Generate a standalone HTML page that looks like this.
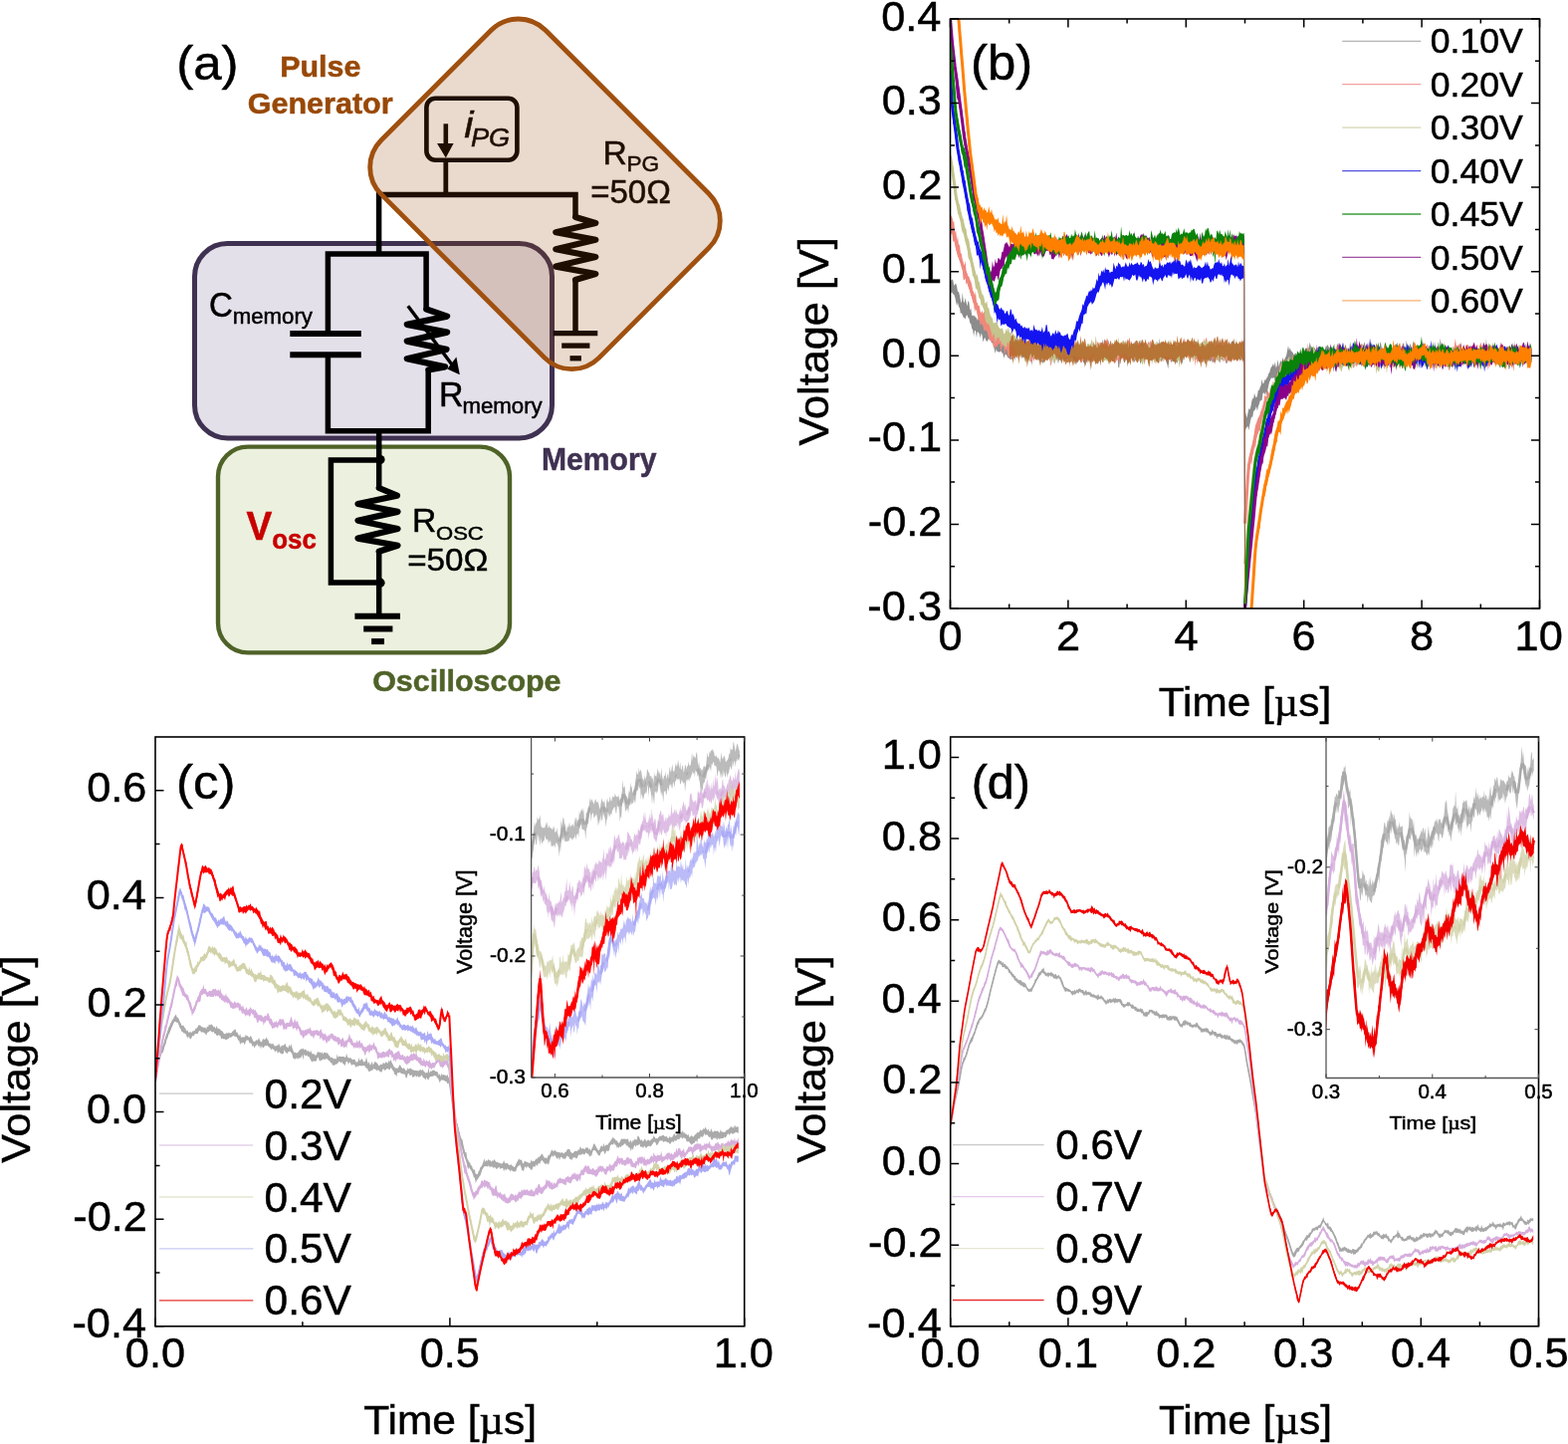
<!DOCTYPE html>
<html><head><meta charset="utf-8"><title>Figure</title>
<style>html,body{margin:0;padding:0;background:#fff;} svg{display:block;}</style>
</head><body>
<svg width="1575" height="1450" viewBox="0 0 1575 1450">
<rect width="1575" height="1450" fill="#fff"/>
<rect x="195.5" y="244.6" width="359" height="195.3" rx="33" ry="33" fill="#E4E0EA" stroke="#3F3151" stroke-width="5"/>
<rect x="219" y="448.6" width="293" height="206.8" rx="30" ry="30" fill="#EBF1DE" stroke="#4F6228" stroke-width="4.4"/>
<path d="M380.6,254.9 L380.6,195.5 L578,195.5 L578,218.5" fill="none" stroke="#000" stroke-width="5.5" stroke-linejoin="miter" stroke-linecap="butt"/>
<rect x="428.4" y="98.8" width="91" height="62" rx="9" ry="9" fill="none" stroke="#000" stroke-width="4.6"/>
<path d="M447.8,160 L447.8,195.5" fill="none" stroke="#000" stroke-width="4.8" stroke-linejoin="miter" stroke-linecap="butt"/>
<path d="M447.8,124.3 L447.8,146" fill="none" stroke="#000" stroke-width="4.6" stroke-linejoin="miter" stroke-linecap="butt"/>
<path d="M439,144.1 L455.6,144.1 L447.8,158.5 Z" fill="#000"/>
<polyline points="578,218 598.3,223.9 558.3,233.2 598.3,240.8 558.3,250.3 598.3,258 558.3,267.6 598.3,275 578,281" fill="none" stroke="#000" stroke-width="6.2" stroke-linejoin="round" stroke-linecap="round"/>
<path d="M578,280 L578,334.7" fill="none" stroke="#000" stroke-width="5.5" stroke-linejoin="miter" stroke-linecap="butt"/>
<path d="M555.7,334.7 L600.3,334.7" fill="none" stroke="#000" stroke-width="5.3" stroke-linejoin="miter" stroke-linecap="butt"/>
<path d="M564.2,347.1 L592.4,347.1" fill="none" stroke="#000" stroke-width="5.3" stroke-linejoin="miter" stroke-linecap="butt"/>
<path d="M572.5,359.8 L583.9,359.8" fill="none" stroke="#000" stroke-width="5.3" stroke-linejoin="miter" stroke-linecap="butt"/>
<path d="M329.4,334.9 L329.4,254.9 L428.1,254.9 L428.1,310.5" fill="none" stroke="#000" stroke-width="5.5" stroke-linejoin="miter" stroke-linecap="butt"/>
<path d="M329.4,356.2 L329.4,432.7 L430.2,432.7 L430.2,370.5" fill="none" stroke="#000" stroke-width="5.5" stroke-linejoin="miter" stroke-linecap="butt"/>
<path d="M291.3,334.9 L362.8,334.9" fill="none" stroke="#000" stroke-width="6" stroke-linejoin="miter" stroke-linecap="butt"/>
<path d="M291.3,356.2 L362.8,356.2" fill="none" stroke="#000" stroke-width="6" stroke-linejoin="miter" stroke-linecap="butt"/>
<polyline points="428.3,310.5 449.1,317.6 408.8,325.9 449.1,333.6 408.8,342.6 448.5,350.9 408.8,360.3 447,368.4 430.5,371.4" fill="none" stroke="#000" stroke-width="6.2" stroke-linejoin="round" stroke-linecap="round"/>
<path d="M409.8,307.2 L456.5,369.5" fill="none" stroke="#000" stroke-width="3.4" stroke-linejoin="miter" stroke-linecap="butt"/>
<path d="M461.8,376.2 L449.2,370.6 L458.4,358.6 Z" fill="#000"/>
<path d="M380.7,432.7 L380.7,490.5" fill="none" stroke="#000" stroke-width="5.5" stroke-linejoin="miter" stroke-linecap="butt"/>
<path d="M380.7,462 L332.4,462 L332.4,585 L380.7,585" fill="none" stroke="#000" stroke-width="5.5" stroke-linejoin="miter" stroke-linecap="butt"/>
<polyline points="380.7,490 398.9,497.7 359.5,506 399.5,513.9 359.5,522.7 399.5,531 359.5,540.6 399.5,547.7 380.7,553.8" fill="none" stroke="#000" stroke-width="6.2" stroke-linejoin="round" stroke-linecap="round"/>
<path d="M380.7,553 L380.7,618.8" fill="none" stroke="#000" stroke-width="5.5" stroke-linejoin="miter" stroke-linecap="butt"/>
<circle cx="382" cy="461.5" r="4.6" fill="#000"/>
<circle cx="382" cy="585.2" r="4.6" fill="#000"/>
<path d="M356.4,618.8 L402,618.8" fill="none" stroke="#000" stroke-width="6" stroke-linejoin="miter" stroke-linecap="butt"/>
<path d="M365.2,631.5 L394.4,631.5" fill="none" stroke="#000" stroke-width="6" stroke-linejoin="miter" stroke-linecap="butt"/>
<path d="M373.1,644.1 L386,644.1" fill="none" stroke="#000" stroke-width="6" stroke-linejoin="miter" stroke-linecap="butt"/>
<text transform="matrix(0.51091 0 0 0.48449 177.13 79.63)" font-family="'Liberation Sans', Arial, sans-serif" font-weight="normal" font-style="normal" font-size="100" fill="#000" stroke="#000" stroke-width="1.005">(a)</text>
<text transform="matrix(0.30448 0 0 0.30068 281.22 77.20)" font-family="'Liberation Sans', Arial, sans-serif" font-weight="bold" font-style="normal" font-size="100" fill="#984807" stroke="#984807" stroke-width="1.652">Pulse</text>
<text transform="matrix(0.30519 0 0 0.29718 248.78 113.50)" font-family="'Liberation Sans', Arial, sans-serif" font-weight="bold" font-style="normal" font-size="100" fill="#984807" stroke="#984807" stroke-width="1.660">Generator</text>
<text transform="matrix(0.41304 0 0 0.37793 466.28 137.60)" font-family="'Liberation Sans', Arial, sans-serif" font-weight="normal" font-style="italic" font-size="100" fill="#000" stroke="#000" stroke-width="1.264">i</text>
<text transform="matrix(0.27226 0 0 0.26620 472.88 146.73)" font-family="'Liberation Sans', Arial, sans-serif" font-weight="normal" font-style="italic" font-size="100" fill="#000" stroke="#000" stroke-width="1.857">PG</text>
<text transform="matrix(0.33613 0 0 0.33623 605.41 164.60)" font-family="'Liberation Sans', Arial, sans-serif" font-weight="normal" font-style="normal" font-size="100" fill="#000" stroke="#000" stroke-width="1.487">R</text>
<text transform="matrix(0.22636 0 0 0.21408 629.49 172.29)" font-family="'Liberation Sans', Arial, sans-serif" font-weight="normal" font-style="normal" font-size="100" fill="#000" stroke="#000" stroke-width="2.270">PG</text>
<text transform="matrix(0.33064 0 0 0.32676 593.15 203.67)" font-family="'Liberation Sans', Arial, sans-serif" font-weight="normal" font-style="normal" font-size="100" fill="#000" stroke="#000" stroke-width="1.521">=50Ω</text>
<text transform="matrix(0.33071 0 0 0.34789 209.95 317.65)" font-family="'Liberation Sans', Arial, sans-serif" font-weight="normal" font-style="normal" font-size="100" fill="#000" stroke="#000" stroke-width="1.474">C</text>
<text transform="matrix(0.22228 0 0 0.22533 233.66 324.87)" font-family="'Liberation Sans', Arial, sans-serif" font-weight="normal" font-style="normal" font-size="100" fill="#000" stroke="#000" stroke-width="2.234">memory</text>
<text transform="matrix(0.33950 0 0 0.34203 440.88 407.60)" font-family="'Liberation Sans', Arial, sans-serif" font-weight="normal" font-style="normal" font-size="100" fill="#000" stroke="#000" stroke-width="1.467">R</text>
<text transform="matrix(0.22228 0 0 0.22000 464.46 414.88)" font-family="'Liberation Sans', Arial, sans-serif" font-weight="normal" font-style="normal" font-size="100" fill="#000" stroke="#000" stroke-width="2.261">memory</text>
<text transform="matrix(0.30093 0 0 0.30667 544.04 472.26)" font-family="'Liberation Sans', Arial, sans-serif" font-weight="bold" font-style="normal" font-size="100" fill="#3F3151" stroke="#3F3151" stroke-width="1.646">Memory</text>
<text transform="matrix(0.38626 0 0 0.40725 247.41 541.70)" font-family="'Liberation Sans', Arial, sans-serif" font-weight="bold" font-style="normal" font-size="100" fill="#C80000" stroke="#C80000" stroke-width="1.260">V</text>
<text transform="matrix(0.25818 0 0 0.27091 273.27 551.43)" font-family="'Liberation Sans', Arial, sans-serif" font-weight="bold" font-style="normal" font-size="100" fill="#C80000" stroke="#C80000" stroke-width="1.890">osc</text>
<text transform="matrix(0.33613 0 0 0.32754 414.11 534.30)" font-family="'Liberation Sans', Arial, sans-serif" font-weight="normal" font-style="normal" font-size="100" fill="#000" stroke="#000" stroke-width="1.507">R</text>
<text transform="matrix(0.22062 0 0 0.19155 438.01 542.01)" font-family="'Liberation Sans', Arial, sans-serif" font-weight="normal" font-style="normal" font-size="100" fill="#000" stroke="#000" stroke-width="2.426">OSC</text>
<text transform="matrix(0.33234 0 0 0.32254 409.14 573.38)" font-family="'Liberation Sans', Arial, sans-serif" font-weight="normal" font-style="normal" font-size="100" fill="#000" stroke="#000" stroke-width="1.527">=50Ω</text>
<text transform="matrix(0.30423 0 0 0.29840 374.18 694.23)" font-family="'Liberation Sans', Arial, sans-serif" font-weight="bold" font-style="normal" font-size="100" fill="#4F6228" stroke="#4F6228" stroke-width="1.659">Oscilloscope</text>
<rect x="-154.6" y="-116.6" width="309.2" height="233.2" rx="38.5" ry="38.5" transform="translate(547.5 194.8) rotate(45)" fill="rgb(151,72,6)" fill-opacity="0.2" stroke="#A0500F" stroke-width="4.8"/>
<defs>
<clipPath id="cb"><rect x="954.5" y="19" width="592" height="592"/></clipPath>
<clipPath id="cc"><rect x="156" y="740" width="591.7" height="591.8"/></clipPath>
<clipPath id="cd"><rect x="954.7" y="740" width="590.8" height="591.8"/></clipPath>
<clipPath id="cci"><rect x="533.6" y="740.5" width="214.1" height="341.5"/></clipPath>
<clipPath id="cdi"><rect x="1332" y="740.6" width="213.5" height="341.9"/></clipPath>
</defs>
<g clip-path="url(#cb)">
<polygon points="954.5,281.7 955.4,281.6 956.4,280.6 957.3,281.5 958.3,287.0 959.2,285.4 960.2,284.7 961.1,287.5 962.0,292.9 963.0,292.7 963.9,296.5 964.9,302.1 965.8,304.7 966.8,293.8 967.7,302.2 968.6,304.6 969.6,299.1 970.5,303.3 971.5,307.5 972.4,302.0 973.4,303.6 974.3,311.7 975.2,309.2 976.2,317.0 977.1,316.5 978.1,317.8 979.0,316.6 980.0,319.2 980.9,319.0 981.8,321.8 982.8,319.0 983.7,321.6 984.7,320.0 985.6,319.8 986.6,317.8 987.5,322.0 988.4,324.0 989.4,327.6 990.3,329.3 991.3,329.6 992.2,326.6 993.2,328.3 994.1,330.7 995.0,331.3 996.0,330.0 996.9,328.8 997.9,336.4 998.8,329.9 999.8,337.6 1000.7,340.1 1001.6,341.1 1002.6,342.0 1003.5,333.9 1004.5,342.5 1005.4,340.9 1006.4,343.5 1007.3,339.3 1008.3,340.6 1009.2,337.9 1010.1,344.4 1011.1,344.3 1012.0,341.7 1013.0,344.3 1013.9,348.5 1014.9,346.8 1015.8,345.5 1016.7,345.0 1017.7,346.6 1018.6,346.2 1019.6,344.1 1020.5,343.7 1021.5,344.4 1022.4,339.6 1023.3,340.8 1024.3,343.7 1025.2,341.4 1026.2,340.5 1027.1,340.3 1028.1,346.4 1029.0,343.6 1029.9,344.6 1030.9,346.1 1031.8,346.8 1032.8,346.7 1033.7,338.9 1034.7,346.1 1035.6,345.1 1036.5,348.6 1037.5,341.4 1038.4,343.4 1039.4,343.9 1040.3,344.1 1041.3,341.8 1042.2,344.2 1043.1,348.4 1044.1,349.2 1045.0,349.8 1046.0,350.4 1046.9,346.7 1047.9,347.9 1048.8,347.0 1049.7,343.8 1050.7,344.7 1051.6,346.2 1052.6,344.1 1053.5,345.3 1054.5,348.7 1055.4,346.9 1056.3,342.9 1057.3,345.4 1058.2,344.8 1059.2,347.7 1060.1,343.5 1061.1,343.5 1062.0,346.6 1062.9,343.5 1063.9,345.0 1064.8,346.8 1065.8,348.0 1066.7,349.0 1067.7,344.8 1068.6,348.9 1069.5,347.7 1070.5,343.9 1071.4,348.0 1072.4,349.2 1073.3,347.8 1074.3,345.4 1075.2,340.3 1076.1,342.7 1077.1,343.6 1078.0,345.1 1079.0,343.0 1079.9,349.4 1080.9,348.7 1081.8,346.4 1082.7,348.9 1083.7,347.0 1084.6,347.4 1085.6,347.8 1086.5,348.1 1087.5,349.4 1088.4,347.9 1089.3,350.5 1090.3,348.4 1091.2,350.9 1092.2,348.4 1093.1,349.3 1094.1,347.0 1095.0,348.3 1095.9,344.3 1096.9,343.0 1097.8,349.5 1098.8,349.1 1099.7,346.0 1100.7,343.4 1101.6,349.7 1102.5,346.8 1103.5,348.4 1104.4,348.0 1105.4,347.2 1106.3,347.4 1107.3,340.5 1108.2,347.2 1109.2,340.2 1110.1,342.4 1111.0,342.3 1112.0,342.7 1112.9,341.2 1113.9,343.9 1114.8,347.1 1115.8,347.3 1116.7,347.5 1117.6,346.5 1118.6,347.9 1119.5,347.2 1120.5,348.4 1121.4,342.3 1122.4,344.2 1123.3,347.7 1124.2,346.9 1125.2,345.4 1126.1,349.2 1127.1,345.8 1128.0,346.6 1129.0,348.7 1129.9,349.0 1130.8,341.5 1131.8,346.5 1132.7,348.6 1133.7,342.4 1134.6,345.9 1135.6,346.8 1136.5,347.5 1137.4,345.7 1138.4,347.1 1139.3,342.8 1140.3,347.9 1141.2,347.6 1142.2,345.5 1143.1,347.2 1144.0,341.8 1145.0,344.1 1145.9,346.1 1146.9,342.0 1147.8,344.9 1148.8,346.1 1149.7,345.4 1150.6,342.2 1151.6,346.6 1152.5,345.9 1153.5,345.2 1154.4,344.3 1155.4,345.2 1156.3,342.3 1157.2,349.2 1158.2,342.1 1159.1,347.0 1160.1,349.2 1161.0,347.2 1162.0,349.8 1162.9,349.8 1163.8,347.8 1164.8,339.5 1165.7,349.9 1166.7,342.5 1167.6,347.5 1168.6,349.6 1169.5,349.5 1170.4,347.9 1171.4,345.3 1172.3,346.9 1173.3,346.8 1174.2,345.5 1175.2,347.4 1176.1,345.0 1177.0,347.1 1178.0,349.8 1178.9,349.7 1179.9,349.4 1180.8,349.5 1181.8,349.3 1182.7,347.6 1183.6,349.2 1184.6,344.4 1185.5,346.5 1186.5,346.4 1187.4,344.5 1188.4,347.1 1189.3,344.0 1190.2,346.7 1191.2,343.3 1192.1,346.4 1193.1,347.0 1194.0,342.7 1195.0,346.2 1195.9,347.1 1196.8,345.8 1197.8,348.0 1198.7,347.8 1199.7,345.1 1200.6,348.2 1201.6,347.7 1202.5,342.0 1203.4,347.8 1204.4,348.7 1205.3,350.3 1206.3,343.7 1207.2,350.3 1208.2,345.2 1209.1,346.7 1210.1,346.9 1211.0,348.8 1211.9,349.8 1212.9,345.3 1213.8,349.9 1214.8,341.9 1215.7,350.2 1216.7,347.0 1217.6,349.2 1218.5,342.8 1219.5,342.2 1220.4,348.3 1221.4,349.0 1222.3,348.5 1223.3,346.4 1224.2,350.0 1225.1,350.3 1226.1,344.2 1227.0,346.7 1228.0,348.7 1228.9,346.1 1229.9,347.4 1230.8,348.6 1231.7,349.0 1232.7,348.6 1233.6,347.0 1234.6,348.8 1235.5,349.2 1236.5,343.9 1237.4,343.3 1238.3,341.6 1239.3,344.0 1240.2,345.6 1241.2,348.8 1242.1,346.4 1243.1,349.2 1244.0,344.9 1244.9,350.0 1245.9,342.0 1246.8,348.2 1247.8,344.9 1248.7,343.2 1249.7,344.9 1249.7,363.3 1248.7,359.9 1247.8,357.3 1246.8,361.3 1245.9,361.3 1244.9,360.0 1244.0,361.2 1243.1,362.0 1242.1,360.6 1241.2,357.4 1240.2,360.4 1239.3,356.8 1238.3,357.1 1237.4,358.4 1236.5,358.6 1235.5,363.1 1234.6,362.4 1233.6,361.0 1232.7,364.8 1231.7,364.6 1230.8,363.1 1229.9,360.0 1228.9,362.3 1228.0,361.5 1227.0,360.9 1226.1,360.5 1225.1,364.8 1224.2,361.9 1223.3,358.9 1222.3,358.6 1221.4,358.6 1220.4,362.0 1219.5,364.5 1218.5,363.6 1217.6,360.9 1216.7,361.7 1215.7,363.4 1214.8,361.8 1213.8,359.8 1212.9,360.1 1211.9,359.3 1211.0,360.1 1210.1,360.1 1209.1,360.4 1208.2,359.8 1207.2,359.4 1206.3,360.8 1205.3,364.2 1204.4,362.5 1203.4,362.6 1202.5,360.3 1201.6,360.4 1200.6,361.2 1199.7,357.0 1198.7,357.3 1197.8,359.9 1196.8,356.1 1195.9,356.6 1195.0,357.0 1194.0,357.0 1193.1,355.6 1192.1,358.4 1191.2,358.9 1190.2,356.7 1189.3,356.9 1188.4,361.2 1187.4,366.1 1186.5,360.0 1185.5,357.6 1184.6,367.0 1183.6,359.3 1182.7,365.1 1181.8,363.1 1180.8,364.5 1179.9,364.0 1178.9,362.7 1178.0,361.5 1177.0,363.5 1176.1,363.5 1175.2,359.8 1174.2,361.5 1173.3,370.5 1172.3,365.4 1171.4,363.6 1170.4,359.7 1169.5,359.9 1168.6,359.3 1167.6,361.0 1166.7,363.8 1165.7,361.1 1164.8,362.9 1163.8,360.8 1162.9,359.4 1162.0,364.1 1161.0,360.5 1160.1,358.3 1159.1,359.9 1158.2,358.0 1157.2,362.7 1156.3,357.7 1155.4,360.8 1154.4,362.6 1153.5,356.7 1152.5,357.7 1151.6,356.5 1150.6,356.7 1149.7,356.4 1148.8,362.9 1147.8,356.3 1146.9,357.1 1145.9,366.0 1145.0,363.2 1144.0,358.6 1143.1,363.2 1142.2,360.9 1141.2,361.1 1140.3,361.9 1139.3,363.9 1138.4,360.9 1137.4,361.1 1136.5,357.0 1135.6,359.2 1134.6,362.3 1133.7,360.7 1132.7,368.5 1131.8,359.8 1130.8,359.1 1129.9,364.0 1129.0,364.1 1128.0,360.6 1127.1,359.0 1126.1,361.2 1125.2,357.9 1124.2,369.6 1123.3,368.5 1122.4,358.5 1121.4,359.4 1120.5,359.0 1119.5,364.4 1118.6,361.8 1117.6,363.1 1116.7,360.8 1115.8,359.8 1114.8,357.1 1113.9,359.3 1112.9,360.5 1112.0,355.5 1111.0,357.8 1110.1,355.5 1109.2,356.9 1108.2,361.7 1107.3,359.1 1106.3,357.8 1105.4,360.2 1104.4,363.0 1103.5,362.8 1102.5,360.0 1101.6,359.9 1100.7,367.1 1099.7,359.6 1098.8,359.8 1097.8,358.4 1096.9,358.7 1095.9,363.1 1095.0,363.9 1094.1,360.3 1093.1,361.3 1092.2,361.6 1091.2,364.3 1090.3,367.5 1089.3,364.3 1088.4,364.1 1087.5,361.9 1086.5,360.0 1085.6,357.9 1084.6,358.2 1083.7,359.6 1082.7,363.6 1081.8,363.8 1080.9,366.4 1079.9,363.0 1079.0,360.2 1078.0,362.4 1077.1,356.7 1076.1,357.7 1075.2,357.2 1074.3,357.0 1073.3,360.6 1072.4,358.7 1071.4,360.2 1070.5,361.7 1069.5,361.0 1068.6,361.9 1067.7,358.1 1066.7,358.7 1065.8,363.9 1064.8,358.3 1063.9,361.4 1062.9,365.2 1062.0,359.1 1061.1,357.8 1060.1,359.6 1059.2,366.1 1058.2,361.0 1057.3,360.1 1056.3,362.1 1055.4,358.6 1054.5,362.0 1053.5,360.5 1052.6,357.1 1051.6,356.6 1050.7,358.0 1049.7,360.5 1048.8,358.3 1047.9,364.9 1046.9,364.1 1046.0,362.9 1045.0,360.8 1044.1,360.4 1043.1,362.3 1042.2,360.2 1041.3,356.6 1040.3,356.1 1039.4,360.1 1038.4,360.5 1037.5,358.9 1036.5,367.3 1035.6,358.3 1034.7,359.4 1033.7,359.5 1032.8,357.2 1031.8,359.9 1030.9,361.3 1029.9,356.2 1029.0,359.8 1028.1,358.3 1027.1,359.7 1026.2,357.8 1025.2,359.4 1024.3,354.8 1023.3,361.8 1022.4,355.5 1021.5,354.3 1020.5,356.1 1019.6,362.6 1018.6,355.3 1017.7,363.6 1016.7,360.0 1015.8,360.4 1014.9,361.6 1013.9,359.5 1013.0,359.8 1012.0,358.6 1011.1,356.5 1010.1,355.7 1009.2,356.5 1008.3,359.9 1007.3,354.4 1006.4,354.4 1005.4,352.2 1004.5,353.2 1003.5,353.8 1002.6,352.9 1001.6,353.1 1000.7,350.3 999.8,354.9 998.8,351.1 997.9,347.0 996.9,344.1 996.0,345.0 995.0,340.3 994.1,341.8 993.2,339.7 992.2,341.9 991.3,343.0 990.3,341.7 989.4,338.9 988.4,340.4 987.5,343.8 986.6,337.1 985.6,334.5 984.7,339.6 983.7,335.2 982.8,333.8 981.8,333.1 980.9,338.9 980.0,332.2 979.0,331.7 978.1,337.7 977.1,330.9 976.2,330.0 975.2,325.1 974.3,324.4 973.4,319.8 972.4,319.1 971.5,316.2 970.5,317.2 969.6,320.4 968.6,318.9 967.7,318.8 966.8,316.6 965.8,314.0 964.9,315.3 963.9,309.0 963.0,307.9 962.0,302.9 961.1,307.3 960.2,302.9 959.2,298.3 958.3,295.7 957.3,295.2 956.4,293.5 955.4,293.8 954.5,296.7" fill="#8C8C8C"/>
<polygon points="1250.6,423.1 1251.5,413.7 1252.5,419.9 1253.4,414.9 1254.4,410.1 1255.3,411.5 1256.3,409.1 1257.2,403.4 1258.1,400.1 1259.1,400.5 1260.0,394.7 1261.0,398.3 1261.9,399.5 1262.9,397.4 1263.8,391.7 1264.7,392.0 1265.7,388.9 1266.6,386.9 1267.6,380.7 1268.5,385.6 1269.5,384.5 1270.4,381.2 1271.3,381.8 1272.3,379.4 1273.2,378.7 1274.2,375.0 1275.1,374.6 1276.1,370.5 1277.0,368.4 1277.9,367.5 1278.9,364.9 1279.8,368.1 1280.8,363.2 1281.7,369.4 1282.7,366.9 1283.6,360.7 1284.5,368.3 1285.5,364.6 1286.4,362.0 1287.4,363.9 1288.3,358.7 1289.3,362.8 1290.2,361.3 1291.1,358.9 1292.1,357.0 1293.0,352.2 1294.0,347.1 1294.9,352.0 1295.9,349.2 1296.8,352.6 1297.7,353.1 1298.7,354.2 1299.6,356.3 1300.6,355.2 1301.5,354.8 1302.5,355.3 1303.4,358.8 1304.4,356.3 1305.3,359.7 1306.2,354.4 1307.2,356.1 1308.1,355.2 1309.1,349.2 1310.0,352.0 1311.0,350.8 1311.9,349.2 1312.8,349.6 1313.8,350.8 1314.7,348.7 1315.7,343.7 1316.6,347.2 1317.6,351.2 1318.5,348.0 1319.4,351.7 1320.4,348.8 1321.3,350.6 1322.3,351.6 1323.2,348.9 1324.2,348.5 1325.1,347.3 1326.0,354.9 1327.0,351.7 1327.9,351.5 1328.9,353.2 1329.8,350.0 1330.8,351.3 1331.7,347.5 1332.6,347.8 1333.6,345.9 1334.5,348.3 1335.5,349.5 1336.4,347.5 1337.4,350.5 1338.3,353.7 1339.2,354.6 1340.2,344.5 1341.1,353.4 1342.1,354.3 1343.0,344.8 1344.0,347.1 1344.9,352.5 1345.8,348.8 1346.8,351.4 1347.7,349.1 1348.7,348.2 1349.6,343.8 1350.6,349.8 1351.5,345.4 1352.4,349.0 1353.4,351.5 1354.3,350.3 1355.3,350.5 1356.2,343.3 1357.2,349.2 1358.1,345.8 1359.0,349.5 1360.0,348.9 1360.9,350.0 1361.9,351.1 1362.8,346.4 1363.8,351.1 1364.7,350.3 1365.6,347.0 1366.6,351.3 1367.5,349.4 1368.5,346.1 1369.4,347.5 1370.4,343.1 1371.3,346.9 1372.2,349.6 1373.2,351.1 1374.1,351.3 1375.1,352.4 1376.0,351.0 1377.0,343.5 1377.9,347.1 1378.8,349.8 1379.8,347.7 1380.7,346.8 1381.7,348.2 1382.6,346.3 1383.6,345.7 1384.5,351.9 1385.4,351.5 1386.4,343.1 1387.3,345.8 1388.3,352.4 1389.2,351.6 1390.2,351.1 1391.1,351.2 1392.0,349.4 1393.0,352.0 1393.9,352.8 1394.9,352.4 1395.8,352.0 1396.8,354.8 1397.7,354.1 1398.6,352.9 1399.6,351.5 1400.5,350.7 1401.5,346.5 1402.4,345.8 1403.4,343.9 1404.3,346.8 1405.3,347.6 1406.2,351.5 1407.1,351.5 1408.1,351.0 1409.0,344.7 1410.0,344.7 1410.9,349.2 1411.9,349.3 1412.8,341.6 1413.7,347.9 1414.7,348.4 1415.6,347.5 1416.6,344.8 1417.5,350.0 1418.5,349.6 1419.4,342.0 1420.3,347.0 1421.3,344.2 1422.2,349.2 1423.2,349.1 1424.1,349.0 1425.1,348.4 1426.0,348.6 1426.9,347.5 1427.9,348.9 1428.8,342.1 1429.8,350.0 1430.7,351.0 1431.7,350.3 1432.6,347.7 1433.5,350.0 1434.5,352.0 1435.4,346.8 1436.4,346.9 1437.3,349.3 1438.3,348.0 1439.2,342.8 1440.1,350.3 1441.1,343.0 1442.0,348.9 1443.0,348.2 1443.9,348.9 1444.9,348.7 1445.8,350.1 1446.7,339.6 1447.7,346.3 1448.6,344.1 1449.6,347.8 1450.5,349.2 1451.5,347.4 1452.4,352.7 1453.3,348.1 1454.3,352.6 1455.2,351.8 1456.2,353.4 1457.1,350.0 1458.1,351.8 1459.0,350.9 1459.9,353.3 1460.9,351.8 1461.8,348.6 1462.8,352.0 1463.7,350.7 1464.7,354.7 1465.6,346.6 1466.5,344.7 1467.5,351.4 1468.4,350.8 1469.4,351.7 1470.3,349.6 1471.3,350.7 1472.2,348.8 1473.1,346.5 1474.1,349.5 1475.0,350.1 1476.0,346.5 1476.9,348.6 1477.9,350.8 1478.8,350.0 1479.7,346.9 1480.7,348.6 1481.6,351.2 1482.6,350.0 1483.5,350.2 1484.5,351.6 1485.4,354.4 1486.3,354.3 1487.3,351.1 1488.2,351.8 1489.2,350.7 1490.1,343.5 1491.1,351.7 1492.0,351.1 1492.9,340.1 1493.9,352.0 1494.8,352.6 1495.8,352.7 1496.7,352.8 1497.7,346.0 1498.6,348.5 1499.5,345.3 1500.5,349.5 1501.4,350.1 1502.4,350.0 1503.3,352.9 1504.3,353.3 1505.2,352.8 1506.2,354.9 1507.1,354.6 1508.0,352.3 1509.0,349.0 1509.9,350.2 1510.9,352.8 1511.8,348.1 1512.8,354.2 1513.7,355.1 1514.6,351.5 1515.6,353.4 1516.5,352.1 1517.5,355.0 1518.4,353.2 1519.4,344.1 1520.3,349.1 1521.2,352.2 1522.2,352.1 1523.1,348.7 1524.1,350.4 1525.0,350.4 1526.0,345.9 1526.9,349.5 1527.8,346.9 1528.8,347.5 1529.7,348.9 1530.7,350.5 1531.6,349.3 1532.6,345.3 1533.5,349.6 1534.4,346.4 1535.4,349.5 1536.3,344.0 1537.3,349.4 1538.2,348.2 1538.2,361.0 1537.3,362.2 1536.3,361.5 1535.4,359.3 1534.4,360.2 1533.5,361.8 1532.6,360.2 1531.6,363.5 1530.7,364.5 1529.7,361.2 1528.8,365.1 1527.8,361.9 1526.9,362.6 1526.0,362.4 1525.0,361.4 1524.1,361.3 1523.1,363.5 1522.2,361.0 1521.2,364.4 1520.3,364.6 1519.4,362.5 1518.4,370.5 1517.5,363.8 1516.5,370.1 1515.6,371.0 1514.6,365.3 1513.7,364.7 1512.8,363.2 1511.8,363.7 1510.9,366.0 1509.9,364.7 1509.0,364.1 1508.0,365.7 1507.1,369.4 1506.2,368.5 1505.2,364.1 1504.3,365.2 1503.3,365.6 1502.4,362.5 1501.4,359.4 1500.5,360.1 1499.5,364.0 1498.6,366.3 1497.7,366.2 1496.7,361.9 1495.8,364.8 1494.8,362.1 1493.9,361.2 1492.9,365.0 1492.0,361.6 1491.1,363.8 1490.1,361.6 1489.2,364.3 1488.2,367.4 1487.3,363.8 1486.3,370.9 1485.4,363.8 1484.5,364.9 1483.5,362.2 1482.6,362.3 1481.6,362.9 1480.7,363.3 1479.7,362.6 1478.8,361.3 1477.9,363.8 1476.9,363.1 1476.0,361.5 1475.0,359.3 1474.1,361.7 1473.1,364.8 1472.2,358.9 1471.3,364.3 1470.3,359.7 1469.4,366.2 1468.4,361.1 1467.5,361.8 1466.5,368.3 1465.6,363.0 1464.7,368.0 1463.7,364.5 1462.8,363.9 1461.8,362.8 1460.9,366.9 1459.9,368.5 1459.0,361.7 1458.1,364.9 1457.1,366.1 1456.2,366.0 1455.2,362.8 1454.3,364.3 1453.3,364.8 1452.4,361.3 1451.5,363.8 1450.5,362.6 1449.6,360.3 1448.6,359.3 1447.7,367.9 1446.7,365.8 1445.8,359.0 1444.9,362.8 1443.9,361.3 1443.0,361.2 1442.0,367.6 1441.1,363.3 1440.1,363.4 1439.2,364.4 1438.3,362.4 1437.3,359.5 1436.4,362.3 1435.4,360.9 1434.5,362.6 1433.5,364.7 1432.6,366.9 1431.7,362.2 1430.7,363.8 1429.8,360.4 1428.8,360.6 1427.9,361.0 1426.9,370.3 1426.0,357.6 1425.1,357.6 1424.1,359.5 1423.2,357.9 1422.2,359.2 1421.3,364.0 1420.3,359.0 1419.4,367.1 1418.5,360.4 1417.5,366.2 1416.6,364.4 1415.6,363.1 1414.7,361.1 1413.7,363.1 1412.8,359.6 1411.9,361.5 1410.9,361.2 1410.0,361.5 1409.0,362.3 1408.1,368.5 1407.1,365.5 1406.2,362.5 1405.3,360.5 1404.3,358.3 1403.4,363.1 1402.4,363.5 1401.5,358.3 1400.5,361.5 1399.6,363.0 1398.6,367.7 1397.7,363.8 1396.8,368.6 1395.8,368.9 1394.9,363.5 1393.9,365.8 1393.0,364.1 1392.0,361.6 1391.1,361.4 1390.2,363.8 1389.2,364.3 1388.3,362.6 1387.3,364.4 1386.4,362.3 1385.4,365.5 1384.5,361.2 1383.6,361.8 1382.6,362.8 1381.7,359.9 1380.7,362.1 1379.8,359.6 1378.8,361.4 1377.9,361.7 1377.0,361.1 1376.0,367.5 1375.1,363.8 1374.1,361.1 1373.2,360.4 1372.2,359.8 1371.3,358.9 1370.4,365.0 1369.4,356.6 1368.5,357.8 1367.5,358.8 1366.6,360.5 1365.6,360.7 1364.7,367.2 1363.8,360.8 1362.8,366.4 1361.9,364.0 1360.9,359.2 1360.0,359.0 1359.0,359.1 1358.1,362.1 1357.2,360.7 1356.2,367.0 1355.3,362.7 1354.3,365.4 1353.4,362.5 1352.4,363.2 1351.5,366.2 1350.6,364.0 1349.6,362.8 1348.7,368.6 1347.7,369.7 1346.8,360.9 1345.8,364.1 1344.9,368.8 1344.0,367.9 1343.0,369.5 1342.1,368.0 1341.1,364.0 1340.2,368.8 1339.2,373.7 1338.3,363.0 1337.4,363.1 1336.4,368.4 1335.5,364.7 1334.5,361.1 1333.6,366.6 1332.6,365.0 1331.7,364.5 1330.8,361.8 1329.8,365.0 1328.9,364.9 1327.9,365.3 1327.0,370.5 1326.0,364.5 1325.1,364.2 1324.2,368.0 1323.2,366.3 1322.3,364.9 1321.3,364.8 1320.4,360.9 1319.4,360.7 1318.5,366.4 1317.6,364.4 1316.6,366.8 1315.7,360.4 1314.7,359.7 1313.8,364.6 1312.8,361.0 1311.9,360.1 1311.0,360.4 1310.0,366.6 1309.1,366.8 1308.1,365.0 1307.2,368.5 1306.2,367.2 1305.3,373.5 1304.4,368.4 1303.4,369.1 1302.5,367.1 1301.5,372.5 1300.6,366.0 1299.6,367.5 1298.7,364.7 1297.7,366.1 1296.8,370.8 1295.9,361.8 1294.9,363.5 1294.0,363.0 1293.0,366.7 1292.1,373.4 1291.1,372.4 1290.2,377.1 1289.3,375.9 1288.3,381.6 1287.4,380.8 1286.4,376.7 1285.5,379.0 1284.5,379.2 1283.6,384.9 1282.7,378.4 1281.7,378.1 1280.8,383.9 1279.8,378.9 1278.9,379.6 1277.9,380.0 1277.0,379.0 1276.1,381.1 1275.1,383.2 1274.2,387.5 1273.2,391.9 1272.3,399.0 1271.3,393.2 1270.4,396.6 1269.5,394.3 1268.5,395.0 1267.6,401.8 1266.6,402.3 1265.7,402.6 1264.7,406.1 1263.8,408.6 1262.9,412.8 1261.9,407.9 1261.0,411.0 1260.0,412.3 1259.1,413.0 1258.1,419.8 1257.2,418.1 1256.3,421.4 1255.3,426.5 1254.4,432.2 1253.4,427.7 1252.5,429.1 1251.5,430.3 1250.6,434.5" fill="#8C8C8C"/>
<line x1="1249.7" y1="351.8" x2="1250.6" y2="427.6" stroke="#8C8C8C" stroke-width="1" stroke-opacity="0.45"/>
<path d="M958.3,291.5 L959.2,293.0 L960.2,294.7 L961.1,296.5 L962.0,298.7 L963.0,301.3 L963.9,304.2 L964.9,307.1 L965.8,309.4 M972.4,312.9 L973.4,314.5 L974.3,316.6 L975.2,319.0 L976.2,321.5 L977.1,323.9 L978.1,325.8 M996.0,337.6 L996.9,339.1 L997.9,340.9 L998.8,342.8 L999.8,344.6 L1000.7,346.2 M1251.5,426.1 L1252.5,424.5 L1253.4,422.5 L1254.4,420.0 L1255.3,417.3 L1256.3,414.5 L1257.2,411.7 L1258.1,409.3 L1259.1,407.5 M1262.9,402.4 L1263.8,400.6 L1264.7,398.3 L1265.7,395.6 L1266.6,393.0 L1267.6,391.0 M1272.3,385.2 L1273.2,383.6 L1274.2,381.4 L1275.1,378.9 L1276.1,376.6 L1277.0,374.6 M1289.3,368.6 L1290.2,366.7 L1291.1,364.2 L1292.1,361.5 L1293.0,359.7" fill="none" stroke="#8C8C8C" stroke-width="3.0" stroke-linejoin="round"/>
<path d="M1307.2,361.7 L1308.1,359.9 L1309.1,358.0 M1398.6,358.4 L1399.6,356.7 L1400.5,355.0 M1404.3,353.8 L1405.3,355.4 L1406.2,356.9" fill="none" stroke="#8C8C8C" stroke-width="1.3" stroke-linejoin="round"/>
<polygon points="954.5,214.2 955.4,217.1 956.4,218.2 957.3,222.6 958.3,222.8 959.2,234.2 960.2,231.5 961.1,242.2 962.0,237.1 963.0,246.7 963.9,245.1 964.9,254.5 965.8,254.6 966.8,261.5 967.7,264.8 968.6,266.9 969.6,261.7 970.5,271.8 971.5,274.5 972.4,277.6 973.4,277.7 974.3,281.0 975.2,282.5 976.2,286.3 977.1,292.2 978.1,293.1 979.0,297.1 980.0,292.6 980.9,303.6 981.8,304.3 982.8,307.0 983.7,306.9 984.7,312.7 985.6,314.6 986.6,311.4 987.5,315.3 988.4,312.2 989.4,314.9 990.3,318.3 991.3,320.6 992.2,323.7 993.2,322.1 994.1,325.3 995.0,326.3 996.0,331.7 996.9,329.6 997.9,333.7 998.8,335.2 999.8,336.7 1000.7,335.5 1001.6,336.1 1002.6,331.6 1003.5,332.7 1004.5,335.4 1005.4,333.6 1006.4,332.1 1007.3,336.9 1008.3,336.3 1009.2,339.8 1010.1,340.1 1011.1,335.0 1012.0,338.4 1013.0,340.3 1013.9,344.8 1014.9,335.7 1015.8,342.8 1016.7,345.2 1017.7,342.3 1018.6,345.9 1019.6,346.5 1020.5,344.5 1021.5,341.7 1022.4,344.8 1023.3,345.3 1024.3,344.6 1025.2,340.6 1026.2,341.0 1027.1,343.7 1028.1,341.9 1029.0,343.2 1029.9,340.9 1030.9,343.5 1031.8,341.5 1032.8,343.8 1033.7,336.8 1034.7,346.6 1035.6,345.6 1036.5,346.1 1037.5,349.5 1038.4,347.5 1039.4,344.4 1040.3,348.4 1041.3,342.9 1042.2,343.1 1043.1,347.2 1044.1,348.3 1045.0,348.4 1046.0,348.8 1046.9,342.1 1047.9,347.3 1048.8,344.2 1049.7,346.1 1050.7,340.0 1051.6,347.8 1052.6,346.5 1053.5,347.9 1054.5,338.7 1055.4,349.5 1056.3,346.8 1057.3,344.2 1058.2,345.5 1059.2,348.0 1060.1,343.0 1061.1,343.4 1062.0,344.5 1062.9,344.9 1063.9,344.8 1064.8,342.5 1065.8,343.4 1066.7,347.0 1067.7,344.7 1068.6,346.8 1069.5,349.4 1070.5,348.4 1071.4,349.8 1072.4,346.8 1073.3,347.1 1074.3,347.4 1075.2,342.9 1076.1,338.6 1077.1,345.7 1078.0,341.7 1079.0,341.0 1079.9,345.2 1080.9,347.8 1081.8,348.1 1082.7,350.6 1083.7,346.0 1084.6,350.9 1085.6,348.9 1086.5,349.8 1087.5,346.7 1088.4,346.0 1089.3,346.2 1090.3,348.9 1091.2,349.5 1092.2,347.5 1093.1,351.0 1094.1,347.1 1095.0,347.7 1095.9,349.9 1096.9,345.0 1097.8,346.8 1098.8,342.6 1099.7,348.1 1100.7,346.3 1101.6,345.2 1102.5,342.4 1103.5,347.3 1104.4,344.6 1105.4,342.9 1106.3,348.5 1107.3,345.4 1108.2,345.7 1109.2,341.4 1110.1,344.0 1111.0,343.5 1112.0,339.2 1112.9,341.7 1113.9,346.3 1114.8,345.3 1115.8,344.8 1116.7,348.1 1117.6,346.9 1118.6,347.8 1119.5,351.4 1120.5,351.6 1121.4,345.6 1122.4,350.6 1123.3,346.8 1124.2,351.4 1125.2,345.0 1126.1,342.4 1127.1,348.2 1128.0,348.9 1129.0,348.8 1129.9,343.0 1130.8,345.1 1131.8,346.8 1132.7,341.2 1133.7,341.9 1134.6,338.8 1135.6,344.7 1136.5,347.5 1137.4,345.1 1138.4,348.7 1139.3,347.5 1140.3,346.1 1141.2,347.6 1142.2,347.2 1143.1,345.0 1144.0,344.1 1145.0,346.1 1145.9,348.6 1146.9,349.1 1147.8,345.3 1148.8,347.5 1149.7,345.2 1150.6,347.7 1151.6,343.8 1152.5,345.7 1153.5,342.7 1154.4,344.7 1155.4,341.5 1156.3,346.1 1157.2,348.5 1158.2,343.8 1159.1,350.6 1160.1,348.5 1161.0,349.8 1162.0,347.7 1162.9,348.5 1163.8,347.9 1164.8,346.3 1165.7,344.5 1166.7,346.1 1167.6,344.5 1168.6,342.3 1169.5,343.7 1170.4,345.6 1171.4,348.0 1172.3,343.7 1173.3,350.0 1174.2,346.7 1175.2,343.7 1176.1,344.2 1177.0,346.5 1178.0,346.3 1178.9,344.3 1179.9,343.5 1180.8,348.0 1181.8,348.9 1182.7,348.5 1183.6,347.4 1184.6,344.9 1185.5,347.8 1186.5,346.8 1187.4,347.0 1188.4,341.8 1189.3,339.5 1190.2,342.4 1191.2,344.8 1192.1,342.0 1193.1,345.0 1194.0,343.5 1195.0,343.4 1195.9,342.1 1196.8,344.5 1197.8,341.2 1198.7,346.1 1199.7,346.6 1200.6,347.1 1201.6,343.2 1202.5,347.9 1203.4,346.5 1204.4,347.5 1205.3,349.8 1206.3,347.7 1207.2,349.4 1208.2,347.7 1209.1,339.0 1210.1,346.8 1211.0,340.4 1211.9,338.7 1212.9,344.3 1213.8,346.7 1214.8,344.7 1215.7,349.5 1216.7,349.5 1217.6,347.7 1218.5,346.4 1219.5,349.6 1220.4,347.8 1221.4,347.6 1222.3,345.6 1223.3,346.3 1224.2,344.1 1225.1,348.2 1226.1,340.1 1227.0,346.5 1228.0,348.3 1228.9,348.2 1229.9,348.2 1230.8,347.9 1231.7,345.2 1232.7,343.9 1233.6,348.5 1234.6,345.0 1235.5,344.9 1236.5,347.5 1237.4,347.4 1238.3,350.1 1239.3,349.0 1240.2,348.4 1241.2,347.2 1242.1,344.3 1243.1,345.9 1244.0,348.2 1244.9,349.2 1245.9,344.4 1246.8,342.5 1247.8,344.4 1248.7,345.8 1249.7,343.5 1249.7,367.6 1248.7,363.7 1247.8,360.3 1246.8,359.5 1245.9,359.9 1244.9,358.6 1244.0,360.8 1243.1,360.3 1242.1,359.0 1241.2,362.1 1240.2,360.5 1239.3,359.5 1238.3,361.6 1237.4,362.5 1236.5,359.5 1235.5,363.0 1234.6,358.5 1233.6,359.2 1232.7,361.6 1231.7,365.5 1230.8,361.4 1229.9,359.2 1228.9,363.3 1228.0,360.7 1227.0,360.1 1226.1,359.5 1225.1,359.8 1224.2,362.4 1223.3,359.7 1222.3,362.3 1221.4,359.6 1220.4,364.0 1219.5,361.8 1218.5,358.9 1217.6,365.3 1216.7,359.8 1215.7,359.6 1214.8,360.8 1213.8,356.4 1212.9,355.2 1211.9,355.6 1211.0,358.2 1210.1,355.7 1209.1,358.4 1208.2,360.5 1207.2,358.9 1206.3,361.6 1205.3,363.8 1204.4,359.6 1203.4,361.7 1202.5,365.6 1201.6,358.2 1200.6,367.9 1199.7,357.2 1198.7,360.7 1197.8,361.3 1196.8,355.9 1195.9,361.0 1195.0,356.5 1194.0,358.1 1193.1,360.2 1192.1,356.9 1191.2,355.8 1190.2,354.9 1189.3,359.8 1188.4,355.3 1187.4,359.2 1186.5,358.1 1185.5,356.2 1184.6,360.2 1183.6,361.9 1182.7,361.1 1181.8,359.5 1180.8,357.5 1179.9,357.7 1178.9,356.3 1178.0,356.7 1177.0,364.3 1176.1,360.0 1175.2,362.2 1174.2,359.1 1173.3,358.9 1172.3,362.4 1171.4,360.1 1170.4,356.2 1169.5,361.5 1168.6,363.4 1167.6,355.6 1166.7,356.6 1165.7,357.4 1164.8,362.7 1163.8,360.5 1162.9,359.5 1162.0,359.6 1161.0,366.4 1160.1,361.2 1159.1,359.8 1158.2,361.6 1157.2,357.7 1156.3,357.1 1155.4,358.5 1154.4,360.7 1153.5,357.7 1152.5,362.0 1151.6,358.5 1150.6,358.3 1149.7,358.7 1148.8,361.0 1147.8,363.7 1146.9,360.1 1145.9,361.7 1145.0,360.1 1144.0,362.5 1143.1,360.9 1142.2,357.7 1141.2,362.3 1140.3,356.6 1139.3,363.3 1138.4,357.2 1137.4,358.6 1136.5,360.1 1135.6,356.7 1134.6,357.9 1133.7,364.0 1132.7,359.0 1131.8,362.7 1130.8,359.9 1129.9,360.5 1129.0,361.3 1128.0,360.5 1127.1,358.9 1126.1,361.0 1125.2,366.1 1124.2,362.0 1123.3,360.5 1122.4,361.2 1121.4,362.2 1120.5,364.6 1119.5,363.6 1118.6,363.4 1117.6,361.7 1116.7,361.7 1115.8,360.7 1114.8,358.4 1113.9,359.7 1112.9,360.3 1112.0,355.7 1111.0,357.8 1110.1,358.6 1109.2,354.6 1108.2,357.1 1107.3,358.0 1106.3,357.4 1105.4,363.3 1104.4,357.0 1103.5,357.2 1102.5,364.7 1101.6,359.3 1100.7,360.9 1099.7,360.7 1098.8,358.5 1097.8,358.6 1096.9,363.4 1095.9,360.4 1095.0,359.5 1094.1,360.8 1093.1,360.1 1092.2,365.0 1091.2,360.2 1090.3,361.3 1089.3,359.8 1088.4,362.1 1087.5,361.5 1086.5,365.1 1085.6,361.6 1084.6,361.3 1083.7,360.4 1082.7,364.7 1081.8,360.0 1080.9,361.1 1079.9,359.5 1079.0,357.8 1078.0,356.4 1077.1,356.4 1076.1,357.9 1075.2,357.2 1074.3,369.0 1073.3,358.4 1072.4,359.5 1071.4,360.1 1070.5,358.8 1069.5,361.2 1068.6,358.5 1067.7,357.6 1066.7,358.0 1065.8,359.4 1064.8,358.2 1063.9,357.7 1062.9,356.2 1062.0,356.1 1061.1,360.0 1060.1,358.9 1059.2,362.9 1058.2,357.9 1057.3,358.5 1056.3,364.8 1055.4,368.1 1054.5,361.5 1053.5,359.6 1052.6,359.7 1051.6,357.7 1050.7,361.9 1049.7,359.2 1048.8,363.6 1047.9,362.4 1046.9,359.7 1046.0,363.5 1045.0,358.1 1044.1,356.8 1043.1,357.8 1042.2,361.8 1041.3,356.6 1040.3,359.1 1039.4,358.0 1038.4,363.4 1037.5,358.4 1036.5,362.9 1035.6,363.4 1034.7,363.0 1033.7,359.7 1032.8,357.3 1031.8,361.0 1030.9,355.6 1029.9,353.5 1029.0,354.3 1028.1,353.2 1027.1,352.8 1026.2,360.5 1025.2,356.6 1024.3,356.2 1023.3,354.9 1022.4,356.1 1021.5,355.4 1020.5,359.1 1019.6,357.4 1018.6,360.3 1017.7,357.8 1016.7,361.3 1015.8,360.7 1014.9,355.7 1013.9,357.1 1013.0,360.0 1012.0,354.5 1011.1,350.7 1010.1,351.1 1009.2,358.5 1008.3,347.0 1007.3,347.2 1006.4,348.4 1005.4,353.6 1004.5,345.9 1003.5,344.8 1002.6,345.5 1001.6,348.8 1000.7,346.6 999.8,350.5 998.8,347.0 997.9,349.8 996.9,342.2 996.0,343.1 995.0,342.3 994.1,341.5 993.2,339.8 992.2,335.4 991.3,332.3 990.3,332.3 989.4,331.0 988.4,332.7 987.5,327.8 986.6,326.0 985.6,324.4 984.7,327.3 983.7,321.5 982.8,321.2 981.8,316.8 980.9,312.0 980.0,309.3 979.0,313.4 978.1,305.3 977.1,303.5 976.2,298.0 975.2,296.7 974.3,292.4 973.4,289.9 972.4,287.8 971.5,284.0 970.5,285.8 969.6,279.3 968.6,281.2 967.7,281.1 966.8,271.7 965.8,268.5 964.9,264.8 963.9,262.3 963.0,258.9 962.0,257.8 961.1,253.4 960.2,250.7 959.2,244.9 958.3,241.3 957.3,243.3 956.4,235.1 955.4,235.5 954.5,231.4" fill="#F0887C"/>
<polygon points="1250.6,518.0 1251.5,499.6 1252.5,487.5 1253.4,474.7 1254.4,460.4 1255.3,455.7 1256.3,453.3 1257.2,449.3 1258.1,445.8 1259.1,440.2 1260.0,433.3 1261.0,427.2 1261.9,424.9 1262.9,422.1 1263.8,419.5 1264.7,418.3 1265.7,415.7 1266.6,412.4 1267.6,410.5 1268.5,407.4 1269.5,403.2 1270.4,396.2 1271.3,398.1 1272.3,398.3 1273.2,391.5 1274.2,394.5 1275.1,394.4 1276.1,387.8 1277.0,391.6 1277.9,388.0 1278.9,382.2 1279.8,385.4 1280.8,382.0 1281.7,380.9 1282.7,374.8 1283.6,374.3 1284.5,376.0 1285.5,368.0 1286.4,364.9 1287.4,368.8 1288.3,364.7 1289.3,361.6 1290.2,360.1 1291.1,365.6 1292.1,365.2 1293.0,364.8 1294.0,361.0 1294.9,362.8 1295.9,363.8 1296.8,362.7 1297.7,361.2 1298.7,355.7 1299.6,360.9 1300.6,359.5 1301.5,361.4 1302.5,362.6 1303.4,363.7 1304.4,356.7 1305.3,358.8 1306.2,361.3 1307.2,361.0 1308.1,356.7 1309.1,358.7 1310.0,357.9 1311.0,352.9 1311.9,354.7 1312.8,355.8 1313.8,344.3 1314.7,354.0 1315.7,350.1 1316.6,353.5 1317.6,353.5 1318.5,347.7 1319.4,352.7 1320.4,351.7 1321.3,352.7 1322.3,350.0 1323.2,353.7 1324.2,353.9 1325.1,352.3 1326.0,347.7 1327.0,350.7 1327.9,350.6 1328.9,350.9 1329.8,351.4 1330.8,353.6 1331.7,351.1 1332.6,355.6 1333.6,354.0 1334.5,354.7 1335.5,355.7 1336.4,350.4 1337.4,352.9 1338.3,353.2 1339.2,351.1 1340.2,353.9 1341.1,351.6 1342.1,347.9 1343.0,350.7 1344.0,347.0 1344.9,344.1 1345.8,346.4 1346.8,348.9 1347.7,348.6 1348.7,349.0 1349.6,351.2 1350.6,352.3 1351.5,348.3 1352.4,356.5 1353.4,356.6 1354.3,356.6 1355.3,355.0 1356.2,348.4 1357.2,353.4 1358.1,351.7 1359.0,352.6 1360.0,352.6 1360.9,353.3 1361.9,352.6 1362.8,352.7 1363.8,350.0 1364.7,349.1 1365.6,350.7 1366.6,349.5 1367.5,344.4 1368.5,346.9 1369.4,350.9 1370.4,350.1 1371.3,350.3 1372.2,346.9 1373.2,350.3 1374.1,344.0 1375.1,348.7 1376.0,342.6 1377.0,349.9 1377.9,351.5 1378.8,351.3 1379.8,350.4 1380.7,353.0 1381.7,350.8 1382.6,350.7 1383.6,352.2 1384.5,350.7 1385.4,350.1 1386.4,351.9 1387.3,354.0 1388.3,348.4 1389.2,349.2 1390.2,352.6 1391.1,349.2 1392.0,354.6 1393.0,352.1 1393.9,349.6 1394.9,352.7 1395.8,350.1 1396.8,349.9 1397.7,352.2 1398.6,351.5 1399.6,352.0 1400.5,353.0 1401.5,350.7 1402.4,354.0 1403.4,353.6 1404.3,351.9 1405.3,351.3 1406.2,352.9 1407.1,354.7 1408.1,352.0 1409.0,354.0 1410.0,347.7 1410.9,350.4 1411.9,354.0 1412.8,353.7 1413.7,354.0 1414.7,347.2 1415.6,352.0 1416.6,353.8 1417.5,346.7 1418.5,350.4 1419.4,350.2 1420.3,351.4 1421.3,345.9 1422.2,352.5 1423.2,352.5 1424.1,351.9 1425.1,354.0 1426.0,347.3 1426.9,354.1 1427.9,354.7 1428.8,354.4 1429.8,352.5 1430.7,350.2 1431.7,351.7 1432.6,349.2 1433.5,345.5 1434.5,347.4 1435.4,352.4 1436.4,346.3 1437.3,353.0 1438.3,349.5 1439.2,353.1 1440.1,349.3 1441.1,351.5 1442.0,353.2 1443.0,348.0 1443.9,348.7 1444.9,354.2 1445.8,350.1 1446.7,356.3 1447.7,352.5 1448.6,350.9 1449.6,355.4 1450.5,354.1 1451.5,354.1 1452.4,349.8 1453.3,358.1 1454.3,356.7 1455.2,357.4 1456.2,351.7 1457.1,351.5 1458.1,353.2 1459.0,350.1 1459.9,350.0 1460.9,346.9 1461.8,339.7 1462.8,346.9 1463.7,347.1 1464.7,347.0 1465.6,345.1 1466.5,350.5 1467.5,342.7 1468.4,350.2 1469.4,351.8 1470.3,347.8 1471.3,351.6 1472.2,347.2 1473.1,346.1 1474.1,346.3 1475.0,346.5 1476.0,350.4 1476.9,349.4 1477.9,350.5 1478.8,347.2 1479.7,346.1 1480.7,345.8 1481.6,352.1 1482.6,347.5 1483.5,345.8 1484.5,349.8 1485.4,350.7 1486.3,350.7 1487.3,343.6 1488.2,346.8 1489.2,348.0 1490.1,353.1 1491.1,353.8 1492.0,351.4 1492.9,355.8 1493.9,356.8 1494.8,353.9 1495.8,350.3 1496.7,348.4 1497.7,351.9 1498.6,352.1 1499.5,352.0 1500.5,347.5 1501.4,352.5 1502.4,351.3 1503.3,352.5 1504.3,351.3 1505.2,351.7 1506.2,350.5 1507.1,343.3 1508.0,349.2 1509.0,350.3 1509.9,352.0 1510.9,348.5 1511.8,349.2 1512.8,354.2 1513.7,352.7 1514.6,355.3 1515.6,353.8 1516.5,356.2 1517.5,355.3 1518.4,354.4 1519.4,349.9 1520.3,352.7 1521.2,354.1 1522.2,351.0 1523.1,352.9 1524.1,347.3 1525.0,352.3 1526.0,349.7 1526.9,350.9 1527.8,352.5 1528.8,351.4 1529.7,353.7 1530.7,350.0 1531.6,352.8 1532.6,353.7 1533.5,351.0 1534.4,348.1 1535.4,353.5 1536.3,349.5 1537.3,352.2 1538.2,353.7 1538.2,364.5 1537.3,366.6 1536.3,362.4 1535.4,364.8 1534.4,367.2 1533.5,363.1 1532.6,364.4 1531.6,364.4 1530.7,366.3 1529.7,364.8 1528.8,366.3 1527.8,362.2 1526.9,364.1 1526.0,362.4 1525.0,366.6 1524.1,362.8 1523.1,364.4 1522.2,366.2 1521.2,366.1 1520.3,373.0 1519.4,367.5 1518.4,366.8 1517.5,365.0 1516.5,367.8 1515.6,364.2 1514.6,364.4 1513.7,363.7 1512.8,371.0 1511.8,365.5 1510.9,366.4 1509.9,365.2 1509.0,365.0 1508.0,361.4 1507.1,363.2 1506.2,367.7 1505.2,364.8 1504.3,361.8 1503.3,366.2 1502.4,362.7 1501.4,364.7 1500.5,364.2 1499.5,362.9 1498.6,365.1 1497.7,363.2 1496.7,368.5 1495.8,366.8 1494.8,371.4 1493.9,366.1 1492.9,367.7 1492.0,365.9 1491.1,364.0 1490.1,363.3 1489.2,365.3 1488.2,363.0 1487.3,359.4 1486.3,360.2 1485.4,364.6 1484.5,362.4 1483.5,362.2 1482.6,364.1 1481.6,363.7 1480.7,364.5 1479.7,361.9 1478.8,365.8 1477.9,369.7 1476.9,361.7 1476.0,361.8 1475.0,360.4 1474.1,358.8 1473.1,361.4 1472.2,359.8 1471.3,362.1 1470.3,365.3 1469.4,367.7 1468.4,361.9 1467.5,367.9 1466.5,360.5 1465.6,360.2 1464.7,361.2 1463.7,362.5 1462.8,365.2 1461.8,366.2 1460.9,361.9 1459.9,358.5 1459.0,359.7 1458.1,363.4 1457.1,367.9 1456.2,371.1 1455.2,371.9 1454.3,366.7 1453.3,368.9 1452.4,367.1 1451.5,365.9 1450.5,367.3 1449.6,366.9 1448.6,372.5 1447.7,365.8 1446.7,369.3 1445.8,369.1 1444.9,365.7 1443.9,365.4 1443.0,363.4 1442.0,367.4 1441.1,370.4 1440.1,362.5 1439.2,364.8 1438.3,367.9 1437.3,362.4 1436.4,369.0 1435.4,365.6 1434.5,361.8 1433.5,364.5 1432.6,360.3 1431.7,360.9 1430.7,363.1 1429.8,366.6 1428.8,364.4 1427.9,363.6 1426.9,363.7 1426.0,367.5 1425.1,364.5 1424.1,369.4 1423.2,366.5 1422.2,363.5 1421.3,363.6 1420.3,361.5 1419.4,364.6 1418.5,361.7 1417.5,368.2 1416.6,362.7 1415.6,365.5 1414.7,365.5 1413.7,365.4 1412.8,368.0 1411.9,363.4 1410.9,365.4 1410.0,365.3 1409.0,370.3 1408.1,369.6 1407.1,365.1 1406.2,370.8 1405.3,368.2 1404.3,364.9 1403.4,364.1 1402.4,372.4 1401.5,366.9 1400.5,362.2 1399.6,369.9 1398.6,366.1 1397.7,362.4 1396.8,367.6 1395.8,363.4 1394.9,363.8 1393.9,363.5 1393.0,366.0 1392.0,367.1 1391.1,370.0 1390.2,370.6 1389.2,364.7 1388.3,368.8 1387.3,369.1 1386.4,363.6 1385.4,360.9 1384.5,362.9 1383.6,364.9 1382.6,363.8 1381.7,363.8 1380.7,369.9 1379.8,364.5 1378.8,361.9 1377.9,362.9 1377.0,362.2 1376.0,360.7 1375.1,363.9 1374.1,360.9 1373.2,363.1 1372.2,359.7 1371.3,361.2 1370.4,363.3 1369.4,367.5 1368.5,364.0 1367.5,361.6 1366.6,361.8 1365.6,366.3 1364.7,363.2 1363.8,365.9 1362.8,368.5 1361.9,366.4 1360.9,366.0 1360.0,370.1 1359.0,368.8 1358.1,362.2 1357.2,367.2 1356.2,368.1 1355.3,365.7 1354.3,366.6 1353.4,365.8 1352.4,367.4 1351.5,364.2 1350.6,363.2 1349.6,364.8 1348.7,363.2 1347.7,358.9 1346.8,362.7 1345.8,359.5 1344.9,359.5 1344.0,362.3 1343.0,363.2 1342.1,362.6 1341.1,369.6 1340.2,363.1 1339.2,365.6 1338.3,368.4 1337.4,369.9 1336.4,368.9 1335.5,365.3 1334.5,370.1 1333.6,365.7 1332.6,367.0 1331.7,366.2 1330.8,364.6 1329.8,362.2 1328.9,364.2 1327.9,364.4 1327.0,363.3 1326.0,369.7 1325.1,364.8 1324.2,365.4 1323.2,363.8 1322.3,368.1 1321.3,362.4 1320.4,369.7 1319.4,365.4 1318.5,363.3 1317.6,365.9 1316.6,366.3 1315.7,364.4 1314.7,366.8 1313.8,365.0 1312.8,365.8 1311.9,365.3 1311.0,368.7 1310.0,368.0 1309.1,368.8 1308.1,369.9 1307.2,379.3 1306.2,380.5 1305.3,379.3 1304.4,376.4 1303.4,374.1 1302.5,376.4 1301.5,374.5 1300.6,377.5 1299.6,374.7 1298.7,375.2 1297.7,378.5 1296.8,372.9 1295.9,373.2 1294.9,376.2 1294.0,376.1 1293.0,382.7 1292.1,376.4 1291.1,375.8 1290.2,377.0 1289.3,378.1 1288.3,376.5 1287.4,379.2 1286.4,382.5 1285.5,385.1 1284.5,386.5 1283.6,389.6 1282.7,392.5 1281.7,391.5 1280.8,397.4 1279.8,397.6 1278.9,399.4 1277.9,399.5 1277.0,402.5 1276.1,402.4 1275.1,405.6 1274.2,407.4 1273.2,408.4 1272.3,410.2 1271.3,410.2 1270.4,414.1 1269.5,416.4 1268.5,425.0 1267.6,423.4 1266.6,425.5 1265.7,433.8 1264.7,432.1 1263.8,435.4 1262.9,436.8 1261.9,441.6 1261.0,450.9 1260.0,446.7 1259.1,455.1 1258.1,457.7 1257.2,467.3 1256.3,463.0 1255.3,471.5 1254.4,474.0 1253.4,485.4 1252.5,499.1 1251.5,515.2 1250.6,531.5" fill="#F0887C"/>
<line x1="1249.7" y1="353.8" x2="1250.6" y2="525.7" stroke="#F0887C" stroke-width="1" stroke-opacity="0.45"/>
<path d="M954.5,220.8 L955.4,223.5 L956.4,226.7 L957.3,230.3 L958.3,234.3 L959.2,238.4 L960.2,242.6 L961.1,246.9 L962.0,251.1 L963.0,254.4 L963.9,257.2 L964.9,259.9 L965.8,262.7 L966.8,265.8 L967.7,268.9 L968.6,271.8 L969.6,274.4 L970.5,277.0 L971.5,279.5 L972.4,282.0 L973.4,284.6 L974.3,287.5 L975.2,290.5 L976.2,293.7 L977.1,296.8 L978.1,299.7 L979.0,302.4 L980.0,305.2 L980.9,308.0 L981.8,310.8 L982.8,313.3 L983.7,315.5 L984.7,317.3 L985.6,318.9 L986.6,320.4 M988.4,322.8 L989.4,324.3 L990.3,326.2 L991.3,328.2 L992.2,330.2 L993.2,332.1 L994.1,333.9 L995.0,335.4 M1250.6,525.7 L1251.5,510.5 L1252.5,495.0 L1253.4,479.4 L1254.4,467.4 L1255.3,462.7 L1256.3,458.3 L1257.2,454.2 L1258.1,450.4 L1259.1,446.5 L1260.0,442.5 L1261.0,438.3 L1261.9,435.0 L1262.9,431.9 L1263.8,428.9 L1264.7,425.8 L1265.7,422.7 L1266.6,419.4 L1267.6,415.9 L1268.5,412.5 L1269.5,409.3 L1270.4,406.2 L1271.3,403.6 M1276.1,397.4 L1277.0,395.9 L1277.9,394.3 L1278.9,392.6 L1279.8,390.9 L1280.8,389.1 L1281.7,387.2 L1282.7,385.0 L1283.6,382.7 L1284.5,380.2 L1285.5,377.6 L1286.4,375.1 L1287.4,373.1 M1349.6,355.7 L1350.6,357.3 L1351.5,359.1 L1352.4,360.8 M1457.1,359.0 L1458.1,357.3 L1459.0,355.6 L1459.9,354.1" fill="none" stroke="#F0887C" stroke-width="3.0" stroke-linejoin="round"/>
<path d="M1007.3,341.1 L1008.3,342.6 M1080.9,352.2 L1081.8,353.7 L1082.7,355.3 M1307.2,366.7 L1308.1,365.2" fill="none" stroke="#F0887C" stroke-width="1.3" stroke-linejoin="round"/>
<polygon points="954.5,149.9 955.4,156.3 956.4,164.5 957.3,167.1 958.3,178.0 959.2,184.5 960.2,185.6 961.1,197.4 962.0,200.3 963.0,204.2 963.9,205.6 964.9,211.5 965.8,213.8 966.8,219.7 967.7,219.6 968.6,225.2 969.6,229.0 970.5,229.7 971.5,238.5 972.4,239.3 973.4,241.7 974.3,249.0 975.2,255.1 976.2,258.1 977.1,264.0 978.1,267.1 979.0,271.7 980.0,275.0 980.9,279.0 981.8,274.3 982.8,282.2 983.7,282.9 984.7,288.1 985.6,292.1 986.6,295.6 987.5,296.2 988.4,298.5 989.4,304.4 990.3,304.4 991.3,302.1 992.2,309.0 993.2,309.1 994.1,313.8 995.0,316.8 996.0,319.1 996.9,319.6 997.9,325.1 998.8,323.9 999.8,324.0 1000.7,323.9 1001.6,323.9 1002.6,326.9 1003.5,328.9 1004.5,330.0 1005.4,330.5 1006.4,329.3 1007.3,330.4 1008.3,335.3 1009.2,335.0 1010.1,332.3 1011.1,329.8 1012.0,333.3 1013.0,327.7 1013.9,333.7 1014.9,334.4 1015.8,332.2 1016.7,337.5 1017.7,335.6 1018.6,337.2 1019.6,336.4 1020.5,339.2 1021.5,333.6 1022.4,343.3 1023.3,341.4 1024.3,342.4 1025.2,340.1 1026.2,345.9 1027.1,343.7 1028.1,342.2 1029.0,344.4 1029.9,346.1 1030.9,347.4 1031.8,347.6 1032.8,342.1 1033.7,346.0 1034.7,345.8 1035.6,347.1 1036.5,344.4 1037.5,339.3 1038.4,347.7 1039.4,342.5 1040.3,343.5 1041.3,348.6 1042.2,348.1 1043.1,340.6 1044.1,345.4 1045.0,346.5 1046.0,347.7 1046.9,347.5 1047.9,347.7 1048.8,346.3 1049.7,346.9 1050.7,347.6 1051.6,347.3 1052.6,346.8 1053.5,345.6 1054.5,345.7 1055.4,348.8 1056.3,349.4 1057.3,348.3 1058.2,346.0 1059.2,348.4 1060.1,344.4 1061.1,345.2 1062.0,343.7 1062.9,342.6 1063.9,343.3 1064.8,340.4 1065.8,345.7 1066.7,343.0 1067.7,343.4 1068.6,347.2 1069.5,347.2 1070.5,344.6 1071.4,347.4 1072.4,341.9 1073.3,349.3 1074.3,346.0 1075.2,345.4 1076.1,344.3 1077.1,341.2 1078.0,346.4 1079.0,347.0 1079.9,347.5 1080.9,345.0 1081.8,346.3 1082.7,345.3 1083.7,347.7 1084.6,344.5 1085.6,345.6 1086.5,342.8 1087.5,347.6 1088.4,345.6 1089.3,344.3 1090.3,347.7 1091.2,348.9 1092.2,344.8 1093.1,345.5 1094.1,344.8 1095.0,348.4 1095.9,344.0 1096.9,340.2 1097.8,345.7 1098.8,345.5 1099.7,346.5 1100.7,336.8 1101.6,344.5 1102.5,350.1 1103.5,343.1 1104.4,346.6 1105.4,350.3 1106.3,345.5 1107.3,349.1 1108.2,349.4 1109.2,350.1 1110.1,349.1 1111.0,350.5 1112.0,352.8 1112.9,347.9 1113.9,351.9 1114.8,348.6 1115.8,341.4 1116.7,348.5 1117.6,347.4 1118.6,347.3 1119.5,340.9 1120.5,342.8 1121.4,340.4 1122.4,345.2 1123.3,338.2 1124.2,346.2 1125.2,345.4 1126.1,345.9 1127.1,343.4 1128.0,341.8 1129.0,342.3 1129.9,345.2 1130.8,343.9 1131.8,342.5 1132.7,347.1 1133.7,346.5 1134.6,347.8 1135.6,345.7 1136.5,343.4 1137.4,345.3 1138.4,348.1 1139.3,346.0 1140.3,344.8 1141.2,344.2 1142.2,348.2 1143.1,349.2 1144.0,347.2 1145.0,347.6 1145.9,349.6 1146.9,345.5 1147.8,349.8 1148.8,349.7 1149.7,344.2 1150.6,343.3 1151.6,345.7 1152.5,348.3 1153.5,346.7 1154.4,343.8 1155.4,348.9 1156.3,350.6 1157.2,349.6 1158.2,349.5 1159.1,349.5 1160.1,344.0 1161.0,345.4 1162.0,341.8 1162.9,344.8 1163.8,347.9 1164.8,348.8 1165.7,347.6 1166.7,343.7 1167.6,343.0 1168.6,344.7 1169.5,346.0 1170.4,340.0 1171.4,345.5 1172.3,346.1 1173.3,346.2 1174.2,343.9 1175.2,340.2 1176.1,346.8 1177.0,347.4 1178.0,348.6 1178.9,346.3 1179.9,347.9 1180.8,348.8 1181.8,350.5 1182.7,346.8 1183.6,346.6 1184.6,348.4 1185.5,345.3 1186.5,343.9 1187.4,346.4 1188.4,345.5 1189.3,345.5 1190.2,344.7 1191.2,344.5 1192.1,343.0 1193.1,339.0 1194.0,344.3 1195.0,341.5 1195.9,346.8 1196.8,347.3 1197.8,349.6 1198.7,349.4 1199.7,350.1 1200.6,344.9 1201.6,344.6 1202.5,342.7 1203.4,339.5 1204.4,345.4 1205.3,344.2 1206.3,345.4 1207.2,345.3 1208.2,343.3 1209.1,342.5 1210.1,342.6 1211.0,341.2 1211.9,342.6 1212.9,344.0 1213.8,346.2 1214.8,345.0 1215.7,345.7 1216.7,343.5 1217.6,345.7 1218.5,341.3 1219.5,344.3 1220.4,347.5 1221.4,346.6 1222.3,350.3 1223.3,348.0 1224.2,350.1 1225.1,347.7 1226.1,350.1 1227.0,348.7 1228.0,347.8 1228.9,347.2 1229.9,346.1 1230.8,343.7 1231.7,347.9 1232.7,344.7 1233.6,348.0 1234.6,345.7 1235.5,346.1 1236.5,347.1 1237.4,344.8 1238.3,345.8 1239.3,346.0 1240.2,346.5 1241.2,340.3 1242.1,345.8 1243.1,346.3 1244.0,348.5 1244.9,347.3 1245.9,347.2 1246.8,347.6 1247.8,344.7 1248.7,342.0 1249.7,342.1 1249.7,359.1 1248.7,357.4 1247.8,360.2 1246.8,359.8 1245.9,359.4 1244.9,359.7 1244.0,360.5 1243.1,360.8 1242.1,358.0 1241.2,360.7 1240.2,358.9 1239.3,361.2 1238.3,357.7 1237.4,362.4 1236.5,358.5 1235.5,358.7 1234.6,358.8 1233.6,356.8 1232.7,357.6 1231.7,359.1 1230.8,361.2 1229.9,359.3 1228.9,364.2 1228.0,358.3 1227.0,357.7 1226.1,364.7 1225.1,360.5 1224.2,360.3 1223.3,363.1 1222.3,359.1 1221.4,363.6 1220.4,360.2 1219.5,359.3 1218.5,356.7 1217.6,357.5 1216.7,357.8 1215.7,359.8 1214.8,357.9 1213.8,356.9 1212.9,360.1 1211.9,361.6 1211.0,361.6 1210.1,358.9 1209.1,359.8 1208.2,359.5 1207.2,357.3 1206.3,356.7 1205.3,355.1 1204.4,356.0 1203.4,355.9 1202.5,359.3 1201.6,357.7 1200.6,359.5 1199.7,360.3 1198.7,364.0 1197.8,359.5 1196.8,358.8 1195.9,357.3 1195.0,354.5 1194.0,358.4 1193.1,353.3 1192.1,355.8 1191.2,360.2 1190.2,354.2 1189.3,359.5 1188.4,361.5 1187.4,357.7 1186.5,361.8 1185.5,361.6 1184.6,369.8 1183.6,359.8 1182.7,363.1 1181.8,359.6 1180.8,366.5 1179.9,360.2 1178.9,360.0 1178.0,358.6 1177.0,358.0 1176.1,359.3 1175.2,360.7 1174.2,358.5 1173.3,357.0 1172.3,358.7 1171.4,359.0 1170.4,358.6 1169.5,355.5 1168.6,359.2 1167.6,363.3 1166.7,358.8 1165.7,362.2 1164.8,363.6 1163.8,365.1 1162.9,363.9 1162.0,358.3 1161.0,359.6 1160.1,364.2 1159.1,363.6 1158.2,359.7 1157.2,366.1 1156.3,361.1 1155.4,359.4 1154.4,359.2 1153.5,366.4 1152.5,358.4 1151.6,359.7 1150.6,358.1 1149.7,359.2 1148.8,361.5 1147.8,367.0 1146.9,364.3 1145.9,362.3 1145.0,362.1 1144.0,361.7 1143.1,361.2 1142.2,364.1 1141.2,359.8 1140.3,361.1 1139.3,358.2 1138.4,359.0 1137.4,360.7 1136.5,359.8 1135.6,357.7 1134.6,357.7 1133.7,359.1 1132.7,359.7 1131.8,357.1 1130.8,355.2 1129.9,355.1 1129.0,354.6 1128.0,358.0 1127.1,354.8 1126.1,359.8 1125.2,356.4 1124.2,355.7 1123.3,356.7 1122.4,360.1 1121.4,360.2 1120.5,358.5 1119.5,361.6 1118.6,360.6 1117.6,361.1 1116.7,357.5 1115.8,361.2 1114.8,366.2 1113.9,363.1 1112.9,362.2 1112.0,362.7 1111.0,361.5 1110.1,361.8 1109.2,362.3 1108.2,364.5 1107.3,360.9 1106.3,359.9 1105.4,364.3 1104.4,359.2 1103.5,362.4 1102.5,361.0 1101.6,364.2 1100.7,360.8 1099.7,362.3 1098.8,355.3 1097.8,354.7 1096.9,355.1 1095.9,359.3 1095.0,356.8 1094.1,358.4 1093.1,359.8 1092.2,362.4 1091.2,358.3 1090.3,360.2 1089.3,356.7 1088.4,358.2 1087.5,361.3 1086.5,359.1 1085.6,358.6 1084.6,358.8 1083.7,357.8 1082.7,358.8 1081.8,358.3 1080.9,358.4 1079.9,358.0 1079.0,357.8 1078.0,357.1 1077.1,357.9 1076.1,360.1 1075.2,358.9 1074.3,360.8 1073.3,362.1 1072.4,358.3 1071.4,358.3 1070.5,358.4 1069.5,356.4 1068.6,355.5 1067.7,358.8 1066.7,355.8 1065.8,358.5 1064.8,355.9 1063.9,355.7 1062.9,356.8 1062.0,360.6 1061.1,363.0 1060.1,360.9 1059.2,363.0 1058.2,364.6 1057.3,360.7 1056.3,359.2 1055.4,365.9 1054.5,359.4 1053.5,359.3 1052.6,356.9 1051.6,361.3 1050.7,358.7 1049.7,357.8 1048.8,364.2 1047.9,362.1 1046.9,359.3 1046.0,362.3 1045.0,360.9 1044.1,359.8 1043.1,359.4 1042.2,357.8 1041.3,358.3 1040.3,359.7 1039.4,358.1 1038.4,357.9 1037.5,359.6 1036.5,356.1 1035.6,355.7 1034.7,362.0 1033.7,363.8 1032.8,359.2 1031.8,359.8 1030.9,364.7 1029.9,362.4 1029.0,358.3 1028.1,356.1 1027.1,356.9 1026.2,358.4 1025.2,358.6 1024.3,357.8 1023.3,356.0 1022.4,358.2 1021.5,356.9 1020.5,351.6 1019.6,353.7 1018.6,348.8 1017.7,347.4 1016.7,347.2 1015.8,348.8 1014.9,349.4 1013.9,346.6 1013.0,343.9 1012.0,343.5 1011.1,348.7 1010.1,348.3 1009.2,346.6 1008.3,347.9 1007.3,344.6 1006.4,345.9 1005.4,342.1 1004.5,343.1 1003.5,338.4 1002.6,339.7 1001.6,338.6 1000.7,341.3 999.8,343.6 998.8,337.0 997.9,334.2 996.9,339.5 996.0,334.8 995.0,330.9 994.1,327.8 993.2,324.5 992.2,326.1 991.3,324.5 990.3,323.5 989.4,319.4 988.4,311.2 987.5,308.9 986.6,306.0 985.6,306.9 984.7,300.2 983.7,299.7 982.8,296.0 981.8,291.3 980.9,288.9 980.0,291.0 979.0,281.0 978.1,276.3 977.1,278.2 976.2,270.4 975.2,264.9 974.3,260.1 973.4,261.0 972.4,258.0 971.5,248.2 970.5,245.4 969.6,242.8 968.6,236.3 967.7,234.1 966.8,233.2 965.8,230.0 964.9,222.2 963.9,219.3 963.0,215.7 962.0,215.0 961.1,205.9 960.2,201.5 959.2,200.7 958.3,186.6 957.3,182.0 956.4,173.3 955.4,169.3 954.5,161.9" fill="#C4C48C"/>
<polygon points="1250.6,560.4 1251.5,547.9 1252.5,535.9 1253.4,524.7 1254.4,515.2 1255.3,504.1 1256.3,495.9 1257.2,486.5 1258.1,478.6 1259.1,470.3 1260.0,462.4 1261.0,455.2 1261.9,450.4 1262.9,446.4 1263.8,440.5 1264.7,435.8 1265.7,436.6 1266.6,428.9 1267.6,418.4 1268.5,421.4 1269.5,412.8 1270.4,409.0 1271.3,406.4 1272.3,400.5 1273.2,399.4 1274.2,399.0 1275.1,400.6 1276.1,396.0 1277.0,395.2 1277.9,389.8 1278.9,383.0 1279.8,384.8 1280.8,383.4 1281.7,376.5 1282.7,379.2 1283.6,373.6 1284.5,372.6 1285.5,372.6 1286.4,368.7 1287.4,363.6 1288.3,369.6 1289.3,366.2 1290.2,362.9 1291.1,365.3 1292.1,363.6 1293.0,360.9 1294.0,360.0 1294.9,357.7 1295.9,361.2 1296.8,361.4 1297.7,363.0 1298.7,362.8 1299.6,355.8 1300.6,360.7 1301.5,357.8 1302.5,363.3 1303.4,362.9 1304.4,362.8 1305.3,362.2 1306.2,360.7 1307.2,357.9 1308.1,356.8 1309.1,351.3 1310.0,353.0 1311.0,353.9 1311.9,356.1 1312.8,353.4 1313.8,352.2 1314.7,358.2 1315.7,358.0 1316.6,354.4 1317.6,354.1 1318.5,351.0 1319.4,346.4 1320.4,350.8 1321.3,353.4 1322.3,351.8 1323.2,351.4 1324.2,349.8 1325.1,350.9 1326.0,350.4 1327.0,353.6 1327.9,351.4 1328.9,352.4 1329.8,352.5 1330.8,355.5 1331.7,351.4 1332.6,355.1 1333.6,350.9 1334.5,351.9 1335.5,353.1 1336.4,352.1 1337.4,350.3 1338.3,349.9 1339.2,349.1 1340.2,350.7 1341.1,351.7 1342.1,351.6 1343.0,351.6 1344.0,351.6 1344.9,350.7 1345.8,353.8 1346.8,357.8 1347.7,348.8 1348.7,354.3 1349.6,354.2 1350.6,350.7 1351.5,353.2 1352.4,355.9 1353.4,353.3 1354.3,355.4 1355.3,357.3 1356.2,354.1 1357.2,346.8 1358.1,356.1 1359.0,351.8 1360.0,345.2 1360.9,353.4 1361.9,352.8 1362.8,350.1 1363.8,349.5 1364.7,346.8 1365.6,347.6 1366.6,344.2 1367.5,349.2 1368.5,344.5 1369.4,350.6 1370.4,352.2 1371.3,347.6 1372.2,349.4 1373.2,348.1 1374.1,345.6 1375.1,349.5 1376.0,351.2 1377.0,352.0 1377.9,352.9 1378.8,353.3 1379.8,356.1 1380.7,347.3 1381.7,353.5 1382.6,355.7 1383.6,351.2 1384.5,352.6 1385.4,352.8 1386.4,350.3 1387.3,354.3 1388.3,351.6 1389.2,352.5 1390.2,355.0 1391.1,351.7 1392.0,348.1 1393.0,352.2 1393.9,348.7 1394.9,353.2 1395.8,351.3 1396.8,352.0 1397.7,352.0 1398.6,356.1 1399.6,353.4 1400.5,354.8 1401.5,354.1 1402.4,354.7 1403.4,354.3 1404.3,351.3 1405.3,354.4 1406.2,352.9 1407.1,349.6 1408.1,352.7 1409.0,347.3 1410.0,350.6 1410.9,348.8 1411.9,347.5 1412.8,349.8 1413.7,348.2 1414.7,345.7 1415.6,351.2 1416.6,350.2 1417.5,348.4 1418.5,352.5 1419.4,350.4 1420.3,354.1 1421.3,356.0 1422.2,354.8 1423.2,355.4 1424.1,353.3 1425.1,348.2 1426.0,351.6 1426.9,345.6 1427.9,349.8 1428.8,349.2 1429.8,352.9 1430.7,350.4 1431.7,353.9 1432.6,350.0 1433.5,354.9 1434.5,356.0 1435.4,348.9 1436.4,353.8 1437.3,353.3 1438.3,353.7 1439.2,354.7 1440.1,348.9 1441.1,352.0 1442.0,355.7 1443.0,351.4 1443.9,355.7 1444.9,356.5 1445.8,353.1 1446.7,353.7 1447.7,353.0 1448.6,351.3 1449.6,350.1 1450.5,343.2 1451.5,349.1 1452.4,351.0 1453.3,354.6 1454.3,351.5 1455.2,354.6 1456.2,355.2 1457.1,349.7 1458.1,351.3 1459.0,347.0 1459.9,348.9 1460.9,351.7 1461.8,351.9 1462.8,355.2 1463.7,351.7 1464.7,354.0 1465.6,355.3 1466.5,352.2 1467.5,352.5 1468.4,351.0 1469.4,350.3 1470.3,351.5 1471.3,351.4 1472.2,353.3 1473.1,352.6 1474.1,353.3 1475.0,352.5 1476.0,347.6 1476.9,348.3 1477.9,351.3 1478.8,351.4 1479.7,349.3 1480.7,353.7 1481.6,351.3 1482.6,354.5 1483.5,354.7 1484.5,353.8 1485.4,355.0 1486.3,353.4 1487.3,352.8 1488.2,352.4 1489.2,351.6 1490.1,349.5 1491.1,348.1 1492.0,345.5 1492.9,348.1 1493.9,344.8 1494.8,349.3 1495.8,349.8 1496.7,349.1 1497.7,351.2 1498.6,351.2 1499.5,344.0 1500.5,347.6 1501.4,345.7 1502.4,349.5 1503.3,345.7 1504.3,349.3 1505.2,352.9 1506.2,353.3 1507.1,353.8 1508.0,351.0 1509.0,353.9 1509.9,356.0 1510.9,355.6 1511.8,353.1 1512.8,354.0 1513.7,352.3 1514.6,347.1 1515.6,352.9 1516.5,352.0 1517.5,349.0 1518.4,349.4 1519.4,352.9 1520.3,350.8 1521.2,342.1 1522.2,352.4 1523.1,350.9 1524.1,353.2 1525.0,345.4 1526.0,354.6 1526.9,354.4 1527.8,352.3 1528.8,348.7 1529.7,348.7 1530.7,350.1 1531.6,347.7 1532.6,345.5 1533.5,349.4 1534.4,342.2 1535.4,350.5 1536.3,350.8 1537.3,351.7 1538.2,349.5 1538.2,364.1 1537.3,362.1 1536.3,365.1 1535.4,365.1 1534.4,360.6 1533.5,362.3 1532.6,365.0 1531.6,363.2 1530.7,362.0 1529.7,365.3 1528.8,364.0 1527.8,362.7 1526.9,363.1 1526.0,363.9 1525.0,367.4 1524.1,362.9 1523.1,363.3 1522.2,362.4 1521.2,362.5 1520.3,363.4 1519.4,362.4 1518.4,362.9 1517.5,363.9 1516.5,361.3 1515.6,366.5 1514.6,365.9 1513.7,363.3 1512.8,365.1 1511.8,370.4 1510.9,366.7 1509.9,364.7 1509.0,368.0 1508.0,366.5 1507.1,368.7 1506.2,363.1 1505.2,363.9 1504.3,363.1 1503.3,367.3 1502.4,359.8 1501.4,366.7 1500.5,361.9 1499.5,363.2 1498.6,363.9 1497.7,360.9 1496.7,359.8 1495.8,361.0 1494.8,363.2 1493.9,363.3 1492.9,369.1 1492.0,365.1 1491.1,366.4 1490.1,362.3 1489.2,362.8 1488.2,362.7 1487.3,364.5 1486.3,366.1 1485.4,366.7 1484.5,364.8 1483.5,365.6 1482.6,363.7 1481.6,364.0 1480.7,365.4 1479.7,363.4 1478.8,362.1 1477.9,364.6 1476.9,360.9 1476.0,362.7 1475.0,365.4 1474.1,363.3 1473.1,363.6 1472.2,362.9 1471.3,364.2 1470.3,363.2 1469.4,362.1 1468.4,364.3 1467.5,363.2 1466.5,367.7 1465.6,367.4 1464.7,366.6 1463.7,369.0 1462.8,368.1 1461.8,368.0 1460.9,363.5 1459.9,367.8 1459.0,369.8 1458.1,367.8 1457.1,364.9 1456.2,370.5 1455.2,368.6 1454.3,366.4 1453.3,367.4 1452.4,365.2 1451.5,362.4 1450.5,364.5 1449.6,363.0 1448.6,364.1 1447.7,364.2 1446.7,366.0 1445.8,366.2 1444.9,367.8 1443.9,365.2 1443.0,371.3 1442.0,368.4 1441.1,364.7 1440.1,364.9 1439.2,363.8 1438.3,363.6 1437.3,368.7 1436.4,369.5 1435.4,367.4 1434.5,368.2 1433.5,369.1 1432.6,365.3 1431.7,367.4 1430.7,368.6 1429.8,362.7 1428.8,363.0 1427.9,361.4 1426.9,367.0 1426.0,362.5 1425.1,367.6 1424.1,366.5 1423.2,370.0 1422.2,366.0 1421.3,372.6 1420.3,368.4 1419.4,363.6 1418.5,362.5 1417.5,360.4 1416.6,366.6 1415.6,361.6 1414.7,362.9 1413.7,363.1 1412.8,365.9 1411.9,365.2 1410.9,366.4 1410.0,361.9 1409.0,366.2 1408.1,361.8 1407.1,365.4 1406.2,363.1 1405.3,368.3 1404.3,364.0 1403.4,366.0 1402.4,365.9 1401.5,366.8 1400.5,369.5 1399.6,366.8 1398.6,365.8 1397.7,363.9 1396.8,364.8 1395.8,364.9 1394.9,364.3 1393.9,366.6 1393.0,375.7 1392.0,364.1 1391.1,368.2 1390.2,370.6 1389.2,365.2 1388.3,368.5 1387.3,365.1 1386.4,368.3 1385.4,372.4 1384.5,373.4 1383.6,370.0 1382.6,375.4 1381.7,368.1 1380.7,365.1 1379.8,365.4 1378.8,365.5 1377.9,368.8 1377.0,366.1 1376.0,361.3 1375.1,362.6 1374.1,364.9 1373.2,359.8 1372.2,361.2 1371.3,367.3 1370.4,367.6 1369.4,362.4 1368.5,367.4 1367.5,363.9 1366.6,361.0 1365.6,359.9 1364.7,364.4 1363.8,360.2 1362.8,362.4 1361.9,364.9 1360.9,367.7 1360.0,367.8 1359.0,365.5 1358.1,368.9 1357.2,370.6 1356.2,368.3 1355.3,373.0 1354.3,367.9 1353.4,367.2 1352.4,368.3 1351.5,367.1 1350.6,366.4 1349.6,366.3 1348.7,368.2 1347.7,373.1 1346.8,372.8 1345.8,367.3 1344.9,366.2 1344.0,363.8 1343.0,364.2 1342.1,373.1 1341.1,363.6 1340.2,363.5 1339.2,360.6 1338.3,366.8 1337.4,361.0 1336.4,368.2 1335.5,362.4 1334.5,365.9 1333.6,365.4 1332.6,374.4 1331.7,366.3 1330.8,368.6 1329.8,368.6 1328.9,365.3 1327.9,364.3 1327.0,364.8 1326.0,365.0 1325.1,365.7 1324.2,368.3 1323.2,363.7 1322.3,366.3 1321.3,367.0 1320.4,365.5 1319.4,364.2 1318.5,367.1 1317.6,368.5 1316.6,368.2 1315.7,371.8 1314.7,369.7 1313.8,370.6 1312.8,373.8 1311.9,370.6 1311.0,372.2 1310.0,368.2 1309.1,371.3 1308.1,373.6 1307.2,375.5 1306.2,376.4 1305.3,373.5 1304.4,378.0 1303.4,379.6 1302.5,373.5 1301.5,378.2 1300.6,373.3 1299.6,376.4 1298.7,374.7 1297.7,371.8 1296.8,375.9 1295.9,372.1 1294.9,379.8 1294.0,373.0 1293.0,376.7 1292.1,373.5 1291.1,378.2 1290.2,375.8 1289.3,381.2 1288.3,383.9 1287.4,380.2 1286.4,384.7 1285.5,384.7 1284.5,385.0 1283.6,388.0 1282.7,392.5 1281.7,389.4 1280.8,392.7 1279.8,400.6 1278.9,403.9 1277.9,403.6 1277.0,407.2 1276.1,408.7 1275.1,410.9 1274.2,412.8 1273.2,416.9 1272.3,422.3 1271.3,419.5 1270.4,422.7 1269.5,430.0 1268.5,431.0 1267.6,438.3 1266.6,441.0 1265.7,445.4 1264.7,450.1 1263.8,457.3 1262.9,460.7 1261.9,466.7 1261.0,463.7 1260.0,472.3 1259.1,480.4 1258.1,492.5 1257.2,503.1 1256.3,508.5 1255.3,523.0 1254.4,525.9 1253.4,538.4 1252.5,551.6 1251.5,559.6 1250.6,572.5" fill="#C4C48C"/>
<line x1="1249.7" y1="352.1" x2="1250.6" y2="566.0" stroke="#C4C48C" stroke-width="1" stroke-opacity="0.45"/>
<path d="M954.5,157.1 L955.4,162.9 L956.4,169.0 L957.3,175.5 L958.3,182.4 L959.2,189.5 L960.2,196.5 L961.1,201.5 L962.0,205.7 L963.0,209.6 L963.9,213.5 L964.9,217.3 L965.8,221.2 L966.8,225.0 L967.7,228.8 L968.6,232.3 L969.6,235.9 L970.5,239.6 L971.5,243.4 L972.4,247.3 L973.4,251.4 L974.3,255.6 L975.2,259.8 L976.2,264.1 L977.1,268.2 L978.1,272.1 L979.0,275.9 L980.0,279.7 L980.9,283.5 L981.8,287.2 L982.8,290.2 L983.7,292.7 L984.7,295.6 L985.6,298.7 L986.6,301.8 L987.5,304.5 L988.4,307.0 L989.4,309.2 L990.3,311.3 L991.3,313.4 L992.2,315.6 L993.2,318.3 L994.1,321.4 L995.0,324.4 L996.0,326.4 L996.9,328.1 M1004.5,334.6 L1005.4,336.2 L1006.4,337.9 L1007.3,339.4 M1250.6,566.0 L1251.5,554.2 L1252.5,542.5 L1253.4,531.0 L1254.4,520.5 L1255.3,511.7 L1256.3,502.8 L1257.2,493.9 L1258.1,484.9 L1259.1,475.9 L1260.0,467.4 L1261.0,459.3 L1261.9,455.5 L1262.9,452.6 L1263.8,449.4 L1264.7,445.6 L1265.7,441.3 L1266.6,436.4 L1267.6,431.4 L1268.5,426.6 L1269.5,422.2 L1270.4,418.1 L1271.3,414.3 L1272.3,411.8 L1273.2,409.5 L1274.2,407.1 L1275.1,404.7 L1276.1,402.1 L1277.0,399.4 L1277.9,396.6 L1278.9,393.8 L1279.8,390.9 L1280.8,388.0 L1281.7,385.3 L1282.7,383.4 L1283.6,381.6 L1284.5,379.6 L1285.5,377.7 L1286.4,376.0" fill="none" stroke="#C4C48C" stroke-width="3.0" stroke-linejoin="round"/>
<path d="M1195.9,351.1 L1196.8,352.6 M1425.1,359.7 L1426.0,358.0" fill="none" stroke="#C4C48C" stroke-width="1.3" stroke-linejoin="round"/>
<polygon points="1013.9,341.6 1014.9,342.9 1015.8,337.8 1016.7,337.6 1017.7,334.5 1018.6,343.4 1019.6,341.3 1020.5,340.2 1021.5,341.6 1022.4,342.3 1023.3,342.8 1024.3,337.5 1025.2,341.9 1026.2,337.5 1027.1,337.2 1028.1,342.9 1029.0,341.3 1029.9,343.7 1030.9,344.0 1031.8,342.5 1032.8,342.5 1033.7,341.9 1034.7,341.3 1035.6,337.2 1036.5,342.1 1037.5,342.4 1038.4,341.5 1039.4,344.0 1040.3,344.3 1041.3,344.0 1042.2,347.1 1043.1,346.6 1044.1,333.9 1045.0,344.1 1046.0,345.6 1046.9,343.7 1047.9,345.9 1048.8,344.0 1049.7,345.2 1050.7,344.6 1051.6,347.1 1052.6,343.0 1053.5,343.4 1054.5,346.3 1055.4,340.8 1056.3,337.4 1057.3,342.6 1058.2,342.8 1059.2,341.8 1060.1,342.1 1061.1,336.7 1062.0,341.8 1062.9,345.1 1063.9,344.7 1064.8,344.6 1065.8,345.6 1066.7,345.9 1067.7,347.5 1068.6,346.2 1069.5,345.7 1070.5,347.7 1071.4,344.2 1072.4,338.3 1073.3,348.0 1074.3,347.3 1075.2,344.8 1076.1,349.5 1077.1,347.2 1078.0,343.2 1079.0,347.1 1079.9,346.2 1080.9,341.4 1081.8,344.7 1082.7,340.9 1083.7,345.3 1084.6,346.6 1085.6,336.8 1086.5,346.2 1087.5,341.5 1088.4,344.3 1089.3,339.6 1090.3,342.0 1091.2,348.3 1092.2,348.2 1093.1,346.5 1094.1,348.7 1095.0,345.7 1095.9,347.5 1096.9,348.2 1097.8,348.5 1098.8,344.4 1099.7,347.2 1100.7,345.8 1101.6,349.1 1102.5,349.2 1103.5,344.3 1104.4,347.9 1105.4,344.7 1106.3,343.9 1107.3,344.1 1108.2,346.1 1109.2,344.4 1110.1,340.2 1111.0,346.8 1112.0,341.4 1112.9,347.1 1113.9,348.2 1114.8,345.0 1115.8,341.6 1116.7,346.6 1117.6,343.9 1118.6,345.8 1119.5,343.8 1120.5,343.3 1121.4,340.5 1122.4,343.1 1123.3,343.7 1124.2,344.1 1125.2,345.7 1126.1,344.3 1127.1,343.7 1128.0,346.4 1129.0,342.7 1129.9,345.9 1130.8,344.0 1131.8,346.1 1132.7,340.1 1133.7,348.8 1134.6,341.6 1135.6,347.3 1136.5,342.6 1137.4,345.7 1138.4,344.2 1139.3,346.1 1140.3,343.1 1141.2,342.0 1142.2,341.7 1143.1,344.0 1144.0,347.6 1145.0,340.7 1145.9,345.2 1146.9,341.4 1147.8,341.1 1148.8,344.3 1149.7,344.3 1150.6,340.2 1151.6,345.4 1152.5,346.6 1153.5,347.9 1154.4,349.2 1155.4,348.7 1156.3,345.6 1157.2,340.9 1158.2,340.9 1159.1,344.3 1160.1,346.5 1161.0,346.1 1162.0,346.4 1162.9,344.6 1163.8,344.6 1164.8,346.1 1165.7,344.0 1166.7,343.4 1167.6,343.6 1168.6,342.8 1169.5,344.5 1170.4,342.0 1171.4,343.4 1172.3,345.6 1173.3,342.0 1174.2,345.0 1175.2,346.6 1176.1,342.2 1177.0,345.7 1178.0,345.8 1178.9,341.0 1179.9,344.0 1180.8,341.7 1181.8,344.5 1182.7,336.8 1183.6,344.1 1184.6,343.8 1185.5,340.4 1186.5,338.5 1187.4,345.1 1188.4,342.4 1189.3,343.7 1190.2,342.2 1191.2,344.2 1192.1,342.1 1193.1,340.6 1194.0,341.6 1195.0,342.6 1195.9,343.2 1196.8,341.1 1197.8,338.6 1198.7,343.7 1199.7,339.5 1200.6,343.3 1201.6,342.8 1202.5,344.9 1203.4,342.6 1204.4,346.5 1205.3,348.3 1206.3,347.2 1207.2,342.7 1208.2,345.0 1209.1,347.1 1210.1,346.1 1211.0,348.8 1211.9,344.6 1212.9,346.0 1213.8,343.3 1214.8,342.2 1215.7,343.6 1216.7,341.6 1217.6,343.2 1218.5,345.0 1219.5,339.9 1220.4,338.7 1221.4,343.5 1222.3,338.4 1223.3,337.7 1224.2,344.4 1225.1,339.8 1226.1,344.5 1227.0,341.7 1228.0,339.1 1228.9,342.3 1229.9,344.0 1230.8,340.0 1231.7,342.4 1232.7,339.7 1233.6,345.3 1234.6,342.6 1235.5,345.3 1236.5,346.5 1237.4,342.6 1238.3,345.1 1239.3,339.5 1240.2,345.7 1241.2,345.1 1242.1,342.7 1243.1,344.9 1244.0,345.2 1244.9,343.1 1245.9,343.4 1246.8,345.0 1247.8,340.9 1248.7,343.8 1249.7,339.4 1249.7,363.2 1248.7,361.8 1247.8,362.7 1246.8,357.6 1245.9,363.2 1244.9,360.3 1244.0,360.3 1243.1,363.0 1242.1,362.3 1241.2,360.4 1240.2,361.8 1239.3,362.5 1238.3,359.0 1237.4,362.1 1236.5,364.3 1235.5,361.1 1234.6,362.7 1233.6,362.3 1232.7,357.4 1231.7,357.8 1230.8,360.4 1229.9,358.5 1228.9,359.5 1228.0,357.8 1227.0,358.2 1226.1,357.6 1225.1,361.8 1224.2,357.3 1223.3,356.1 1222.3,359.9 1221.4,357.9 1220.4,365.9 1219.5,357.8 1218.5,359.0 1217.6,357.8 1216.7,360.3 1215.7,358.6 1214.8,360.9 1213.8,363.6 1212.9,361.3 1211.9,370.1 1211.0,365.2 1210.1,364.8 1209.1,361.6 1208.2,364.3 1207.2,363.2 1206.3,369.4 1205.3,362.7 1204.4,363.8 1203.4,360.7 1202.5,359.2 1201.6,357.1 1200.6,358.7 1199.7,356.5 1198.7,358.5 1197.8,358.8 1196.8,358.2 1195.9,362.0 1195.0,364.4 1194.0,356.8 1193.1,356.4 1192.1,359.1 1191.2,359.3 1190.2,357.6 1189.3,361.7 1188.4,359.0 1187.4,359.9 1186.5,366.9 1185.5,362.4 1184.6,357.0 1183.6,359.1 1182.7,359.4 1181.8,360.2 1180.8,366.4 1179.9,362.9 1178.9,362.9 1178.0,363.1 1177.0,360.3 1176.1,360.3 1175.2,361.3 1174.2,360.6 1173.3,366.6 1172.3,361.6 1171.4,362.2 1170.4,360.9 1169.5,360.3 1168.6,359.2 1167.6,361.1 1166.7,359.0 1165.7,358.6 1164.8,359.3 1163.8,364.8 1162.9,364.2 1162.0,362.7 1161.0,362.6 1160.1,359.3 1159.1,361.6 1158.2,360.6 1157.2,362.5 1156.3,361.7 1155.4,362.0 1154.4,369.1 1153.5,365.9 1152.5,360.3 1151.6,361.6 1150.6,360.6 1149.7,366.6 1148.8,358.8 1147.8,361.1 1146.9,359.5 1145.9,364.6 1145.0,360.4 1144.0,360.1 1143.1,364.2 1142.2,364.2 1141.2,362.5 1140.3,359.5 1139.3,358.5 1138.4,364.3 1137.4,362.6 1136.5,359.0 1135.6,367.0 1134.6,363.2 1133.7,364.4 1132.7,366.0 1131.8,361.0 1130.8,360.8 1129.9,364.3 1129.0,360.0 1128.0,359.2 1127.1,358.8 1126.1,360.4 1125.2,364.9 1124.2,357.0 1123.3,356.7 1122.4,357.2 1121.4,360.9 1120.5,358.9 1119.5,365.8 1118.6,362.7 1117.6,362.9 1116.7,362.1 1115.8,364.2 1114.8,362.5 1113.9,365.9 1112.9,361.9 1112.0,359.7 1111.0,360.7 1110.1,359.0 1109.2,358.7 1108.2,362.2 1107.3,364.6 1106.3,360.3 1105.4,367.6 1104.4,360.7 1103.5,364.3 1102.5,365.8 1101.6,364.5 1100.7,365.7 1099.7,363.6 1098.8,361.7 1097.8,364.1 1096.9,362.8 1095.9,371.8 1095.0,366.4 1094.1,361.2 1093.1,363.9 1092.2,360.6 1091.2,364.1 1090.3,360.2 1089.3,369.3 1088.4,360.2 1087.5,359.9 1086.5,360.9 1085.6,364.7 1084.6,361.3 1083.7,361.5 1082.7,364.0 1081.8,362.0 1080.9,363.2 1079.9,366.1 1079.0,362.4 1078.0,368.1 1077.1,364.6 1076.1,362.6 1075.2,363.9 1074.3,364.7 1073.3,363.2 1072.4,363.9 1071.4,364.0 1070.5,366.8 1069.5,362.7 1068.6,364.1 1067.7,360.6 1066.7,365.5 1065.8,362.1 1064.8,361.4 1063.9,361.2 1062.9,358.5 1062.0,359.0 1061.1,361.3 1060.1,356.6 1059.2,355.4 1058.2,355.2 1057.3,359.8 1056.3,356.5 1055.4,360.0 1054.5,359.0 1053.5,359.5 1052.6,361.7 1051.6,362.4 1050.7,360.8 1049.7,362.9 1048.8,364.2 1047.9,362.0 1046.9,359.3 1046.0,362.0 1045.0,367.7 1044.1,363.8 1043.1,359.1 1042.2,360.7 1041.3,362.1 1040.3,361.1 1039.4,360.6 1038.4,356.1 1037.5,359.1 1036.5,358.0 1035.6,354.9 1034.7,356.4 1033.7,360.8 1032.8,362.4 1031.8,369.0 1030.9,359.2 1029.9,363.5 1029.0,359.0 1028.1,357.1 1027.1,358.8 1026.2,357.2 1025.2,356.3 1024.3,357.3 1023.3,366.0 1022.4,356.1 1021.5,360.6 1020.5,357.0 1019.6,359.0 1018.6,356.4 1017.7,366.0 1016.7,356.0 1015.8,358.7 1014.9,357.6 1013.9,356.4" fill="#B46A2A" fill-opacity="0.88"/>
<polygon points="954.5,65.7 955.4,78.2 956.4,94.2 957.3,107.5 958.3,112.9 959.2,118.5 960.2,129.9 961.1,133.7 962.0,145.2 963.0,149.1 963.9,155.7 964.9,160.2 965.8,162.0 966.8,171.7 967.7,170.8 968.6,180.9 969.6,180.9 970.5,188.7 971.5,196.1 972.4,201.5 973.4,204.1 974.3,205.1 975.2,216.7 976.2,218.0 977.1,219.7 978.1,227.1 979.0,230.8 980.0,237.1 980.9,239.0 981.8,242.8 982.8,242.5 983.7,247.5 984.7,250.6 985.6,252.2 986.6,254.6 987.5,256.5 988.4,256.2 989.4,260.8 990.3,270.9 991.3,271.7 992.2,277.6 993.2,278.3 994.1,282.8 995.0,278.2 996.0,288.8 996.9,288.0 997.9,294.4 998.8,299.4 999.8,304.4 1000.7,304.7 1001.6,305.3 1002.6,306.6 1003.5,309.4 1004.5,311.0 1005.4,308.6 1006.4,310.3 1007.3,311.6 1008.3,311.5 1009.2,315.0 1010.1,314.5 1011.1,312.4 1012.0,312.1 1013.0,316.6 1013.9,316.4 1014.9,310.1 1015.8,311.3 1016.7,316.6 1017.7,315.0 1018.6,317.7 1019.6,321.8 1020.5,319.2 1021.5,323.1 1022.4,324.6 1023.3,324.9 1024.3,324.4 1025.2,327.5 1026.2,326.3 1027.1,328.5 1028.1,329.8 1029.0,328.1 1029.9,328.8 1030.9,330.2 1031.8,328.8 1032.8,330.4 1033.7,328.3 1034.7,332.4 1035.6,331.5 1036.5,331.2 1037.5,332.7 1038.4,325.8 1039.4,329.7 1040.3,331.5 1041.3,330.5 1042.2,332.5 1043.1,331.6 1044.1,331.5 1045.0,333.3 1046.0,331.9 1046.9,328.1 1047.9,334.4 1048.8,332.8 1049.7,332.2 1050.7,326.1 1051.6,326.3 1052.6,333.5 1053.5,332.5 1054.5,334.3 1055.4,337.7 1056.3,336.8 1057.3,334.6 1058.2,334.4 1059.2,336.4 1060.1,331.1 1061.1,334.2 1062.0,335.5 1062.9,331.2 1063.9,334.5 1064.8,333.0 1065.8,336.7 1066.7,336.7 1067.7,337.6 1068.6,337.5 1069.5,336.6 1070.5,336.8 1071.4,335.8 1072.4,334.6 1073.3,338.9 1074.3,341.1 1075.2,340.6 1076.1,335.6 1077.1,337.2 1078.0,334.2 1079.0,330.6 1079.9,330.5 1080.9,324.0 1081.8,321.8 1082.7,323.0 1083.7,318.5 1084.6,315.7 1085.6,313.6 1086.5,311.2 1087.5,304.9 1088.4,306.9 1089.3,302.9 1090.3,300.4 1091.2,296.4 1092.2,297.7 1093.1,294.5 1094.1,291.7 1095.0,293.2 1095.9,290.6 1096.9,292.2 1097.8,288.3 1098.8,290.1 1099.7,288.9 1100.7,284.8 1101.6,280.0 1102.5,282.7 1103.5,273.7 1104.4,277.6 1105.4,276.5 1106.3,271.6 1107.3,273.4 1108.2,270.5 1109.2,274.3 1110.1,267.9 1111.0,271.3 1112.0,270.3 1112.9,270.9 1113.9,271.0 1114.8,274.2 1115.8,272.9 1116.7,272.8 1117.6,272.9 1118.6,263.6 1119.5,267.1 1120.5,270.6 1121.4,266.4 1122.4,268.1 1123.3,263.2 1124.2,264.9 1125.2,265.6 1126.1,268.5 1127.1,268.2 1128.0,267.1 1129.0,268.4 1129.9,266.2 1130.8,263.3 1131.8,266.5 1132.7,267.7 1133.7,267.6 1134.6,263.2 1135.6,266.7 1136.5,263.5 1137.4,265.4 1138.4,266.3 1139.3,265.4 1140.3,264.8 1141.2,264.9 1142.2,263.2 1143.1,264.6 1144.0,266.2 1145.0,266.0 1145.9,262.7 1146.9,263.9 1147.8,266.6 1148.8,264.8 1149.7,268.6 1150.6,267.0 1151.6,266.9 1152.5,264.7 1153.5,260.1 1154.4,263.4 1155.4,262.0 1156.3,264.0 1157.2,267.0 1158.2,269.6 1159.1,270.8 1160.1,268.0 1161.0,269.2 1162.0,269.5 1162.9,269.6 1163.8,268.9 1164.8,261.1 1165.7,265.4 1166.7,267.6 1167.6,265.4 1168.6,268.8 1169.5,264.9 1170.4,265.7 1171.4,265.2 1172.3,263.2 1173.3,264.1 1174.2,263.8 1175.2,262.4 1176.1,265.2 1177.0,263.1 1178.0,263.7 1178.9,261.3 1179.9,262.2 1180.8,256.6 1181.8,264.3 1182.7,257.9 1183.6,261.0 1184.6,262.1 1185.5,262.4 1186.5,266.2 1187.4,265.5 1188.4,266.0 1189.3,267.6 1190.2,267.3 1191.2,260.5 1192.1,262.2 1193.1,264.9 1194.0,261.4 1195.0,263.5 1195.9,260.0 1196.8,264.0 1197.8,266.9 1198.7,269.7 1199.7,267.8 1200.6,269.2 1201.6,269.1 1202.5,268.2 1203.4,266.6 1204.4,266.5 1205.3,267.3 1206.3,268.4 1207.2,269.3 1208.2,268.3 1209.1,267.8 1210.1,265.8 1211.0,262.5 1211.9,267.3 1212.9,262.6 1213.8,267.0 1214.8,267.3 1215.7,270.5 1216.7,270.2 1217.6,269.3 1218.5,269.4 1219.5,265.4 1220.4,263.7 1221.4,264.1 1222.3,262.7 1223.3,263.9 1224.2,259.9 1225.1,263.6 1226.1,265.0 1227.0,262.9 1228.0,267.0 1228.9,267.3 1229.9,264.2 1230.8,267.9 1231.7,266.8 1232.7,265.9 1233.6,259.7 1234.6,266.9 1235.5,262.5 1236.5,255.9 1237.4,264.0 1238.3,265.1 1239.3,266.6 1240.2,266.5 1241.2,265.5 1242.1,265.8 1243.1,268.3 1244.0,262.2 1244.9,266.9 1245.9,264.3 1246.8,264.5 1247.8,267.2 1248.7,266.5 1249.7,268.3 1249.7,279.0 1248.7,279.5 1247.8,279.8 1246.8,280.2 1245.9,282.5 1244.9,279.5 1244.0,280.6 1243.1,277.6 1242.1,277.5 1241.2,277.6 1240.2,280.3 1239.3,276.4 1238.3,276.8 1237.4,275.4 1236.5,276.1 1235.5,279.8 1234.6,287.3 1233.6,281.3 1232.7,280.4 1231.7,283.8 1230.8,281.1 1229.9,284.3 1228.9,276.9 1228.0,277.7 1227.0,275.3 1226.1,277.0 1225.1,275.4 1224.2,275.5 1223.3,275.7 1222.3,280.3 1221.4,279.9 1220.4,276.6 1219.5,279.6 1218.5,282.9 1217.6,280.3 1216.7,283.0 1215.7,283.8 1214.8,280.6 1213.8,279.1 1212.9,278.1 1211.9,279.5 1211.0,278.8 1210.1,279.4 1209.1,280.2 1208.2,284.4 1207.2,284.8 1206.3,278.9 1205.3,282.1 1204.4,281.1 1203.4,280.6 1202.5,280.2 1201.6,282.7 1200.6,278.8 1199.7,279.3 1198.7,281.9 1197.8,281.2 1196.8,277.8 1195.9,284.1 1195.0,275.4 1194.0,277.2 1193.1,280.2 1192.1,277.9 1191.2,275.1 1190.2,277.9 1189.3,279.1 1188.4,278.8 1187.4,280.4 1186.5,278.3 1185.5,278.7 1184.6,279.6 1183.6,280.4 1182.7,274.4 1181.8,275.0 1180.8,275.2 1179.9,274.2 1178.9,276.2 1178.0,272.9 1177.0,279.3 1176.1,276.2 1175.2,277.7 1174.2,276.3 1173.3,276.2 1172.3,279.3 1171.4,278.6 1170.4,276.1 1169.5,278.1 1168.6,278.9 1167.6,282.4 1166.7,281.5 1165.7,278.6 1164.8,280.5 1163.8,280.3 1162.9,283.0 1162.0,281.2 1161.0,281.1 1160.1,279.9 1159.1,281.9 1158.2,286.6 1157.2,279.3 1156.3,278.3 1155.4,277.7 1154.4,277.5 1153.5,281.2 1152.5,279.7 1151.6,282.2 1150.6,283.1 1149.7,280.5 1148.8,279.4 1147.8,283.8 1146.9,280.0 1145.9,277.5 1145.0,278.7 1144.0,276.1 1143.1,279.6 1142.2,281.9 1141.2,281.1 1140.3,275.6 1139.3,276.8 1138.4,277.1 1137.4,275.7 1136.5,278.8 1135.6,280.0 1134.6,281.8 1133.7,281.0 1132.7,280.5 1131.8,279.7 1130.8,281.1 1129.9,278.0 1129.0,282.8 1128.0,277.4 1127.1,278.4 1126.1,278.3 1125.2,277.9 1124.2,281.0 1123.3,280.3 1122.4,279.1 1121.4,280.5 1120.5,280.0 1119.5,279.8 1118.6,283.5 1117.6,287.4 1116.7,288.8 1115.8,285.0 1114.8,286.9 1113.9,283.9 1112.9,284.0 1112.0,286.8 1111.0,283.7 1110.1,291.1 1109.2,286.7 1108.2,283.4 1107.3,283.8 1106.3,286.9 1105.4,287.6 1104.4,291.1 1103.5,293.9 1102.5,293.0 1101.6,294.5 1100.7,298.1 1099.7,301.6 1098.8,303.6 1097.8,304.6 1096.9,306.0 1095.9,302.4 1095.0,304.2 1094.1,304.6 1093.1,306.7 1092.2,308.2 1091.2,315.6 1090.3,314.6 1089.3,316.0 1088.4,316.2 1087.5,325.1 1086.5,324.7 1085.6,328.2 1084.6,333.4 1083.7,329.8 1082.7,333.3 1081.8,335.9 1080.9,342.5 1079.9,340.9 1079.0,344.4 1078.0,350.5 1077.1,346.5 1076.1,349.0 1075.2,351.9 1074.3,355.9 1073.3,356.6 1072.4,355.9 1071.4,352.8 1070.5,349.9 1069.5,349.4 1068.6,346.7 1067.7,348.3 1066.7,352.0 1065.8,354.6 1064.8,350.7 1063.9,347.1 1062.9,350.8 1062.0,347.4 1061.1,347.5 1060.1,346.2 1059.2,349.5 1058.2,350.3 1057.3,352.1 1056.3,349.2 1055.4,349.0 1054.5,348.0 1053.5,349.6 1052.6,346.9 1051.6,348.3 1050.7,344.8 1049.7,349.3 1048.8,344.5 1047.9,348.4 1046.9,353.0 1046.0,346.5 1045.0,346.6 1044.1,346.0 1043.1,345.3 1042.2,344.1 1041.3,346.6 1040.3,343.7 1039.4,344.2 1038.4,344.2 1037.5,346.3 1036.5,344.8 1035.6,345.7 1034.7,341.9 1033.7,341.3 1032.8,340.5 1031.8,341.3 1030.9,340.0 1029.9,345.4 1029.0,343.2 1028.1,340.2 1027.1,343.0 1026.2,339.1 1025.2,338.2 1024.3,339.2 1023.3,336.2 1022.4,337.5 1021.5,340.4 1020.5,333.1 1019.6,330.8 1018.6,330.1 1017.7,331.7 1016.7,335.1 1015.8,330.7 1014.9,329.1 1013.9,329.0 1013.0,328.0 1012.0,327.8 1011.1,326.6 1010.1,324.8 1009.2,325.5 1008.3,326.3 1007.3,325.3 1006.4,326.0 1005.4,327.6 1004.5,320.6 1003.5,321.6 1002.6,319.2 1001.6,325.1 1000.7,316.7 999.8,312.9 998.8,315.3 997.9,307.2 996.9,302.9 996.0,299.0 995.0,298.5 994.1,294.6 993.2,292.6 992.2,287.1 991.3,284.7 990.3,282.6 989.4,279.3 988.4,272.4 987.5,270.4 986.6,265.7 985.6,262.9 984.7,270.2 983.7,261.0 982.8,255.9 981.8,257.1 980.9,255.5 980.0,246.7 979.0,245.7 978.1,239.2 977.1,234.3 976.2,233.2 975.2,226.7 974.3,224.1 973.4,217.6 972.4,214.1 971.5,211.8 970.5,200.7 969.6,198.7 968.6,190.7 967.7,185.9 966.8,184.3 965.8,175.6 964.9,172.2 963.9,165.5 963.0,164.5 962.0,155.4 961.1,147.2 960.2,142.1 959.2,134.5 958.3,124.9 957.3,124.5 956.4,111.8 955.4,94.4 954.5,75.2" fill="#1414F0"/>
<polygon points="1250.6,605.0 1251.5,591.4 1252.5,577.3 1253.4,558.2 1254.4,545.5 1255.3,538.0 1256.3,527.7 1257.2,519.3 1258.1,505.6 1259.1,497.7 1260.0,485.2 1261.0,474.2 1261.9,470.9 1262.9,469.0 1263.8,458.6 1264.7,457.8 1265.7,451.7 1266.6,447.6 1267.6,442.8 1268.5,437.9 1269.5,437.2 1270.4,431.5 1271.3,423.7 1272.3,419.7 1273.2,420.6 1274.2,411.2 1275.1,412.8 1276.1,405.8 1277.0,401.8 1277.9,398.6 1278.9,398.7 1279.8,392.1 1280.8,388.1 1281.7,389.4 1282.7,390.5 1283.6,388.8 1284.5,384.8 1285.5,382.9 1286.4,379.9 1287.4,376.2 1288.3,377.7 1289.3,377.4 1290.2,372.2 1291.1,377.7 1292.1,377.1 1293.0,374.8 1294.0,374.2 1294.9,366.5 1295.9,366.4 1296.8,372.0 1297.7,367.7 1298.7,367.1 1299.6,366.0 1300.6,369.1 1301.5,368.0 1302.5,359.9 1303.4,362.1 1304.4,360.0 1305.3,360.7 1306.2,361.9 1307.2,356.7 1308.1,358.7 1309.1,355.9 1310.0,354.0 1311.0,356.0 1311.9,353.9 1312.8,353.3 1313.8,355.3 1314.7,355.1 1315.7,355.8 1316.6,351.7 1317.6,355.3 1318.5,354.2 1319.4,355.9 1320.4,354.7 1321.3,354.3 1322.3,353.6 1323.2,352.1 1324.2,350.1 1325.1,347.7 1326.0,348.5 1327.0,351.3 1327.9,352.8 1328.9,350.1 1329.8,351.4 1330.8,351.7 1331.7,352.8 1332.6,354.2 1333.6,350.0 1334.5,355.7 1335.5,354.4 1336.4,351.0 1337.4,351.2 1338.3,351.3 1339.2,348.7 1340.2,350.3 1341.1,350.6 1342.1,352.7 1343.0,351.1 1344.0,346.1 1344.9,349.8 1345.8,344.3 1346.8,347.2 1347.7,350.7 1348.7,343.8 1349.6,350.9 1350.6,349.4 1351.5,347.8 1352.4,352.2 1353.4,352.4 1354.3,351.8 1355.3,352.8 1356.2,349.2 1357.2,347.6 1358.1,351.1 1359.0,343.4 1360.0,345.5 1360.9,346.6 1361.9,346.9 1362.8,345.8 1363.8,347.3 1364.7,348.6 1365.6,348.7 1366.6,346.5 1367.5,346.8 1368.5,354.9 1369.4,355.6 1370.4,354.1 1371.3,349.9 1372.2,353.6 1373.2,344.0 1374.1,351.3 1375.1,351.7 1376.0,339.6 1377.0,346.8 1377.9,346.3 1378.8,347.4 1379.8,345.7 1380.7,346.3 1381.7,349.4 1382.6,348.8 1383.6,350.6 1384.5,349.7 1385.4,347.2 1386.4,351.2 1387.3,353.9 1388.3,350.9 1389.2,354.8 1390.2,348.5 1391.1,351.8 1392.0,348.8 1393.0,352.1 1393.9,350.9 1394.9,350.7 1395.8,349.9 1396.8,349.3 1397.7,349.7 1398.6,353.0 1399.6,351.7 1400.5,347.3 1401.5,346.6 1402.4,349.4 1403.4,351.3 1404.3,351.1 1405.3,350.8 1406.2,354.2 1407.1,347.5 1408.1,352.4 1409.0,347.7 1410.0,347.3 1410.9,350.1 1411.9,348.0 1412.8,350.0 1413.7,345.1 1414.7,347.8 1415.6,349.1 1416.6,351.2 1417.5,348.1 1418.5,352.5 1419.4,352.4 1420.3,350.1 1421.3,350.7 1422.2,349.8 1423.2,350.9 1424.1,351.2 1425.1,350.5 1426.0,352.4 1426.9,353.6 1427.9,351.1 1428.8,350.8 1429.8,354.9 1430.7,348.6 1431.7,353.6 1432.6,352.0 1433.5,353.0 1434.5,352.6 1435.4,350.7 1436.4,350.9 1437.3,341.5 1438.3,351.2 1439.2,352.6 1440.1,352.3 1441.1,346.6 1442.0,348.9 1443.0,350.6 1443.9,349.9 1444.9,352.9 1445.8,349.3 1446.7,349.0 1447.7,352.1 1448.6,354.3 1449.6,349.2 1450.5,349.0 1451.5,349.8 1452.4,348.7 1453.3,349.3 1454.3,346.3 1455.2,349.3 1456.2,349.2 1457.1,351.1 1458.1,353.9 1459.0,353.0 1459.9,353.1 1460.9,352.1 1461.8,353.5 1462.8,352.3 1463.7,350.6 1464.7,355.9 1465.6,357.8 1466.5,351.2 1467.5,358.5 1468.4,349.1 1469.4,352.9 1470.3,353.7 1471.3,355.6 1472.2,356.1 1473.1,354.2 1474.1,352.2 1475.0,352.6 1476.0,347.3 1476.9,353.2 1477.9,354.8 1478.8,348.1 1479.7,351.7 1480.7,353.9 1481.6,352.3 1482.6,348.0 1483.5,351.4 1484.5,350.3 1485.4,350.9 1486.3,350.9 1487.3,350.3 1488.2,351.2 1489.2,347.9 1490.1,354.0 1491.1,354.5 1492.0,355.1 1492.9,352.0 1493.9,351.8 1494.8,352.3 1495.8,352.2 1496.7,353.6 1497.7,350.2 1498.6,352.2 1499.5,346.4 1500.5,347.7 1501.4,351.0 1502.4,351.8 1503.3,345.2 1504.3,348.4 1505.2,350.7 1506.2,352.4 1507.1,350.5 1508.0,350.1 1509.0,347.0 1509.9,348.0 1510.9,348.6 1511.8,347.3 1512.8,349.8 1513.7,350.5 1514.6,348.4 1515.6,348.9 1516.5,350.4 1517.5,351.5 1518.4,351.6 1519.4,347.4 1520.3,350.2 1521.2,351.6 1522.2,351.6 1523.1,347.9 1524.1,347.6 1525.0,348.9 1526.0,353.1 1526.9,350.3 1527.8,350.9 1528.8,353.2 1529.7,349.8 1530.7,352.9 1531.6,345.1 1532.6,351.6 1533.5,349.5 1534.4,348.9 1535.4,346.6 1536.3,350.4 1537.3,350.9 1538.2,350.4 1538.2,363.9 1537.3,360.2 1536.3,363.2 1535.4,362.6 1534.4,369.0 1533.5,361.0 1532.6,361.7 1531.6,361.5 1530.7,365.5 1529.7,365.5 1528.8,362.1 1527.8,363.0 1526.9,369.6 1526.0,362.0 1525.0,364.1 1524.1,361.4 1523.1,362.8 1522.2,365.7 1521.2,363.6 1520.3,363.4 1519.4,367.5 1518.4,361.1 1517.5,366.6 1516.5,366.2 1515.6,363.0 1514.6,362.7 1513.7,362.5 1512.8,363.2 1511.8,363.8 1510.9,368.3 1509.9,360.7 1509.0,362.0 1508.0,360.4 1507.1,360.6 1506.2,363.9 1505.2,361.4 1504.3,364.3 1503.3,364.9 1502.4,363.0 1501.4,361.6 1500.5,363.6 1499.5,363.7 1498.6,363.0 1497.7,366.3 1496.7,362.4 1495.8,364.0 1494.8,364.1 1493.9,366.6 1492.9,368.9 1492.0,366.7 1491.1,373.4 1490.1,366.3 1489.2,368.7 1488.2,364.7 1487.3,361.2 1486.3,362.7 1485.4,363.3 1484.5,364.1 1483.5,362.7 1482.6,364.9 1481.6,365.0 1480.7,369.7 1479.7,364.8 1478.8,363.4 1477.9,368.6 1476.9,365.4 1476.0,369.5 1475.0,368.7 1474.1,371.2 1473.1,364.9 1472.2,365.5 1471.3,365.0 1470.3,364.6 1469.4,365.1 1468.4,366.4 1467.5,367.5 1466.5,368.0 1465.6,368.3 1464.7,367.2 1463.7,373.8 1462.8,364.3 1461.8,372.6 1460.9,364.6 1459.9,362.9 1459.0,368.9 1458.1,366.2 1457.1,368.1 1456.2,362.3 1455.2,367.6 1454.3,360.5 1453.3,359.1 1452.4,362.4 1451.5,365.8 1450.5,361.3 1449.6,371.3 1448.6,368.2 1447.7,364.3 1446.7,364.9 1445.8,363.0 1444.9,367.9 1443.9,366.7 1443.0,360.6 1442.0,365.8 1441.1,365.8 1440.1,365.3 1439.2,365.4 1438.3,362.2 1437.3,363.7 1436.4,361.6 1435.4,362.1 1434.5,368.0 1433.5,371.5 1432.6,368.6 1431.7,365.3 1430.7,363.7 1429.8,366.8 1428.8,368.3 1427.9,370.1 1426.9,362.6 1426.0,370.0 1425.1,364.7 1424.1,361.5 1423.2,366.8 1422.2,364.3 1421.3,368.9 1420.3,367.9 1419.4,364.5 1418.5,367.2 1417.5,366.8 1416.6,361.8 1415.6,362.6 1414.7,362.5 1413.7,359.1 1412.8,365.6 1411.9,363.1 1410.9,366.4 1410.0,365.7 1409.0,362.6 1408.1,367.1 1407.1,366.6 1406.2,363.7 1405.3,363.9 1404.3,363.8 1403.4,361.2 1402.4,362.9 1401.5,360.5 1400.5,365.3 1399.6,364.1 1398.6,362.8 1397.7,370.5 1396.8,362.9 1395.8,363.2 1394.9,364.3 1393.9,363.4 1393.0,362.3 1392.0,362.0 1391.1,363.1 1390.2,367.9 1389.2,365.0 1388.3,367.1 1387.3,371.0 1386.4,365.6 1385.4,367.8 1384.5,360.6 1383.6,365.4 1382.6,359.8 1381.7,364.4 1380.7,358.2 1379.8,362.8 1378.8,360.3 1377.9,358.8 1377.0,361.5 1376.0,361.2 1375.1,364.1 1374.1,367.0 1373.2,368.7 1372.2,366.8 1371.3,369.3 1370.4,367.0 1369.4,365.0 1368.5,366.4 1367.5,363.2 1366.6,366.7 1365.6,363.9 1364.7,359.6 1363.8,360.5 1362.8,361.4 1361.9,360.6 1360.9,358.6 1360.0,365.3 1359.0,361.2 1358.1,360.5 1357.2,365.0 1356.2,360.8 1355.3,367.0 1354.3,364.1 1353.4,362.4 1352.4,362.6 1351.5,363.2 1350.6,362.8 1349.6,364.0 1348.7,366.7 1347.7,363.8 1346.8,362.7 1345.8,362.2 1344.9,369.3 1344.0,365.2 1343.0,363.2 1342.1,361.4 1341.1,365.0 1340.2,360.9 1339.2,361.4 1338.3,362.0 1337.4,362.3 1336.4,366.6 1335.5,365.7 1334.5,369.1 1333.6,366.2 1332.6,366.6 1331.7,367.2 1330.8,363.9 1329.8,368.2 1328.9,370.0 1327.9,364.6 1327.0,362.5 1326.0,364.0 1325.1,367.8 1324.2,362.3 1323.2,364.7 1322.3,367.2 1321.3,368.3 1320.4,373.3 1319.4,369.3 1318.5,368.1 1317.6,372.2 1316.6,369.6 1315.7,370.1 1314.7,370.8 1313.8,365.6 1312.8,365.2 1311.9,367.0 1311.0,365.4 1310.0,368.6 1309.1,367.5 1308.1,369.6 1307.2,373.7 1306.2,371.5 1305.3,374.7 1304.4,380.7 1303.4,376.2 1302.5,380.2 1301.5,382.5 1300.6,378.1 1299.6,379.1 1298.7,381.6 1297.7,383.7 1296.8,381.9 1295.9,382.1 1294.9,383.4 1294.0,390.6 1293.0,385.8 1292.1,387.8 1291.1,387.1 1290.2,390.4 1289.3,389.5 1288.3,389.9 1287.4,390.0 1286.4,392.6 1285.5,394.3 1284.5,399.4 1283.6,398.9 1282.7,401.8 1281.7,403.5 1280.8,404.6 1279.8,407.6 1278.9,412.1 1277.9,414.1 1277.0,414.9 1276.1,423.4 1275.1,429.0 1274.2,428.0 1273.2,432.1 1272.3,433.7 1271.3,436.9 1270.4,444.7 1269.5,448.5 1268.5,450.9 1267.6,453.8 1266.6,460.1 1265.7,467.8 1264.7,475.3 1263.8,477.9 1262.9,480.8 1261.9,492.7 1261.0,494.6 1260.0,500.3 1259.1,512.3 1258.1,521.2 1257.2,529.8 1256.3,542.6 1255.3,553.5 1254.4,559.8 1253.4,577.6 1252.5,589.3 1251.5,603.1 1250.6,614.2" fill="#1414F0"/>
<line x1="1249.7" y1="272.6" x2="1250.6" y2="609.7" stroke="#1414F0" stroke-width="1" stroke-opacity="0.45"/>
<path d="M954.5,70.7 L955.4,88.6 L956.4,105.2 L957.3,112.5 L958.3,119.8 L959.2,127.0 L960.2,134.2 L961.1,141.7 L962.0,149.3 L963.0,154.9 L963.9,160.1 L964.9,165.5 L965.8,170.9 L966.8,176.2 L967.7,181.3 L968.6,186.4 L969.6,191.3 L970.5,196.3 L971.5,201.4 L972.4,206.6 L973.4,211.9 L974.3,217.2 L975.2,221.5 L976.2,225.5 L977.1,229.4 L978.1,233.5 L979.0,237.7 L980.0,241.8 L980.9,245.4 L981.8,248.6 L982.8,251.3 L983.7,253.7 L984.7,256.1 L985.6,258.7 L986.6,261.7 L987.5,264.8 L988.4,268.1 L989.4,271.7 L990.3,275.2 L991.3,278.8 L992.2,282.3 L993.2,285.7 L994.1,289.0 L995.0,292.0 L996.0,294.8 L996.9,297.7 L997.9,301.1 L998.8,304.9 L999.8,308.6 L1000.7,310.9 L1001.6,312.9 M1075.2,346.3 L1076.1,344.4 L1077.1,342.2 L1078.0,340.0 L1079.0,338.0 L1079.9,335.0 L1080.9,332.6 L1081.8,330.1 L1082.7,327.5 L1083.7,325.0 L1084.6,322.4 L1085.6,319.5 L1086.5,316.6 L1087.5,313.7 L1088.4,311.7 L1089.3,309.7 L1090.3,307.3 L1091.2,304.7 L1092.2,302.2 L1093.1,300.2 M1098.8,296.0 L1099.7,294.3 L1100.7,292.0 L1101.6,289.6 L1102.5,287.1 L1103.5,285.0 L1104.4,283.1 L1105.4,281.4 M1250.6,609.7 L1251.5,596.3 L1252.5,582.5 L1253.4,568.5 L1254.4,555.6 L1255.3,545.0 L1256.3,534.6 L1257.2,524.5 L1258.1,514.9 L1259.1,505.5 L1260.0,495.8 L1261.0,485.9 L1261.9,479.7 L1262.9,474.3 L1263.8,468.9 L1264.7,463.4 L1265.7,458.3 L1266.6,453.8 L1267.6,449.6 L1268.5,445.7 L1269.5,441.4 L1270.4,436.8 L1271.3,431.9 L1272.3,428.7 L1273.2,425.0 L1274.2,421.2 L1275.1,417.4 L1276.1,413.8 L1277.0,410.6 L1277.9,407.7 L1278.9,405.2 L1279.8,402.8 L1280.8,400.3 L1281.7,397.7 L1282.7,395.6 L1283.6,393.3 L1284.5,390.8 L1285.5,388.3 L1286.4,386.2 M1304.4,369.9 L1305.3,368.2 L1306.2,366.4 L1307.2,364.8" fill="none" stroke="#1414F0" stroke-width="3.0" stroke-linejoin="round"/>
<path d="M1070.5,343.8 L1071.4,345.3 M1181.8,268.6 L1182.7,270.1 L1183.6,271.7 M1365.6,356.0 L1366.6,357.6" fill="none" stroke="#1414F0" stroke-width="1.3" stroke-linejoin="round"/>
<polygon points="954.5,11.6 955.4,21.1 956.4,36.0 957.3,42.1 958.3,52.0 959.2,59.8 960.2,68.7 961.1,72.9 962.0,77.6 963.0,86.0 963.9,96.5 964.9,104.3 965.8,108.1 966.8,115.3 967.7,124.2 968.6,130.0 969.6,133.1 970.5,140.8 971.5,149.4 972.4,154.0 973.4,157.1 974.3,158.3 975.2,168.4 976.2,172.0 977.1,182.1 978.1,187.8 979.0,191.5 980.0,195.7 980.9,198.9 981.8,203.1 982.8,208.2 983.7,212.5 984.7,214.0 985.6,218.7 986.6,226.7 987.5,235.6 988.4,238.7 989.4,246.8 990.3,255.1 991.3,258.9 992.2,265.0 993.2,271.7 994.1,273.5 995.0,273.4 996.0,271.0 996.9,261.9 997.9,268.4 998.8,266.7 999.8,260.1 1000.7,264.5 1001.6,264.1 1002.6,259.1 1003.5,259.2 1004.5,261.3 1005.4,259.1 1006.4,252.8 1007.3,253.2 1008.3,249.3 1009.2,244.4 1010.1,244.8 1011.1,242.7 1012.0,244.8 1013.0,246.3 1013.9,248.2 1014.9,244.7 1015.8,244.6 1016.7,245.1 1017.7,245.5 1018.6,239.3 1019.6,244.7 1020.5,244.7 1021.5,244.1 1022.4,241.9 1023.3,236.4 1024.3,239.1 1025.2,241.3 1026.2,241.8 1027.1,239.3 1028.1,237.6 1029.0,240.6 1029.9,242.5 1030.9,236.9 1031.8,240.4 1032.8,237.6 1033.7,238.0 1034.7,238.7 1035.6,239.0 1036.5,240.5 1037.5,241.0 1038.4,237.5 1039.4,241.0 1040.3,243.3 1041.3,243.9 1042.2,239.4 1043.1,239.9 1044.1,242.8 1045.0,240.3 1046.0,236.6 1046.9,243.0 1047.9,236.9 1048.8,243.1 1049.7,238.3 1050.7,242.7 1051.6,240.8 1052.6,237.1 1053.5,242.0 1054.5,241.6 1055.4,239.8 1056.3,240.6 1057.3,243.2 1058.2,242.8 1059.2,236.8 1060.1,244.7 1061.1,244.7 1062.0,239.1 1062.9,242.7 1063.9,242.0 1064.8,238.9 1065.8,243.9 1066.7,238.6 1067.7,237.1 1068.6,240.9 1069.5,240.1 1070.5,237.2 1071.4,234.9 1072.4,236.7 1073.3,240.4 1074.3,242.6 1075.2,241.0 1076.1,244.9 1077.1,243.1 1078.0,241.4 1079.0,239.8 1079.9,240.9 1080.9,236.5 1081.8,237.0 1082.7,239.0 1083.7,233.7 1084.6,239.4 1085.6,241.1 1086.5,237.9 1087.5,237.0 1088.4,239.3 1089.3,235.0 1090.3,239.8 1091.2,238.0 1092.2,241.2 1093.1,238.3 1094.1,240.7 1095.0,240.7 1095.9,241.4 1096.9,239.8 1097.8,243.2 1098.8,242.4 1099.7,238.9 1100.7,243.1 1101.6,240.2 1102.5,242.8 1103.5,239.1 1104.4,243.5 1105.4,240.3 1106.3,239.2 1107.3,239.0 1108.2,240.0 1109.2,235.8 1110.1,237.2 1111.0,240.1 1112.0,242.6 1112.9,243.0 1113.9,241.9 1114.8,243.5 1115.8,243.8 1116.7,240.6 1117.6,238.3 1118.6,241.0 1119.5,241.4 1120.5,237.8 1121.4,233.5 1122.4,243.6 1123.3,241.1 1124.2,239.6 1125.2,239.1 1126.1,241.5 1127.1,240.7 1128.0,243.4 1129.0,240.1 1129.9,242.5 1130.8,239.3 1131.8,243.9 1132.7,240.1 1133.7,243.4 1134.6,237.6 1135.6,240.8 1136.5,242.3 1137.4,242.2 1138.4,242.5 1139.3,232.0 1140.3,241.4 1141.2,241.6 1142.2,244.0 1143.1,239.4 1144.0,240.0 1145.0,237.7 1145.9,235.5 1146.9,235.6 1147.8,236.7 1148.8,233.9 1149.7,238.0 1150.6,239.8 1151.6,236.0 1152.5,238.8 1153.5,239.3 1154.4,237.7 1155.4,241.4 1156.3,241.6 1157.2,241.4 1158.2,241.6 1159.1,239.7 1160.1,242.0 1161.0,237.9 1162.0,241.4 1162.9,234.3 1163.8,240.0 1164.8,241.3 1165.7,238.8 1166.7,244.4 1167.6,241.5 1168.6,243.5 1169.5,239.8 1170.4,243.1 1171.4,243.3 1172.3,240.3 1173.3,242.0 1174.2,236.3 1175.2,241.4 1176.1,241.2 1177.0,238.7 1178.0,239.1 1178.9,242.1 1179.9,241.6 1180.8,238.3 1181.8,236.6 1182.7,236.4 1183.6,241.3 1184.6,241.2 1185.5,240.2 1186.5,235.7 1187.4,240.8 1188.4,241.8 1189.3,241.3 1190.2,239.2 1191.2,243.4 1192.1,243.7 1193.1,241.7 1194.0,240.1 1195.0,242.3 1195.9,237.8 1196.8,235.6 1197.8,239.6 1198.7,242.3 1199.7,244.0 1200.6,243.6 1201.6,245.0 1202.5,237.6 1203.4,240.9 1204.4,242.3 1205.3,233.6 1206.3,241.9 1207.2,237.2 1208.2,239.6 1209.1,239.8 1210.1,239.1 1211.0,240.9 1211.9,240.8 1212.9,243.5 1213.8,237.4 1214.8,241.7 1215.7,241.9 1216.7,241.2 1217.6,236.4 1218.5,238.5 1219.5,240.3 1220.4,241.3 1221.4,239.8 1222.3,240.3 1223.3,241.8 1224.2,237.4 1225.1,236.8 1226.1,239.2 1227.0,235.9 1228.0,240.2 1228.9,242.3 1229.9,242.9 1230.8,242.7 1231.7,240.1 1232.7,240.5 1233.6,237.6 1234.6,236.5 1235.5,237.7 1236.5,238.2 1237.4,238.8 1238.3,239.8 1239.3,235.0 1240.2,237.6 1241.2,236.6 1242.1,236.4 1243.1,239.0 1244.0,237.7 1244.9,237.5 1245.9,240.3 1246.8,235.5 1247.8,241.8 1248.7,237.0 1249.7,236.6 1249.7,255.3 1248.7,254.9 1247.8,253.1 1246.8,255.9 1245.9,254.1 1244.9,253.0 1244.0,249.5 1243.1,249.3 1242.1,252.1 1241.2,254.6 1240.2,251.9 1239.3,249.0 1238.3,258.0 1237.4,251.1 1236.5,250.1 1235.5,251.8 1234.6,252.0 1233.6,252.8 1232.7,257.2 1231.7,261.3 1230.8,255.9 1229.9,257.8 1228.9,254.1 1228.0,255.4 1227.0,252.7 1226.1,251.2 1225.1,253.3 1224.2,253.0 1223.3,251.7 1222.3,254.1 1221.4,254.2 1220.4,255.8 1219.5,253.2 1218.5,251.8 1217.6,250.8 1216.7,256.2 1215.7,251.2 1214.8,255.2 1213.8,254.6 1212.9,252.8 1211.9,256.8 1211.0,254.5 1210.1,252.0 1209.1,251.3 1208.2,251.5 1207.2,256.3 1206.3,253.1 1205.3,254.9 1204.4,258.5 1203.4,255.2 1202.5,263.1 1201.6,260.5 1200.6,256.9 1199.7,254.7 1198.7,253.6 1197.8,256.6 1196.8,256.9 1195.9,257.2 1195.0,256.4 1194.0,252.5 1193.1,253.9 1192.1,256.2 1191.2,252.5 1190.2,254.5 1189.3,255.3 1188.4,251.1 1187.4,254.7 1186.5,251.7 1185.5,252.1 1184.6,254.6 1183.6,251.4 1182.7,254.1 1181.8,252.3 1180.8,253.8 1179.9,254.8 1178.9,255.3 1178.0,253.8 1177.0,253.6 1176.1,255.6 1175.2,252.9 1174.2,252.9 1173.3,259.8 1172.3,255.0 1171.4,261.8 1170.4,257.4 1169.5,258.1 1168.6,258.6 1167.6,254.2 1166.7,253.0 1165.7,258.5 1164.8,253.0 1163.8,253.6 1162.9,255.8 1162.0,257.0 1161.0,255.4 1160.1,260.4 1159.1,252.0 1158.2,256.1 1157.2,258.4 1156.3,252.8 1155.4,253.5 1154.4,255.0 1153.5,251.9 1152.5,253.3 1151.6,251.9 1150.6,249.0 1149.7,252.2 1148.8,248.1 1147.8,248.2 1146.9,251.3 1145.9,253.9 1145.0,251.8 1144.0,253.6 1143.1,253.7 1142.2,254.6 1141.2,253.6 1140.3,255.2 1139.3,252.8 1138.4,252.4 1137.4,252.4 1136.5,253.2 1135.6,253.1 1134.6,253.6 1133.7,256.5 1132.7,260.1 1131.8,260.1 1130.8,258.5 1129.9,254.4 1129.0,254.3 1128.0,261.4 1127.1,253.5 1126.1,255.4 1125.2,254.0 1124.2,255.6 1123.3,254.8 1122.4,254.2 1121.4,257.0 1120.5,253.6 1119.5,257.8 1118.6,251.7 1117.6,255.1 1116.7,256.3 1115.8,253.2 1114.8,255.8 1113.9,258.5 1112.9,255.0 1112.0,252.9 1111.0,252.9 1110.1,250.6 1109.2,250.4 1108.2,250.5 1107.3,256.6 1106.3,256.9 1105.4,255.3 1104.4,253.4 1103.5,256.6 1102.5,253.1 1101.6,257.5 1100.7,255.1 1099.7,252.2 1098.8,251.8 1097.8,252.1 1096.9,253.7 1095.9,255.7 1095.0,254.6 1094.1,253.8 1093.1,254.4 1092.2,250.1 1091.2,253.3 1090.3,249.1 1089.3,252.6 1088.4,250.7 1087.5,250.1 1086.5,251.7 1085.6,257.2 1084.6,252.8 1083.7,249.3 1082.7,248.8 1081.8,248.9 1080.9,250.6 1079.9,249.5 1079.0,252.4 1078.0,256.0 1077.1,261.8 1076.1,253.7 1075.2,257.9 1074.3,253.7 1073.3,252.8 1072.4,250.6 1071.4,248.0 1070.5,257.2 1069.5,253.4 1068.6,257.1 1067.7,253.4 1066.7,254.3 1065.8,257.9 1064.8,255.4 1063.9,259.8 1062.9,254.1 1062.0,253.7 1061.1,255.5 1060.1,257.4 1059.2,258.5 1058.2,260.8 1057.3,259.9 1056.3,259.9 1055.4,254.7 1054.5,256.3 1053.5,251.8 1052.6,252.0 1051.6,251.7 1050.7,252.0 1049.7,254.6 1048.8,257.6 1047.9,257.5 1046.9,257.8 1046.0,256.3 1045.0,252.4 1044.1,257.6 1043.1,254.7 1042.2,257.8 1041.3,254.7 1040.3,254.4 1039.4,255.5 1038.4,254.6 1037.5,250.4 1036.5,250.7 1035.6,253.2 1034.7,249.3 1033.7,253.8 1032.8,254.2 1031.8,250.4 1030.9,254.5 1029.9,252.7 1029.0,256.5 1028.1,252.4 1027.1,252.9 1026.2,252.8 1025.2,256.7 1024.3,255.8 1023.3,259.2 1022.4,253.6 1021.5,254.3 1020.5,256.3 1019.6,255.3 1018.6,258.5 1017.7,258.5 1016.7,258.2 1015.8,259.4 1014.9,260.6 1013.9,264.6 1013.0,262.4 1012.0,261.1 1011.1,256.7 1010.1,259.1 1009.2,261.3 1008.3,271.2 1007.3,266.4 1006.4,270.0 1005.4,269.9 1004.5,272.2 1003.5,278.2 1002.6,281.4 1001.6,277.1 1000.7,277.0 999.8,279.4 998.8,283.1 997.9,282.1 996.9,281.3 996.0,288.8 995.0,286.7 994.1,286.8 993.2,287.9 992.2,280.7 991.3,270.1 990.3,263.8 989.4,257.3 988.4,253.0 987.5,250.5 986.6,239.9 985.6,235.2 984.7,233.6 983.7,224.4 982.8,220.0 981.8,217.3 980.9,210.8 980.0,208.2 979.0,201.5 978.1,201.7 977.1,191.5 976.2,185.6 975.2,181.5 974.3,175.8 973.4,168.9 972.4,167.1 971.5,164.9 970.5,156.0 969.6,148.9 968.6,145.8 967.7,136.4 966.8,129.3 965.8,122.3 964.9,113.9 963.9,110.0 963.0,101.5 962.0,100.8 961.1,97.9 960.2,88.6 959.2,71.1 958.3,64.1 957.3,56.8 956.4,50.8 955.4,35.2 954.5,22.4" fill="#880088"/>
<polygon points="1250.6,604.1 1251.5,591.3 1252.5,582.6 1253.4,573.8 1254.4,559.7 1255.3,552.3 1256.3,537.8 1257.2,531.6 1258.1,525.2 1259.1,505.4 1260.0,501.7 1261.0,489.0 1261.9,487.6 1262.9,480.1 1263.8,475.0 1264.7,468.9 1265.7,459.7 1266.6,458.7 1267.6,452.0 1268.5,449.1 1269.5,436.0 1270.4,441.3 1271.3,437.2 1272.3,428.9 1273.2,423.0 1274.2,428.4 1275.1,428.0 1276.1,420.0 1277.0,418.7 1277.9,416.0 1278.9,415.6 1279.8,408.0 1280.8,404.5 1281.7,402.6 1282.7,398.2 1283.6,395.8 1284.5,391.1 1285.5,386.7 1286.4,386.7 1287.4,388.3 1288.3,388.0 1289.3,388.6 1290.2,385.4 1291.1,386.8 1292.1,385.2 1293.0,386.9 1294.0,385.3 1294.9,382.4 1295.9,383.7 1296.8,381.1 1297.7,379.1 1298.7,379.0 1299.6,376.5 1300.6,374.3 1301.5,377.0 1302.5,375.0 1303.4,370.1 1304.4,372.1 1305.3,368.9 1306.2,360.0 1307.2,364.7 1308.1,365.4 1309.1,364.7 1310.0,360.3 1311.0,357.5 1311.9,362.5 1312.8,359.2 1313.8,361.7 1314.7,359.5 1315.7,361.4 1316.6,358.2 1317.6,360.7 1318.5,360.1 1319.4,360.5 1320.4,356.3 1321.3,359.9 1322.3,345.5 1323.2,359.5 1324.2,360.0 1325.1,351.3 1326.0,358.8 1327.0,357.8 1327.9,356.1 1328.9,356.9 1329.8,353.5 1330.8,355.2 1331.7,357.2 1332.6,351.8 1333.6,354.1 1334.5,354.3 1335.5,353.9 1336.4,344.7 1337.4,353.3 1338.3,355.0 1339.2,352.6 1340.2,355.8 1341.1,354.1 1342.1,356.5 1343.0,354.1 1344.0,352.4 1344.9,351.2 1345.8,346.3 1346.8,347.8 1347.7,348.8 1348.7,352.3 1349.6,347.8 1350.6,352.3 1351.5,351.4 1352.4,354.8 1353.4,352.2 1354.3,348.9 1355.3,353.4 1356.2,352.7 1357.2,351.5 1358.1,353.4 1359.0,349.7 1360.0,345.7 1360.9,351.2 1361.9,350.2 1362.8,339.0 1363.8,350.5 1364.7,346.9 1365.6,342.3 1366.6,349.5 1367.5,350.6 1368.5,350.8 1369.4,345.7 1370.4,351.7 1371.3,349.9 1372.2,345.0 1373.2,348.9 1374.1,347.0 1375.1,351.1 1376.0,347.0 1377.0,346.8 1377.9,352.6 1378.8,354.2 1379.8,353.8 1380.7,350.1 1381.7,351.4 1382.6,355.8 1383.6,355.2 1384.5,347.4 1385.4,350.1 1386.4,350.5 1387.3,352.2 1388.3,354.2 1389.2,351.0 1390.2,354.3 1391.1,352.5 1392.0,350.4 1393.0,347.6 1393.9,351.0 1394.9,351.6 1395.8,353.0 1396.8,350.8 1397.7,345.9 1398.6,354.4 1399.6,353.4 1400.5,353.0 1401.5,350.1 1402.4,347.2 1403.4,353.5 1404.3,349.0 1405.3,353.6 1406.2,353.2 1407.1,353.7 1408.1,348.9 1409.0,346.5 1410.0,352.7 1410.9,350.9 1411.9,352.6 1412.8,350.9 1413.7,353.2 1414.7,350.9 1415.6,350.1 1416.6,353.3 1417.5,351.0 1418.5,353.5 1419.4,347.5 1420.3,349.2 1421.3,350.3 1422.2,350.3 1423.2,350.0 1424.1,352.1 1425.1,347.4 1426.0,347.7 1426.9,351.3 1427.9,348.0 1428.8,348.8 1429.8,344.2 1430.7,346.3 1431.7,348.7 1432.6,347.2 1433.5,351.2 1434.5,352.1 1435.4,353.3 1436.4,353.2 1437.3,351.3 1438.3,352.4 1439.2,351.3 1440.1,353.3 1441.1,349.8 1442.0,350.0 1443.0,352.2 1443.9,347.5 1444.9,348.2 1445.8,350.6 1446.7,352.3 1447.7,353.7 1448.6,353.0 1449.6,352.9 1450.5,353.5 1451.5,349.0 1452.4,347.9 1453.3,349.3 1454.3,347.5 1455.2,350.5 1456.2,350.2 1457.1,353.5 1458.1,352.4 1459.0,352.9 1459.9,351.5 1460.9,350.0 1461.8,352.3 1462.8,351.5 1463.7,353.3 1464.7,351.3 1465.6,350.8 1466.5,355.1 1467.5,344.6 1468.4,353.2 1469.4,348.5 1470.3,346.1 1471.3,350.8 1472.2,349.7 1473.1,346.8 1474.1,349.8 1475.0,349.7 1476.0,347.7 1476.9,349.3 1477.9,347.0 1478.8,348.2 1479.7,346.4 1480.7,343.5 1481.6,346.9 1482.6,352.7 1483.5,345.9 1484.5,352.6 1485.4,352.0 1486.3,352.6 1487.3,352.3 1488.2,351.3 1489.2,350.1 1490.1,343.4 1491.1,347.1 1492.0,346.5 1492.9,345.2 1493.9,346.3 1494.8,349.8 1495.8,351.7 1496.7,345.7 1497.7,350.7 1498.6,350.2 1499.5,348.4 1500.5,351.2 1501.4,346.8 1502.4,346.8 1503.3,349.5 1504.3,351.2 1505.2,350.7 1506.2,349.2 1507.1,348.6 1508.0,344.2 1509.0,347.1 1509.9,346.0 1510.9,351.3 1511.8,352.3 1512.8,351.1 1513.7,347.6 1514.6,351.6 1515.6,350.4 1516.5,347.1 1517.5,349.8 1518.4,344.8 1519.4,349.6 1520.3,349.8 1521.2,345.4 1522.2,349.7 1523.1,344.4 1524.1,347.2 1525.0,351.8 1526.0,349.8 1526.9,351.3 1527.8,348.9 1528.8,348.1 1529.7,344.4 1530.7,343.4 1531.6,351.9 1532.6,349.1 1533.5,348.6 1534.4,342.6 1535.4,348.2 1536.3,347.9 1537.3,347.2 1538.2,349.4 1538.2,361.2 1537.3,360.5 1536.3,361.1 1535.4,363.2 1534.4,362.7 1533.5,361.5 1532.6,363.8 1531.6,366.0 1530.7,363.3 1529.7,369.1 1528.8,361.9 1527.8,363.0 1526.9,364.7 1526.0,363.3 1525.0,362.2 1524.1,364.2 1523.1,360.4 1522.2,361.8 1521.2,361.0 1520.3,362.4 1519.4,361.4 1518.4,358.6 1517.5,360.4 1516.5,363.2 1515.6,364.7 1514.6,366.5 1513.7,365.4 1512.8,363.9 1511.8,361.2 1510.9,361.5 1509.9,361.4 1509.0,359.8 1508.0,362.5 1507.1,363.2 1506.2,364.7 1505.2,360.7 1504.3,363.4 1503.3,363.0 1502.4,361.6 1501.4,365.6 1500.5,359.8 1499.5,363.0 1498.6,366.5 1497.7,366.4 1496.7,360.7 1495.8,360.4 1494.8,359.6 1493.9,359.1 1492.9,365.6 1492.0,356.6 1491.1,358.4 1490.1,357.7 1489.2,361.6 1488.2,360.0 1487.3,366.5 1486.3,363.0 1485.4,362.4 1484.5,371.0 1483.5,366.3 1482.6,363.7 1481.6,363.4 1480.7,367.9 1479.7,360.4 1478.8,359.1 1477.9,361.4 1476.9,362.8 1476.0,368.1 1475.0,364.9 1474.1,361.6 1473.1,361.2 1472.2,362.2 1471.3,360.4 1470.3,366.1 1469.4,364.8 1468.4,362.3 1467.5,369.8 1466.5,364.3 1465.6,366.0 1464.7,368.0 1463.7,364.1 1462.8,368.7 1461.8,362.7 1460.9,366.5 1459.9,363.7 1459.0,368.6 1458.1,367.0 1457.1,362.6 1456.2,364.9 1455.2,360.4 1454.3,362.8 1453.3,360.3 1452.4,368.3 1451.5,368.8 1450.5,363.9 1449.6,363.8 1448.6,370.2 1447.7,364.3 1446.7,365.9 1445.8,368.0 1444.9,364.3 1443.9,362.4 1443.0,364.3 1442.0,367.0 1441.1,362.6 1440.1,373.5 1439.2,364.1 1438.3,367.4 1437.3,364.5 1436.4,370.3 1435.4,364.0 1434.5,364.8 1433.5,364.6 1432.6,364.2 1431.7,360.2 1430.7,359.3 1429.8,363.2 1428.8,363.3 1427.9,360.7 1426.9,359.7 1426.0,362.5 1425.1,362.5 1424.1,361.0 1423.2,361.1 1422.2,363.2 1421.3,369.7 1420.3,370.9 1419.4,369.9 1418.5,364.8 1417.5,365.7 1416.6,365.4 1415.6,363.1 1414.7,362.1 1413.7,365.3 1412.8,366.1 1411.9,364.4 1410.9,364.9 1410.0,363.0 1409.0,367.3 1408.1,364.8 1407.1,364.6 1406.2,365.2 1405.3,363.4 1404.3,365.1 1403.4,368.6 1402.4,363.3 1401.5,367.6 1400.5,368.5 1399.6,364.6 1398.6,364.3 1397.7,376.4 1396.8,368.9 1395.8,364.3 1394.9,366.8 1393.9,367.2 1393.0,366.4 1392.0,367.1 1391.1,368.3 1390.2,364.9 1389.2,364.4 1388.3,368.8 1387.3,362.5 1386.4,366.2 1385.4,369.1 1384.5,368.7 1383.6,364.4 1382.6,368.2 1381.7,366.0 1380.7,365.7 1379.8,365.7 1378.8,366.5 1377.9,367.7 1377.0,369.3 1376.0,362.5 1375.1,365.7 1374.1,361.7 1373.2,365.8 1372.2,365.5 1371.3,363.7 1370.4,365.4 1369.4,364.8 1368.5,360.8 1367.5,368.3 1366.6,362.5 1365.6,360.7 1364.7,362.6 1363.8,365.4 1362.8,361.6 1361.9,363.4 1360.9,360.1 1360.0,365.0 1359.0,365.5 1358.1,364.2 1357.2,364.4 1356.2,367.3 1355.3,367.5 1354.3,365.0 1353.4,367.0 1352.4,367.7 1351.5,365.5 1350.6,364.1 1349.6,364.6 1348.7,361.2 1347.7,361.6 1346.8,363.2 1345.8,362.9 1344.9,364.2 1344.0,364.8 1343.0,369.1 1342.1,374.1 1341.1,370.9 1340.2,365.9 1339.2,369.6 1338.3,365.8 1337.4,364.6 1336.4,365.7 1335.5,367.5 1334.5,365.9 1333.6,364.3 1332.6,369.8 1331.7,370.7 1330.8,366.4 1329.8,367.3 1328.9,371.8 1327.9,371.9 1327.0,370.3 1326.0,368.0 1325.1,373.0 1324.2,369.3 1323.2,374.1 1322.3,374.3 1321.3,371.1 1320.4,370.0 1319.4,372.0 1318.5,370.5 1317.6,377.9 1316.6,372.1 1315.7,370.9 1314.7,375.2 1313.8,373.6 1312.8,371.5 1311.9,377.0 1311.0,373.7 1310.0,378.0 1309.1,376.9 1308.1,377.9 1307.2,379.7 1306.2,381.3 1305.3,381.3 1304.4,381.3 1303.4,387.3 1302.5,387.5 1301.5,386.1 1300.6,386.8 1299.6,389.1 1298.7,389.8 1297.7,397.5 1296.8,393.0 1295.9,395.7 1294.9,394.6 1294.0,397.9 1293.0,397.3 1292.1,401.9 1291.1,400.3 1290.2,399.6 1289.3,399.8 1288.3,400.9 1287.4,400.4 1286.4,401.2 1285.5,407.2 1284.5,406.4 1283.6,410.1 1282.7,409.9 1281.7,415.3 1280.8,417.8 1279.8,422.1 1278.9,426.3 1277.9,432.2 1277.0,436.7 1276.1,434.3 1275.1,436.5 1274.2,439.5 1273.2,448.6 1272.3,448.0 1271.3,452.6 1270.4,455.4 1269.5,457.3 1268.5,466.3 1267.6,464.1 1266.6,470.2 1265.7,473.8 1264.7,482.5 1263.8,484.8 1262.9,495.2 1261.9,499.1 1261.0,505.0 1260.0,516.4 1259.1,524.4 1258.1,538.3 1257.2,544.8 1256.3,553.0 1255.3,568.7 1254.4,575.0 1253.4,583.0 1252.5,595.4 1251.5,606.7 1250.6,614.7" fill="#880088"/>
<line x1="1249.7" y1="247.6" x2="1250.6" y2="610.5" stroke="#880088" stroke-width="1" stroke-opacity="0.45"/>
<path d="M954.5,18.1 L955.4,29.9 L956.4,41.6 L957.3,50.2 L958.3,58.7 L959.2,66.7 L960.2,74.0 L961.1,80.7 L962.0,87.3 L963.0,94.3 L963.9,101.5 L964.9,108.7 L965.8,115.9 L966.8,123.3 L967.7,130.8 L968.6,138.3 L969.6,143.4 L970.5,148.5 L971.5,153.5 L972.4,158.6 L973.4,163.9 L974.3,169.4 L975.2,175.1 L976.2,181.1 L977.1,187.2 L978.1,192.7 L979.0,197.3 L980.0,201.3 L980.9,205.1 L981.8,208.8 L982.8,213.3 L983.7,218.5 L984.7,223.8 L985.6,229.2 L986.6,234.7 L987.5,240.5 L988.4,246.5 L989.4,252.8 L990.3,259.3 L991.3,265.9 L992.2,272.2 L993.2,278.5 L994.1,280.5 M1005.4,264.9 L1006.4,262.9 L1007.3,260.7 L1008.3,258.4 L1009.2,256.2 L1010.1,254.3 L1011.1,252.7 M1250.6,610.5 L1251.5,599.6 L1252.5,588.9 L1253.4,578.1 L1254.4,567.7 L1255.3,558.3 L1256.3,548.8 L1257.2,539.4 L1258.1,529.8 L1259.1,520.0 L1260.0,509.7 L1261.0,499.2 L1261.9,492.4 L1262.9,486.4 L1263.8,480.5 L1264.7,474.6 L1265.7,469.0 L1266.6,463.7 L1267.6,459.0 L1268.5,454.7 L1269.5,450.6 L1270.4,446.7 L1271.3,442.9 L1272.3,440.6 L1273.2,438.0 L1274.2,435.3 L1275.1,432.4 L1276.1,429.5 L1277.0,426.7 L1277.9,423.7 L1278.9,420.4 L1279.8,416.6 L1280.8,412.7 L1281.7,408.7 L1282.7,405.7 L1283.6,403.0 L1284.5,400.5 L1285.5,398.4 L1286.4,396.7 M1302.5,379.8 L1303.4,378.2 L1304.4,376.4 L1305.3,374.6 L1306.2,373.1" fill="none" stroke="#880088" stroke-width="3.0" stroke-linejoin="round"/>
<path d="M997.9,275.7 L998.8,274.1 L999.8,272.4 M1073.3,245.4 L1074.3,246.9 M1295.9,388.6 L1296.8,387.0" fill="none" stroke="#880088" stroke-width="1.3" stroke-linejoin="round"/>
<polygon points="954.5,31.7 955.4,48.8 956.4,62.4 957.3,68.7 958.3,86.1 959.2,96.5 960.2,106.5 961.1,114.8 962.0,117.9 963.0,122.3 963.9,129.1 964.9,132.6 965.8,137.4 966.8,144.5 967.7,148.5 968.6,147.9 969.6,151.4 970.5,156.0 971.5,158.0 972.4,167.6 973.4,172.4 974.3,182.5 975.2,187.0 976.2,193.7 977.1,195.0 978.1,199.2 979.0,207.2 980.0,202.5 980.9,215.1 981.8,220.4 982.8,226.3 983.7,227.7 984.7,234.0 985.6,237.1 986.6,242.1 987.5,247.0 988.4,250.2 989.4,252.7 990.3,256.5 991.3,263.6 992.2,265.6 993.2,268.9 994.1,266.4 995.0,275.1 996.0,280.6 996.9,282.7 997.9,287.7 998.8,292.1 999.8,294.5 1000.7,292.9 1001.6,288.4 1002.6,285.9 1003.5,279.8 1004.5,278.6 1005.4,277.4 1006.4,272.0 1007.3,268.5 1008.3,266.3 1009.2,266.3 1010.1,263.4 1011.1,261.5 1012.0,256.6 1013.0,255.8 1013.9,254.2 1014.9,252.3 1015.8,252.6 1016.7,249.2 1017.7,248.2 1018.6,245.9 1019.6,241.4 1020.5,243.0 1021.5,243.4 1022.4,246.4 1023.3,242.7 1024.3,246.4 1025.2,239.6 1026.2,242.7 1027.1,244.7 1028.1,237.9 1029.0,239.6 1029.9,243.3 1030.9,243.8 1031.8,240.9 1032.8,245.2 1033.7,244.3 1034.7,243.3 1035.6,238.7 1036.5,237.5 1037.5,242.6 1038.4,237.1 1039.4,240.6 1040.3,233.0 1041.3,237.9 1042.2,236.3 1043.1,236.5 1044.1,236.2 1045.0,236.3 1046.0,237.4 1046.9,240.8 1047.9,233.2 1048.8,240.4 1049.7,238.8 1050.7,241.5 1051.6,235.5 1052.6,239.1 1053.5,235.9 1054.5,236.5 1055.4,233.1 1056.3,239.5 1057.3,239.0 1058.2,240.2 1059.2,237.9 1060.1,237.2 1061.1,242.3 1062.0,242.7 1062.9,242.0 1063.9,237.2 1064.8,239.7 1065.8,239.1 1066.7,240.0 1067.7,236.6 1068.6,239.4 1069.5,234.7 1070.5,237.6 1071.4,239.1 1072.4,237.5 1073.3,236.2 1074.3,238.9 1075.2,239.0 1076.1,234.7 1077.1,237.7 1078.0,236.0 1079.0,237.5 1079.9,230.3 1080.9,234.9 1081.8,236.6 1082.7,236.6 1083.7,238.2 1084.6,238.5 1085.6,235.8 1086.5,232.2 1087.5,236.0 1088.4,239.6 1089.3,239.5 1090.3,232.7 1091.2,237.7 1092.2,234.7 1093.1,233.2 1094.1,231.7 1095.0,238.6 1095.9,236.2 1096.9,237.1 1097.8,239.1 1098.8,238.8 1099.7,231.3 1100.7,239.5 1101.6,238.2 1102.5,239.2 1103.5,239.3 1104.4,241.7 1105.4,240.6 1106.3,240.6 1107.3,235.6 1108.2,240.4 1109.2,241.5 1110.1,239.8 1111.0,238.0 1112.0,236.8 1112.9,241.7 1113.9,235.8 1114.8,238.0 1115.8,236.5 1116.7,231.3 1117.6,238.4 1118.6,238.4 1119.5,237.2 1120.5,240.4 1121.4,240.8 1122.4,240.0 1123.3,237.5 1124.2,238.6 1125.2,239.6 1126.1,227.0 1127.1,236.8 1128.0,235.7 1129.0,236.2 1129.9,237.0 1130.8,236.0 1131.8,236.0 1132.7,237.1 1133.7,236.3 1134.6,231.0 1135.6,235.9 1136.5,233.8 1137.4,237.3 1138.4,234.6 1139.3,234.0 1140.3,237.4 1141.2,238.7 1142.2,239.4 1143.1,236.8 1144.0,239.2 1145.0,239.9 1145.9,238.1 1146.9,238.3 1147.8,234.6 1148.8,237.8 1149.7,236.4 1150.6,236.5 1151.6,237.6 1152.5,239.8 1153.5,238.9 1154.4,243.0 1155.4,242.5 1156.3,231.1 1157.2,234.5 1158.2,239.1 1159.1,237.9 1160.1,235.3 1161.0,240.1 1162.0,236.2 1162.9,236.8 1163.8,234.6 1164.8,234.1 1165.7,230.5 1166.7,234.9 1167.6,234.0 1168.6,235.4 1169.5,234.6 1170.4,231.8 1171.4,237.0 1172.3,237.3 1173.3,235.7 1174.2,237.4 1175.2,240.1 1176.1,240.0 1177.0,235.6 1178.0,233.8 1178.9,234.1 1179.9,232.7 1180.8,234.0 1181.8,229.6 1182.7,233.4 1183.6,228.2 1184.6,231.6 1185.5,236.2 1186.5,234.6 1187.4,235.2 1188.4,232.9 1189.3,229.2 1190.2,233.5 1191.2,233.8 1192.1,232.8 1193.1,234.6 1194.0,234.0 1195.0,233.2 1195.9,233.6 1196.8,230.4 1197.8,231.6 1198.7,229.7 1199.7,230.1 1200.6,233.6 1201.6,236.6 1202.5,233.7 1203.4,237.0 1204.4,240.2 1205.3,241.4 1206.3,241.0 1207.2,232.7 1208.2,235.8 1209.1,237.8 1210.1,235.5 1211.0,229.2 1211.9,232.0 1212.9,228.7 1213.8,229.2 1214.8,234.1 1215.7,237.1 1216.7,234.7 1217.6,235.7 1218.5,241.1 1219.5,240.2 1220.4,238.0 1221.4,240.5 1222.3,231.4 1223.3,232.3 1224.2,235.6 1225.1,230.5 1226.1,234.7 1227.0,235.2 1228.0,235.4 1228.9,237.5 1229.9,236.9 1230.8,231.9 1231.7,235.3 1232.7,238.1 1233.6,230.0 1234.6,238.4 1235.5,230.2 1236.5,239.8 1237.4,234.4 1238.3,235.9 1239.3,240.9 1240.2,240.2 1241.2,240.3 1242.1,239.5 1243.1,236.4 1244.0,237.5 1244.9,232.1 1245.9,234.8 1246.8,234.0 1247.8,234.7 1248.7,234.8 1249.7,233.9 1249.7,247.7 1248.7,244.7 1247.8,244.1 1246.8,247.4 1245.9,248.1 1244.9,253.0 1244.0,248.1 1243.1,254.0 1242.1,253.5 1241.2,251.0 1240.2,251.8 1239.3,252.6 1238.3,250.0 1237.4,250.5 1236.5,250.3 1235.5,250.6 1234.6,249.1 1233.6,247.0 1232.7,246.9 1231.7,248.1 1230.8,247.4 1229.9,246.8 1228.9,249.9 1228.0,249.1 1227.0,247.5 1226.1,247.8 1225.1,246.7 1224.2,250.0 1223.3,247.0 1222.3,253.1 1221.4,250.6 1220.4,266.7 1219.5,253.6 1218.5,258.5 1217.6,252.3 1216.7,249.5 1215.7,246.6 1214.8,247.1 1213.8,244.7 1212.9,243.2 1211.9,244.2 1211.0,248.0 1210.1,247.1 1209.1,253.2 1208.2,249.6 1207.2,250.3 1206.3,250.7 1205.3,254.9 1204.4,250.6 1203.4,251.8 1202.5,247.7 1201.6,249.8 1200.6,244.5 1199.7,244.5 1198.7,244.3 1197.8,242.5 1196.8,243.4 1195.9,246.3 1195.0,249.4 1194.0,246.0 1193.1,243.6 1192.1,246.6 1191.2,245.7 1190.2,243.8 1189.3,248.4 1188.4,244.8 1187.4,246.0 1186.5,247.3 1185.5,245.6 1184.6,246.7 1183.6,245.7 1182.7,246.6 1181.8,245.6 1180.8,246.5 1179.9,247.4 1178.9,246.7 1178.0,247.9 1177.0,251.7 1176.1,248.7 1175.2,251.7 1174.2,250.4 1173.3,249.0 1172.3,250.5 1171.4,248.8 1170.4,247.2 1169.5,247.2 1168.6,244.0 1167.6,245.2 1166.7,245.0 1165.7,250.5 1164.8,250.7 1163.8,247.0 1162.9,247.1 1162.0,252.1 1161.0,252.4 1160.1,251.0 1159.1,249.0 1158.2,252.9 1157.2,251.4 1156.3,250.4 1155.4,252.4 1154.4,251.4 1153.5,251.2 1152.5,256.9 1151.6,250.5 1150.6,253.4 1149.7,248.0 1148.8,250.9 1147.8,249.1 1146.9,249.5 1145.9,253.7 1145.0,257.5 1144.0,252.3 1143.1,248.6 1142.2,252.7 1141.2,247.6 1140.3,247.3 1139.3,252.5 1138.4,249.6 1137.4,248.1 1136.5,245.3 1135.6,251.1 1134.6,249.2 1133.7,246.6 1132.7,250.0 1131.8,250.9 1130.8,247.0 1129.9,247.9 1129.0,248.2 1128.0,252.4 1127.1,254.5 1126.1,251.3 1125.2,249.2 1124.2,249.6 1123.3,254.5 1122.4,255.5 1121.4,253.6 1120.5,252.9 1119.5,251.5 1118.6,248.5 1117.6,248.2 1116.7,247.4 1115.8,249.6 1114.8,252.7 1113.9,252.5 1112.9,252.2 1112.0,252.1 1111.0,253.3 1110.1,253.6 1109.2,257.4 1108.2,251.0 1107.3,251.5 1106.3,251.1 1105.4,251.3 1104.4,255.1 1103.5,249.8 1102.5,250.5 1101.6,250.3 1100.7,253.7 1099.7,250.0 1098.8,249.0 1097.8,255.0 1096.9,250.5 1095.9,247.8 1095.0,252.7 1094.1,250.1 1093.1,247.3 1092.2,248.2 1091.2,249.4 1090.3,251.7 1089.3,252.0 1088.4,252.6 1087.5,251.6 1086.5,251.5 1085.6,254.0 1084.6,247.5 1083.7,246.6 1082.7,249.5 1081.8,248.3 1080.9,247.1 1079.9,248.0 1079.0,246.1 1078.0,250.3 1077.1,248.5 1076.1,250.5 1075.2,252.4 1074.3,250.8 1073.3,249.8 1072.4,250.4 1071.4,249.6 1070.5,251.8 1069.5,250.0 1068.6,251.2 1067.7,248.2 1066.7,252.5 1065.8,250.5 1064.8,252.3 1063.9,254.2 1062.9,256.0 1062.0,254.2 1061.1,257.4 1060.1,253.9 1059.2,255.9 1058.2,254.0 1057.3,252.0 1056.3,250.9 1055.4,256.6 1054.5,249.6 1053.5,247.7 1052.6,250.9 1051.6,250.6 1050.7,250.8 1049.7,254.5 1048.8,254.2 1047.9,256.2 1046.9,260.2 1046.0,251.2 1045.0,252.3 1044.1,248.9 1043.1,250.5 1042.2,249.5 1041.3,250.5 1040.3,254.2 1039.4,253.4 1038.4,254.8 1037.5,253.1 1036.5,253.8 1035.6,258.5 1034.7,255.7 1033.7,255.3 1032.8,253.9 1031.8,262.5 1030.9,257.6 1029.9,254.6 1029.0,255.1 1028.1,256.4 1027.1,256.2 1026.2,257.1 1025.2,261.0 1024.3,255.2 1023.3,257.2 1022.4,256.0 1021.5,255.0 1020.5,258.0 1019.6,261.1 1018.6,260.4 1017.7,261.1 1016.7,260.0 1015.8,265.7 1014.9,264.4 1013.9,267.3 1013.0,270.9 1012.0,268.3 1011.1,275.6 1010.1,274.6 1009.2,276.8 1008.3,278.6 1007.3,284.0 1006.4,287.5 1005.4,288.0 1004.5,291.4 1003.5,300.4 1002.6,301.7 1001.6,302.1 1000.7,305.1 999.8,304.5 998.8,312.1 997.9,302.4 996.9,293.8 996.0,293.8 995.0,287.8 994.1,285.2 993.2,287.8 992.2,277.3 991.3,275.2 990.3,276.3 989.4,267.9 988.4,262.1 987.5,261.8 986.6,258.6 985.6,249.0 984.7,248.5 983.7,243.8 982.8,237.1 981.8,234.8 980.9,232.9 980.0,222.2 979.0,216.2 978.1,216.3 977.1,210.1 976.2,204.8 975.2,202.5 974.3,195.1 973.4,189.0 972.4,182.2 971.5,178.4 970.5,172.2 969.6,166.0 968.6,168.4 967.7,161.2 966.8,154.8 965.8,154.3 964.9,146.9 963.9,143.2 963.0,137.1 962.0,133.4 961.1,130.5 960.2,118.8 959.2,110.1 958.3,97.4 957.3,86.5 956.4,73.2 955.4,61.8 954.5,50.0" fill="#0A820A"/>
<polygon points="1250.6,595.5 1251.5,575.2 1252.5,560.0 1253.4,540.1 1254.4,521.4 1255.3,513.3 1256.3,505.8 1257.2,496.6 1258.1,486.7 1259.1,476.8 1260.0,468.1 1261.0,457.1 1261.9,451.5 1262.9,448.8 1263.8,446.7 1264.7,442.8 1265.7,434.5 1266.6,433.6 1267.6,429.6 1268.5,423.7 1269.5,418.6 1270.4,415.2 1271.3,410.2 1272.3,403.2 1273.2,403.3 1274.2,400.1 1275.1,399.1 1276.1,392.4 1277.0,387.5 1277.9,386.1 1278.9,388.1 1279.8,385.3 1280.8,383.7 1281.7,377.1 1282.7,378.7 1283.6,376.9 1284.5,372.0 1285.5,374.5 1286.4,372.5 1287.4,367.6 1288.3,361.6 1289.3,364.1 1290.2,361.8 1291.1,363.0 1292.1,362.2 1293.0,362.2 1294.0,363.2 1294.9,363.1 1295.9,360.2 1296.8,361.2 1297.7,361.3 1298.7,361.8 1299.6,356.7 1300.6,357.3 1301.5,357.0 1302.5,356.4 1303.4,352.2 1304.4,354.2 1305.3,355.0 1306.2,350.0 1307.2,355.4 1308.1,350.1 1309.1,348.2 1310.0,353.2 1311.0,352.1 1311.9,349.4 1312.8,353.4 1313.8,352.2 1314.7,352.4 1315.7,353.5 1316.6,353.5 1317.6,347.7 1318.5,349.6 1319.4,355.4 1320.4,353.7 1321.3,351.5 1322.3,353.8 1323.2,352.3 1324.2,354.0 1325.1,347.9 1326.0,349.0 1327.0,347.6 1327.9,349.4 1328.9,347.6 1329.8,351.1 1330.8,352.6 1331.7,349.9 1332.6,353.3 1333.6,350.3 1334.5,351.3 1335.5,352.9 1336.4,349.5 1337.4,347.7 1338.3,351.6 1339.2,345.9 1340.2,350.4 1341.1,352.9 1342.1,351.1 1343.0,352.0 1344.0,351.2 1344.9,350.9 1345.8,351.1 1346.8,346.6 1347.7,350.5 1348.7,351.1 1349.6,353.5 1350.6,349.8 1351.5,352.9 1352.4,351.7 1353.4,352.9 1354.3,350.2 1355.3,355.0 1356.2,354.7 1357.2,349.5 1358.1,349.8 1359.0,350.8 1360.0,346.9 1360.9,341.7 1361.9,345.7 1362.8,349.8 1363.8,346.2 1364.7,350.9 1365.6,349.4 1366.6,349.8 1367.5,351.5 1368.5,348.7 1369.4,349.3 1370.4,352.0 1371.3,352.5 1372.2,345.9 1373.2,352.5 1374.1,349.0 1375.1,352.4 1376.0,350.3 1377.0,349.4 1377.9,344.0 1378.8,348.5 1379.8,347.9 1380.7,348.8 1381.7,349.9 1382.6,344.3 1383.6,350.3 1384.5,343.3 1385.4,351.2 1386.4,350.0 1387.3,352.6 1388.3,350.8 1389.2,350.8 1390.2,350.7 1391.1,343.6 1392.0,345.5 1393.0,348.7 1393.9,350.1 1394.9,348.6 1395.8,345.8 1396.8,345.2 1397.7,345.9 1398.6,350.3 1399.6,351.2 1400.5,351.1 1401.5,353.9 1402.4,346.4 1403.4,347.3 1404.3,351.0 1405.3,344.3 1406.2,352.1 1407.1,352.8 1408.1,354.9 1409.0,354.4 1410.0,354.4 1410.9,348.6 1411.9,352.1 1412.8,349.3 1413.7,354.1 1414.7,347.1 1415.6,352.6 1416.6,349.7 1417.5,349.3 1418.5,353.0 1419.4,351.6 1420.3,350.9 1421.3,348.3 1422.2,347.7 1423.2,346.7 1424.1,346.0 1425.1,348.1 1426.0,346.4 1426.9,345.5 1427.9,337.8 1428.8,346.3 1429.8,347.7 1430.7,350.5 1431.7,350.4 1432.6,351.4 1433.5,349.9 1434.5,349.4 1435.4,350.8 1436.4,348.1 1437.3,348.7 1438.3,349.0 1439.2,345.8 1440.1,348.3 1441.1,347.2 1442.0,349.4 1443.0,350.8 1443.9,351.1 1444.9,343.0 1445.8,350.2 1446.7,347.2 1447.7,346.5 1448.6,345.0 1449.6,345.8 1450.5,349.6 1451.5,345.8 1452.4,348.1 1453.3,352.7 1454.3,350.6 1455.2,347.3 1456.2,349.6 1457.1,348.5 1458.1,349.4 1459.0,352.1 1459.9,354.0 1460.9,349.8 1461.8,352.1 1462.8,348.7 1463.7,348.8 1464.7,348.5 1465.6,353.3 1466.5,350.6 1467.5,348.9 1468.4,352.4 1469.4,353.7 1470.3,350.5 1471.3,352.1 1472.2,350.6 1473.1,351.2 1474.1,352.5 1475.0,352.9 1476.0,351.8 1476.9,350.6 1477.9,352.9 1478.8,350.6 1479.7,349.1 1480.7,351.3 1481.6,351.2 1482.6,349.2 1483.5,351.2 1484.5,351.1 1485.4,350.0 1486.3,350.6 1487.3,348.1 1488.2,349.3 1489.2,351.8 1490.1,350.8 1491.1,345.5 1492.0,353.5 1492.9,353.0 1493.9,352.1 1494.8,350.2 1495.8,344.3 1496.7,349.4 1497.7,350.8 1498.6,349.8 1499.5,350.2 1500.5,347.2 1501.4,343.6 1502.4,349.8 1503.3,350.0 1504.3,348.8 1505.2,350.9 1506.2,353.6 1507.1,350.2 1508.0,350.3 1509.0,352.2 1509.9,350.1 1510.9,352.7 1511.8,354.4 1512.8,348.5 1513.7,352.0 1514.6,351.7 1515.6,348.1 1516.5,347.6 1517.5,351.6 1518.4,345.7 1519.4,351.2 1520.3,346.6 1521.2,350.1 1522.2,348.8 1523.1,346.0 1524.1,353.0 1525.0,354.3 1526.0,354.3 1526.9,350.7 1527.8,347.4 1528.8,350.5 1529.7,352.8 1530.7,351.9 1531.6,348.8 1532.6,351.7 1533.5,347.5 1534.4,350.1 1535.4,351.3 1536.3,351.5 1537.3,344.4 1538.2,349.0 1538.2,363.4 1537.3,360.8 1536.3,361.8 1535.4,361.9 1534.4,361.5 1533.5,362.2 1532.6,364.4 1531.6,362.9 1530.7,361.8 1529.7,366.8 1528.8,362.0 1527.8,363.6 1526.9,369.8 1526.0,364.5 1525.0,367.6 1524.1,366.4 1523.1,361.6 1522.2,360.6 1521.2,361.3 1520.3,360.8 1519.4,366.5 1518.4,361.5 1517.5,360.6 1516.5,365.1 1515.6,362.4 1514.6,361.9 1513.7,363.2 1512.8,365.6 1511.8,370.4 1510.9,367.7 1509.9,369.3 1509.0,368.4 1508.0,366.9 1507.1,365.3 1506.2,368.3 1505.2,364.5 1504.3,363.9 1503.3,364.0 1502.4,361.9 1501.4,360.2 1500.5,360.1 1499.5,361.7 1498.6,363.0 1497.7,364.5 1496.7,363.0 1495.8,361.4 1494.8,363.8 1493.9,363.3 1492.9,363.4 1492.0,370.0 1491.1,361.9 1490.1,363.8 1489.2,362.4 1488.2,364.1 1487.3,371.6 1486.3,364.1 1485.4,364.8 1484.5,364.4 1483.5,362.4 1482.6,367.6 1481.6,365.4 1480.7,361.8 1479.7,363.9 1478.8,362.9 1477.9,362.4 1476.9,367.7 1476.0,367.2 1475.0,364.9 1474.1,362.0 1473.1,364.3 1472.2,363.0 1471.3,366.3 1470.3,364.4 1469.4,363.0 1468.4,362.7 1467.5,364.5 1466.5,362.2 1465.6,368.6 1464.7,363.0 1463.7,363.5 1462.8,371.0 1461.8,363.7 1460.9,366.0 1459.9,363.4 1459.0,364.5 1458.1,363.2 1457.1,362.3 1456.2,369.5 1455.2,367.7 1454.3,366.9 1453.3,363.6 1452.4,367.2 1451.5,359.6 1450.5,360.1 1449.6,357.7 1448.6,357.5 1447.7,360.1 1446.7,359.7 1445.8,360.2 1444.9,362.5 1443.9,361.3 1443.0,361.2 1442.0,360.9 1441.1,358.1 1440.1,358.2 1439.2,366.7 1438.3,360.4 1437.3,360.2 1436.4,359.1 1435.4,360.1 1434.5,360.7 1433.5,370.4 1432.6,364.8 1431.7,363.0 1430.7,361.4 1429.8,361.8 1428.8,363.7 1427.9,361.2 1426.9,358.7 1426.0,358.5 1425.1,362.2 1424.1,358.8 1423.2,361.3 1422.2,359.5 1421.3,359.7 1420.3,365.9 1419.4,363.3 1418.5,362.8 1417.5,363.2 1416.6,369.8 1415.6,362.9 1414.7,363.4 1413.7,363.5 1412.8,364.7 1411.9,373.2 1410.9,370.2 1410.0,365.6 1409.0,370.4 1408.1,367.6 1407.1,366.6 1406.2,368.8 1405.3,364.4 1404.3,365.7 1403.4,366.9 1402.4,370.7 1401.5,364.3 1400.5,364.5 1399.6,361.9 1398.6,365.9 1397.7,363.8 1396.8,365.1 1395.8,359.0 1394.9,359.6 1393.9,359.0 1393.0,362.1 1392.0,359.6 1391.1,361.8 1390.2,362.3 1389.2,361.2 1388.3,361.8 1387.3,361.5 1386.4,363.4 1385.4,363.0 1384.5,361.1 1383.6,361.1 1382.6,362.0 1381.7,365.0 1380.7,366.6 1379.8,360.7 1378.8,362.8 1377.9,362.3 1377.0,365.5 1376.0,364.6 1375.1,368.1 1374.1,364.5 1373.2,368.4 1372.2,368.5 1371.3,371.5 1370.4,366.9 1369.4,367.0 1368.5,366.6 1367.5,364.7 1366.6,363.1 1365.6,367.2 1364.7,361.9 1363.8,363.6 1362.8,364.3 1361.9,359.3 1360.9,362.3 1360.0,361.5 1359.0,365.3 1358.1,363.4 1357.2,366.4 1356.2,369.3 1355.3,364.4 1354.3,372.1 1353.4,365.0 1352.4,365.2 1351.5,366.9 1350.6,365.2 1349.6,368.3 1348.7,361.4 1347.7,361.6 1346.8,362.2 1345.8,363.7 1344.9,363.8 1344.0,362.9 1343.0,366.3 1342.1,365.0 1341.1,370.8 1340.2,362.5 1339.2,361.8 1338.3,361.7 1337.4,364.1 1336.4,364.8 1335.5,362.7 1334.5,364.3 1333.6,362.3 1332.6,364.1 1331.7,363.8 1330.8,365.0 1329.8,367.2 1328.9,361.2 1327.9,364.5 1327.0,363.4 1326.0,363.1 1325.1,363.4 1324.2,364.6 1323.2,366.8 1322.3,367.4 1321.3,368.6 1320.4,365.6 1319.4,365.9 1318.5,367.4 1317.6,365.7 1316.6,369.2 1315.7,362.6 1314.7,364.7 1313.8,364.0 1312.8,367.2 1311.9,370.2 1311.0,364.1 1310.0,367.3 1309.1,366.3 1308.1,366.0 1307.2,365.7 1306.2,364.1 1305.3,365.8 1304.4,369.9 1303.4,370.0 1302.5,371.9 1301.5,370.1 1300.6,373.5 1299.6,373.3 1298.7,373.6 1297.7,376.3 1296.8,372.8 1295.9,376.1 1294.9,377.4 1294.0,372.9 1293.0,377.5 1292.1,375.6 1291.1,378.7 1290.2,379.0 1289.3,378.7 1288.3,379.6 1287.4,380.7 1286.4,385.4 1285.5,384.9 1284.5,387.7 1283.6,388.4 1282.7,391.6 1281.7,394.1 1280.8,393.8 1279.8,399.9 1278.9,401.6 1277.9,402.0 1277.0,406.7 1276.1,406.3 1275.1,417.1 1274.2,413.8 1273.2,416.6 1272.3,416.2 1271.3,419.6 1270.4,423.8 1269.5,430.8 1268.5,436.2 1267.6,443.9 1266.6,447.8 1265.7,454.5 1264.7,455.4 1263.8,458.1 1262.9,460.7 1261.9,464.8 1261.0,477.5 1260.0,481.1 1259.1,492.3 1258.1,502.3 1257.2,508.7 1256.3,519.6 1255.3,528.0 1254.4,537.3 1253.4,559.8 1252.5,574.8 1251.5,590.9 1250.6,611.3" fill="#0A820A"/>
<line x1="1249.7" y1="240.4" x2="1250.6" y2="606.3" stroke="#0A820A" stroke-width="1" stroke-opacity="0.45"/>
<path d="M954.5,42.5 L955.4,54.7 L956.4,66.8 L957.3,79.0 L958.3,91.4 L959.2,104.0 L960.2,114.3 L961.1,119.9 L962.0,125.7 L963.0,131.3 L963.9,136.4 L964.9,141.2 L965.8,145.7 L966.8,149.8 L967.7,153.8 L968.6,157.7 L969.6,161.9 L970.5,166.8 L971.5,172.2 L972.4,177.9 L973.4,183.7 L974.3,189.6 L975.2,195.0 L976.2,199.7 L977.1,203.9 L978.1,207.7 L979.0,211.7 L980.0,216.0 L980.9,220.9 L981.8,226.0 L982.8,231.1 L983.7,236.0 L984.7,240.5 L985.6,244.7 L986.6,248.9 L987.5,252.7 L988.4,256.3 L989.4,260.4 L990.3,264.8 L991.3,269.1 L992.2,273.0 L993.2,276.4 L994.1,279.5 L995.0,282.6 L996.0,285.8 L996.9,289.3 L997.9,293.1 L998.8,297.6 L999.8,300.5 L1000.7,298.1 L1001.6,295.1 L1002.6,291.9 L1003.5,288.6 L1004.5,285.4 L1005.4,282.2 L1006.4,278.9 L1007.3,275.6 L1008.3,273.3 L1009.2,270.9 L1010.1,268.4 L1011.1,265.9 L1012.0,263.6 L1013.0,261.6 L1013.9,259.7 L1014.9,257.7 M1250.6,606.3 L1251.5,586.8 L1252.5,567.2 L1253.4,547.6 L1254.4,531.4 L1255.3,521.8 L1256.3,512.0 L1257.2,502.4 L1258.1,492.7 L1259.1,483.1 L1260.0,473.6 L1261.0,464.4 L1261.9,459.6 L1262.9,456.0 L1263.8,452.4 L1264.7,448.6 L1265.7,444.3 L1266.6,439.8 L1267.6,435.0 L1268.5,430.0 L1269.5,424.7 L1270.4,419.6 L1271.3,414.9 L1272.3,412.0 L1273.2,409.4 L1274.2,406.9 L1275.1,404.5 L1276.1,402.1 L1277.0,399.6 L1277.9,397.1 L1278.9,394.5 L1279.8,391.9 L1280.8,389.1 L1281.7,386.1 L1282.7,384.0 L1283.6,382.1 L1284.5,380.5 M1288.3,375.1 L1289.3,373.6 L1290.2,371.9 L1291.1,370.3" fill="none" stroke="#0A820A" stroke-width="3.0" stroke-linejoin="round"/>
<path d="M1200.6,240.0 L1201.6,241.6 L1202.5,243.3 M1450.5,353.6 L1451.5,355.3 L1452.4,356.9" fill="none" stroke="#0A820A" stroke-width="1.3" stroke-linejoin="round"/>
<polygon points="954.5,-87.1 955.4,-78.9 956.4,-65.5 957.3,-52.6 958.3,-46.4 959.2,-33.7 960.2,-24.1 961.1,-9.8 962.0,2.9 963.0,13.5 963.9,25.7 964.9,37.3 965.8,47.8 966.8,61.3 967.7,67.6 968.6,85.1 969.6,92.5 970.5,106.7 971.5,113.4 972.4,125.2 973.4,134.2 974.3,145.2 975.2,150.7 976.2,156.9 977.1,165.3 978.1,174.8 979.0,180.6 980.0,186.4 980.9,193.6 981.8,197.8 982.8,198.9 983.7,207.3 984.7,204.9 985.6,208.5 986.6,207.7 987.5,211.9 988.4,208.1 989.4,211.3 990.3,210.5 991.3,213.4 992.2,212.9 993.2,206.9 994.1,211.8 995.0,214.5 996.0,209.8 996.9,214.8 997.9,216.3 998.8,219.0 999.8,220.9 1000.7,219.7 1001.6,221.1 1002.6,218.3 1003.5,223.4 1004.5,223.8 1005.4,224.7 1006.4,225.3 1007.3,214.8 1008.3,225.1 1009.2,221.8 1010.1,223.8 1011.1,215.5 1012.0,225.3 1013.0,227.4 1013.9,230.5 1014.9,230.1 1015.8,231.2 1016.7,227.0 1017.7,232.3 1018.6,232.0 1019.6,233.9 1020.5,234.2 1021.5,236.3 1022.4,233.7 1023.3,232.0 1024.3,235.0 1025.2,226.2 1026.2,233.3 1027.1,234.2 1028.1,231.8 1029.0,236.8 1029.9,238.3 1030.9,231.0 1031.8,238.1 1032.8,237.8 1033.7,232.1 1034.7,234.6 1035.6,233.4 1036.5,233.8 1037.5,229.1 1038.4,232.8 1039.4,236.5 1040.3,237.0 1041.3,236.2 1042.2,236.5 1043.1,236.7 1044.1,235.5 1045.0,233.1 1046.0,229.6 1046.9,233.6 1047.9,233.9 1048.8,235.0 1049.7,231.4 1050.7,234.3 1051.6,236.6 1052.6,236.2 1053.5,237.8 1054.5,236.4 1055.4,239.7 1056.3,239.1 1057.3,237.6 1058.2,240.2 1059.2,234.5 1060.1,239.2 1061.1,237.5 1062.0,241.5 1062.9,241.4 1063.9,241.0 1064.8,240.5 1065.8,240.4 1066.7,238.6 1067.7,241.0 1068.6,232.8 1069.5,232.8 1070.5,242.0 1071.4,245.1 1072.4,245.5 1073.3,245.2 1074.3,244.2 1075.2,243.8 1076.1,246.0 1077.1,245.5 1078.0,243.6 1079.0,243.2 1079.9,239.9 1080.9,237.5 1081.8,235.9 1082.7,237.1 1083.7,237.9 1084.6,239.5 1085.6,240.6 1086.5,241.3 1087.5,238.4 1088.4,242.6 1089.3,240.0 1090.3,241.9 1091.2,240.6 1092.2,240.8 1093.1,239.8 1094.1,240.7 1095.0,237.8 1095.9,236.9 1096.9,242.0 1097.8,241.9 1098.8,238.0 1099.7,243.0 1100.7,243.4 1101.6,244.3 1102.5,245.8 1103.5,245.7 1104.4,244.3 1105.4,242.0 1106.3,243.5 1107.3,240.1 1108.2,242.4 1109.2,243.9 1110.1,243.1 1111.0,238.2 1112.0,240.1 1112.9,232.9 1113.9,239.9 1114.8,241.6 1115.8,242.9 1116.7,242.0 1117.6,242.1 1118.6,239.3 1119.5,238.4 1120.5,242.9 1121.4,242.7 1122.4,241.3 1123.3,244.3 1124.2,241.0 1125.2,245.8 1126.1,243.8 1127.1,243.9 1128.0,237.0 1129.0,245.5 1129.9,245.2 1130.8,245.6 1131.8,246.3 1132.7,246.9 1133.7,246.3 1134.6,244.0 1135.6,244.4 1136.5,245.0 1137.4,246.4 1138.4,243.2 1139.3,246.3 1140.3,244.1 1141.2,240.3 1142.2,242.6 1143.1,246.0 1144.0,245.8 1145.0,241.5 1145.9,242.2 1146.9,237.3 1147.8,238.1 1148.8,242.5 1149.7,240.7 1150.6,237.6 1151.6,238.4 1152.5,240.9 1153.5,240.6 1154.4,242.1 1155.4,242.2 1156.3,239.5 1157.2,244.1 1158.2,244.5 1159.1,244.9 1160.1,242.0 1161.0,243.0 1162.0,244.0 1162.9,245.9 1163.8,246.2 1164.8,245.4 1165.7,245.2 1166.7,246.8 1167.6,246.6 1168.6,246.6 1169.5,246.0 1170.4,244.2 1171.4,242.1 1172.3,239.2 1173.3,238.9 1174.2,244.6 1175.2,243.4 1176.1,243.7 1177.0,244.1 1178.0,243.2 1178.9,244.3 1179.9,244.3 1180.8,246.5 1181.8,248.6 1182.7,248.5 1183.6,241.5 1184.6,245.9 1185.5,244.0 1186.5,244.8 1187.4,243.5 1188.4,241.4 1189.3,237.3 1190.2,237.7 1191.2,241.0 1192.1,236.3 1193.1,242.6 1194.0,242.8 1195.0,243.9 1195.9,241.8 1196.8,242.7 1197.8,241.4 1198.7,240.6 1199.7,239.9 1200.6,242.9 1201.6,240.5 1202.5,238.8 1203.4,244.7 1204.4,245.9 1205.3,247.2 1206.3,247.7 1207.2,246.6 1208.2,242.1 1209.1,244.3 1210.1,244.3 1211.0,241.9 1211.9,239.3 1212.9,243.3 1213.8,237.9 1214.8,240.3 1215.7,243.5 1216.7,239.7 1217.6,240.6 1218.5,238.2 1219.5,238.4 1220.4,242.9 1221.4,243.3 1222.3,243.0 1223.3,241.6 1224.2,244.3 1225.1,244.9 1226.1,240.7 1227.0,244.6 1228.0,246.3 1228.9,243.7 1229.9,243.6 1230.8,236.5 1231.7,239.0 1232.7,242.6 1233.6,242.9 1234.6,243.1 1235.5,238.4 1236.5,240.8 1237.4,245.8 1238.3,242.7 1239.3,246.5 1240.2,241.3 1241.2,244.8 1242.1,246.8 1243.1,240.3 1244.0,244.8 1244.9,246.5 1245.9,240.8 1246.8,241.5 1247.8,245.9 1248.7,246.3 1249.7,246.6 1249.7,258.7 1248.7,260.8 1247.8,259.7 1246.8,257.7 1245.9,257.5 1244.9,258.4 1244.0,257.6 1243.1,260.9 1242.1,257.0 1241.2,256.3 1240.2,260.9 1239.3,257.7 1238.3,257.3 1237.4,262.2 1236.5,256.0 1235.5,253.0 1234.6,256.8 1233.6,252.0 1232.7,252.6 1231.7,253.9 1230.8,256.9 1229.9,257.2 1228.9,257.9 1228.0,258.2 1227.0,259.2 1226.1,255.7 1225.1,257.6 1224.2,258.9 1223.3,255.1 1222.3,255.8 1221.4,255.5 1220.4,255.7 1219.5,251.7 1218.5,255.4 1217.6,251.0 1216.7,255.9 1215.7,251.9 1214.8,256.3 1213.8,252.7 1212.9,254.0 1211.9,255.4 1211.0,255.4 1210.1,258.0 1209.1,256.0 1208.2,256.1 1207.2,258.2 1206.3,262.0 1205.3,259.0 1204.4,260.6 1203.4,261.0 1202.5,255.5 1201.6,255.2 1200.6,252.9 1199.7,253.9 1198.7,258.2 1197.8,254.2 1196.8,255.7 1195.9,254.5 1195.0,254.8 1194.0,256.0 1193.1,254.8 1192.1,254.9 1191.2,255.7 1190.2,251.2 1189.3,255.4 1188.4,255.7 1187.4,254.4 1186.5,254.8 1185.5,254.7 1184.6,261.5 1183.6,262.3 1182.7,259.7 1181.8,259.2 1180.8,257.8 1179.9,263.4 1178.9,259.2 1178.0,257.0 1177.0,259.6 1176.1,253.9 1175.2,257.9 1174.2,256.1 1173.3,257.5 1172.3,259.3 1171.4,261.8 1170.4,255.9 1169.5,256.9 1168.6,259.4 1167.6,258.9 1166.7,262.8 1165.7,258.4 1164.8,264.9 1163.8,261.1 1162.9,261.3 1162.0,260.4 1161.0,261.3 1160.1,260.0 1159.1,256.2 1158.2,263.8 1157.2,255.3 1156.3,253.9 1155.4,251.4 1154.4,255.5 1153.5,254.0 1152.5,254.4 1151.6,253.6 1150.6,256.4 1149.7,256.7 1148.8,254.7 1147.8,254.5 1146.9,257.9 1145.9,258.0 1145.0,260.7 1144.0,255.7 1143.1,256.4 1142.2,256.0 1141.2,258.3 1140.3,256.0 1139.3,256.6 1138.4,257.5 1137.4,260.9 1136.5,262.3 1135.6,256.0 1134.6,261.0 1133.7,258.4 1132.7,261.6 1131.8,256.8 1130.8,254.8 1129.9,255.6 1129.0,260.5 1128.0,260.9 1127.1,254.5 1126.1,259.7 1125.2,257.4 1124.2,257.0 1123.3,255.4 1122.4,253.7 1121.4,251.9 1120.5,255.3 1119.5,255.5 1118.6,252.4 1117.6,255.0 1116.7,253.0 1115.8,254.0 1114.8,254.6 1113.9,251.5 1112.9,255.3 1112.0,255.0 1111.0,253.0 1110.1,253.4 1109.2,255.1 1108.2,255.8 1107.3,254.6 1106.3,253.4 1105.4,253.3 1104.4,254.4 1103.5,257.5 1102.5,255.7 1101.6,254.8 1100.7,258.0 1099.7,255.1 1098.8,252.6 1097.8,252.9 1096.9,252.6 1095.9,254.6 1095.0,250.6 1094.1,255.3 1093.1,250.9 1092.2,253.4 1091.2,256.8 1090.3,251.6 1089.3,253.7 1088.4,253.3 1087.5,251.0 1086.5,253.9 1085.6,256.3 1084.6,250.5 1083.7,255.5 1082.7,256.7 1081.8,255.2 1080.9,252.5 1079.9,253.7 1079.0,253.9 1078.0,261.7 1077.1,254.3 1076.1,255.3 1075.2,260.1 1074.3,260.2 1073.3,262.8 1072.4,256.6 1071.4,257.4 1070.5,254.9 1069.5,254.8 1068.6,257.7 1067.7,252.6 1066.7,258.9 1065.8,258.9 1064.8,255.7 1063.9,251.2 1062.9,254.2 1062.0,252.8 1061.1,256.2 1060.1,254.3 1059.2,252.3 1058.2,250.4 1057.3,251.8 1056.3,253.8 1055.4,252.8 1054.5,252.4 1053.5,252.2 1052.6,251.7 1051.6,250.2 1050.7,249.9 1049.7,248.5 1048.8,247.9 1047.9,256.0 1046.9,243.5 1046.0,247.3 1045.0,247.4 1044.1,246.8 1043.1,256.4 1042.2,249.6 1041.3,247.7 1040.3,248.2 1039.4,246.6 1038.4,247.2 1037.5,245.1 1036.5,243.6 1035.6,250.8 1034.7,244.9 1033.7,246.0 1032.8,247.3 1031.8,250.7 1030.9,250.5 1029.9,253.4 1029.0,249.0 1028.1,247.4 1027.1,247.2 1026.2,246.8 1025.2,244.4 1024.3,246.4 1023.3,253.8 1022.4,249.7 1021.5,248.8 1020.5,246.4 1019.6,249.2 1018.6,244.9 1017.7,244.1 1016.7,243.9 1015.8,242.1 1014.9,249.0 1013.9,241.3 1013.0,237.2 1012.0,237.9 1011.1,238.7 1010.1,233.2 1009.2,235.0 1008.3,234.6 1007.3,236.9 1006.4,237.4 1005.4,235.8 1004.5,237.4 1003.5,234.3 1002.6,237.3 1001.6,233.3 1000.7,234.6 999.8,230.1 998.8,233.3 997.9,228.8 996.9,226.1 996.0,224.3 995.0,225.3 994.1,225.9 993.2,225.8 992.2,223.6 991.3,231.6 990.3,225.3 989.4,228.3 988.4,223.5 987.5,223.7 986.6,219.6 985.6,221.5 984.7,225.8 983.7,220.4 982.8,213.9 981.8,212.7 980.9,204.1 980.0,199.2 979.0,196.8 978.1,184.9 977.1,176.5 976.2,173.8 975.2,165.6 974.3,159.9 973.4,150.5 972.4,143.3 971.5,129.2 970.5,124.6 969.6,110.6 968.6,96.8 967.7,84.1 966.8,75.7 965.8,63.6 964.9,48.1 963.9,40.0 963.0,33.5 962.0,13.4 961.1,0.7 960.2,-7.4 959.2,-17.8 958.3,-29.8 957.3,-41.3 956.4,-51.2 955.4,-64.7 954.5,-75.1" fill="#FF8000"/>
<polygon points="1250.6,610.2 1251.5,609.6 1252.5,616.0 1253.4,611.4 1254.4,622.6 1255.3,628.0 1256.3,612.5 1257.2,601.6 1258.1,585.1 1259.1,575.8 1260.0,560.3 1261.0,544.3 1261.9,533.7 1262.9,531.9 1263.8,524.3 1264.7,518.6 1265.7,512.7 1266.6,506.0 1267.6,500.9 1268.5,493.0 1269.5,486.4 1270.4,484.5 1271.3,478.1 1272.3,470.8 1273.2,472.7 1274.2,469.5 1275.1,465.5 1276.1,462.0 1277.0,453.4 1277.9,449.8 1278.9,447.4 1279.8,440.1 1280.8,433.8 1281.7,431.6 1282.7,428.5 1283.6,422.8 1284.5,422.8 1285.5,421.4 1286.4,412.2 1287.4,416.7 1288.3,408.9 1289.3,410.4 1290.2,408.2 1291.1,405.4 1292.1,403.3 1293.0,402.6 1294.0,400.5 1294.9,395.4 1295.9,398.0 1296.8,393.7 1297.7,386.0 1298.7,387.6 1299.6,381.6 1300.6,382.7 1301.5,383.5 1302.5,376.5 1303.4,381.2 1304.4,380.5 1305.3,376.5 1306.2,377.2 1307.2,374.3 1308.1,377.0 1309.1,364.7 1310.0,371.5 1311.0,370.9 1311.9,370.8 1312.8,369.5 1313.8,369.9 1314.7,367.7 1315.7,366.0 1316.6,367.4 1317.6,362.1 1318.5,365.3 1319.4,365.0 1320.4,362.7 1321.3,363.0 1322.3,358.5 1323.2,364.5 1324.2,362.1 1325.1,359.1 1326.0,357.8 1327.0,354.4 1327.9,350.5 1328.9,353.6 1329.8,352.2 1330.8,356.4 1331.7,355.4 1332.6,356.0 1333.6,354.9 1334.5,354.0 1335.5,351.3 1336.4,358.6 1337.4,356.6 1338.3,351.1 1339.2,357.8 1340.2,355.0 1341.1,355.2 1342.1,352.8 1343.0,351.8 1344.0,344.6 1344.9,353.9 1345.8,352.9 1346.8,354.3 1347.7,352.5 1348.7,353.7 1349.6,350.7 1350.6,352.4 1351.5,346.1 1352.4,354.6 1353.4,348.5 1354.3,353.5 1355.3,351.6 1356.2,353.9 1357.2,349.3 1358.1,352.3 1359.0,352.4 1360.0,354.1 1360.9,354.0 1361.9,353.7 1362.8,352.7 1363.8,353.9 1364.7,352.2 1365.6,352.7 1366.6,349.5 1367.5,344.9 1368.5,353.7 1369.4,349.9 1370.4,353.4 1371.3,352.5 1372.2,349.3 1373.2,351.3 1374.1,350.2 1375.1,346.3 1376.0,352.0 1377.0,354.6 1377.9,350.2 1378.8,350.6 1379.8,346.6 1380.7,352.6 1381.7,347.3 1382.6,345.0 1383.6,353.2 1384.5,352.2 1385.4,351.3 1386.4,349.4 1387.3,351.5 1388.3,350.7 1389.2,350.5 1390.2,349.3 1391.1,345.2 1392.0,351.1 1393.0,355.1 1393.9,354.5 1394.9,354.0 1395.8,355.0 1396.8,354.0 1397.7,351.7 1398.6,349.9 1399.6,341.0 1400.5,348.0 1401.5,345.5 1402.4,347.4 1403.4,348.5 1404.3,348.2 1405.3,346.1 1406.2,344.3 1407.1,349.1 1408.1,352.7 1409.0,346.2 1410.0,352.3 1410.9,349.8 1411.9,355.7 1412.8,354.0 1413.7,356.2 1414.7,354.1 1415.6,354.4 1416.6,350.9 1417.5,353.7 1418.5,351.2 1419.4,349.0 1420.3,343.0 1421.3,345.0 1422.2,349.3 1423.2,345.6 1424.1,350.3 1425.1,350.8 1426.0,348.9 1426.9,349.2 1427.9,348.2 1428.8,346.2 1429.8,347.0 1430.7,344.2 1431.7,345.1 1432.6,349.4 1433.5,351.2 1434.5,353.4 1435.4,352.1 1436.4,349.6 1437.3,354.6 1438.3,353.5 1439.2,351.0 1440.1,352.5 1441.1,354.5 1442.0,350.5 1443.0,353.4 1443.9,350.2 1444.9,354.5 1445.8,347.9 1446.7,351.8 1447.7,353.8 1448.6,351.0 1449.6,350.6 1450.5,354.5 1451.5,354.7 1452.4,353.0 1453.3,350.7 1454.3,351.7 1455.2,354.2 1456.2,355.0 1457.1,351.7 1458.1,351.3 1459.0,353.9 1459.9,353.1 1460.9,349.4 1461.8,351.0 1462.8,352.2 1463.7,348.1 1464.7,353.7 1465.6,352.6 1466.5,350.3 1467.5,346.7 1468.4,352.8 1469.4,347.1 1470.3,350.2 1471.3,352.7 1472.2,347.4 1473.1,351.1 1474.1,350.6 1475.0,348.9 1476.0,350.2 1476.9,349.1 1477.9,348.3 1478.8,352.6 1479.7,351.7 1480.7,350.0 1481.6,351.5 1482.6,351.3 1483.5,351.4 1484.5,350.3 1485.4,351.4 1486.3,345.1 1487.3,352.1 1488.2,350.2 1489.2,349.8 1490.1,350.8 1491.1,351.6 1492.0,352.1 1492.9,352.8 1493.9,351.3 1494.8,346.7 1495.8,353.2 1496.7,345.2 1497.7,348.9 1498.6,347.1 1499.5,349.8 1500.5,351.6 1501.4,349.6 1502.4,349.9 1503.3,351.3 1504.3,353.7 1505.2,352.6 1506.2,348.0 1507.1,349.6 1508.0,347.1 1509.0,349.7 1509.9,346.1 1510.9,351.5 1511.8,352.2 1512.8,352.5 1513.7,352.9 1514.6,348.9 1515.6,347.2 1516.5,351.9 1517.5,353.1 1518.4,349.0 1519.4,353.0 1520.3,352.9 1521.2,354.0 1522.2,354.3 1523.1,352.3 1524.1,353.3 1525.0,353.9 1526.0,349.6 1526.9,346.6 1527.8,347.4 1528.8,347.6 1529.7,349.0 1530.7,348.2 1531.6,349.3 1532.6,348.5 1533.5,347.4 1534.4,350.6 1535.4,350.4 1536.3,349.1 1537.3,348.6 1538.2,350.9 1538.2,364.1 1537.3,369.6 1536.3,369.7 1535.4,369.1 1534.4,369.9 1533.5,364.5 1532.6,362.6 1531.6,362.8 1530.7,365.6 1529.7,366.5 1528.8,361.3 1527.8,364.7 1526.9,362.6 1526.0,366.5 1525.0,365.2 1524.1,366.4 1523.1,366.0 1522.2,363.8 1521.2,366.0 1520.3,366.8 1519.4,362.3 1518.4,367.9 1517.5,367.4 1516.5,363.5 1515.6,367.5 1514.6,361.7 1513.7,363.6 1512.8,372.3 1511.8,363.8 1510.9,363.3 1509.9,363.3 1509.0,368.0 1508.0,366.3 1507.1,366.8 1506.2,366.9 1505.2,364.4 1504.3,366.9 1503.3,364.8 1502.4,369.0 1501.4,363.8 1500.5,362.3 1499.5,363.9 1498.6,360.8 1497.7,360.3 1496.7,364.1 1495.8,366.4 1494.8,361.8 1493.9,362.1 1492.9,362.0 1492.0,362.9 1491.1,369.8 1490.1,362.1 1489.2,364.7 1488.2,360.8 1487.3,363.4 1486.3,360.0 1485.4,360.3 1484.5,360.8 1483.5,359.8 1482.6,361.0 1481.6,370.5 1480.7,365.6 1479.7,362.9 1478.8,365.9 1477.9,361.5 1476.9,362.0 1476.0,361.9 1475.0,362.1 1474.1,369.0 1473.1,365.9 1472.2,362.4 1471.3,361.6 1470.3,363.0 1469.4,361.7 1468.4,367.1 1467.5,362.0 1466.5,363.6 1465.6,364.5 1464.7,366.7 1463.7,363.5 1462.8,367.9 1461.8,362.8 1460.9,362.5 1459.9,362.7 1459.0,364.5 1458.1,367.8 1457.1,367.3 1456.2,363.9 1455.2,367.4 1454.3,368.9 1453.3,364.5 1452.4,367.9 1451.5,365.4 1450.5,368.5 1449.6,365.5 1448.6,368.9 1447.7,366.3 1446.7,369.7 1445.8,367.3 1444.9,365.5 1443.9,365.2 1443.0,370.5 1442.0,364.3 1441.1,366.8 1440.1,365.3 1439.2,365.2 1438.3,370.0 1437.3,369.0 1436.4,371.6 1435.4,364.2 1434.5,366.8 1433.5,365.3 1432.6,358.9 1431.7,360.0 1430.7,356.2 1429.8,356.9 1428.8,357.3 1427.9,357.5 1426.9,361.6 1426.0,360.8 1425.1,361.1 1424.1,363.0 1423.2,359.4 1422.2,363.4 1421.3,358.8 1420.3,362.3 1419.4,362.2 1418.5,363.0 1417.5,368.6 1416.6,370.4 1415.6,368.9 1414.7,366.0 1413.7,369.3 1412.8,367.4 1411.9,366.6 1410.9,370.7 1410.0,362.7 1409.0,362.9 1408.1,361.8 1407.1,360.7 1406.2,361.5 1405.3,361.6 1404.3,360.3 1403.4,365.2 1402.4,364.0 1401.5,362.2 1400.5,363.6 1399.6,361.0 1398.6,361.7 1397.7,362.8 1396.8,367.0 1395.8,365.7 1394.9,364.5 1393.9,370.1 1393.0,368.1 1392.0,366.3 1391.1,367.0 1390.2,360.9 1389.2,361.5 1388.3,360.9 1387.3,360.3 1386.4,366.8 1385.4,362.8 1384.5,363.1 1383.6,368.0 1382.6,363.3 1381.7,366.9 1380.7,365.5 1379.8,365.1 1378.8,364.1 1377.9,367.1 1377.0,366.5 1376.0,366.8 1375.1,364.2 1374.1,365.5 1373.2,361.0 1372.2,361.6 1371.3,366.9 1370.4,367.7 1369.4,368.3 1368.5,365.4 1367.5,366.2 1366.6,362.6 1365.6,364.4 1364.7,365.6 1363.8,365.3 1362.8,364.3 1361.9,363.8 1360.9,363.8 1360.0,363.2 1359.0,365.8 1358.1,363.8 1357.2,366.5 1356.2,364.0 1355.3,364.3 1354.3,363.6 1353.4,364.9 1352.4,364.3 1351.5,368.2 1350.6,367.7 1349.6,365.8 1348.7,364.2 1347.7,366.8 1346.8,364.8 1345.8,371.2 1344.9,365.4 1344.0,362.6 1343.0,367.7 1342.1,364.8 1341.1,364.8 1340.2,367.2 1339.2,369.3 1338.3,368.2 1337.4,370.0 1336.4,373.4 1335.5,376.3 1334.5,367.8 1333.6,372.7 1332.6,367.7 1331.7,370.5 1330.8,369.8 1329.8,372.1 1328.9,370.8 1327.9,366.9 1327.0,370.7 1326.0,369.7 1325.1,371.5 1324.2,373.6 1323.2,375.7 1322.3,374.1 1321.3,383.0 1320.4,377.5 1319.4,378.1 1318.5,378.6 1317.6,375.6 1316.6,378.7 1315.7,382.7 1314.7,378.5 1313.8,384.5 1312.8,385.7 1311.9,381.4 1311.0,383.9 1310.0,387.8 1309.1,387.2 1308.1,391.9 1307.2,388.3 1306.2,391.3 1305.3,391.2 1304.4,395.2 1303.4,393.5 1302.5,394.9 1301.5,394.7 1300.6,396.5 1299.6,401.0 1298.7,400.5 1297.7,403.2 1296.8,407.6 1295.9,410.1 1294.9,414.8 1294.0,410.5 1293.0,416.6 1292.1,412.4 1291.1,415.5 1290.2,417.9 1289.3,421.0 1288.3,422.3 1287.4,425.3 1286.4,437.1 1285.5,433.9 1284.5,433.5 1283.6,436.0 1282.7,444.4 1281.7,444.3 1280.8,450.8 1279.8,454.2 1278.9,458.9 1277.9,462.8 1277.0,468.0 1276.1,470.9 1275.1,476.5 1274.2,478.6 1273.2,485.6 1272.3,488.0 1271.3,494.7 1270.4,498.4 1269.5,499.6 1268.5,506.1 1267.6,510.6 1266.6,516.7 1265.7,531.4 1264.7,529.4 1263.8,538.2 1262.9,542.5 1261.9,549.4 1261.0,560.7 1260.0,570.8 1259.1,586.3 1258.1,599.3 1257.2,615.6 1256.3,629.5 1255.3,648.4 1254.4,637.6 1253.4,635.0 1252.5,629.8 1251.5,626.8 1250.6,620.1" fill="#FF8000"/>
<line x1="1249.7" y1="253.8" x2="1250.6" y2="614.5" stroke="#FF8000" stroke-width="1" stroke-opacity="0.45"/>
<path d="M954.5,-82.9 L955.4,-70.7 L956.4,-58.5 L957.3,-46.8 L958.3,-35.8 L959.2,-25.2 L960.2,-14.5 L961.1,-3.5 L962.0,7.9 L963.0,19.8 L963.9,31.7 L964.9,43.6 L965.8,55.3 L966.8,66.8 L967.7,78.4 L968.6,90.1 L969.6,100.5 L970.5,110.9 L971.5,121.2 L972.4,131.2 L973.4,140.9 L974.3,150.3 L975.2,158.0 L976.2,164.9 L977.1,172.0 L978.1,179.3 L979.0,186.9 L980.0,194.5 L980.9,199.3 L981.8,204.0 L982.8,208.6 L983.7,212.5 M1012.0,231.4 L1013.0,233.0 L1013.9,234.8 L1014.9,236.5 M1250.6,614.5 L1251.5,618.4 L1252.5,622.3 L1253.4,626.7 L1254.4,631.7 L1255.3,635.7 L1256.3,622.3 L1257.2,608.8 L1258.1,594.9 L1259.1,580.7 L1260.0,566.2 L1261.0,551.6 L1261.9,543.6 L1262.9,537.3 L1263.8,530.9 L1264.7,524.6 L1265.7,518.1 L1266.6,511.8 L1267.6,505.7 L1268.5,499.9 L1269.5,494.5 L1270.4,489.5 L1271.3,484.9 L1272.3,481.5 L1273.2,477.9 L1274.2,474.1 L1275.1,470.2 L1276.1,466.1 L1277.0,462.0 L1277.9,457.6 L1278.9,453.0 L1279.8,448.1 L1280.8,443.2 L1281.7,438.1 L1282.7,434.5 L1283.6,431.4 L1284.5,428.6 L1285.5,426.1 L1286.4,423.6 L1287.4,420.9 L1288.3,418.1 L1289.3,415.2 L1290.2,412.6 L1291.1,410.0 L1292.1,407.9 M1294.9,404.7 L1295.9,402.8 L1296.8,400.4 L1297.7,397.6 L1298.7,394.9 L1299.6,392.6 L1300.6,390.7 M1431.7,352.7 L1432.6,354.5 L1433.5,356.4 L1434.5,358.3" fill="none" stroke="#FF8000" stroke-width="3.0" stroke-linejoin="round"/>
<path d="M996.9,221.7 L997.9,223.3 M1201.6,248.3 L1202.5,250.0 L1203.4,251.6 M1310.0,379.4 L1311.0,377.8 L1311.9,376.2 M1326.0,365.6 L1327.0,364.1" fill="none" stroke="#FF8000" stroke-width="1.3" stroke-linejoin="round"/>
</g>
<rect x="954.5" y="19" width="592" height="592" fill="none" stroke="#000" stroke-width="1.6"/>
<path d="M954.5,611L954.5,602.5 M954.5,19L954.5,27.5 M1072.9,611L1072.9,602.5 M1072.9,19L1072.9,27.5 M1191.3,611L1191.3,602.5 M1191.3,19L1191.3,27.5 M1309.7,611L1309.7,602.5 M1309.7,19L1309.7,27.5 M1428.1,611L1428.1,602.5 M1428.1,19L1428.1,27.5 M1546.5,611L1546.5,602.5 M1546.5,19L1546.5,27.5 M1013.7,611L1013.7,606.5 M1013.7,19L1013.7,23.5 M1132.1,611L1132.1,606.5 M1132.1,19L1132.1,23.5 M1250.5,611L1250.5,606.5 M1250.5,19L1250.5,23.5 M1368.9,611L1368.9,606.5 M1368.9,19L1368.9,23.5 M1487.3,611L1487.3,606.5 M1487.3,19L1487.3,23.5 M954.5,611L963,611 M1546.5,611L1538,611 M954.5,526.4L963,526.4 M1546.5,526.4L1538,526.4 M954.5,441.9L963,441.9 M1546.5,441.9L1538,441.9 M954.5,357.3L963,357.3 M1546.5,357.3L1538,357.3 M954.5,272.7L963,272.7 M1546.5,272.7L1538,272.7 M954.5,188.1L963,188.1 M1546.5,188.1L1538,188.1 M954.5,103.6L963,103.6 M1546.5,103.6L1538,103.6 M954.5,19L963,19 M1546.5,19L1538,19 M954.5,568.7L959,568.7 M1546.5,568.7L1542,568.7 M954.5,484.1L959,484.1 M1546.5,484.1L1542,484.1 M954.5,399.6L959,399.6 M1546.5,399.6L1542,399.6 M954.5,315L959,315 M1546.5,315L1542,315 M954.5,230.4L959,230.4 M1546.5,230.4L1542,230.4 M954.5,145.9L959,145.9 M1546.5,145.9L1542,145.9 M954.5,61.3L959,61.3 M1546.5,61.3L1542,61.3" stroke="#000" stroke-width="1.5" fill="none"/>
<text x="871.36" y="622.50" font-family="'Liberation Sans', Arial, sans-serif" font-weight="normal" font-style="normal" font-size="43.3" fill="#000" stroke="#000" stroke-width="0.5">-0.3</text>
<text x="871.79" y="537.93" font-family="'Liberation Sans', Arial, sans-serif" font-weight="normal" font-style="normal" font-size="43.3" fill="#000" stroke="#000" stroke-width="0.5">-0.2</text>
<text x="871.57" y="453.36" font-family="'Liberation Sans', Arial, sans-serif" font-weight="normal" font-style="normal" font-size="43.3" fill="#000" stroke="#000" stroke-width="0.5">-0.1</text>
<text x="885.43" y="368.79" font-family="'Liberation Sans', Arial, sans-serif" font-weight="normal" font-style="normal" font-size="43.3" fill="#000" stroke="#000" stroke-width="0.5">0.0</text>
<text x="885.86" y="284.21" font-family="'Liberation Sans', Arial, sans-serif" font-weight="normal" font-style="normal" font-size="43.3" fill="#000" stroke="#000" stroke-width="0.5">0.1</text>
<text x="886.08" y="199.64" font-family="'Liberation Sans', Arial, sans-serif" font-weight="normal" font-style="normal" font-size="43.3" fill="#000" stroke="#000" stroke-width="0.5">0.2</text>
<text x="885.64" y="115.07" font-family="'Liberation Sans', Arial, sans-serif" font-weight="normal" font-style="normal" font-size="43.3" fill="#000" stroke="#000" stroke-width="0.5">0.3</text>
<text x="885.21" y="30.50" font-family="'Liberation Sans', Arial, sans-serif" font-weight="normal" font-style="normal" font-size="43.3" fill="#000" stroke="#000" stroke-width="0.5">0.4</text>
<text x="942.38" y="652.60" font-family="'Liberation Sans', Arial, sans-serif" font-weight="normal" font-style="normal" font-size="43.3" fill="#000" stroke="#000" stroke-width="0.5">0</text>
<text x="1060.88" y="652.60" font-family="'Liberation Sans', Arial, sans-serif" font-weight="normal" font-style="normal" font-size="43.3" fill="#000" stroke="#000" stroke-width="0.5">2</text>
<text x="1179.50" y="652.60" font-family="'Liberation Sans', Arial, sans-serif" font-weight="normal" font-style="normal" font-size="43.3" fill="#000" stroke="#000" stroke-width="0.5">4</text>
<text x="1297.47" y="652.60" font-family="'Liberation Sans', Arial, sans-serif" font-weight="normal" font-style="normal" font-size="43.3" fill="#000" stroke="#000" stroke-width="0.5">6</text>
<text x="1415.98" y="652.60" font-family="'Liberation Sans', Arial, sans-serif" font-weight="normal" font-style="normal" font-size="43.3" fill="#000" stroke="#000" stroke-width="0.5">8</text>
<text x="1521.60" y="652.60" font-family="'Liberation Sans', Arial, sans-serif" font-weight="normal" font-style="normal" font-size="43.3" fill="#000" stroke="#000" stroke-width="0.5">10</text>
<text transform="matrix(0.50909 0 0 0.49198 974.95 79.67)" font-family="'Liberation Sans', Arial, sans-serif" font-weight="normal" font-style="normal" font-size="100" fill="#000" stroke="#000" stroke-width="0.999">(b)</text>
<text transform="matrix(0 -0.43277 0.43422 0 831.78 447.42)" font-family="'Liberation Sans', Arial, sans-serif" font-weight="normal" font-style="normal" font-size="100" fill="#000" stroke="#000" stroke-width="1.153">Voltage [V]</text>
<text transform="matrix(0.42375 0 0 0.40749 1163.75 719.14)" font-family="'Liberation Sans', Arial, sans-serif" font-weight="normal" font-style="normal" font-size="100" fill="#000" stroke="#000" stroke-width="1.203">Time [<tspan font-family="'Liberation Serif', serif">µ</tspan>s]</text>
<line x1="1348.2" y1="41.3" x2="1427.3" y2="41.3" stroke="#B4B4B4" stroke-width="1.3" stroke-linecap="butt"/>
<text x="1436.78" y="53.40" font-family="'Liberation Sans', Arial, sans-serif" font-weight="normal" font-style="normal" font-size="35.6" fill="#000" stroke="#000" stroke-width="0.5">0.10V</text>
<line x1="1348.2" y1="84.7" x2="1427.3" y2="84.7" stroke="#F4A0A0" stroke-width="1.3" stroke-linecap="butt"/>
<text x="1436.78" y="96.83" font-family="'Liberation Sans', Arial, sans-serif" font-weight="normal" font-style="normal" font-size="35.6" fill="#000" stroke="#000" stroke-width="0.5">0.20V</text>
<line x1="1348.2" y1="128.2" x2="1427.3" y2="128.2" stroke="#D4D4B0" stroke-width="1.3" stroke-linecap="butt"/>
<text x="1436.78" y="140.26" font-family="'Liberation Sans', Arial, sans-serif" font-weight="normal" font-style="normal" font-size="35.6" fill="#000" stroke="#000" stroke-width="0.5">0.30V</text>
<line x1="1348.2" y1="171.6" x2="1427.3" y2="171.6" stroke="#5050E0" stroke-width="1.3" stroke-linecap="butt"/>
<text x="1436.78" y="183.69" font-family="'Liberation Sans', Arial, sans-serif" font-weight="normal" font-style="normal" font-size="35.6" fill="#000" stroke="#000" stroke-width="0.5">0.40V</text>
<line x1="1348.2" y1="215" x2="1427.3" y2="215" stroke="#3C9C3C" stroke-width="1.3" stroke-linecap="butt"/>
<text x="1436.78" y="227.12" font-family="'Liberation Sans', Arial, sans-serif" font-weight="normal" font-style="normal" font-size="35.6" fill="#000" stroke="#000" stroke-width="0.5">0.45V</text>
<line x1="1348.2" y1="258.4" x2="1427.3" y2="258.4" stroke="#A050A0" stroke-width="1.3" stroke-linecap="butt"/>
<text x="1436.78" y="270.55" font-family="'Liberation Sans', Arial, sans-serif" font-weight="normal" font-style="normal" font-size="35.6" fill="#000" stroke="#000" stroke-width="0.5">0.50V</text>
<line x1="1348.2" y1="301.9" x2="1427.3" y2="301.9" stroke="#F8B070" stroke-width="1.3" stroke-linecap="butt"/>
<text x="1436.78" y="313.98" font-family="'Liberation Sans', Arial, sans-serif" font-weight="normal" font-style="normal" font-size="35.6" fill="#000" stroke="#000" stroke-width="0.5">0.60V</text>
<g clip-path="url(#cc)">
<polygon points="156.0,1069.9 156.9,1066.2 157.9,1064.3 158.8,1060.1 159.8,1057.3 160.7,1055.1 161.7,1052.2 162.6,1052.2 163.6,1049.7 164.5,1048.2 165.5,1044.2 166.4,1042.3 167.4,1038.4 168.3,1035.5 169.2,1032.0 170.2,1030.5 171.1,1027.8 172.1,1026.5 173.0,1024.1 174.0,1023.5 174.9,1021.1 175.9,1019.8 176.8,1018.6 177.8,1021.8 178.7,1021.5 179.7,1023.3 180.6,1026.7 181.6,1027.7 182.5,1029.9 183.4,1030.1 184.4,1029.5 185.3,1031.7 186.3,1032.4 187.2,1035.4 188.2,1033.9 189.1,1036.3 190.1,1037.0 191.0,1035.5 192.0,1037.3 192.9,1036.3 193.9,1034.9 194.8,1035.5 195.7,1034.6 196.7,1032.6 197.6,1032.7 198.6,1031.1 199.5,1029.3 200.5,1029.6 201.4,1029.8 202.4,1031.1 203.3,1031.3 204.3,1031.8 205.2,1031.9 206.2,1031.6 207.1,1033.5 208.0,1030.2 209.0,1031.6 209.9,1028.6 210.9,1029.4 211.8,1028.8 212.8,1028.5 213.7,1029.9 214.7,1031.3 215.6,1031.1 216.6,1032.9 217.5,1030.0 218.5,1032.5 219.4,1032.9 220.4,1033.1 221.3,1034.1 222.2,1035.0 223.2,1035.3 224.1,1036.3 225.1,1038.5 226.0,1037.7 227.0,1038.3 227.9,1036.5 228.9,1037.9 229.8,1036.6 230.8,1037.5 231.7,1037.4 232.7,1036.9 233.6,1035.4 234.5,1035.0 235.5,1033.7 236.4,1033.3 237.4,1036.8 238.3,1036.6 239.3,1038.5 240.2,1040.6 241.2,1038.1 242.1,1041.8 243.1,1041.5 244.0,1041.4 245.0,1040.9 245.9,1041.8 246.8,1038.8 247.8,1040.4 248.7,1039.9 249.7,1041.3 250.6,1042.1 251.6,1039.9 252.5,1041.0 253.5,1043.5 254.4,1045.6 255.4,1046.1 256.3,1045.8 257.3,1044.0 258.2,1044.9 259.2,1044.1 260.1,1042.0 261.0,1044.8 262.0,1046.1 262.9,1046.6 263.9,1043.3 264.8,1043.2 265.8,1044.0 266.7,1043.3 267.7,1041.4 268.6,1043.6 269.6,1044.7 270.5,1047.8 271.5,1047.4 272.4,1048.4 273.3,1048.2 274.3,1047.7 275.2,1050.1 276.2,1050.3 277.1,1050.7 278.1,1049.2 279.0,1050.3 280.0,1047.7 280.9,1049.5 281.9,1051.9 282.8,1049.7 283.8,1049.8 284.7,1049.7 285.6,1048.9 286.6,1047.8 287.5,1050.9 288.5,1051.4 289.4,1052.6 290.4,1048.9 291.3,1051.3 292.3,1047.9 293.2,1051.3 294.2,1054.6 295.1,1056.9 296.1,1056.5 297.0,1057.1 298.0,1057.5 298.9,1057.3 299.8,1056.0 300.8,1054.6 301.7,1053.9 302.7,1053.1 303.6,1053.6 304.6,1052.6 305.5,1054.4 306.5,1053.4 307.4,1054.1 308.4,1055.8 309.3,1055.1 310.3,1055.8 311.2,1057.1 312.1,1054.8 313.1,1057.3 314.0,1058.7 315.0,1057.8 315.9,1059.1 316.9,1059.8 317.8,1059.2 318.8,1056.6 319.7,1056.1 320.7,1057.0 321.6,1056.3 322.6,1057.7 323.5,1056.1 324.4,1058.7 325.4,1056.6 326.3,1057.0 327.3,1057.2 328.2,1057.3 329.2,1057.4 330.1,1059.4 331.1,1059.9 332.0,1062.0 333.0,1062.1 333.9,1062.0 334.9,1062.9 335.8,1063.6 336.8,1062.6 337.7,1064.1 338.6,1058.6 339.6,1062.1 340.5,1060.5 341.5,1060.7 342.4,1061.0 343.4,1061.1 344.3,1061.1 345.3,1060.8 346.2,1061.8 347.2,1061.5 348.1,1057.7 349.1,1061.8 350.0,1062.1 350.9,1062.7 351.9,1061.8 352.8,1063.0 353.8,1063.8 354.7,1064.3 355.7,1063.4 356.6,1064.1 357.6,1066.6 358.5,1066.5 359.5,1066.3 360.4,1062.1 361.4,1065.5 362.3,1064.3 363.2,1063.3 364.2,1063.8 365.1,1066.5 366.1,1066.1 367.0,1066.0 368.0,1061.3 368.9,1065.5 369.9,1068.3 370.8,1065.9 371.8,1069.8 372.7,1068.6 373.7,1065.8 374.6,1069.6 375.6,1067.8 376.5,1066.0 377.4,1066.5 378.4,1067.3 379.3,1068.0 380.3,1070.1 381.2,1070.3 382.2,1068.2 383.1,1069.2 384.1,1068.8 385.0,1066.5 386.0,1068.5 386.9,1067.3 387.9,1065.9 388.8,1067.6 389.7,1067.5 390.7,1064.5 391.6,1066.2 392.6,1063.9 393.5,1066.8 394.5,1068.6 395.4,1071.5 396.4,1071.5 397.3,1072.7 398.3,1072.4 399.2,1072.8 400.2,1072.1 401.1,1069.6 402.0,1069.3 403.0,1071.6 403.9,1072.2 404.9,1073.4 405.8,1071.9 406.8,1074.1 407.7,1075.2 408.7,1074.5 409.6,1072.2 410.6,1073.7 411.5,1073.1 412.5,1072.5 413.4,1073.4 414.4,1074.2 415.3,1074.2 416.2,1075.3 417.2,1074.5 418.1,1075.2 419.1,1074.7 420.0,1075.5 421.0,1075.3 421.9,1073.4 422.9,1074.8 423.8,1075.1 424.8,1073.6 425.7,1075.9 426.7,1076.4 427.6,1077.7 428.5,1076.8 429.5,1077.4 430.4,1071.9 431.4,1077.7 432.3,1075.3 433.3,1075.9 434.2,1074.8 435.2,1074.8 436.1,1074.6 437.1,1075.5 438.0,1076.0 439.0,1075.9 439.9,1077.1 440.8,1080.2 441.8,1078.0 442.7,1081.3 443.7,1077.6 444.6,1079.7 445.6,1079.0 446.5,1079.4 447.5,1079.8 448.4,1080.5 449.4,1078.8 450.3,1081.6 451.3,1082.7 452.2,1085.1 453.2,1093.4 454.1,1100.0 455.0,1107.5 456.0,1113.0 456.9,1118.1 457.9,1124.0 458.8,1127.5 459.8,1128.6 460.7,1134.9 461.7,1138.5 462.6,1143.0 463.6,1143.6 464.5,1144.5 465.5,1150.3 466.4,1155.3 467.3,1157.6 468.3,1156.6 469.2,1163.7 470.2,1165.0 471.1,1167.2 472.1,1167.3 473.0,1170.4 474.0,1170.2 474.9,1174.5 475.9,1174.6 476.8,1174.4 477.8,1179.3 478.7,1178.6 479.6,1179.5 480.6,1176.6 481.5,1175.2 482.5,1172.1 483.4,1171.5 484.4,1169.6 485.3,1167.2 486.3,1163.0 487.2,1166.9 488.2,1164.4 489.1,1166.3 490.1,1164.4 491.0,1164.2 491.9,1165.6 492.9,1165.3 493.8,1166.9 494.8,1164.8 495.7,1166.1 496.7,1163.7 497.6,1166.1 498.6,1167.1 499.5,1166.7 500.5,1167.5 501.4,1167.8 502.4,1168.0 503.3,1168.4 504.3,1168.4 505.2,1167.7 506.1,1164.9 507.1,1168.0 508.0,1168.2 509.0,1168.0 509.9,1168.1 510.9,1169.7 511.8,1169.9 512.8,1169.7 513.7,1169.2 514.7,1171.0 515.6,1171.3 516.6,1172.1 517.5,1171.6 518.4,1169.0 519.4,1166.7 520.3,1165.2 521.3,1163.3 522.2,1165.1 523.2,1164.5 524.1,1164.7 525.1,1168.4 526.0,1168.0 527.0,1165.2 527.9,1166.7 528.9,1166.2 529.8,1167.3 530.7,1167.5 531.7,1167.8 532.6,1168.0 533.6,1164.2 534.5,1166.5 535.5,1165.4 536.4,1166.2 537.4,1165.2 538.3,1163.4 539.3,1164.0 540.2,1162.0 541.2,1162.6 542.1,1161.0 543.1,1160.6 544.0,1158.6 544.9,1158.9 545.9,1160.9 546.8,1162.7 547.8,1162.6 548.7,1162.8 549.7,1163.1 550.6,1160.1 551.6,1160.3 552.5,1158.4 553.5,1156.0 554.4,1154.3 555.4,1155.9 556.3,1155.9 557.2,1154.4 558.2,1155.9 559.1,1156.6 560.1,1157.3 561.0,1156.4 562.0,1157.5 562.9,1157.4 563.9,1157.6 564.8,1157.0 565.8,1158.3 566.7,1158.2 567.7,1156.4 568.6,1156.9 569.5,1154.4 570.5,1154.1 571.4,1153.7 572.4,1154.6 573.3,1156.8 574.3,1157.8 575.2,1158.1 576.2,1157.3 577.1,1156.1 578.1,1155.8 579.0,1155.8 580.0,1155.9 580.9,1153.9 581.9,1155.1 582.8,1150.9 583.7,1152.8 584.7,1154.1 585.6,1152.6 586.6,1153.9 587.5,1154.0 588.5,1152.2 589.4,1152.5 590.4,1151.9 591.3,1154.4 592.3,1152.7 593.2,1155.8 594.2,1153.9 595.1,1152.6 596.0,1148.9 597.0,1148.2 597.9,1149.8 598.9,1151.7 599.8,1153.3 600.8,1155.1 601.7,1155.2 602.7,1153.0 603.6,1151.0 604.6,1150.2 605.5,1152.1 606.5,1147.8 607.4,1151.4 608.3,1149.8 609.3,1149.6 610.2,1149.9 611.2,1148.2 612.1,1147.2 613.1,1145.7 614.0,1144.4 615.0,1142.9 615.9,1141.7 616.9,1143.8 617.8,1143.6 618.8,1145.5 619.7,1145.2 620.7,1147.0 621.6,1147.9 622.5,1146.9 623.5,1144.7 624.4,1143.3 625.4,1144.1 626.3,1143.5 627.3,1143.7 628.2,1143.5 629.2,1144.5 630.1,1142.9 631.1,1144.2 632.0,1147.6 633.0,1145.4 633.9,1144.9 634.8,1147.9 635.8,1144.5 636.7,1145.8 637.7,1143.3 638.6,1144.6 639.6,1144.4 640.5,1140.5 641.5,1141.1 642.4,1142.8 643.4,1145.5 644.3,1143.7 645.3,1146.1 646.2,1146.1 647.1,1144.2 648.1,1143.4 649.0,1146.1 650.0,1145.5 650.9,1144.3 651.9,1145.1 652.8,1145.7 653.8,1144.5 654.7,1143.5 655.7,1143.2 656.6,1140.3 657.6,1141.7 658.5,1143.2 659.5,1143.1 660.4,1143.4 661.3,1142.0 662.3,1141.2 663.2,1140.5 664.2,1140.9 665.1,1140.2 666.1,1139.4 667.0,1140.5 668.0,1141.4 668.9,1141.3 669.9,1141.1 670.8,1143.0 671.8,1143.0 672.7,1140.7 673.6,1142.2 674.6,1142.3 675.5,1141.6 676.5,1139.5 677.4,1137.9 678.4,1140.4 679.3,1140.1 680.3,1138.2 681.2,1139.1 682.2,1137.0 683.1,1137.6 684.1,1136.9 685.0,1137.1 685.9,1134.9 686.9,1138.2 687.8,1137.1 688.8,1139.0 689.7,1138.7 690.7,1140.2 691.6,1138.8 692.6,1142.4 693.5,1141.2 694.5,1140.0 695.4,1141.1 696.4,1141.8 697.3,1140.6 698.3,1139.2 699.2,1138.8 700.1,1137.3 701.1,1137.0 702.0,1137.2 703.0,1135.0 703.9,1134.2 704.9,1135.7 705.8,1134.3 706.8,1133.0 707.7,1134.0 708.7,1131.6 709.6,1133.7 710.6,1135.5 711.5,1133.2 712.4,1136.0 713.4,1136.6 714.3,1133.1 715.3,1136.1 716.2,1136.9 717.2,1135.9 718.1,1135.2 719.1,1135.9 720.0,1136.1 721.0,1135.3 721.9,1136.8 722.9,1137.5 723.8,1133.9 724.7,1136.4 725.7,1136.5 726.6,1136.7 727.6,1136.9 728.5,1136.5 729.5,1135.1 730.4,1134.5 731.4,1134.4 732.3,1133.3 733.3,1132.4 734.2,1130.4 735.2,1132.8 736.1,1131.3 737.1,1132.9 738.0,1129.6 738.9,1131.4 739.9,1131.8 740.8,1131.2 741.8,1131.8 741.8,1138.0 740.8,1137.4 739.9,1136.9 738.9,1137.1 738.0,1137.8 737.1,1137.9 736.1,1138.7 735.2,1138.4 734.2,1137.4 733.3,1138.7 732.3,1140.0 731.4,1138.1 730.4,1139.4 729.5,1141.3 728.5,1142.7 727.6,1141.4 726.6,1143.0 725.7,1142.9 724.7,1143.2 723.8,1142.8 722.9,1144.5 721.9,1142.6 721.0,1143.6 720.0,1145.0 719.1,1142.1 718.1,1143.4 717.2,1142.4 716.2,1143.3 715.3,1145.1 714.3,1143.9 713.4,1141.3 712.4,1142.2 711.5,1140.9 710.6,1139.4 709.6,1139.2 708.7,1140.6 707.7,1138.1 706.8,1140.1 705.8,1142.0 704.9,1141.4 703.9,1140.9 703.0,1143.5 702.0,1142.9 701.1,1143.8 700.1,1147.5 699.2,1144.9 698.3,1146.3 697.3,1148.2 696.4,1147.9 695.4,1149.1 694.5,1149.7 693.5,1148.3 692.6,1147.2 691.6,1146.0 690.7,1146.4 689.7,1146.3 688.8,1143.3 687.8,1143.2 686.9,1142.1 685.9,1143.1 685.0,1143.4 684.1,1141.6 683.1,1143.1 682.2,1144.0 681.2,1144.2 680.3,1143.8 679.3,1145.8 678.4,1145.4 677.4,1145.3 676.5,1147.3 675.5,1146.2 674.6,1146.5 673.6,1148.4 672.7,1149.1 671.8,1147.0 670.8,1147.5 669.9,1146.6 668.9,1146.4 668.0,1145.8 667.0,1146.8 666.1,1146.8 665.1,1145.0 664.2,1145.7 663.2,1145.3 662.3,1145.9 661.3,1148.0 660.4,1149.4 659.5,1150.2 658.5,1147.4 657.6,1146.5 656.6,1147.0 655.7,1148.4 654.7,1149.8 653.8,1151.3 652.8,1151.2 651.9,1150.2 650.9,1151.4 650.0,1151.3 649.0,1153.3 648.1,1151.8 647.1,1150.6 646.2,1152.7 645.3,1151.9 644.3,1151.3 643.4,1151.9 642.4,1148.6 641.5,1149.4 640.5,1150.4 639.6,1149.4 638.6,1151.9 637.7,1149.7 636.7,1151.1 635.8,1155.1 634.8,1152.6 633.9,1156.3 633.0,1153.2 632.0,1152.2 631.1,1151.9 630.1,1150.0 629.2,1150.7 628.2,1148.3 627.3,1148.4 626.3,1149.6 625.4,1150.5 624.4,1150.5 623.5,1152.2 622.5,1151.0 621.6,1152.9 620.7,1151.5 619.7,1152.7 618.8,1149.7 617.8,1149.8 616.9,1147.6 615.9,1149.8 615.0,1149.1 614.0,1149.6 613.1,1150.1 612.1,1154.5 611.2,1155.9 610.2,1156.0 609.3,1155.3 608.3,1157.8 607.4,1159.2 606.5,1155.9 605.5,1155.8 604.6,1156.5 603.6,1157.2 602.7,1160.2 601.7,1160.5 600.8,1159.8 599.8,1158.3 598.9,1156.4 597.9,1155.4 597.0,1155.0 596.0,1154.9 595.1,1157.0 594.2,1161.3 593.2,1160.0 592.3,1162.0 591.3,1159.3 590.4,1158.6 589.4,1158.2 588.5,1157.2 587.5,1159.1 586.6,1159.7 585.6,1158.2 584.7,1159.5 583.7,1159.0 582.8,1160.3 581.9,1159.2 580.9,1159.9 580.0,1162.4 579.0,1163.5 578.1,1162.8 577.1,1162.1 576.2,1162.4 575.2,1162.8 574.3,1165.3 573.3,1163.8 572.4,1164.3 571.4,1161.5 570.5,1161.5 569.5,1160.4 568.6,1162.6 567.7,1164.3 566.7,1163.1 565.8,1164.2 564.8,1162.4 563.9,1161.7 562.9,1162.3 562.0,1165.2 561.0,1161.7 560.1,1163.8 559.1,1163.3 558.2,1161.4 557.2,1160.0 556.3,1160.5 555.4,1161.7 554.4,1160.2 553.5,1161.8 552.5,1163.9 551.6,1167.7 550.6,1169.8 549.7,1168.1 548.7,1168.7 547.8,1169.0 546.8,1167.9 545.9,1167.1 544.9,1165.4 544.0,1165.0 543.1,1166.4 542.1,1169.1 541.2,1167.6 540.2,1169.6 539.3,1170.9 538.3,1169.1 537.4,1172.0 536.4,1171.3 535.5,1171.6 534.5,1174.4 533.6,1175.1 532.6,1173.5 531.7,1172.9 530.7,1171.8 529.8,1171.1 528.9,1173.5 527.9,1171.2 527.0,1171.9 526.0,1176.1 525.1,1175.4 524.1,1174.8 523.2,1171.5 522.2,1169.3 521.3,1170.7 520.3,1171.0 519.4,1172.2 518.4,1175.7 517.5,1176.5 516.6,1176.5 515.6,1176.2 514.7,1176.1 513.7,1174.4 512.8,1176.8 511.8,1174.7 510.9,1174.8 509.9,1173.2 509.0,1174.6 508.0,1174.9 507.1,1173.6 506.1,1176.6 505.2,1172.9 504.3,1173.0 503.3,1173.2 502.4,1174.1 501.4,1171.7 500.5,1172.4 499.5,1173.6 498.6,1174.1 497.6,1172.4 496.7,1172.1 495.7,1173.0 494.8,1171.8 493.8,1171.4 492.9,1171.3 491.9,1172.6 491.0,1170.2 490.1,1171.2 489.1,1171.5 488.2,1170.9 487.2,1171.2 486.3,1171.2 485.3,1173.0 484.4,1174.0 483.4,1176.4 482.5,1180.3 481.5,1180.9 480.6,1183.0 479.6,1184.5 478.7,1185.4 477.8,1188.3 476.8,1182.5 475.9,1182.6 474.9,1178.6 474.0,1175.9 473.0,1174.6 472.1,1174.1 471.1,1171.7 470.2,1174.5 469.2,1170.7 468.3,1164.9 467.3,1162.8 466.4,1160.4 465.5,1158.3 464.5,1153.4 463.6,1151.8 462.6,1148.5 461.7,1144.1 460.7,1141.2 459.8,1137.1 458.8,1135.2 457.9,1130.6 456.9,1123.5 456.0,1122.5 455.0,1113.1 454.1,1105.6 453.2,1101.5 452.2,1093.7 451.3,1088.5 450.3,1087.3 449.4,1088.4 448.4,1085.8 447.5,1086.3 446.5,1085.0 445.6,1084.7 444.6,1084.8 443.7,1084.2 442.7,1085.1 441.8,1087.5 440.8,1084.8 439.9,1082.5 439.0,1082.4 438.0,1079.7 437.1,1080.7 436.1,1079.8 435.2,1080.7 434.2,1080.8 433.3,1081.1 432.3,1081.0 431.4,1081.9 430.4,1084.5 429.5,1084.1 428.5,1081.7 427.6,1084.5 426.7,1083.0 425.7,1082.4 424.8,1081.9 423.8,1079.2 422.9,1080.6 421.9,1080.9 421.0,1082.0 420.0,1080.9 419.1,1080.2 418.1,1081.9 417.2,1079.6 416.2,1081.3 415.3,1081.5 414.4,1081.7 413.4,1078.8 412.5,1080.0 411.5,1080.1 410.6,1077.7 409.6,1078.6 408.7,1082.3 407.7,1082.5 406.8,1078.8 405.8,1078.7 404.9,1078.3 403.9,1078.3 403.0,1078.2 402.0,1076.8 401.1,1076.9 400.2,1077.5 399.2,1077.0 398.3,1081.6 397.3,1078.9 396.4,1079.0 395.4,1075.7 394.5,1074.8 393.5,1073.1 392.6,1072.0 391.6,1074.2 390.7,1074.1 389.7,1073.1 388.8,1072.9 387.9,1073.9 386.9,1074.5 386.0,1075.0 385.0,1072.8 384.1,1074.7 383.1,1077.2 382.2,1075.8 381.2,1076.0 380.3,1074.5 379.3,1074.5 378.4,1075.2 377.4,1073.7 376.5,1073.9 375.6,1072.7 374.6,1074.3 373.7,1074.7 372.7,1075.1 371.8,1075.7 370.8,1075.9 369.9,1075.6 368.9,1072.6 368.0,1073.0 367.0,1071.3 366.1,1069.9 365.1,1070.0 364.2,1070.1 363.2,1070.5 362.3,1070.3 361.4,1070.1 360.4,1070.3 359.5,1071.0 358.5,1070.3 357.6,1072.2 356.6,1069.7 355.7,1069.0 354.7,1068.8 353.8,1069.4 352.8,1069.4 351.9,1067.1 350.9,1066.6 350.0,1069.1 349.1,1066.2 348.1,1065.6 347.2,1068.1 346.2,1070.5 345.3,1068.2 344.3,1067.9 343.4,1066.1 342.4,1067.6 341.5,1066.2 340.5,1065.7 339.6,1067.3 338.6,1068.5 337.7,1068.6 336.8,1069.1 335.8,1069.7 334.9,1069.7 333.9,1069.4 333.0,1066.9 332.0,1067.6 331.1,1065.1 330.1,1064.9 329.2,1064.1 328.2,1063.1 327.3,1063.1 326.3,1064.4 325.4,1063.6 324.4,1063.4 323.5,1064.8 322.6,1064.4 321.6,1065.4 320.7,1064.9 319.7,1061.4 318.8,1062.2 317.8,1065.2 316.9,1065.9 315.9,1065.0 315.0,1066.3 314.0,1065.2 313.1,1066.8 312.1,1064.3 311.2,1062.8 310.3,1060.8 309.3,1061.3 308.4,1059.3 307.4,1060.4 306.5,1059.9 305.5,1058.2 304.6,1064.4 303.6,1059.0 302.7,1061.5 301.7,1062.3 300.8,1062.4 299.8,1062.4 298.9,1063.9 298.0,1061.7 297.0,1063.5 296.1,1063.4 295.1,1063.1 294.2,1062.2 293.2,1057.2 292.3,1057.0 291.3,1055.4 290.4,1056.1 289.4,1056.3 288.5,1058.3 287.5,1056.9 286.6,1056.6 285.6,1053.9 284.7,1058.0 283.8,1058.5 282.8,1058.0 281.9,1058.1 280.9,1056.5 280.0,1056.2 279.0,1058.1 278.1,1055.1 277.1,1055.2 276.2,1056.8 275.2,1053.8 274.3,1053.9 273.3,1052.8 272.4,1054.6 271.5,1052.6 270.5,1051.4 269.6,1051.3 268.6,1049.5 267.7,1050.4 266.7,1049.7 265.8,1050.6 264.8,1052.1 263.9,1052.1 262.9,1050.0 262.0,1053.4 261.0,1049.4 260.1,1051.8 259.2,1049.8 258.2,1048.3 257.3,1050.2 256.3,1050.6 255.4,1052.6 254.4,1049.4 253.5,1051.0 252.5,1047.7 251.6,1047.3 250.6,1047.8 249.7,1044.8 248.7,1044.5 247.8,1044.5 246.8,1046.1 245.9,1049.4 245.0,1047.5 244.0,1046.6 243.1,1047.7 242.1,1047.1 241.2,1049.2 240.2,1044.7 239.3,1044.7 238.3,1042.5 237.4,1041.0 236.4,1041.1 235.5,1040.6 234.5,1040.0 233.6,1040.4 232.7,1041.3 231.7,1042.1 230.8,1041.3 229.8,1043.0 228.9,1043.1 227.9,1044.1 227.0,1044.0 226.0,1043.7 225.1,1043.0 224.1,1043.4 223.2,1042.5 222.2,1043.4 221.3,1039.9 220.4,1039.8 219.4,1039.1 218.5,1040.2 217.5,1039.8 216.6,1038.1 215.6,1038.0 214.7,1036.1 213.7,1036.4 212.8,1036.2 211.8,1035.5 210.9,1034.4 209.9,1036.5 209.0,1036.0 208.0,1037.4 207.1,1039.8 206.2,1038.0 205.2,1037.1 204.3,1036.8 203.3,1036.3 202.4,1036.7 201.4,1035.5 200.5,1034.8 199.5,1036.0 198.6,1038.3 197.6,1038.2 196.7,1038.1 195.7,1038.3 194.8,1040.3 193.9,1040.1 192.9,1040.8 192.0,1043.0 191.0,1043.4 190.1,1041.7 189.1,1040.5 188.2,1043.0 187.2,1039.5 186.3,1038.1 185.3,1037.5 184.4,1037.5 183.4,1035.9 182.5,1036.0 181.6,1033.2 180.6,1032.2 179.7,1029.5 178.7,1026.5 177.8,1027.2 176.8,1025.8 175.9,1026.3 174.9,1025.4 174.0,1028.2 173.0,1030.5 172.1,1032.5 171.1,1035.2 170.2,1037.7 169.2,1039.1 168.3,1042.6 167.4,1043.1 166.4,1048.2 165.5,1049.4 164.5,1054.6 163.6,1057.2 162.6,1057.2 161.7,1060.7 160.7,1061.8 159.8,1064.0 158.8,1066.7 157.9,1068.8 156.9,1072.5 156.0,1077.6" fill="#AAAAAA"/>
<path d="M156.0,1073.7 L156.9,1069.9 L157.9,1066.4 L158.8,1063.3 L159.8,1060.6 L160.7,1058.3 L161.7,1056.0 L162.6,1054.4 L163.6,1052.7 L164.5,1050.4 L165.5,1047.5 L166.4,1044.2 L167.4,1040.9 L168.3,1038.3 L169.2,1036.2 L170.2,1034.1 L171.1,1031.9 L172.1,1029.8 L173.0,1027.7 L174.0,1025.6 L174.9,1023.5 M178.7,1024.8 L179.7,1026.5 L180.6,1028.4 L181.6,1030.3 L182.5,1031.9 M292.3,1053.8 L293.2,1055.3 L294.2,1057.4 L295.1,1059.2 M393.5,1069.4 L394.5,1071.3 L395.4,1073.3 L396.4,1075.0 M451.3,1086.5 L452.2,1089.8 L453.2,1096.9 L454.1,1103.5 L455.0,1109.7 L456.0,1115.8 L456.9,1121.8 L457.9,1127.5 L458.8,1130.4 L459.8,1133.7 L460.7,1137.6 L461.7,1141.5 L462.6,1145.0 L463.6,1148.2 L464.5,1151.2 L465.5,1154.3 L466.4,1157.9 L467.3,1160.7 L468.3,1163.3 L469.2,1165.8 L470.2,1167.9 L471.1,1169.5 M472.1,1171.0 L473.0,1172.5 L474.0,1174.2 L474.9,1176.1 L475.9,1178.2 L476.8,1180.1 L477.8,1181.9 M480.6,1181.1 L481.5,1179.3 L482.5,1176.9 L483.4,1174.2 L484.4,1171.9 L485.3,1170.2 M517.5,1173.3 L518.4,1171.7 L519.4,1169.5 L520.3,1167.6" fill="none" stroke="#AAAAAA" stroke-width="2.0" stroke-linejoin="round"/>
<path d="M268.6,1046.9 L269.6,1048.4 M439.0,1079.1 L439.9,1080.8 M551.6,1163.4 L552.5,1161.5 L553.5,1159.8 M594.2,1156.2 L595.1,1154.2 L596.0,1152.7 M597.9,1152.8 L598.9,1154.4 L599.8,1155.9 M611.2,1151.3 L612.1,1149.7" fill="none" stroke="#AAAAAA" stroke-width="1.3" stroke-linejoin="round"/>
<polygon points="156.0,1082.1 156.9,1076.7 157.9,1072.8 158.8,1067.4 159.8,1060.9 160.7,1057.1 161.7,1050.1 162.6,1044.8 163.6,1038.5 164.5,1037.2 165.5,1030.1 166.4,1029.7 167.4,1026.7 168.3,1022.0 169.2,1018.6 170.2,1014.5 171.1,1009.6 172.1,1006.3 173.0,1003.0 174.0,996.4 174.9,993.3 175.9,988.8 176.8,984.7 177.8,978.9 178.7,980.2 179.7,983.4 180.6,987.0 181.6,988.7 182.5,989.5 183.4,991.2 184.4,991.9 185.3,995.2 186.3,997.6 187.2,998.1 188.2,999.2 189.1,999.5 190.1,1004.6 191.0,1006.5 192.0,1006.7 192.9,1013.1 193.9,1013.0 194.8,1010.7 195.7,1009.8 196.7,1004.9 197.6,1004.5 198.6,1000.9 199.5,1000.5 200.5,996.3 201.4,994.7 202.4,993.2 203.3,993.1 204.3,988.4 205.2,992.8 206.2,992.9 207.1,993.2 208.0,996.2 209.0,996.2 209.9,995.0 210.9,994.5 211.8,995.6 212.8,994.5 213.7,993.3 214.7,993.0 215.6,993.6 216.6,992.4 217.5,994.6 218.5,994.5 219.4,993.6 220.4,995.5 221.3,991.9 222.2,997.1 223.2,997.7 224.1,999.7 225.1,999.2 226.0,1000.4 227.0,997.3 227.9,1000.9 228.9,1000.6 229.8,1002.7 230.8,1003.4 231.7,1005.6 232.7,1006.0 233.6,1006.8 234.5,1007.7 235.5,1005.3 236.4,1006.2 237.4,1007.5 238.3,1006.7 239.3,1006.4 240.2,1007.7 241.2,1007.6 242.1,1009.9 243.1,1011.7 244.0,1009.1 245.0,1012.7 245.9,1013.8 246.8,1013.0 247.8,1011.0 248.7,1014.7 249.7,1013.4 250.6,1013.1 251.6,1011.0 252.5,1012.8 253.5,1014.2 254.4,1012.7 255.4,1015.0 256.3,1013.5 257.3,1016.1 258.2,1016.7 259.2,1019.4 260.1,1018.5 261.0,1019.7 262.0,1018.8 262.9,1019.7 263.9,1020.7 264.8,1021.7 265.8,1019.9 266.7,1019.4 267.7,1020.6 268.6,1017.4 269.6,1017.2 270.5,1020.1 271.5,1023.1 272.4,1022.5 273.3,1024.3 274.3,1027.2 275.2,1026.1 276.2,1027.1 277.1,1024.4 278.1,1026.7 279.0,1026.4 280.0,1024.9 280.9,1022.7 281.9,1023.3 282.8,1023.7 283.8,1023.6 284.7,1023.2 285.6,1026.1 286.6,1028.3 287.5,1027.2 288.5,1026.8 289.4,1027.1 290.4,1027.2 291.3,1024.6 292.3,1020.6 293.2,1022.8 294.2,1026.8 295.1,1026.4 296.1,1022.6 297.0,1025.7 298.0,1026.4 298.9,1024.2 299.8,1028.8 300.8,1030.8 301.7,1032.0 302.7,1034.6 303.6,1034.7 304.6,1034.2 305.5,1035.3 306.5,1033.7 307.4,1034.6 308.4,1033.1 309.3,1033.2 310.3,1033.4 311.2,1031.0 312.1,1033.3 313.1,1035.0 314.0,1035.5 315.0,1034.5 315.9,1034.6 316.9,1035.0 317.8,1033.9 318.8,1034.2 319.7,1035.1 320.7,1035.7 321.6,1034.3 322.6,1033.0 323.5,1036.7 324.4,1037.8 325.4,1038.7 326.3,1037.5 327.3,1038.7 328.2,1040.8 329.2,1040.4 330.1,1038.9 331.1,1039.9 332.0,1037.5 333.0,1038.0 333.9,1038.1 334.9,1038.8 335.8,1040.3 336.8,1040.3 337.7,1040.4 338.6,1042.1 339.6,1040.8 340.5,1042.1 341.5,1042.9 342.4,1044.3 343.4,1042.9 344.3,1041.5 345.3,1044.1 346.2,1046.2 347.2,1043.9 348.1,1045.2 349.1,1043.4 350.0,1041.7 350.9,1037.5 351.9,1041.5 352.8,1042.7 353.8,1043.8 354.7,1046.6 355.7,1047.6 356.6,1046.5 357.6,1047.6 358.5,1044.0 359.5,1047.3 360.4,1045.1 361.4,1044.2 362.3,1047.8 363.2,1047.0 364.2,1047.9 365.1,1050.4 366.1,1051.4 367.0,1050.9 368.0,1051.7 368.9,1050.1 369.9,1049.5 370.8,1049.4 371.8,1047.5 372.7,1050.2 373.7,1049.2 374.6,1048.9 375.6,1046.1 376.5,1049.8 377.4,1050.7 378.4,1051.7 379.3,1055.9 380.3,1056.8 381.2,1056.8 382.2,1057.8 383.1,1057.0 384.1,1056.0 385.0,1056.0 386.0,1055.7 386.9,1057.1 387.9,1056.3 388.8,1055.3 389.7,1055.0 390.7,1053.0 391.6,1053.1 392.6,1054.9 393.5,1054.8 394.5,1055.8 395.4,1058.5 396.4,1058.3 397.3,1056.9 398.3,1056.8 399.2,1056.0 400.2,1055.3 401.1,1055.5 402.0,1058.6 403.0,1059.9 403.9,1059.3 404.9,1058.8 405.8,1061.3 406.8,1060.0 407.7,1062.1 408.7,1059.9 409.6,1060.0 410.6,1061.2 411.5,1060.1 412.5,1058.7 413.4,1057.7 414.4,1059.0 415.3,1057.2 416.2,1057.4 417.2,1059.1 418.1,1057.2 419.1,1059.8 420.0,1061.8 421.0,1061.6 421.9,1062.0 422.9,1062.1 423.8,1064.5 424.8,1065.7 425.7,1062.2 426.7,1065.2 427.6,1065.9 428.5,1063.8 429.5,1066.2 430.4,1065.7 431.4,1063.9 432.3,1066.5 433.3,1068.2 434.2,1066.8 435.2,1067.2 436.1,1067.2 437.1,1066.4 438.0,1064.6 439.0,1063.5 439.9,1061.1 440.8,1060.4 441.8,1060.7 442.7,1060.8 443.7,1065.1 444.6,1064.5 445.6,1062.7 446.5,1062.3 447.5,1064.6 448.4,1065.4 449.4,1061.1 450.3,1067.7 451.3,1067.6 452.2,1079.8 453.2,1088.7 454.1,1092.7 455.0,1103.1 456.0,1110.1 456.9,1117.0 457.9,1125.0 458.8,1129.2 459.8,1133.8 460.7,1140.5 461.7,1143.1 462.6,1147.7 463.6,1155.0 464.5,1159.3 465.5,1163.2 466.4,1167.2 467.3,1169.5 468.3,1171.1 469.2,1176.6 470.2,1180.6 471.1,1182.8 472.1,1185.9 473.0,1187.4 474.0,1193.5 474.9,1196.1 475.9,1197.4 476.8,1197.0 477.8,1195.5 478.7,1195.9 479.6,1192.8 480.6,1191.3 481.5,1190.5 482.5,1189.2 483.4,1186.0 484.4,1184.8 485.3,1186.9 486.3,1184.6 487.2,1185.1 488.2,1186.0 489.1,1185.4 490.1,1186.8 491.0,1186.9 491.9,1187.2 492.9,1191.0 493.8,1191.9 494.8,1192.4 495.7,1193.6 496.7,1194.3 497.6,1191.1 498.6,1190.3 499.5,1196.2 500.5,1197.2 501.4,1198.2 502.4,1196.6 503.3,1198.4 504.3,1199.6 505.2,1199.6 506.1,1199.8 507.1,1198.1 508.0,1202.1 509.0,1202.3 509.9,1203.7 510.9,1202.3 511.8,1201.6 512.8,1199.0 513.7,1198.6 514.7,1199.2 515.6,1199.3 516.6,1201.2 517.5,1198.9 518.4,1200.4 519.4,1199.8 520.3,1198.2 521.3,1196.3 522.2,1196.9 523.2,1196.4 524.1,1194.1 525.1,1196.2 526.0,1193.8 527.0,1195.2 527.9,1194.6 528.9,1194.9 529.8,1194.0 530.7,1195.8 531.7,1196.1 532.6,1195.2 533.6,1194.1 534.5,1194.7 535.5,1196.3 536.4,1196.5 537.4,1194.8 538.3,1191.9 539.3,1193.4 540.2,1190.3 541.2,1188.8 542.1,1189.4 543.1,1192.4 544.0,1192.4 544.9,1192.0 545.9,1191.1 546.8,1190.5 547.8,1189.0 548.7,1184.1 549.7,1185.2 550.6,1185.9 551.6,1185.2 552.5,1186.3 553.5,1188.3 554.4,1186.6 555.4,1190.1 556.3,1187.1 557.2,1188.5 558.2,1188.4 559.1,1187.2 560.1,1184.3 561.0,1183.9 562.0,1183.1 562.9,1182.6 563.9,1183.7 564.8,1183.8 565.8,1183.7 566.7,1184.3 567.7,1183.6 568.6,1181.9 569.5,1182.1 570.5,1180.6 571.4,1182.1 572.4,1182.1 573.3,1181.4 574.3,1179.9 575.2,1178.1 576.2,1179.5 577.1,1177.1 578.1,1178.6 579.0,1180.1 580.0,1177.8 580.9,1180.1 581.9,1178.7 582.8,1177.8 583.7,1174.6 584.7,1174.7 585.6,1174.2 586.6,1172.2 587.5,1170.9 588.5,1169.8 589.4,1171.8 590.4,1170.7 591.3,1169.9 592.3,1173.1 593.2,1174.3 594.2,1174.6 595.1,1172.8 596.0,1173.3 597.0,1174.5 597.9,1175.2 598.9,1173.8 599.8,1174.4 600.8,1170.7 601.7,1172.2 602.7,1170.0 603.6,1171.1 604.6,1171.3 605.5,1170.5 606.5,1172.9 607.4,1173.5 608.3,1173.8 609.3,1171.4 610.2,1170.7 611.2,1172.0 612.1,1168.2 613.1,1169.7 614.0,1170.2 615.0,1170.2 615.9,1169.1 616.9,1167.3 617.8,1165.9 618.8,1165.3 619.7,1163.0 620.7,1160.1 621.6,1163.4 622.5,1162.4 623.5,1163.5 624.4,1162.5 625.4,1162.9 626.3,1165.3 627.3,1165.1 628.2,1165.0 629.2,1162.5 630.1,1162.3 631.1,1161.8 632.0,1163.5 633.0,1163.6 633.9,1163.2 634.8,1164.3 635.8,1167.0 636.7,1168.0 637.7,1168.0 638.6,1165.5 639.6,1166.2 640.5,1162.1 641.5,1163.0 642.4,1161.5 643.4,1162.0 644.3,1161.6 645.3,1161.3 646.2,1163.7 647.1,1161.0 648.1,1164.0 649.0,1164.9 650.0,1163.9 650.9,1163.6 651.9,1164.5 652.8,1162.5 653.8,1161.3 654.7,1159.9 655.7,1161.9 656.6,1157.1 657.6,1159.9 658.5,1160.5 659.5,1160.9 660.4,1159.4 661.3,1159.9 662.3,1159.9 663.2,1160.6 664.2,1155.6 665.1,1161.0 666.1,1161.7 667.0,1160.4 668.0,1161.6 668.9,1158.9 669.9,1158.5 670.8,1157.6 671.8,1157.6 672.7,1157.4 673.6,1159.2 674.6,1157.6 675.5,1159.6 676.5,1159.2 677.4,1156.2 678.4,1157.4 679.3,1152.6 680.3,1156.5 681.2,1152.7 682.2,1153.3 683.1,1153.1 684.1,1156.2 685.0,1155.5 685.9,1155.3 686.9,1153.1 687.8,1157.4 688.8,1157.3 689.7,1155.1 690.7,1153.8 691.6,1151.2 692.6,1151.7 693.5,1151.2 694.5,1151.4 695.4,1152.4 696.4,1151.6 697.3,1149.4 698.3,1149.1 699.2,1149.1 700.1,1147.4 701.1,1149.1 702.0,1147.7 703.0,1149.5 703.9,1147.7 704.9,1151.2 705.8,1149.8 706.8,1150.5 707.7,1147.6 708.7,1149.5 709.6,1148.0 710.6,1148.6 711.5,1148.7 712.4,1145.7 713.4,1149.1 714.3,1150.2 715.3,1151.3 716.2,1150.6 717.2,1151.3 718.1,1149.0 719.1,1147.6 720.0,1148.6 721.0,1145.9 721.9,1148.3 722.9,1149.1 723.8,1150.0 724.7,1147.4 725.7,1148.3 726.6,1148.2 727.6,1149.3 728.5,1148.1 729.5,1147.9 730.4,1146.9 731.4,1145.1 732.3,1146.7 733.3,1146.5 734.2,1143.7 735.2,1145.1 736.1,1144.3 737.1,1146.1 738.0,1142.3 738.9,1146.6 739.9,1145.1 740.8,1144.9 741.8,1141.7 741.8,1150.0 740.8,1150.6 739.9,1150.8 738.9,1151.9 738.0,1154.1 737.1,1151.1 736.1,1150.7 735.2,1149.9 734.2,1151.6 733.3,1150.7 732.3,1152.5 731.4,1152.6 730.4,1154.1 729.5,1152.0 728.5,1152.3 727.6,1155.1 726.6,1154.6 725.7,1155.7 724.7,1154.5 723.8,1154.8 722.9,1153.4 721.9,1157.3 721.0,1154.2 720.0,1155.1 719.1,1155.1 718.1,1156.4 717.2,1155.6 716.2,1155.6 715.3,1157.3 714.3,1156.0 713.4,1153.5 712.4,1153.2 711.5,1152.5 710.6,1152.8 709.6,1155.7 708.7,1155.1 707.7,1154.0 706.8,1154.6 705.8,1154.5 704.9,1156.1 703.9,1156.2 703.0,1157.6 702.0,1153.9 701.1,1153.8 700.1,1154.7 699.2,1155.0 698.3,1155.9 697.3,1156.4 696.4,1157.6 695.4,1160.6 694.5,1156.5 693.5,1156.0 692.6,1156.8 691.6,1157.0 690.7,1158.5 689.7,1159.6 688.8,1161.1 687.8,1163.3 686.9,1162.2 685.9,1160.7 685.0,1164.8 684.1,1162.9 683.1,1161.2 682.2,1159.5 681.2,1161.0 680.3,1162.6 679.3,1161.6 678.4,1163.2 677.4,1163.4 676.5,1164.8 675.5,1164.9 674.6,1164.8 673.6,1166.5 672.7,1164.2 671.8,1163.3 670.8,1165.4 669.9,1164.3 668.9,1163.9 668.0,1165.0 667.0,1165.8 666.1,1166.0 665.1,1167.7 664.2,1166.4 663.2,1164.9 662.3,1165.9 661.3,1165.7 660.4,1166.7 659.5,1169.2 658.5,1167.0 657.6,1165.7 656.6,1169.0 655.7,1166.3 654.7,1167.7 653.8,1167.5 652.8,1169.4 651.9,1168.4 650.9,1170.0 650.0,1168.7 649.0,1172.1 648.1,1169.4 647.1,1171.0 646.2,1169.7 645.3,1167.3 644.3,1169.3 643.4,1168.2 642.4,1167.5 641.5,1171.4 640.5,1168.6 639.6,1170.8 638.6,1173.3 637.7,1172.7 636.7,1172.0 635.8,1172.2 634.8,1171.4 633.9,1172.1 633.0,1168.7 632.0,1167.9 631.1,1169.4 630.1,1168.6 629.2,1169.7 628.2,1170.6 627.3,1170.8 626.3,1169.3 625.4,1169.7 624.4,1169.8 623.5,1167.6 622.5,1170.0 621.6,1167.8 620.7,1169.1 619.7,1172.1 618.8,1171.1 617.8,1172.4 616.9,1175.5 615.9,1175.7 615.0,1175.2 614.0,1175.8 613.1,1177.9 612.1,1174.9 611.2,1175.7 610.2,1176.4 609.3,1179.7 608.3,1179.6 607.4,1179.2 606.5,1176.9 605.5,1175.5 604.6,1177.6 603.6,1176.0 602.7,1176.5 601.7,1177.0 600.8,1179.6 599.8,1180.4 598.9,1181.7 597.9,1181.5 597.0,1180.1 596.0,1179.5 595.1,1179.9 594.2,1179.3 593.2,1179.0 592.3,1179.0 591.3,1179.2 590.4,1178.4 589.4,1178.6 588.5,1176.3 587.5,1177.3 586.6,1180.0 585.6,1180.3 584.7,1179.5 583.7,1180.9 582.8,1186.8 581.9,1183.6 580.9,1185.5 580.0,1186.5 579.0,1185.9 578.1,1184.4 577.1,1183.8 576.2,1184.0 575.2,1184.6 574.3,1186.5 573.3,1188.6 572.4,1188.3 571.4,1187.5 570.5,1187.2 569.5,1186.5 568.6,1190.0 567.7,1190.3 566.7,1189.0 565.8,1189.6 564.8,1188.0 563.9,1188.1 562.9,1187.9 562.0,1188.4 561.0,1188.7 560.1,1192.8 559.1,1191.8 558.2,1192.9 557.2,1192.9 556.3,1193.9 555.4,1194.0 554.4,1195.1 553.5,1194.1 552.5,1193.4 551.6,1193.5 550.6,1190.8 549.7,1192.6 548.7,1193.4 547.8,1194.2 546.8,1195.3 545.9,1197.0 544.9,1198.8 544.0,1199.1 543.1,1198.8 542.1,1197.4 541.2,1197.8 540.2,1200.2 539.3,1200.3 538.3,1198.8 537.4,1200.9 536.4,1201.6 535.5,1201.5 534.5,1201.0 533.6,1201.5 532.6,1200.8 531.7,1200.9 530.7,1200.2 529.8,1200.4 528.9,1199.5 527.9,1200.5 527.0,1199.9 526.0,1200.0 525.1,1201.4 524.1,1202.8 523.2,1204.4 522.2,1202.8 521.3,1203.8 520.3,1206.3 519.4,1205.4 518.4,1207.4 517.5,1206.9 516.6,1205.4 515.6,1204.7 514.7,1205.6 513.7,1205.2 512.8,1207.3 511.8,1207.8 510.9,1207.9 509.9,1208.7 509.0,1208.3 508.0,1207.5 507.1,1207.7 506.1,1205.7 505.2,1206.5 504.3,1204.9 503.3,1204.6 502.4,1202.9 501.4,1202.8 500.5,1201.3 499.5,1204.0 498.6,1200.8 497.6,1200.9 496.7,1200.3 495.7,1200.9 494.8,1200.7 493.8,1198.8 492.9,1194.9 491.9,1195.3 491.0,1191.9 490.1,1194.7 489.1,1192.6 488.2,1190.8 487.2,1192.8 486.3,1191.9 485.3,1190.8 484.4,1193.3 483.4,1192.7 482.5,1194.1 481.5,1195.6 480.6,1199.2 479.6,1199.4 478.7,1200.4 477.8,1202.3 476.8,1203.0 475.9,1205.4 474.9,1200.9 474.0,1197.4 473.0,1196.4 472.1,1192.8 471.1,1188.2 470.2,1185.4 469.2,1184.0 468.3,1180.0 467.3,1178.5 466.4,1178.0 465.5,1169.9 464.5,1164.5 463.6,1159.9 462.6,1154.1 461.7,1149.2 460.7,1144.6 459.8,1139.7 458.8,1135.6 457.9,1130.2 456.9,1122.5 456.0,1114.3 455.0,1108.2 454.1,1101.3 453.2,1094.6 452.2,1085.8 451.3,1075.0 450.3,1073.6 449.4,1071.0 448.4,1069.4 447.5,1068.8 446.5,1070.1 445.6,1071.2 444.6,1072.7 443.7,1071.3 442.7,1071.5 441.8,1070.8 440.8,1066.5 439.9,1067.1 439.0,1067.5 438.0,1068.9 437.1,1071.0 436.1,1072.7 435.2,1072.2 434.2,1072.5 433.3,1074.3 432.3,1072.0 431.4,1073.2 430.4,1071.8 429.5,1070.4 428.5,1069.6 427.6,1072.2 426.7,1071.1 425.7,1069.9 424.8,1070.7 423.8,1069.6 422.9,1070.6 421.9,1068.6 421.0,1067.8 420.0,1066.4 419.1,1065.1 418.1,1065.4 417.2,1063.8 416.2,1064.1 415.3,1064.6 414.4,1065.5 413.4,1064.8 412.5,1065.3 411.5,1067.0 410.6,1067.6 409.6,1068.3 408.7,1069.2 407.7,1068.5 406.8,1067.5 405.8,1066.0 404.9,1064.0 403.9,1064.7 403.0,1063.9 402.0,1064.2 401.1,1064.6 400.2,1062.5 399.2,1064.2 398.3,1063.4 397.3,1066.7 396.4,1063.7 395.4,1065.9 394.5,1061.6 393.5,1062.3 392.6,1059.4 391.6,1058.6 390.7,1062.3 389.7,1060.9 388.8,1061.7 387.9,1060.3 386.9,1061.7 386.0,1062.2 385.0,1061.2 384.1,1063.0 383.1,1062.0 382.2,1062.6 381.2,1061.7 380.3,1063.0 379.3,1063.5 378.4,1058.5 377.4,1055.8 376.5,1053.8 375.6,1054.2 374.6,1052.6 373.7,1055.4 372.7,1054.4 371.8,1055.6 370.8,1058.1 369.9,1054.7 368.9,1056.0 368.0,1056.0 367.0,1060.3 366.1,1058.8 365.1,1055.6 364.2,1055.2 363.2,1052.8 362.3,1051.5 361.4,1053.4 360.4,1051.0 359.5,1053.1 358.5,1051.4 357.6,1052.7 356.6,1051.0 355.7,1053.3 354.7,1050.8 353.8,1049.9 352.8,1049.4 351.9,1047.8 350.9,1046.4 350.0,1045.9 349.1,1047.7 348.1,1052.8 347.2,1050.4 346.2,1051.8 345.3,1052.2 344.3,1049.9 343.4,1051.3 342.4,1051.2 341.5,1047.6 340.5,1049.5 339.6,1049.2 338.6,1046.2 337.7,1046.3 336.8,1045.5 335.8,1045.7 334.9,1044.7 333.9,1043.7 333.0,1042.5 332.0,1042.9 331.1,1045.7 330.1,1045.3 329.2,1045.5 328.2,1048.0 327.3,1046.4 326.3,1043.9 325.4,1044.5 324.4,1045.6 323.5,1043.1 322.6,1041.4 321.6,1044.2 320.7,1039.7 319.7,1039.9 318.8,1040.4 317.8,1038.8 316.9,1039.0 315.9,1040.3 315.0,1043.4 314.0,1040.4 313.1,1040.6 312.1,1040.4 311.2,1038.6 310.3,1037.4 309.3,1038.0 308.4,1039.6 307.4,1039.9 306.5,1039.6 305.5,1041.7 304.6,1043.1 303.6,1040.5 302.7,1039.5 301.7,1039.4 300.8,1035.9 299.8,1033.0 298.9,1032.7 298.0,1036.0 297.0,1032.3 296.1,1032.1 295.1,1033.0 294.2,1033.1 293.2,1030.3 292.3,1030.5 291.3,1031.3 290.4,1031.1 289.4,1031.1 288.5,1031.8 287.5,1034.4 286.6,1033.1 285.6,1033.6 284.7,1034.5 283.8,1029.8 282.8,1028.8 281.9,1030.7 280.9,1029.6 280.0,1029.2 279.0,1032.7 278.1,1031.8 277.1,1030.7 276.2,1032.0 275.2,1032.4 274.3,1032.2 273.3,1033.3 272.4,1030.2 271.5,1029.1 270.5,1028.1 269.6,1025.0 268.6,1025.3 267.7,1024.1 266.7,1027.1 265.8,1026.2 264.8,1030.1 263.9,1025.5 262.9,1026.4 262.0,1025.0 261.0,1025.2 260.1,1024.3 259.2,1027.3 258.2,1026.7 257.3,1023.0 256.3,1022.1 255.4,1022.4 254.4,1018.8 253.5,1018.8 252.5,1016.7 251.6,1019.9 250.6,1021.1 249.7,1019.3 248.7,1019.7 247.8,1018.7 246.8,1020.9 245.9,1018.4 245.0,1018.5 244.0,1016.4 243.1,1018.8 242.1,1014.8 241.2,1014.6 240.2,1014.9 239.3,1011.6 238.3,1011.7 237.4,1011.4 236.4,1012.8 235.5,1012.4 234.5,1013.0 233.6,1013.0 232.7,1011.7 231.7,1012.7 230.8,1009.6 229.8,1006.8 228.9,1007.2 227.9,1007.7 227.0,1005.2 226.0,1007.3 225.1,1005.8 224.1,1005.3 223.2,1004.6 222.2,1003.9 221.3,1002.0 220.4,1002.8 219.4,1000.3 218.5,1000.5 217.5,999.8 216.6,1001.0 215.6,999.2 214.7,1001.3 213.7,1000.8 212.8,1001.1 211.8,1001.0 210.9,1000.8 209.9,1000.1 209.0,1000.9 208.0,1001.2 207.1,999.6 206.2,998.2 205.2,997.8 204.3,998.1 203.3,999.5 202.4,998.5 201.4,1005.3 200.5,1005.9 199.5,1006.2 198.6,1006.1 197.6,1008.6 196.7,1012.9 195.7,1015.1 194.8,1017.2 193.9,1017.8 192.9,1020.8 192.0,1014.6 191.0,1012.7 190.1,1009.3 189.1,1006.3 188.2,1004.6 187.2,1004.0 186.3,1001.6 185.3,1001.2 184.4,999.8 183.4,1000.2 182.5,997.0 181.6,994.3 180.6,990.9 179.7,991.2 178.7,984.5 177.8,990.7 176.8,989.9 175.9,993.6 174.9,998.3 174.0,1002.6 173.0,1011.0 172.1,1011.9 171.1,1015.0 170.2,1019.7 169.2,1023.4 168.3,1026.8 167.4,1031.8 166.4,1034.7 165.5,1038.8 164.5,1043.3 163.6,1047.2 162.6,1050.9 161.7,1055.3 160.7,1063.1 159.8,1066.7 158.8,1074.0 157.9,1079.7 156.9,1082.2 156.0,1086.1" fill="#D6AEDD"/>
<path d="M156.0,1083.9 L156.9,1079.3 L157.9,1074.5 L158.8,1069.6 L159.8,1064.4 L160.7,1058.8 L161.7,1053.0 L162.6,1048.0 L163.6,1043.5 L164.5,1039.5 L165.5,1035.9 L166.4,1032.3 L167.4,1028.3 L168.3,1024.3 L169.2,1020.5 L170.2,1016.8 L171.1,1012.8 L172.1,1008.7 L173.0,1004.7 L174.0,1000.4 L174.9,995.7 L175.9,991.1 L176.8,987.0 L177.8,983.6 L178.7,982.1 L179.7,985.3 L180.6,988.7 L181.6,991.6 L182.5,993.9 L183.4,995.7 M187.2,1000.5 L188.2,1002.3 L189.1,1004.3 L190.1,1006.7 L191.0,1009.5 L192.0,1012.4 L192.9,1015.2 M193.9,1015.4 L194.8,1013.7 L195.7,1011.6 L196.7,1009.2 L197.6,1006.7 L198.6,1004.3 L199.5,1002.2 L200.5,1000.2 L201.4,998.3 L202.4,996.5 L203.3,994.9 M269.6,1022.2 L270.5,1023.9 L271.5,1026.1 L272.4,1028.2 M299.8,1031.0 L300.8,1032.6 L301.7,1034.5 L302.7,1036.3 M376.5,1052.0 L377.4,1053.8 L378.4,1055.9 L379.3,1057.9 M449.4,1068.7 L450.3,1070.7 L451.3,1073.1 L452.2,1082.9 L453.2,1091.8 L454.1,1099.5 L455.0,1106.2 L456.0,1112.6 L456.9,1119.5 L457.9,1126.8 L458.8,1131.7 L459.8,1137.0 L460.7,1142.3 L461.7,1147.4 L462.6,1152.3 L463.6,1157.2 L464.5,1162.0 L465.5,1166.7 L466.4,1171.2 L467.3,1174.5 L468.3,1177.3 L469.2,1180.1 L470.2,1183.0 L471.1,1186.0 L472.1,1189.2 L473.0,1192.4 L474.0,1195.7 L474.9,1199.3 L475.9,1201.2 M478.7,1197.6 L479.6,1196.0 L480.6,1194.3 L481.5,1192.7 L482.5,1191.1" fill="none" stroke="#D6AEDD" stroke-width="2.0" stroke-linejoin="round"/>
<path d="M229.8,1004.8 L230.8,1006.6 L231.7,1008.4 M348.1,1047.1 L349.1,1045.4 M351.9,1043.8 L352.8,1045.4 L353.8,1047.4 M437.1,1068.6 L438.0,1066.9 L439.0,1065.2 M491.9,1191.4 L492.9,1192.9 M538.3,1197.2 L539.3,1195.6 M547.8,1192.1 L548.7,1190.5 M639.6,1168.3 L640.5,1166.6 M689.7,1157.9 L690.7,1156.0 L691.6,1154.4" fill="none" stroke="#D6AEDD" stroke-width="1.3" stroke-linejoin="round"/>
<polygon points="156.0,1082.3 156.9,1072.5 157.9,1066.0 158.8,1055.9 159.8,1048.2 160.7,1038.9 161.7,1031.1 162.6,1024.2 163.6,1015.4 164.5,1012.0 165.5,1006.8 166.4,1002.2 167.4,997.8 168.3,993.0 169.2,990.7 170.2,986.6 171.1,981.0 172.1,974.2 173.0,969.0 174.0,959.8 174.9,957.5 175.9,949.7 176.8,944.5 177.8,939.7 178.7,935.8 179.7,926.8 180.6,932.1 181.6,936.0 182.5,937.6 183.4,939.4 184.4,938.3 185.3,943.5 186.3,946.4 187.2,944.4 188.2,951.5 189.1,953.9 190.1,958.7 191.0,964.1 192.0,965.4 192.9,971.6 193.9,972.6 194.8,972.8 195.7,970.9 196.7,969.5 197.6,968.5 198.6,965.1 199.5,966.3 200.5,964.4 201.4,960.8 202.4,960.8 203.3,960.5 204.3,959.2 205.2,956.5 206.2,958.9 207.1,957.2 208.0,956.1 209.0,950.7 209.9,950.3 210.9,949.9 211.8,951.8 212.8,951.8 213.7,950.0 214.7,952.2 215.6,950.6 216.6,952.4 217.5,953.1 218.5,956.2 219.4,957.2 220.4,956.1 221.3,957.4 222.2,958.3 223.2,960.7 224.1,961.5 225.1,960.9 226.0,961.2 227.0,961.4 227.9,960.3 228.9,963.8 229.8,964.8 230.8,964.4 231.7,965.7 232.7,965.6 233.6,964.8 234.5,962.7 235.5,964.0 236.4,967.6 237.4,967.7 238.3,970.6 239.3,971.3 240.2,969.5 241.2,969.2 242.1,968.6 243.1,967.6 244.0,966.7 245.0,967.1 245.9,967.2 246.8,969.5 247.8,971.7 248.7,973.1 249.7,973.8 250.6,970.3 251.6,975.2 252.5,971.9 253.5,975.2 254.4,976.7 255.4,978.1 256.3,977.9 257.3,979.1 258.2,979.0 259.2,977.1 260.1,976.5 261.0,977.5 262.0,973.9 262.9,978.7 263.9,979.0 264.8,979.1 265.8,979.3 266.7,980.1 267.7,980.9 268.6,981.3 269.6,981.2 270.5,982.1 271.5,978.6 272.4,979.0 273.3,979.8 274.3,981.3 275.2,984.4 276.2,983.3 277.1,986.5 278.1,988.0 279.0,988.4 280.0,989.0 280.9,989.7 281.9,990.4 282.8,989.8 283.8,989.2 284.7,989.1 285.6,989.9 286.6,989.2 287.5,987.1 288.5,986.1 289.4,989.6 290.4,990.6 291.3,990.6 292.3,991.5 293.2,993.9 294.2,995.9 295.1,995.9 296.1,996.7 297.0,995.2 298.0,995.3 298.9,995.9 299.8,997.6 300.8,996.5 301.7,996.9 302.7,996.2 303.6,995.1 304.6,994.9 305.5,993.3 306.5,997.4 307.4,999.5 308.4,998.1 309.3,998.6 310.3,1001.2 311.2,1001.3 312.1,1001.8 313.1,1004.6 314.0,1005.7 315.0,1004.8 315.9,1003.0 316.9,1003.4 317.8,1002.5 318.8,1001.7 319.7,1002.3 320.7,1004.9 321.6,1007.5 322.6,1009.9 323.5,1008.3 324.4,1010.6 325.4,1008.7 326.3,1009.2 327.3,1007.0 328.2,1008.1 329.2,1007.0 330.1,1009.0 331.1,1009.4 332.0,1011.0 333.0,1012.7 333.9,1014.0 334.9,1016.4 335.8,1014.5 336.8,1015.6 337.7,1017.1 338.6,1015.4 339.6,1012.7 340.5,1014.6 341.5,1013.2 342.4,1013.7 343.4,1016.4 344.3,1017.1 345.3,1020.4 346.2,1020.6 347.2,1021.1 348.1,1021.5 349.1,1022.8 350.0,1024.1 350.9,1023.1 351.9,1022.2 352.8,1023.9 353.8,1024.2 354.7,1023.8 355.7,1021.5 356.6,1022.0 357.6,1023.2 358.5,1023.2 359.5,1023.7 360.4,1023.6 361.4,1026.8 362.3,1027.3 363.2,1027.9 364.2,1029.6 365.1,1027.9 366.1,1027.2 367.0,1025.1 368.0,1025.7 368.9,1027.3 369.9,1028.4 370.8,1028.6 371.8,1032.1 372.7,1032.0 373.7,1030.2 374.6,1030.9 375.6,1032.5 376.5,1032.5 377.4,1031.5 378.4,1031.0 379.3,1031.0 380.3,1032.9 381.2,1033.3 382.2,1035.6 383.1,1035.4 384.1,1035.1 385.0,1034.5 386.0,1032.8 386.9,1031.8 387.9,1033.5 388.8,1035.9 389.7,1037.2 390.7,1039.5 391.6,1039.4 392.6,1037.1 393.5,1036.1 394.5,1040.3 395.4,1041.5 396.4,1041.1 397.3,1043.8 398.3,1045.2 399.2,1045.4 400.2,1044.4 401.1,1043.0 402.0,1042.1 403.0,1040.1 403.9,1042.1 404.9,1043.4 405.8,1044.7 406.8,1045.2 407.7,1042.6 408.7,1046.7 409.6,1048.5 410.6,1047.7 411.5,1047.3 412.5,1050.3 413.4,1047.2 414.4,1051.5 415.3,1050.4 416.2,1050.7 417.2,1048.5 418.1,1048.2 419.1,1050.5 420.0,1046.8 421.0,1049.0 421.9,1049.7 422.9,1047.7 423.8,1051.2 424.8,1051.6 425.7,1050.9 426.7,1052.0 427.6,1053.2 428.5,1051.4 429.5,1052.1 430.4,1049.9 431.4,1051.1 432.3,1052.2 433.3,1051.9 434.2,1053.4 435.2,1055.2 436.1,1055.3 437.1,1056.7 438.0,1056.6 439.0,1059.3 439.9,1059.1 440.8,1057.7 441.8,1058.7 442.7,1059.9 443.7,1059.7 444.6,1060.9 445.6,1056.8 446.5,1060.0 447.5,1059.4 448.4,1058.2 449.4,1058.1 450.3,1059.7 451.3,1060.6 452.2,1072.1 453.2,1079.1 454.1,1086.2 455.0,1100.6 456.0,1110.1 456.9,1119.3 457.9,1130.0 458.8,1136.4 459.8,1141.4 460.7,1149.6 461.7,1159.2 462.6,1166.6 463.6,1172.5 464.5,1178.5 465.5,1185.8 466.4,1192.5 467.3,1196.5 468.3,1201.8 469.2,1206.0 470.2,1212.1 471.1,1216.0 472.1,1221.4 473.0,1223.8 474.0,1230.5 474.9,1234.2 475.9,1239.7 476.8,1240.4 477.8,1241.8 478.7,1238.3 479.6,1236.0 480.6,1231.5 481.5,1226.0 482.5,1222.4 483.4,1216.1 484.4,1212.3 485.3,1212.9 486.3,1212.7 487.2,1214.5 488.2,1217.0 489.1,1217.5 490.1,1218.7 491.0,1221.1 491.9,1221.0 492.9,1219.3 493.8,1222.8 494.8,1222.0 495.7,1223.5 496.7,1227.1 497.6,1227.5 498.6,1226.4 499.5,1228.5 500.5,1227.2 501.4,1226.3 502.4,1227.4 503.3,1226.7 504.3,1225.1 505.2,1223.2 506.1,1225.9 507.1,1225.8 508.0,1225.7 509.0,1226.1 509.9,1227.7 510.9,1227.0 511.8,1228.8 512.8,1231.1 513.7,1230.7 514.7,1230.2 515.6,1227.0 516.6,1228.8 517.5,1227.6 518.4,1228.0 519.4,1225.3 520.3,1226.6 521.3,1227.9 522.2,1226.6 523.2,1226.1 524.1,1225.4 525.1,1227.0 526.0,1227.1 527.0,1226.5 527.9,1225.9 528.9,1225.9 529.8,1222.2 530.7,1220.8 531.7,1220.3 532.6,1215.9 533.6,1218.8 534.5,1219.0 535.5,1217.3 536.4,1222.4 537.4,1221.9 538.3,1222.5 539.3,1220.0 540.2,1220.9 541.2,1218.6 542.1,1220.4 543.1,1218.7 544.0,1219.4 544.9,1218.6 545.9,1216.8 546.8,1214.3 547.8,1212.7 548.7,1211.6 549.7,1210.1 550.6,1207.9 551.6,1209.7 552.5,1211.0 553.5,1208.1 554.4,1211.6 555.4,1209.0 556.3,1210.5 557.2,1209.8 558.2,1208.7 559.1,1208.9 560.1,1207.9 561.0,1207.9 562.0,1208.2 562.9,1205.5 563.9,1205.7 564.8,1202.8 565.8,1204.4 566.7,1206.7 567.7,1205.4 568.6,1203.7 569.5,1203.3 570.5,1206.1 571.4,1205.6 572.4,1205.3 573.3,1204.1 574.3,1205.9 575.2,1204.6 576.2,1203.9 577.1,1203.5 578.1,1201.5 579.0,1201.7 580.0,1201.8 580.9,1200.9 581.9,1199.4 582.8,1199.2 583.7,1198.8 584.7,1197.7 585.6,1196.2 586.6,1195.0 587.5,1194.9 588.5,1192.3 589.4,1194.5 590.4,1193.8 591.3,1193.8 592.3,1192.3 593.2,1192.2 594.2,1191.1 595.1,1192.4 596.0,1189.5 597.0,1192.6 597.9,1194.1 598.9,1193.3 599.8,1193.2 600.8,1190.9 601.7,1191.1 602.7,1190.8 603.6,1190.3 604.6,1188.7 605.5,1191.1 606.5,1190.6 607.4,1186.5 608.3,1189.3 609.3,1190.0 610.2,1189.4 611.2,1190.2 612.1,1189.9 613.1,1188.9 614.0,1186.9 615.0,1181.8 615.9,1182.8 616.9,1182.2 617.8,1181.5 618.8,1182.1 619.7,1181.6 620.7,1179.4 621.6,1182.5 622.5,1182.7 623.5,1182.9 624.4,1180.8 625.4,1181.9 626.3,1183.6 627.3,1181.7 628.2,1180.0 629.2,1179.4 630.1,1178.4 631.1,1179.9 632.0,1178.8 633.0,1181.0 633.9,1179.2 634.8,1179.1 635.8,1180.4 636.7,1177.7 637.7,1180.0 638.6,1178.2 639.6,1178.5 640.5,1177.2 641.5,1177.5 642.4,1174.1 643.4,1174.5 644.3,1170.8 645.3,1173.2 646.2,1175.0 647.1,1177.2 648.1,1177.7 649.0,1175.4 650.0,1177.3 650.9,1176.1 651.9,1175.4 652.8,1174.9 653.8,1172.3 654.7,1174.1 655.7,1171.5 656.6,1168.6 657.6,1168.6 658.5,1166.1 659.5,1169.0 660.4,1169.0 661.3,1168.5 662.3,1171.9 663.2,1172.5 664.2,1173.7 665.1,1171.5 666.1,1172.6 667.0,1171.6 668.0,1170.3 668.9,1171.4 669.9,1172.1 670.8,1171.9 671.8,1173.3 672.7,1172.4 673.6,1170.8 674.6,1169.3 675.5,1168.3 676.5,1169.1 677.4,1167.2 678.4,1170.0 679.3,1171.3 680.3,1169.2 681.2,1169.6 682.2,1166.3 683.1,1167.0 684.1,1163.1 685.0,1165.8 685.9,1165.3 686.9,1166.1 687.8,1166.9 688.8,1165.9 689.7,1166.7 690.7,1165.6 691.6,1163.2 692.6,1162.0 693.5,1162.1 694.5,1162.1 695.4,1160.4 696.4,1157.6 697.3,1162.2 698.3,1162.0 699.2,1160.2 700.1,1160.1 701.1,1161.2 702.0,1160.5 703.0,1160.6 703.9,1156.2 704.9,1159.2 705.8,1160.7 706.8,1160.0 707.7,1159.4 708.7,1159.0 709.6,1157.6 710.6,1158.2 711.5,1153.7 712.4,1158.4 713.4,1156.8 714.3,1158.0 715.3,1156.6 716.2,1157.7 717.2,1158.6 718.1,1156.7 719.1,1155.9 720.0,1156.4 721.0,1155.8 721.9,1154.9 722.9,1152.5 723.8,1155.4 724.7,1152.7 725.7,1151.5 726.6,1147.0 727.6,1151.4 728.5,1150.5 729.5,1151.5 730.4,1151.1 731.4,1150.1 732.3,1151.2 733.3,1150.9 734.2,1149.9 735.2,1149.9 736.1,1148.3 737.1,1149.4 738.0,1149.7 738.9,1152.3 739.9,1151.5 740.8,1153.5 741.8,1150.9 741.8,1158.3 740.8,1158.2 739.9,1157.1 738.9,1157.9 738.0,1157.1 737.1,1155.9 736.1,1155.1 735.2,1154.9 734.2,1155.3 733.3,1156.8 732.3,1156.7 731.4,1161.4 730.4,1157.3 729.5,1158.0 728.5,1154.9 727.6,1156.9 726.6,1157.9 725.7,1159.1 724.7,1161.2 723.8,1160.3 722.9,1160.9 721.9,1159.4 721.0,1160.7 720.0,1162.7 719.1,1162.7 718.1,1162.9 717.2,1163.2 716.2,1163.7 715.3,1164.0 714.3,1163.4 713.4,1164.4 712.4,1164.4 711.5,1162.0 710.6,1162.8 709.6,1164.0 708.7,1163.0 707.7,1165.0 706.8,1166.6 705.8,1168.5 704.9,1165.5 703.9,1169.0 703.0,1166.6 702.0,1165.0 701.1,1165.6 700.1,1166.9 699.2,1165.7 698.3,1169.6 697.3,1167.8 696.4,1166.9 695.4,1168.4 694.5,1167.9 693.5,1168.5 692.6,1167.6 691.6,1170.5 690.7,1170.8 689.7,1170.1 688.8,1171.9 687.8,1172.9 686.9,1173.8 685.9,1172.1 685.0,1171.8 684.1,1173.2 683.1,1171.3 682.2,1173.0 681.2,1173.7 680.3,1175.1 679.3,1177.7 678.4,1174.9 677.4,1177.7 676.5,1174.5 675.5,1174.4 674.6,1174.9 673.6,1177.0 672.7,1178.9 671.8,1177.4 670.8,1180.3 669.9,1178.8 668.9,1176.7 668.0,1175.9 667.0,1177.4 666.1,1176.6 665.1,1178.9 664.2,1178.0 663.2,1177.2 662.3,1176.2 661.3,1175.7 660.4,1174.0 659.5,1176.3 658.5,1172.8 657.6,1174.7 656.6,1175.6 655.7,1177.4 654.7,1178.2 653.8,1180.5 652.8,1180.3 651.9,1181.4 650.9,1182.4 650.0,1182.6 649.0,1182.7 648.1,1182.3 647.1,1181.0 646.2,1180.9 645.3,1180.3 644.3,1181.4 643.4,1182.2 642.4,1180.5 641.5,1181.7 640.5,1185.3 639.6,1184.9 638.6,1187.0 637.7,1185.8 636.7,1185.4 635.8,1183.7 634.8,1184.1 633.9,1184.7 633.0,1185.3 632.0,1186.3 631.1,1185.1 630.1,1184.7 629.2,1188.2 628.2,1187.0 627.3,1188.9 626.3,1191.5 625.4,1189.4 624.4,1188.0 623.5,1190.8 622.5,1187.1 621.6,1186.4 620.7,1188.4 619.7,1186.7 618.8,1187.6 617.8,1187.9 616.9,1187.0 615.9,1187.1 615.0,1190.5 614.0,1192.9 613.1,1193.6 612.1,1195.4 611.2,1195.5 610.2,1195.0 609.3,1195.5 608.3,1198.0 607.4,1198.7 606.5,1195.8 605.5,1196.5 604.6,1196.6 603.6,1196.4 602.7,1196.2 601.7,1199.6 600.8,1197.7 599.8,1197.5 598.9,1199.2 597.9,1199.2 597.0,1198.2 596.0,1198.5 595.1,1200.2 594.2,1197.7 593.2,1198.9 592.3,1199.2 591.3,1198.9 590.4,1198.8 589.4,1199.1 588.5,1203.6 587.5,1200.2 586.6,1200.2 585.6,1201.3 584.7,1202.2 583.7,1203.4 582.8,1204.8 581.9,1205.0 580.9,1209.6 580.0,1209.0 579.0,1209.4 578.1,1208.7 577.1,1207.5 576.2,1208.8 575.2,1209.4 574.3,1211.4 573.3,1211.8 572.4,1211.8 571.4,1210.3 570.5,1212.7 569.5,1212.3 568.6,1214.8 567.7,1211.7 566.7,1210.5 565.8,1211.6 564.8,1210.1 563.9,1209.9 562.9,1211.2 562.0,1211.9 561.0,1214.8 560.1,1215.3 559.1,1213.6 558.2,1214.2 557.2,1214.7 556.3,1215.1 555.4,1215.3 554.4,1217.2 553.5,1215.7 552.5,1215.6 551.6,1215.7 550.6,1214.1 549.7,1214.8 548.7,1216.9 547.8,1218.0 546.8,1221.1 545.9,1221.6 544.9,1222.4 544.0,1224.9 543.1,1226.4 542.1,1224.8 541.2,1225.1 540.2,1226.1 539.3,1226.9 538.3,1226.2 537.4,1227.5 536.4,1229.3 535.5,1228.0 534.5,1224.3 533.6,1222.8 532.6,1223.1 531.7,1223.8 530.7,1227.0 529.8,1231.1 528.9,1229.8 527.9,1230.3 527.0,1230.8 526.0,1233.2 525.1,1232.0 524.1,1232.7 523.2,1230.8 522.2,1233.5 521.3,1232.2 520.3,1232.7 519.4,1234.1 518.4,1232.2 517.5,1232.3 516.6,1233.4 515.6,1235.2 514.7,1234.9 513.7,1237.7 512.8,1235.9 511.8,1235.4 510.9,1234.3 509.9,1236.6 509.0,1234.8 508.0,1231.8 507.1,1230.1 506.1,1230.0 505.2,1232.2 504.3,1231.7 503.3,1233.0 502.4,1232.0 501.4,1233.8 500.5,1234.6 499.5,1232.6 498.6,1232.5 497.6,1234.6 496.7,1232.9 495.7,1229.0 494.8,1228.0 493.8,1227.9 492.9,1226.9 491.9,1232.5 491.0,1227.1 490.1,1226.5 489.1,1226.8 488.2,1221.5 487.2,1220.0 486.3,1219.3 485.3,1219.3 484.4,1216.2 483.4,1222.1 482.5,1227.4 481.5,1231.3 480.6,1235.6 479.6,1239.7 478.7,1243.8 477.8,1248.3 476.8,1247.8 475.9,1245.4 474.9,1240.6 474.0,1235.7 473.0,1230.8 472.1,1226.6 471.1,1220.9 470.2,1216.0 469.2,1211.0 468.3,1205.3 467.3,1203.0 466.4,1198.0 465.5,1190.3 464.5,1185.0 463.6,1179.7 462.6,1172.2 461.7,1163.4 460.7,1157.1 459.8,1148.7 458.8,1140.4 457.9,1135.0 456.9,1124.7 456.0,1116.4 455.0,1104.3 454.1,1098.1 453.2,1088.1 452.2,1082.2 451.3,1067.2 450.3,1065.2 449.4,1064.5 448.4,1065.2 447.5,1063.6 446.5,1065.3 445.6,1065.6 444.6,1066.6 443.7,1065.4 442.7,1066.9 441.8,1063.5 440.8,1064.7 439.9,1064.7 439.0,1063.8 438.0,1065.8 437.1,1064.5 436.1,1062.1 435.2,1061.1 434.2,1058.5 433.3,1060.9 432.3,1056.7 431.4,1057.4 430.4,1055.6 429.5,1057.6 428.5,1056.4 427.6,1056.8 426.7,1058.9 425.7,1056.1 424.8,1057.3 423.8,1055.0 422.9,1055.9 421.9,1056.4 421.0,1054.7 420.0,1054.4 419.1,1055.5 418.1,1058.9 417.2,1056.3 416.2,1055.6 415.3,1056.8 414.4,1055.9 413.4,1057.3 412.5,1057.5 411.5,1053.7 410.6,1053.9 409.6,1053.5 408.7,1052.4 407.7,1051.1 406.8,1050.4 405.8,1049.9 404.9,1049.9 403.9,1049.9 403.0,1046.9 402.0,1046.3 401.1,1048.1 400.2,1052.6 399.2,1051.8 398.3,1052.4 397.3,1051.3 396.4,1050.8 395.4,1047.3 394.5,1045.8 393.5,1045.1 392.6,1045.2 391.6,1045.1 390.7,1045.8 389.7,1045.0 388.8,1041.3 387.9,1041.7 386.9,1038.2 386.0,1039.6 385.0,1039.3 384.1,1041.2 383.1,1041.1 382.2,1040.6 381.2,1037.8 380.3,1037.1 379.3,1037.0 378.4,1039.9 377.4,1037.2 376.5,1038.8 375.6,1038.1 374.6,1040.3 373.7,1037.2 372.7,1037.9 371.8,1035.8 370.8,1036.6 369.9,1034.7 368.9,1031.6 368.0,1031.2 367.0,1032.9 366.1,1034.9 365.1,1035.2 364.2,1034.0 363.2,1033.7 362.3,1032.7 361.4,1031.0 360.4,1030.7 359.5,1028.8 358.5,1030.4 357.6,1027.6 356.6,1030.7 355.7,1029.4 354.7,1030.3 353.8,1028.8 352.8,1031.8 351.9,1031.4 350.9,1029.2 350.0,1029.0 349.1,1030.3 348.1,1027.0 347.2,1025.8 346.2,1025.6 345.3,1024.8 344.3,1024.7 343.4,1020.4 342.4,1019.1 341.5,1020.5 340.5,1018.8 339.6,1021.1 338.6,1021.8 337.7,1022.3 336.8,1023.3 335.8,1021.8 334.9,1022.5 333.9,1019.2 333.0,1018.0 332.0,1016.4 331.1,1015.0 330.1,1014.8 329.2,1016.0 328.2,1016.1 327.3,1013.5 326.3,1015.0 325.4,1015.9 324.4,1015.9 323.5,1018.1 322.6,1013.9 321.6,1012.2 320.7,1009.8 319.7,1010.7 318.8,1010.6 317.8,1008.1 316.9,1009.0 315.9,1009.7 315.0,1010.8 314.0,1009.3 313.1,1008.9 312.1,1007.1 311.2,1005.8 310.3,1006.3 309.3,1004.6 308.4,1004.7 307.4,1003.6 306.5,1003.8 305.5,1001.7 304.6,1003.8 303.6,1000.7 302.7,1001.4 301.7,1002.7 300.8,1003.5 299.8,1003.4 298.9,1005.5 298.0,1001.8 297.0,1002.3 296.1,1001.7 295.1,1000.4 294.2,1003.3 293.2,999.2 292.3,999.4 291.3,997.9 290.4,996.0 289.4,998.2 288.5,996.5 287.5,996.0 286.6,995.2 285.6,995.0 284.7,994.7 283.8,995.0 282.8,996.3 281.9,996.3 280.9,995.6 280.0,996.4 279.0,997.6 278.1,994.4 277.1,991.4 276.2,993.4 275.2,990.0 274.3,988.7 273.3,987.6 272.4,986.4 271.5,986.6 270.5,986.9 269.6,986.8 268.6,984.9 267.7,984.7 266.7,985.0 265.8,984.4 264.8,986.3 263.9,984.0 262.9,983.7 262.0,984.4 261.0,982.8 260.1,984.1 259.2,982.6 258.2,984.1 257.3,986.1 256.3,986.5 255.4,985.5 254.4,982.2 253.5,980.8 252.5,980.8 251.6,979.8 250.6,978.8 249.7,979.7 248.7,978.1 247.8,978.3 246.8,977.0 245.9,973.6 245.0,973.2 244.0,972.4 243.1,973.3 242.1,974.5 241.2,975.6 240.2,975.0 239.3,975.4 238.3,975.8 237.4,975.3 236.4,972.8 235.5,971.0 234.5,969.5 233.6,970.2 232.7,970.1 231.7,971.1 230.8,971.3 229.8,972.4 228.9,968.6 227.9,967.1 227.0,966.7 226.0,968.6 225.1,965.4 224.1,966.3 223.2,965.5 222.2,965.7 221.3,964.4 220.4,963.1 219.4,961.7 218.5,959.9 217.5,959.3 216.6,957.7 215.6,960.5 214.7,958.3 213.7,958.3 212.8,955.8 211.8,958.2 210.9,955.8 209.9,956.5 209.0,957.9 208.0,962.3 207.1,961.9 206.2,963.7 205.2,964.7 204.3,965.7 203.3,964.4 202.4,965.7 201.4,966.9 200.5,968.4 199.5,970.5 198.6,971.5 197.6,976.0 196.7,976.0 195.7,978.0 194.8,977.9 193.9,978.7 192.9,977.1 192.0,972.5 191.0,970.4 190.1,966.4 189.1,959.9 188.2,958.6 187.2,955.4 186.3,950.8 185.3,950.2 184.4,947.3 183.4,945.8 182.5,943.1 181.6,943.3 180.6,942.9 179.7,937.0 178.7,944.6 177.8,947.8 176.8,950.4 175.9,955.7 174.9,961.4 174.0,970.4 173.0,973.9 172.1,982.0 171.1,988.6 170.2,991.0 169.2,995.5 168.3,999.0 167.4,1002.5 166.4,1008.9 165.5,1013.1 164.5,1021.7 163.6,1023.7 162.6,1031.4 161.7,1035.9 160.7,1045.6 159.8,1053.1 158.8,1062.4 157.9,1073.2 156.9,1078.2 156.0,1088.1" fill="#D2D2AA"/>
<path d="M156.0,1084.0 L156.9,1076.0 L157.9,1067.7 L158.8,1059.2 L159.8,1050.5 L160.7,1042.0 L161.7,1033.8 L162.6,1027.2 L163.6,1021.4 L164.5,1015.7 L165.5,1010.2 L166.4,1004.9 L167.4,1000.0 L168.3,996.0 L169.2,992.6 L170.2,988.8 L171.1,984.1 L172.1,978.4 L173.0,972.1 L174.0,965.6 L174.9,959.4 L175.9,953.6 L176.8,948.2 L177.8,943.2 L178.7,938.2 L179.7,933.2 L180.6,935.9 L181.6,938.6 L182.5,941.1 L183.4,943.2 L184.4,945.1 L185.3,946.9 L186.3,948.8 L187.2,951.2 L188.2,954.2 L189.1,957.7 L190.1,961.9 L191.0,966.2 L192.0,970.1 L192.9,973.2 L193.9,975.4 M207.1,959.5 L208.0,957.8 L209.0,955.7 L209.9,953.9 M319.7,1006.1 L320.7,1008.0 L321.6,1010.1 L322.6,1011.8 M451.3,1064.1 L452.2,1073.9 L453.2,1083.4 L454.1,1092.9 L455.0,1102.7 L456.0,1112.7 L456.9,1122.5 L457.9,1131.8 L458.8,1138.5 L459.8,1145.6 L460.7,1153.3 L461.7,1161.4 L462.6,1169.3 L463.6,1176.5 L464.5,1182.9 L465.5,1188.6 L466.4,1194.2 L467.3,1198.9 L468.3,1203.6 L469.2,1208.8 L470.2,1214.1 L471.1,1219.0 L472.1,1223.5 L473.0,1227.9 L474.0,1232.3 L474.9,1236.8 L475.9,1241.5 L476.8,1246.1 M477.8,1246.3 L478.7,1241.9 L479.6,1237.7 L480.6,1233.6 L481.5,1229.5 L482.5,1224.9 L483.4,1219.9 L484.4,1214.2 M487.2,1217.0 L488.2,1219.1 L489.1,1221.4 L490.1,1223.5 M528.9,1227.8 L529.8,1226.2 L530.7,1224.0 L531.7,1222.1 M545.9,1219.4 L546.8,1217.8 L547.8,1216.0 L548.7,1214.3 M613.1,1190.7 L614.0,1188.9 L615.0,1187.1 L615.9,1185.4" fill="none" stroke="#D2D2AA" stroke-width="2.0" stroke-linejoin="round"/>
<path d="M194.8,975.9 L195.7,973.9 L196.7,972.2 M199.5,968.2 L200.5,966.5 L201.4,964.7 M235.5,968.5 L236.4,970.0 L237.4,971.7 M245.9,970.7 L246.8,972.3 M332.0,1013.7 L333.0,1015.4 L333.9,1017.0 M343.4,1018.3 L344.3,1020.4 L345.3,1022.4 M361.4,1028.5 L362.3,1030.1 M368.9,1029.4 L369.9,1031.0 L370.8,1032.7 M387.9,1037.4 L388.8,1039.2 L389.7,1040.9 M394.5,1043.3 L395.4,1044.8 L396.4,1046.8 M494.8,1225.7 L495.7,1227.4 L496.7,1229.1 M509.9,1230.4 L510.9,1232.2 M654.7,1176.2 L655.7,1174.6 L656.6,1172.8" fill="none" stroke="#D2D2AA" stroke-width="1.3" stroke-linejoin="round"/>
<polygon points="156.0,1081.9 156.9,1073.4 157.9,1063.1 158.8,1055.0 159.8,1041.6 160.7,1032.8 161.7,1025.6 162.6,1016.8 163.6,1009.1 164.5,999.3 165.5,989.4 166.4,975.4 167.4,968.3 168.3,961.6 169.2,955.6 170.2,950.9 171.1,946.2 172.1,938.2 173.0,932.0 174.0,925.3 174.9,921.2 175.9,913.1 176.8,910.2 177.8,905.1 178.7,899.3 179.7,895.5 180.6,891.4 181.6,892.4 182.5,895.9 183.4,898.9 184.4,898.7 185.3,903.1 186.3,907.1 187.2,909.8 188.2,913.8 189.1,918.8 190.1,922.9 191.0,925.5 192.0,928.0 192.9,932.2 193.9,937.4 194.8,938.7 195.7,941.5 196.7,937.4 197.6,936.0 198.6,932.8 199.5,928.5 200.5,922.6 201.4,918.8 202.4,915.3 203.3,911.7 204.3,907.0 205.2,908.2 206.2,909.0 207.1,911.0 208.0,909.8 209.0,911.0 209.9,910.6 210.9,913.3 211.8,915.8 212.8,917.4 213.7,917.2 214.7,919.8 215.6,921.4 216.6,921.3 217.5,922.8 218.5,925.7 219.4,923.1 220.4,924.7 221.3,922.7 222.2,922.8 223.2,921.9 224.1,921.1 225.1,919.4 226.0,923.6 227.0,926.0 227.9,924.3 228.9,925.3 229.8,927.7 230.8,928.3 231.7,928.6 232.7,929.8 233.6,931.0 234.5,932.5 235.5,933.8 236.4,935.5 237.4,935.4 238.3,937.8 239.3,936.6 240.2,937.1 241.2,934.2 242.1,936.2 243.1,938.7 244.0,939.8 245.0,940.2 245.9,943.3 246.8,940.3 247.8,942.5 248.7,943.2 249.7,941.9 250.6,941.1 251.6,941.8 252.5,941.7 253.5,942.0 254.4,944.8 255.4,946.9 256.3,948.4 257.3,950.3 258.2,951.3 259.2,951.8 260.1,947.9 261.0,949.9 262.0,948.5 262.9,951.4 263.9,951.5 264.8,953.1 265.8,952.6 266.7,952.7 267.7,953.7 268.6,952.7 269.6,955.1 270.5,955.7 271.5,956.3 272.4,960.4 273.3,958.8 274.3,960.7 275.2,960.3 276.2,960.2 277.1,957.2 278.1,960.6 279.0,959.1 280.0,960.0 280.9,960.1 281.9,962.6 282.8,963.4 283.8,964.6 284.7,966.4 285.6,965.4 286.6,969.3 287.5,969.2 288.5,966.1 289.4,969.1 290.4,968.0 291.3,968.0 292.3,968.5 293.2,970.5 294.2,972.5 295.1,973.8 296.1,973.6 297.0,974.8 298.0,975.1 298.9,976.5 299.8,976.9 300.8,977.5 301.7,975.7 302.7,978.2 303.6,977.3 304.6,977.5 305.5,975.8 306.5,975.9 307.4,975.6 308.4,977.9 309.3,978.9 310.3,981.1 311.2,982.3 312.1,981.8 313.1,983.0 314.0,983.0 315.0,986.7 315.9,984.4 316.9,987.1 317.8,986.5 318.8,984.2 319.7,981.3 320.7,983.7 321.6,984.8 322.6,984.5 323.5,986.4 324.4,986.6 325.4,988.9 326.3,989.6 327.3,990.6 328.2,990.2 329.2,989.8 330.1,991.9 331.1,993.1 332.0,992.6 333.0,994.4 333.9,996.6 334.9,996.4 335.8,996.2 336.8,998.4 337.7,997.6 338.6,997.0 339.6,998.9 340.5,1000.8 341.5,1001.6 342.4,1003.5 343.4,1002.2 344.3,1004.0 345.3,1003.1 346.2,1003.1 347.2,1001.8 348.1,1000.1 349.1,1000.7 350.0,1000.6 350.9,1000.9 351.9,1001.6 352.8,1000.5 353.8,1004.3 354.7,1004.5 355.7,1007.7 356.6,1008.8 357.6,1010.4 358.5,1012.7 359.5,1013.9 360.4,1011.1 361.4,1015.9 362.3,1014.2 363.2,1012.7 364.2,1011.5 365.1,1007.7 366.1,1008.3 367.0,1006.6 368.0,1008.1 368.9,1006.0 369.9,1011.4 370.8,1011.8 371.8,1012.7 372.7,1015.4 373.7,1013.9 374.6,1016.0 375.6,1014.4 376.5,1012.6 377.4,1014.8 378.4,1014.8 379.3,1015.5 380.3,1015.9 381.2,1014.8 382.2,1016.7 383.1,1016.4 384.1,1017.2 385.0,1018.9 386.0,1016.3 386.9,1016.0 387.9,1019.1 388.8,1018.1 389.7,1021.6 390.7,1021.2 391.6,1021.2 392.6,1022.6 393.5,1021.9 394.5,1023.0 395.4,1022.3 396.4,1024.3 397.3,1024.6 398.3,1023.3 399.2,1020.8 400.2,1024.7 401.1,1025.0 402.0,1027.2 403.0,1028.8 403.9,1029.8 404.9,1028.9 405.8,1028.4 406.8,1029.0 407.7,1030.0 408.7,1029.6 409.6,1029.0 410.6,1029.2 411.5,1030.9 412.5,1029.9 413.4,1031.2 414.4,1029.3 415.3,1031.3 416.2,1032.7 417.2,1032.5 418.1,1031.1 419.1,1034.2 420.0,1035.4 421.0,1036.0 421.9,1036.4 422.9,1035.2 423.8,1037.5 424.8,1037.9 425.7,1037.5 426.7,1036.6 427.6,1040.2 428.5,1040.0 429.5,1034.8 430.4,1038.5 431.4,1038.2 432.3,1037.4 433.3,1037.5 434.2,1040.7 435.2,1042.5 436.1,1044.1 437.1,1042.6 438.0,1045.2 439.0,1045.2 439.9,1045.3 440.8,1044.3 441.8,1043.7 442.7,1042.3 443.7,1043.0 444.6,1046.8 445.6,1047.8 446.5,1049.4 447.5,1049.3 448.4,1050.9 449.4,1050.9 450.3,1051.1 451.3,1047.7 452.2,1060.8 453.2,1075.2 454.1,1088.7 455.0,1102.3 456.0,1115.5 456.9,1130.6 457.9,1139.3 458.8,1150.4 459.8,1157.9 460.7,1167.7 461.7,1173.7 462.6,1185.3 463.6,1193.0 464.5,1202.3 465.5,1211.6 466.4,1214.7 467.3,1221.3 468.3,1223.7 469.2,1227.6 470.2,1234.3 471.1,1242.2 472.1,1246.8 473.0,1252.8 474.0,1257.0 474.9,1262.4 475.9,1268.6 476.8,1274.2 477.8,1279.5 478.7,1281.8 479.6,1280.8 480.6,1276.7 481.5,1271.8 482.5,1267.3 483.4,1263.1 484.4,1259.8 485.3,1254.0 486.3,1254.8 487.2,1252.8 488.2,1251.1 489.1,1249.3 490.1,1248.4 491.0,1244.4 491.9,1242.9 492.9,1242.0 493.8,1242.9 494.8,1245.9 495.7,1249.5 496.7,1249.8 497.6,1251.8 498.6,1253.1 499.5,1255.5 500.5,1255.9 501.4,1256.0 502.4,1255.0 503.3,1255.5 504.3,1254.8 505.2,1257.5 506.1,1258.3 507.1,1259.1 508.0,1259.9 509.0,1260.8 509.9,1260.7 510.9,1255.9 511.8,1258.2 512.8,1257.5 513.7,1256.9 514.7,1258.7 515.6,1257.3 516.6,1256.9 517.5,1256.0 518.4,1254.3 519.4,1253.6 520.3,1255.4 521.3,1253.4 522.2,1256.8 523.2,1256.9 524.1,1256.2 525.1,1253.5 526.0,1253.5 527.0,1250.5 527.9,1250.1 528.9,1250.0 529.8,1250.4 530.7,1248.7 531.7,1250.7 532.6,1251.9 533.6,1250.7 534.5,1248.8 535.5,1248.5 536.4,1249.2 537.4,1249.4 538.3,1249.9 539.3,1249.4 540.2,1250.1 541.2,1246.6 542.1,1247.6 543.1,1246.2 544.0,1244.6 544.9,1244.3 545.9,1245.6 546.8,1246.7 547.8,1246.7 548.7,1246.0 549.7,1245.7 550.6,1240.9 551.6,1241.9 552.5,1240.1 553.5,1239.4 554.4,1237.6 555.4,1238.7 556.3,1234.6 557.2,1238.2 558.2,1236.9 559.1,1235.1 560.1,1232.9 561.0,1229.4 562.0,1229.1 562.9,1232.3 563.9,1229.9 564.8,1231.8 565.8,1229.3 566.7,1230.2 567.7,1229.9 568.6,1229.0 569.5,1226.6 570.5,1226.8 571.4,1224.9 572.4,1224.4 573.3,1224.6 574.3,1224.0 575.2,1224.5 576.2,1222.5 577.1,1220.1 578.1,1220.5 579.0,1216.6 580.0,1213.8 580.9,1213.2 581.9,1214.0 582.8,1213.7 583.7,1215.1 584.7,1214.4 585.6,1218.5 586.6,1217.9 587.5,1216.3 588.5,1216.0 589.4,1214.1 590.4,1213.5 591.3,1212.8 592.3,1211.7 593.2,1213.7 594.2,1210.2 595.1,1210.6 596.0,1210.0 597.0,1210.7 597.9,1209.9 598.9,1210.3 599.8,1208.6 600.8,1210.3 601.7,1208.2 602.7,1209.9 603.6,1209.1 604.6,1208.8 605.5,1206.6 606.5,1208.8 607.4,1209.5 608.3,1207.3 609.3,1206.9 610.2,1208.1 611.2,1207.5 612.1,1206.1 613.1,1204.4 614.0,1202.2 615.0,1199.3 615.9,1200.8 616.9,1200.5 617.8,1198.6 618.8,1198.5 619.7,1197.4 620.7,1195.4 621.6,1198.0 622.5,1198.5 623.5,1199.3 624.4,1197.3 625.4,1201.2 626.3,1200.8 627.3,1202.0 628.2,1200.8 629.2,1199.0 630.1,1197.0 631.1,1192.2 632.0,1193.9 633.0,1193.0 633.9,1191.4 634.8,1191.6 635.8,1190.3 636.7,1190.9 637.7,1193.0 638.6,1191.6 639.6,1190.8 640.5,1188.3 641.5,1185.9 642.4,1185.9 643.4,1189.7 644.3,1189.7 645.3,1191.7 646.2,1192.7 647.1,1192.8 648.1,1190.6 649.0,1189.8 650.0,1188.4 650.9,1186.9 651.9,1185.6 652.8,1184.1 653.8,1184.8 654.7,1187.6 655.7,1187.3 656.6,1188.0 657.6,1184.2 658.5,1187.0 659.5,1186.5 660.4,1186.6 661.3,1186.3 662.3,1186.4 663.2,1180.7 664.2,1184.1 665.1,1185.1 666.1,1184.6 667.0,1185.0 668.0,1183.4 668.9,1182.7 669.9,1184.3 670.8,1185.1 671.8,1185.5 672.7,1185.2 673.6,1184.4 674.6,1185.8 675.5,1185.6 676.5,1185.3 677.4,1184.1 678.4,1183.9 679.3,1181.3 680.3,1180.4 681.2,1182.3 682.2,1180.2 683.1,1179.8 684.1,1180.6 685.0,1179.4 685.9,1178.7 686.9,1177.8 687.8,1177.6 688.8,1176.7 689.7,1176.7 690.7,1173.7 691.6,1173.0 692.6,1173.0 693.5,1174.6 694.5,1173.0 695.4,1174.3 696.4,1174.4 697.3,1175.8 698.3,1175.7 699.2,1173.7 700.1,1174.0 701.1,1173.3 702.0,1171.0 703.0,1169.3 703.9,1171.6 704.9,1168.9 705.8,1166.5 706.8,1169.2 707.7,1171.0 708.7,1168.3 709.6,1171.1 710.6,1169.6 711.5,1171.1 712.4,1170.3 713.4,1169.4 714.3,1168.2 715.3,1168.1 716.2,1165.0 717.2,1161.7 718.1,1165.3 719.1,1163.3 720.0,1163.6 721.0,1167.7 721.9,1164.7 722.9,1168.7 723.8,1170.0 724.7,1168.9 725.7,1166.8 726.6,1167.3 727.6,1166.4 728.5,1167.3 729.5,1165.5 730.4,1168.9 731.4,1170.5 732.3,1168.3 733.3,1169.6 734.2,1166.7 735.2,1166.3 736.1,1165.6 737.1,1164.9 738.0,1160.3 738.9,1160.9 739.9,1160.2 740.8,1161.1 741.8,1160.5 741.8,1165.9 740.8,1167.3 739.9,1166.6 738.9,1166.3 738.0,1170.5 737.1,1168.9 736.1,1169.4 735.2,1171.8 734.2,1174.7 733.3,1178.7 732.3,1180.6 731.4,1174.7 730.4,1174.1 729.5,1172.1 728.5,1171.2 727.6,1171.4 726.6,1170.8 725.7,1172.7 724.7,1174.3 723.8,1174.8 722.9,1174.3 721.9,1174.8 721.0,1172.1 720.0,1173.0 719.1,1172.5 718.1,1171.3 717.2,1171.4 716.2,1172.8 715.3,1171.8 714.3,1172.5 713.4,1173.7 712.4,1174.2 711.5,1175.9 710.6,1176.6 709.6,1176.0 708.7,1177.1 707.7,1177.3 706.8,1176.6 705.8,1175.9 704.9,1177.6 703.9,1178.3 703.0,1175.6 702.0,1178.0 701.1,1181.8 700.1,1180.2 699.2,1181.1 698.3,1182.0 697.3,1183.0 696.4,1180.1 695.4,1179.6 694.5,1180.7 693.5,1179.2 692.6,1181.0 691.6,1179.7 690.7,1180.4 689.7,1182.7 688.8,1182.4 687.8,1183.5 686.9,1183.9 685.9,1183.7 685.0,1183.8 684.1,1185.2 683.1,1190.0 682.2,1187.0 681.2,1187.8 680.3,1188.0 679.3,1189.2 678.4,1188.9 677.4,1191.4 676.5,1190.4 675.5,1191.7 674.6,1191.2 673.6,1191.0 672.7,1190.4 671.8,1191.0 670.8,1189.8 669.9,1191.6 668.9,1190.0 668.0,1189.1 667.0,1192.2 666.1,1192.1 665.1,1191.1 664.2,1191.0 663.2,1190.1 662.3,1192.5 661.3,1191.8 660.4,1193.8 659.5,1191.3 658.5,1191.9 657.6,1192.5 656.6,1195.9 655.7,1193.8 654.7,1193.1 653.8,1194.3 652.8,1191.7 651.9,1192.0 650.9,1192.0 650.0,1192.3 649.0,1194.0 648.1,1195.9 647.1,1196.8 646.2,1199.1 645.3,1196.6 644.3,1194.9 643.4,1195.9 642.4,1193.4 641.5,1195.9 640.5,1196.1 639.6,1199.8 638.6,1198.4 637.7,1197.9 636.7,1196.3 635.8,1199.4 634.8,1197.0 633.9,1198.6 633.0,1197.7 632.0,1200.8 631.1,1202.8 630.1,1201.3 629.2,1203.4 628.2,1204.9 627.3,1207.1 626.3,1206.5 625.4,1206.5 624.4,1205.9 623.5,1205.7 622.5,1205.8 621.6,1204.6 620.7,1203.4 619.7,1208.9 618.8,1206.5 617.8,1203.5 616.9,1205.6 615.9,1207.9 615.0,1206.9 614.0,1207.9 613.1,1209.3 612.1,1210.3 611.2,1213.1 610.2,1212.0 609.3,1214.8 608.3,1213.3 607.4,1213.0 606.5,1216.6 605.5,1213.5 604.6,1215.5 603.6,1213.5 602.7,1215.2 601.7,1216.0 600.8,1214.7 599.8,1216.0 598.9,1216.4 597.9,1216.6 597.0,1215.5 596.0,1215.7 595.1,1215.8 594.2,1220.6 593.2,1218.8 592.3,1219.2 591.3,1220.5 590.4,1220.2 589.4,1219.2 588.5,1219.8 587.5,1223.1 586.6,1223.5 585.6,1222.3 584.7,1224.1 583.7,1220.5 582.8,1219.8 581.9,1218.8 580.9,1219.0 580.0,1219.1 579.0,1222.1 578.1,1224.1 577.1,1226.3 576.2,1229.2 575.2,1230.1 574.3,1228.9 573.3,1228.4 572.4,1228.7 571.4,1234.9 570.5,1232.4 569.5,1231.9 568.6,1234.7 567.7,1234.2 566.7,1235.4 565.8,1235.3 564.8,1236.1 563.9,1238.0 562.9,1238.5 562.0,1238.7 561.0,1239.0 560.1,1237.8 559.1,1239.8 558.2,1241.1 557.2,1242.3 556.3,1245.7 555.4,1244.7 554.4,1242.7 553.5,1243.8 552.5,1244.9 551.6,1246.5 550.6,1248.8 549.7,1249.4 548.7,1252.0 547.8,1250.7 546.8,1251.2 545.9,1253.6 544.9,1250.4 544.0,1251.8 543.1,1250.4 542.1,1253.7 541.2,1253.5 540.2,1255.8 539.3,1258.7 538.3,1258.4 537.4,1253.8 536.4,1257.1 535.5,1256.2 534.5,1253.9 533.6,1255.4 532.6,1255.8 531.7,1255.4 530.7,1256.2 529.8,1256.1 528.9,1255.6 527.9,1259.8 527.0,1258.3 526.0,1261.3 525.1,1259.7 524.1,1262.9 523.2,1260.3 522.2,1260.9 521.3,1260.1 520.3,1260.1 519.4,1260.9 518.4,1260.1 517.5,1262.8 516.6,1261.6 515.6,1262.1 514.7,1262.5 513.7,1264.9 512.8,1264.4 511.8,1265.0 510.9,1264.0 509.9,1266.4 509.0,1265.8 508.0,1266.1 507.1,1266.1 506.1,1265.2 505.2,1263.4 504.3,1262.8 503.3,1261.3 502.4,1262.3 501.4,1261.1 500.5,1261.8 499.5,1261.9 498.6,1258.4 497.6,1257.5 496.7,1256.1 495.7,1255.1 494.8,1254.3 493.8,1249.5 492.9,1245.6 491.9,1248.9 491.0,1251.6 490.1,1252.1 489.1,1256.8 488.2,1255.8 487.2,1257.1 486.3,1260.0 485.3,1263.5 484.4,1266.0 483.4,1268.4 482.5,1273.5 481.5,1279.2 480.6,1281.9 479.6,1285.3 478.7,1288.5 477.8,1284.1 476.8,1279.8 475.9,1273.7 474.9,1268.5 474.0,1263.5 473.0,1260.5 472.1,1253.6 471.1,1245.8 470.2,1241.1 469.2,1234.7 468.3,1229.6 467.3,1226.1 466.4,1222.7 465.5,1220.2 464.5,1209.3 463.6,1198.7 462.6,1189.0 461.7,1180.2 460.7,1172.2 459.8,1164.2 458.8,1157.4 457.9,1144.6 456.9,1135.0 456.0,1121.2 455.0,1109.5 454.1,1092.3 453.2,1082.1 452.2,1069.1 451.3,1054.6 450.3,1055.5 449.4,1057.1 448.4,1055.6 447.5,1057.4 446.5,1053.2 445.6,1052.8 444.6,1051.1 443.7,1049.5 442.7,1051.9 441.8,1050.2 440.8,1049.8 439.9,1049.5 439.0,1048.8 438.0,1049.3 437.1,1048.3 436.1,1048.6 435.2,1048.2 434.2,1046.6 433.3,1048.6 432.3,1044.2 431.4,1043.8 430.4,1044.7 429.5,1044.7 428.5,1049.9 427.6,1044.5 426.7,1047.8 425.7,1043.4 424.8,1044.2 423.8,1043.8 422.9,1044.9 421.9,1040.4 421.0,1040.1 420.0,1040.7 419.1,1039.1 418.1,1040.2 417.2,1037.6 416.2,1038.7 415.3,1036.7 414.4,1036.9 413.4,1035.7 412.5,1036.1 411.5,1034.7 410.6,1034.8 409.6,1035.7 408.7,1033.8 407.7,1034.5 406.8,1035.2 405.8,1033.7 404.9,1034.7 403.9,1034.3 403.0,1033.2 402.0,1031.4 401.1,1031.8 400.2,1028.4 399.2,1029.9 398.3,1027.8 397.3,1028.6 396.4,1029.9 395.4,1029.4 394.5,1030.7 393.5,1029.9 392.6,1027.8 391.6,1027.7 390.7,1026.0 389.7,1026.7 388.8,1024.2 387.9,1023.0 386.9,1023.1 386.0,1023.3 385.0,1024.2 384.1,1022.2 383.1,1022.5 382.2,1022.8 381.2,1020.7 380.3,1020.1 379.3,1021.4 378.4,1020.0 377.4,1019.4 376.5,1019.5 375.6,1021.8 374.6,1020.7 373.7,1019.7 372.7,1019.5 371.8,1020.1 370.8,1018.9 369.9,1015.3 368.9,1016.3 368.0,1013.2 367.0,1013.3 366.1,1013.1 365.1,1016.0 364.2,1016.4 363.2,1018.3 362.3,1019.6 361.4,1021.7 360.4,1020.2 359.5,1017.8 358.5,1018.3 357.6,1016.4 356.6,1015.2 355.7,1012.9 354.7,1011.3 353.8,1010.0 352.8,1007.1 351.9,1006.9 350.9,1005.6 350.0,1004.5 349.1,1007.8 348.1,1006.7 347.2,1008.0 346.2,1009.1 345.3,1008.5 344.3,1009.8 343.4,1012.1 342.4,1007.6 341.5,1006.1 340.5,1006.8 339.6,1006.8 338.6,1006.0 337.7,1002.9 336.8,1004.2 335.8,1002.2 334.9,1002.1 333.9,1002.7 333.0,1001.5 332.0,1001.9 331.1,998.4 330.1,997.9 329.2,997.6 328.2,996.0 327.3,996.6 326.3,996.0 325.4,995.7 324.4,993.0 323.5,994.4 322.6,989.7 321.6,990.5 320.7,992.4 319.7,989.3 318.8,990.7 317.8,990.4 316.9,993.0 315.9,991.4 315.0,994.3 314.0,992.3 313.1,989.3 312.1,988.3 311.2,986.8 310.3,986.4 309.3,984.1 308.4,983.7 307.4,986.0 306.5,981.3 305.5,984.6 304.6,982.9 303.6,982.0 302.7,984.1 301.7,981.9 300.8,981.8 299.8,982.4 298.9,981.4 298.0,980.1 297.0,979.6 296.1,979.5 295.1,980.5 294.2,975.9 293.2,975.6 292.3,975.7 291.3,974.9 290.4,973.7 289.4,974.6 288.5,975.1 287.5,975.3 286.6,975.8 285.6,974.2 284.7,974.1 283.8,970.3 282.8,970.7 281.9,966.6 280.9,965.3 280.0,968.4 279.0,965.4 278.1,965.4 277.1,964.7 276.2,968.1 275.2,966.8 274.3,966.3 273.3,966.8 272.4,965.9 271.5,964.0 270.5,962.0 269.6,960.7 268.6,961.0 267.7,960.3 266.7,959.5 265.8,960.1 264.8,960.3 263.9,959.0 262.9,957.1 262.0,954.7 261.0,954.7 260.1,955.0 259.2,956.3 258.2,957.9 257.3,955.4 256.3,954.3 255.4,951.8 254.4,949.3 253.5,946.3 252.5,947.3 251.6,945.8 250.6,946.4 249.7,947.4 248.7,948.7 247.8,948.5 246.8,951.6 245.9,947.4 245.0,947.7 244.0,945.2 243.1,943.5 242.1,941.8 241.2,941.7 240.2,941.6 239.3,942.5 238.3,942.0 237.4,942.7 236.4,940.7 235.5,939.3 234.5,937.2 233.6,935.0 232.7,935.8 231.7,934.0 230.8,935.1 229.8,933.9 228.9,933.5 227.9,931.4 227.0,930.2 226.0,929.5 225.1,928.1 224.1,929.1 223.2,928.0 222.2,928.5 221.3,928.2 220.4,929.9 219.4,930.0 218.5,932.5 217.5,929.9 216.6,928.7 215.6,926.5 214.7,925.3 213.7,924.0 212.8,921.7 211.8,920.4 210.9,918.8 209.9,916.9 209.0,915.5 208.0,914.7 207.1,916.1 206.2,916.4 205.2,917.1 204.3,916.6 203.3,916.0 202.4,921.1 201.4,926.6 200.5,929.1 199.5,935.0 198.6,936.4 197.6,940.0 196.7,944.9 195.7,951.5 194.8,945.3 193.9,942.1 192.9,939.0 192.0,937.8 191.0,931.2 190.1,928.0 189.1,922.9 188.2,919.7 187.2,916.4 186.3,913.7 185.3,913.3 184.4,906.4 183.4,903.6 182.5,902.0 181.6,898.1 180.6,896.5 179.7,903.5 178.7,906.4 177.8,911.7 176.8,919.0 175.9,921.0 174.9,925.3 174.0,932.4 173.0,938.0 172.1,944.4 171.1,950.0 170.2,956.5 169.2,961.6 168.3,966.8 167.4,973.6 166.4,986.3 165.5,994.6 164.5,1005.7 163.6,1015.9 162.6,1024.4 161.7,1032.6 160.7,1041.2 159.8,1049.1 158.8,1058.8 157.9,1070.9 156.9,1079.5 156.0,1088.0" fill="#AAAAF6"/>
<path d="M156.0,1085.4 L156.9,1076.1 L157.9,1066.5 L158.8,1056.7 L159.8,1047.3 L160.7,1038.3 L161.7,1029.7 L162.6,1021.2 L163.6,1012.3 L164.5,1002.4 L165.5,991.9 L166.4,981.3 L167.4,971.2 L168.3,963.8 L169.2,958.7 L170.2,953.6 L171.1,948.1 L172.1,942.0 L173.0,935.5 L174.0,928.9 L174.9,922.9 L175.9,917.8 L176.8,913.2 L177.8,908.8 L178.7,904.3 L179.7,899.5 L180.6,894.2 M181.6,895.2 L182.5,898.4 L183.4,901.5 L184.4,904.4 L185.3,907.2 L186.3,910.1 L187.2,913.3 L188.2,917.1 L189.1,921.2 L190.1,925.4 L191.0,929.6 L192.0,933.5 L192.9,937.1 L193.9,940.4 L194.8,943.6 L195.7,946.0 L196.7,941.9 L197.6,938.2 L198.6,934.6 L199.5,930.9 L200.5,926.8 L201.4,922.4 L202.4,918.4 L203.3,914.4 L204.3,912.0 M210.9,916.1 L211.8,917.6 L212.8,919.9 L213.7,921.7 L214.7,923.3 M253.5,944.7 L254.4,946.6 L255.4,948.9 L256.3,950.9 M281.9,964.5 L282.8,966.2 L283.8,968.3 L284.7,970.3 L285.6,971.9 M352.8,1005.5 L353.8,1007.0 L354.7,1008.7 L355.7,1010.2 M451.3,1052.3 L452.2,1065.0 L453.2,1077.7 L454.1,1090.6 L455.0,1104.4 L456.0,1119.1 L456.9,1132.7 L457.9,1143.0 L458.8,1152.7 L459.8,1161.6 L460.7,1169.8 L461.7,1178.1 L462.6,1187.0 L463.6,1196.5 L464.5,1206.0 L465.5,1215.0 L466.4,1219.6 L467.3,1223.6 L468.3,1227.6 L469.2,1232.3 L470.2,1237.9 L471.1,1243.9 L472.1,1249.9 L473.0,1255.4 L474.0,1260.6 L474.9,1265.7 L475.9,1270.9 L476.8,1276.3 L477.8,1281.9 L478.7,1285.5 L479.6,1282.5 L480.6,1279.1 L481.5,1275.1 L482.5,1271.0 L483.4,1266.7 L484.4,1262.7 L485.3,1259.3 L486.3,1256.9 L487.2,1255.3 M488.2,1253.9 L489.1,1252.4 L490.1,1250.2 L491.0,1247.7 L491.9,1245.0 M492.9,1243.7 L493.8,1246.8 L494.8,1249.5 L495.7,1251.7 L496.7,1253.5 L497.6,1255.4 M549.7,1247.3 L550.6,1245.8 L551.6,1244.1 L552.5,1242.5 M576.2,1226.1 L577.1,1224.5 L578.1,1222.1 L579.0,1219.4 L580.0,1217.0 M628.2,1202.7 L629.2,1201.0 L630.1,1199.2 L631.1,1197.7" fill="none" stroke="#AAAAF6" stroke-width="2.0" stroke-linejoin="round"/>
<path d="M234.5,934.4 L235.5,935.9 L236.4,937.5 M242.1,939.9 L243.1,941.6 L244.0,943.3 M270.5,959.1 L271.5,960.7 M310.3,983.0 L311.2,984.5 L312.1,986.1 M363.2,1015.6 L364.2,1013.9 L365.1,1012.4 M369.9,1013.4 L370.8,1015.0 M401.1,1028.0 L402.0,1029.7 M541.2,1251.7 L542.1,1250.0 M558.2,1238.6 L559.1,1237.1" fill="none" stroke="#AAAAF6" stroke-width="1.3" stroke-linejoin="round"/>
<polygon points="156.0,1082.7 156.9,1071.1 157.9,1060.2 158.8,1046.7 159.8,1029.1 160.7,1021.1 161.7,1007.6 162.6,993.6 163.6,986.0 164.5,974.0 165.5,963.3 166.4,951.0 167.4,941.5 168.3,935.1 169.2,933.4 170.2,930.1 171.1,928.1 172.1,922.9 173.0,919.6 174.0,914.5 174.9,904.9 175.9,897.7 176.8,889.2 177.8,879.9 178.7,869.8 179.7,864.5 180.6,856.0 181.6,848.4 182.5,846.3 183.4,848.3 184.4,854.8 185.3,858.0 186.3,863.4 187.2,865.3 188.2,872.7 189.1,878.7 190.1,881.6 191.0,888.0 192.0,891.2 192.9,893.9 193.9,900.6 194.8,901.3 195.7,906.8 196.7,902.5 197.6,896.0 198.6,893.1 199.5,885.5 200.5,881.4 201.4,877.5 202.4,871.0 203.3,868.5 204.3,870.5 205.2,870.2 206.2,869.1 207.1,869.4 208.0,871.4 209.0,871.8 209.9,870.8 210.9,872.2 211.8,872.4 212.8,873.6 213.7,876.5 214.7,878.9 215.6,882.3 216.6,883.4 217.5,890.8 218.5,891.6 219.4,894.2 220.4,897.7 221.3,896.8 222.2,897.0 223.2,898.7 224.1,898.1 225.1,896.8 226.0,895.5 227.0,894.4 227.9,893.3 228.9,893.0 229.8,891.0 230.8,893.2 231.7,890.7 232.7,891.8 233.6,889.8 234.5,889.6 235.5,896.4 236.4,899.1 237.4,902.4 238.3,905.1 239.3,907.4 240.2,911.0 241.2,909.7 242.1,911.3 243.1,911.2 244.0,911.1 245.0,909.8 245.9,910.3 246.8,910.2 247.8,908.2 248.7,910.5 249.7,908.6 250.6,909.1 251.6,907.1 252.5,909.9 253.5,909.7 254.4,910.8 255.4,912.0 256.3,912.7 257.3,910.6 258.2,912.8 259.2,913.5 260.1,915.6 261.0,914.0 262.0,920.1 262.9,921.3 263.9,923.6 264.8,924.9 265.8,926.0 266.7,925.1 267.7,925.0 268.6,930.1 269.6,929.8 270.5,932.5 271.5,930.6 272.4,932.4 273.3,930.6 274.3,931.9 275.2,933.0 276.2,936.2 277.1,936.0 278.1,938.5 279.0,938.2 280.0,942.0 280.9,942.3 281.9,938.0 282.8,940.9 283.8,941.5 284.7,938.5 285.6,940.2 286.6,940.8 287.5,941.8 288.5,943.6 289.4,945.9 290.4,946.5 291.3,946.5 292.3,947.7 293.2,947.9 294.2,950.5 295.1,951.0 296.1,949.9 297.0,951.7 298.0,952.6 298.9,954.0 299.8,956.5 300.8,956.3 301.7,956.4 302.7,956.4 303.6,952.9 304.6,955.2 305.5,955.2 306.5,953.2 307.4,954.9 308.4,956.0 309.3,957.3 310.3,956.8 311.2,957.8 312.1,960.7 313.1,962.8 314.0,961.7 315.0,965.6 315.9,966.4 316.9,966.3 317.8,964.9 318.8,965.5 319.7,963.6 320.7,967.0 321.6,964.5 322.6,966.5 323.5,967.5 324.4,967.4 325.4,970.1 326.3,967.8 327.3,971.8 328.2,968.1 329.2,969.8 330.1,968.4 331.1,967.8 332.0,966.5 333.0,966.5 333.9,968.3 334.9,969.7 335.8,973.3 336.8,976.4 337.7,975.1 338.6,979.7 339.6,981.3 340.5,978.7 341.5,979.1 342.4,979.9 343.4,978.4 344.3,975.5 345.3,978.5 346.2,978.6 347.2,978.3 348.1,977.6 349.1,979.5 350.0,980.2 350.9,981.1 351.9,983.6 352.8,984.4 353.8,986.0 354.7,985.9 355.7,986.4 356.6,987.3 357.6,987.2 358.5,988.2 359.5,988.3 360.4,988.4 361.4,989.0 362.3,988.0 363.2,989.2 364.2,990.5 365.1,992.1 366.1,989.9 367.0,992.9 368.0,992.4 368.9,994.6 369.9,994.8 370.8,993.4 371.8,997.0 372.7,995.5 373.7,999.5 374.6,1000.7 375.6,999.8 376.5,1003.1 377.4,1003.4 378.4,1004.0 379.3,1003.9 380.3,1004.7 381.2,1002.6 382.2,1001.3 383.1,999.5 384.1,1003.7 385.0,1005.1 386.0,1005.7 386.9,1007.1 387.9,1009.4 388.8,1008.7 389.7,1008.7 390.7,1006.7 391.6,1006.3 392.6,1009.0 393.5,1008.3 394.5,1008.9 395.4,1010.1 396.4,1009.5 397.3,1010.0 398.3,1008.7 399.2,1007.7 400.2,1009.1 401.1,1008.9 402.0,1008.7 403.0,1009.8 403.9,1011.9 404.9,1012.5 405.8,1014.3 406.8,1014.2 407.7,1013.6 408.7,1011.6 409.6,1012.0 410.6,1011.7 411.5,1011.1 412.5,1010.5 413.4,1012.2 414.4,1015.0 415.3,1014.6 416.2,1018.4 417.2,1019.2 418.1,1018.0 419.1,1017.5 420.0,1014.3 421.0,1013.5 421.9,1013.7 422.9,1014.7 423.8,1013.8 424.8,1012.9 425.7,1009.6 426.7,1011.0 427.6,1010.1 428.5,1011.9 429.5,1014.0 430.4,1015.9 431.4,1015.5 432.3,1014.7 433.3,1016.8 434.2,1018.6 435.2,1019.6 436.1,1021.6 437.1,1023.0 438.0,1022.4 439.0,1026.5 439.9,1029.5 440.8,1029.8 441.8,1022.5 442.7,1017.1 443.7,1010.5 444.6,1014.6 445.6,1019.3 446.5,1022.0 447.5,1020.8 448.4,1018.8 449.4,1014.0 450.3,1016.4 451.3,1016.7 452.2,1036.7 453.2,1055.8 454.1,1073.3 455.0,1095.5 456.0,1114.6 456.9,1130.2 457.9,1139.2 458.8,1149.7 459.8,1158.2 460.7,1167.0 461.7,1176.2 462.6,1184.5 463.6,1194.8 464.5,1201.1 465.5,1213.5 466.4,1212.4 467.3,1213.6 468.3,1218.1 469.2,1225.8 470.2,1233.8 471.1,1241.9 472.1,1247.0 473.0,1256.0 474.0,1263.5 474.9,1270.3 475.9,1275.2 476.8,1282.5 477.8,1288.8 478.7,1291.8 479.6,1286.7 480.6,1282.2 481.5,1278.5 482.5,1272.8 483.4,1269.4 484.4,1264.9 485.3,1258.2 486.3,1255.1 487.2,1252.3 488.2,1248.8 489.1,1242.8 490.1,1240.5 491.0,1235.7 491.9,1232.7 492.9,1231.9 493.8,1236.4 494.8,1238.5 495.7,1246.7 496.7,1250.9 497.6,1256.6 498.6,1255.7 499.5,1255.8 500.5,1256.6 501.4,1255.8 502.4,1257.0 503.3,1261.0 504.3,1262.6 505.2,1263.5 506.1,1263.9 507.1,1263.3 508.0,1262.5 509.0,1259.2 509.9,1257.2 510.9,1258.8 511.8,1259.7 512.8,1258.2 513.7,1256.7 514.7,1257.8 515.6,1253.2 516.6,1255.1 517.5,1255.0 518.4,1253.0 519.4,1255.0 520.3,1254.0 521.3,1253.8 522.2,1252.4 523.2,1250.3 524.1,1246.5 525.1,1248.4 526.0,1247.7 527.0,1247.2 527.9,1246.8 528.9,1246.9 529.8,1243.2 530.7,1243.7 531.7,1243.1 532.6,1243.9 533.6,1243.9 534.5,1241.4 535.5,1242.4 536.4,1242.5 537.4,1239.1 538.3,1240.0 539.3,1235.8 540.2,1235.7 541.2,1234.0 542.1,1229.2 543.1,1230.3 544.0,1230.5 544.9,1229.1 545.9,1230.6 546.8,1228.3 547.8,1229.8 548.7,1228.7 549.7,1226.1 550.6,1226.2 551.6,1226.0 552.5,1225.9 553.5,1226.1 554.4,1223.8 555.4,1225.7 556.3,1224.0 557.2,1223.2 558.2,1221.9 559.1,1220.2 560.1,1219.2 561.0,1220.2 562.0,1221.7 562.9,1218.7 563.9,1219.4 564.8,1219.5 565.8,1219.1 566.7,1219.2 567.7,1214.6 568.6,1213.3 569.5,1215.4 570.5,1213.6 571.4,1212.6 572.4,1210.8 573.3,1210.2 574.3,1210.4 575.2,1206.9 576.2,1209.6 577.1,1209.6 578.1,1208.4 579.0,1207.0 580.0,1208.0 580.9,1209.9 581.9,1210.5 582.8,1208.5 583.7,1208.7 584.7,1209.5 585.6,1207.2 586.6,1207.7 587.5,1206.0 588.5,1203.4 589.4,1200.5 590.4,1200.4 591.3,1199.3 592.3,1199.0 593.2,1199.8 594.2,1199.0 595.1,1196.6 596.0,1196.3 597.0,1195.8 597.9,1196.4 598.9,1197.3 599.8,1198.2 600.8,1198.6 601.7,1192.2 602.7,1197.5 603.6,1192.8 604.6,1191.6 605.5,1189.7 606.5,1191.0 607.4,1191.5 608.3,1190.2 609.3,1191.1 610.2,1193.4 611.2,1195.6 612.1,1193.0 613.1,1192.3 614.0,1193.6 615.0,1190.2 615.9,1191.7 616.9,1191.0 617.8,1187.3 618.8,1187.7 619.7,1187.3 620.7,1187.0 621.6,1187.9 622.5,1185.8 623.5,1187.2 624.4,1188.0 625.4,1186.0 626.3,1183.6 627.3,1184.5 628.2,1182.6 629.2,1182.8 630.1,1181.8 631.1,1181.7 632.0,1181.0 633.0,1180.4 633.9,1176.7 634.8,1176.6 635.8,1179.1 636.7,1179.0 637.7,1180.2 638.6,1178.0 639.6,1177.8 640.5,1179.6 641.5,1178.4 642.4,1178.3 643.4,1177.4 644.3,1175.4 645.3,1174.4 646.2,1175.7 647.1,1176.4 648.1,1175.1 649.0,1175.4 650.0,1179.4 650.9,1179.5 651.9,1179.4 652.8,1176.5 653.8,1175.1 654.7,1176.2 655.7,1175.3 656.6,1175.7 657.6,1176.5 658.5,1176.3 659.5,1175.7 660.4,1176.7 661.3,1176.7 662.3,1173.7 663.2,1174.4 664.2,1173.3 665.1,1172.8 666.1,1173.6 667.0,1174.5 668.0,1175.4 668.9,1172.7 669.9,1171.3 670.8,1169.5 671.8,1170.3 672.7,1169.5 673.6,1168.8 674.6,1167.5 675.5,1165.4 676.5,1166.1 677.4,1166.0 678.4,1167.1 679.3,1167.9 680.3,1165.6 681.2,1169.0 682.2,1168.0 683.1,1167.8 684.1,1165.2 685.0,1165.3 685.9,1164.0 686.9,1164.7 687.8,1162.9 688.8,1163.0 689.7,1163.6 690.7,1163.0 691.6,1163.8 692.6,1165.9 693.5,1164.6 694.5,1165.4 695.4,1164.7 696.4,1163.4 697.3,1163.6 698.3,1162.5 699.2,1162.8 700.1,1162.4 701.1,1164.3 702.0,1162.3 703.0,1164.5 703.9,1165.4 704.9,1161.0 705.8,1165.3 706.8,1161.6 707.7,1161.6 708.7,1161.2 709.6,1158.2 710.6,1159.7 711.5,1161.2 712.4,1162.1 713.4,1163.1 714.3,1162.6 715.3,1160.5 716.2,1159.7 717.2,1158.0 718.1,1156.4 719.1,1155.9 720.0,1157.1 721.0,1157.1 721.9,1158.0 722.9,1156.3 723.8,1156.4 724.7,1156.0 725.7,1153.1 726.6,1155.9 727.6,1157.2 728.5,1156.3 729.5,1157.4 730.4,1156.0 731.4,1156.2 732.3,1156.3 733.3,1157.4 734.2,1151.9 735.2,1155.1 736.1,1154.2 737.1,1152.9 738.0,1151.5 738.9,1149.4 739.9,1148.9 740.8,1147.2 741.8,1147.6 741.8,1154.1 740.8,1152.6 739.9,1153.7 738.9,1154.0 738.0,1158.1 737.1,1157.9 736.1,1159.1 735.2,1164.1 734.2,1162.6 733.3,1161.0 732.3,1160.6 731.4,1163.8 730.4,1161.6 729.5,1161.0 728.5,1161.2 727.6,1160.7 726.6,1167.4 725.7,1159.4 724.7,1160.9 723.8,1160.8 722.9,1163.7 721.9,1163.3 721.0,1161.9 720.0,1163.2 719.1,1161.8 718.1,1161.6 717.2,1165.3 716.2,1164.1 715.3,1166.6 714.3,1167.3 713.4,1168.8 712.4,1165.6 711.5,1166.9 710.6,1165.6 709.6,1164.8 708.7,1165.2 707.7,1169.4 706.8,1169.1 705.8,1168.9 704.9,1173.9 703.9,1170.3 703.0,1170.2 702.0,1172.4 701.1,1170.0 700.1,1171.7 699.2,1168.5 698.3,1168.8 697.3,1168.5 696.4,1170.5 695.4,1170.1 694.5,1173.4 693.5,1173.5 692.6,1169.9 691.6,1170.7 690.7,1169.4 689.7,1170.6 688.8,1170.5 687.8,1170.0 686.9,1169.1 685.9,1171.2 685.0,1171.7 684.1,1173.1 683.1,1171.2 682.2,1174.7 681.2,1174.5 680.3,1175.3 679.3,1172.7 678.4,1172.3 677.4,1172.2 676.5,1170.8 675.5,1171.7 674.6,1171.9 673.6,1174.8 672.7,1173.3 671.8,1177.6 670.8,1179.3 669.9,1176.9 668.9,1178.8 668.0,1179.5 667.0,1179.2 666.1,1180.1 665.1,1179.5 664.2,1179.3 663.2,1179.3 662.3,1180.2 661.3,1180.8 660.4,1182.9 659.5,1181.2 658.5,1181.7 657.6,1181.9 656.6,1180.3 655.7,1180.3 654.7,1180.0 653.8,1180.5 652.8,1183.3 651.9,1183.1 650.9,1184.2 650.0,1185.3 649.0,1183.3 648.1,1183.6 647.1,1181.4 646.2,1183.6 645.3,1184.3 644.3,1181.4 643.4,1184.2 642.4,1186.4 641.5,1185.2 640.5,1185.6 639.6,1185.8 638.6,1186.3 637.7,1187.5 636.7,1184.8 635.8,1184.2 634.8,1185.6 633.9,1185.1 633.0,1186.9 632.0,1185.8 631.1,1187.3 630.1,1187.7 629.2,1186.7 628.2,1188.5 627.3,1188.3 626.3,1189.1 625.4,1190.5 624.4,1192.9 623.5,1194.3 622.5,1195.0 621.6,1193.2 620.7,1192.4 619.7,1194.2 618.8,1193.1 617.8,1193.4 616.9,1197.1 615.9,1200.1 615.0,1199.1 614.0,1199.2 613.1,1199.4 612.1,1201.6 611.2,1199.7 610.2,1199.6 609.3,1199.2 608.3,1197.9 607.4,1198.1 606.5,1197.5 605.5,1198.8 604.6,1198.8 603.6,1201.9 602.7,1204.1 601.7,1203.6 600.8,1203.5 599.8,1203.0 598.9,1201.6 597.9,1200.4 597.0,1200.5 596.0,1202.7 595.1,1201.4 594.2,1203.6 593.2,1205.4 592.3,1207.0 591.3,1208.1 590.4,1208.2 589.4,1207.6 588.5,1210.2 587.5,1210.7 586.6,1211.9 585.6,1212.7 584.7,1213.2 583.7,1216.6 582.8,1217.1 581.9,1215.0 580.9,1214.3 580.0,1214.0 579.0,1217.1 578.1,1215.2 577.1,1214.2 576.2,1215.6 575.2,1213.8 574.3,1214.1 573.3,1215.7 572.4,1215.9 571.4,1220.3 570.5,1220.0 569.5,1220.6 568.6,1223.8 567.7,1224.1 566.7,1226.6 565.8,1224.5 564.8,1225.5 563.9,1226.0 562.9,1226.8 562.0,1226.6 561.0,1225.1 560.1,1226.1 559.1,1225.4 558.2,1229.0 557.2,1228.6 556.3,1228.8 555.4,1234.3 554.4,1230.7 553.5,1231.9 552.5,1232.2 551.6,1230.4 550.6,1231.0 549.7,1232.1 548.7,1234.7 547.8,1236.2 546.8,1235.5 545.9,1236.1 544.9,1235.3 544.0,1238.0 543.1,1235.9 542.1,1237.6 541.2,1239.0 540.2,1242.1 539.3,1245.8 538.3,1245.2 537.4,1248.6 536.4,1248.1 535.5,1248.5 534.5,1249.7 533.6,1248.8 532.6,1252.1 531.7,1249.5 530.7,1251.9 529.8,1249.9 528.9,1253.7 527.9,1251.2 527.0,1251.2 526.0,1252.4 525.1,1254.3 524.1,1254.2 523.2,1256.3 522.2,1258.1 521.3,1257.9 520.3,1259.1 519.4,1259.8 518.4,1259.7 517.5,1261.8 516.6,1261.2 515.6,1260.8 514.7,1261.1 513.7,1262.7 512.8,1266.3 511.8,1263.9 510.9,1265.0 509.9,1264.7 509.0,1268.8 508.0,1268.2 507.1,1269.9 506.1,1270.0 505.2,1268.3 504.3,1266.6 503.3,1266.4 502.4,1263.0 501.4,1261.9 500.5,1263.9 499.5,1261.5 498.6,1261.5 497.6,1261.8 496.7,1260.1 495.7,1253.9 494.8,1247.9 493.8,1241.4 492.9,1237.8 491.9,1239.0 491.0,1240.5 490.1,1244.8 489.1,1248.6 488.2,1252.7 487.2,1258.6 486.3,1263.0 485.3,1265.6 484.4,1269.2 483.4,1274.3 482.5,1278.9 481.5,1283.8 480.6,1287.3 479.6,1296.2 478.7,1297.1 477.8,1294.6 476.8,1291.1 475.9,1282.4 474.9,1275.9 474.0,1268.3 473.0,1260.6 472.1,1253.2 471.1,1246.9 470.2,1238.3 469.2,1232.2 468.3,1224.1 467.3,1219.4 466.4,1218.0 465.5,1218.6 464.5,1209.7 463.6,1200.2 462.6,1191.9 461.7,1182.4 460.7,1171.4 459.8,1163.3 458.8,1157.5 457.9,1146.8 456.9,1135.9 456.0,1120.3 455.0,1101.3 454.1,1083.1 453.2,1060.9 452.2,1042.6 451.3,1022.2 450.3,1021.3 449.4,1020.8 448.4,1023.7 447.5,1026.6 446.5,1025.9 445.6,1025.8 444.6,1021.3 443.7,1015.6 442.7,1025.6 441.8,1032.7 440.8,1034.5 439.9,1034.8 439.0,1032.2 438.0,1029.0 437.1,1028.4 436.1,1026.2 435.2,1024.3 434.2,1025.5 433.3,1026.3 432.3,1022.0 431.4,1020.7 430.4,1019.5 429.5,1019.2 428.5,1016.6 427.6,1015.4 426.7,1019.5 425.7,1016.5 424.8,1018.2 423.8,1020.6 422.9,1023.4 421.9,1021.7 421.0,1022.8 420.0,1022.9 419.1,1023.5 418.1,1024.6 417.2,1025.1 416.2,1024.4 415.3,1020.5 414.4,1020.5 413.4,1017.4 412.5,1019.4 411.5,1015.8 410.6,1016.8 409.6,1017.9 408.7,1018.2 407.7,1020.5 406.8,1020.7 405.8,1018.9 404.9,1019.9 403.9,1016.0 403.0,1014.6 402.0,1017.0 401.1,1013.2 400.2,1015.5 399.2,1015.3 398.3,1014.6 397.3,1016.6 396.4,1016.7 395.4,1014.8 394.5,1014.2 393.5,1015.7 392.6,1016.6 391.6,1016.2 390.7,1012.1 389.7,1013.4 388.8,1016.3 387.9,1015.3 386.9,1014.5 386.0,1012.8 385.0,1011.8 384.1,1009.8 383.1,1007.3 382.2,1009.5 381.2,1007.9 380.3,1010.2 379.3,1010.1 378.4,1008.1 377.4,1007.1 376.5,1007.6 375.6,1008.3 374.6,1005.7 373.7,1005.6 372.7,1005.0 371.8,1001.1 370.8,1001.6 369.9,1000.3 368.9,999.4 368.0,1000.0 367.0,998.8 366.1,999.8 365.1,997.7 364.2,995.1 363.2,994.8 362.3,994.4 361.4,993.2 360.4,994.1 359.5,994.8 358.5,997.1 357.6,993.0 356.6,992.5 355.7,993.6 354.7,993.5 353.8,991.6 352.8,989.6 351.9,989.6 350.9,988.0 350.0,987.2 349.1,986.9 348.1,984.5 347.2,983.6 346.2,983.5 345.3,983.6 344.3,983.3 343.4,985.1 342.4,984.6 341.5,985.9 340.5,987.7 339.6,987.5 338.6,984.2 337.7,983.5 336.8,980.5 335.8,979.9 334.9,980.0 333.9,974.8 333.0,973.0 332.0,971.1 331.1,972.2 330.1,973.1 329.2,975.3 328.2,976.4 327.3,976.6 326.3,979.4 325.4,976.5 324.4,973.8 323.5,974.9 322.6,972.0 321.6,971.8 320.7,972.5 319.7,971.5 318.8,971.5 317.8,972.0 316.9,973.4 315.9,974.4 315.0,970.6 314.0,968.7 313.1,967.8 312.1,967.3 311.2,964.7 310.3,962.8 309.3,962.3 308.4,961.0 307.4,961.6 306.5,963.1 305.5,960.5 304.6,962.0 303.6,960.5 302.7,959.9 301.7,961.2 300.8,960.8 299.8,960.3 298.9,962.3 298.0,959.0 297.0,957.7 296.1,956.5 295.1,956.5 294.2,954.3 293.2,954.5 292.3,956.3 291.3,953.8 290.4,954.0 289.4,950.1 288.5,948.7 287.5,946.2 286.6,947.7 285.6,946.6 284.7,944.4 283.8,947.3 282.8,945.3 281.9,949.6 280.9,947.2 280.0,947.0 279.0,947.2 278.1,944.6 277.1,941.4 276.2,944.1 275.2,939.1 274.3,940.3 273.3,939.8 272.4,937.8 271.5,937.3 270.5,937.5 269.6,937.9 268.6,934.9 267.7,932.9 266.7,934.5 265.8,932.0 264.8,929.6 263.9,932.5 262.9,927.9 262.0,928.1 261.0,923.6 260.1,921.8 259.2,920.7 258.2,918.8 257.3,917.5 256.3,917.2 255.4,916.1 254.4,917.5 253.5,914.4 252.5,913.8 251.6,914.9 250.6,913.6 249.7,913.7 248.7,914.7 247.8,915.9 246.8,917.8 245.9,915.7 245.0,916.5 244.0,918.1 243.1,914.7 242.1,916.5 241.2,915.6 240.2,917.0 239.3,915.4 238.3,909.3 237.4,906.1 236.4,904.6 235.5,902.2 234.5,899.6 233.6,899.7 232.7,899.1 231.7,897.4 230.8,899.7 229.8,900.7 228.9,898.2 227.9,898.7 227.0,900.0 226.0,904.2 225.1,901.9 224.1,902.0 223.2,904.5 222.2,903.3 221.3,905.6 220.4,904.8 219.4,899.9 218.5,901.8 217.5,896.8 216.6,892.1 215.6,890.0 214.7,884.6 213.7,882.8 212.8,879.8 211.8,877.9 210.9,877.4 209.9,878.1 209.0,876.0 208.0,875.9 207.1,876.4 206.2,876.3 205.2,876.3 204.3,877.8 203.3,875.5 202.4,876.9 201.4,882.0 200.5,886.2 199.5,892.2 198.6,899.0 197.6,904.8 196.7,909.9 195.7,913.4 194.8,909.3 193.9,904.3 192.9,901.1 192.0,899.1 191.0,893.3 190.1,891.3 189.1,882.9 188.2,880.4 187.2,871.9 186.3,868.0 185.3,864.0 184.4,859.6 183.4,855.8 182.5,850.2 181.6,854.9 180.6,862.0 179.7,870.3 178.7,876.8 177.8,886.9 176.8,893.2 175.9,901.8 174.9,912.2 174.0,921.1 173.0,925.6 172.1,929.4 171.1,934.9 170.2,934.5 169.2,938.3 168.3,940.4 167.4,950.0 166.4,958.2 165.5,967.5 164.5,978.6 163.6,991.6 162.6,1002.4 161.7,1017.6 160.7,1025.6 159.8,1038.2 158.8,1051.8 157.9,1067.3 156.9,1076.8 156.0,1088.0" fill="#FF0000"/>
<path d="M156.0,1086.0 L156.9,1074.4 L157.9,1062.1 L158.8,1049.4 L159.8,1036.5 L160.7,1023.9 L161.7,1011.5 L162.6,999.8 L163.6,988.2 L164.5,976.8 L165.5,965.6 L166.4,954.8 L167.4,944.3 L168.3,937.8 L169.2,935.4 L170.2,932.8 L171.1,930.0 L172.1,927.3 L173.0,923.9 L174.0,918.5 L174.9,908.5 L175.9,899.3 L176.8,891.0 L177.8,883.0 L178.7,874.8 L179.7,866.7 L180.6,858.6 L181.6,850.4 L182.5,848.5 L183.4,853.1 L184.4,857.2 L185.3,861.1 L186.3,865.2 L187.2,870.0 L188.2,875.7 L189.1,881.2 L190.1,886.1 L191.0,890.5 L192.0,894.6 L192.9,898.6 L193.9,902.4 L194.8,906.3 L195.7,909.5 L196.7,905.1 L197.6,900.6 L198.6,895.3 L199.5,889.8 L200.5,884.3 L201.4,879.2 L202.4,874.7 M211.8,874.1 L212.8,877.1 L213.7,879.8 L214.7,882.6 L215.6,885.4 L216.6,888.6 L217.5,892.8 L218.5,896.4 M234.5,896.2 L235.5,898.3 L236.4,901.2 L237.4,904.5 L238.3,907.7 L239.3,910.5 L240.2,912.8 M259.2,917.0 L260.1,918.8 L261.0,921.1 L262.0,923.4 L262.9,925.3 M276.2,937.9 L277.1,939.5 L278.1,941.4 L279.0,943.1 M287.5,943.8 L288.5,945.5 L289.4,947.6 L290.4,949.6 L291.3,951.3 M311.2,961.3 L312.1,962.9 L313.1,964.9 L314.0,966.8 M333.9,970.8 L334.9,973.0 L335.8,975.6 L336.8,978.3 L337.7,980.7 L338.6,982.3 M413.4,1015.1 L414.4,1016.7 L415.3,1018.7 L416.2,1020.4 M436.1,1023.3 L437.1,1025.2 L438.0,1027.3 L439.0,1029.5 L439.9,1031.5 M440.8,1032.7 L441.8,1028.1 L442.7,1019.9 L443.7,1013.7 L444.6,1018.5 L445.6,1023.2 M451.3,1019.5 L452.2,1038.9 L453.2,1058.5 L454.1,1078.2 L455.0,1098.1 L456.0,1117.8 L456.9,1133.6 L457.9,1143.0 L458.8,1151.9 L459.8,1160.5 L460.7,1169.2 L461.7,1178.4 L462.6,1188.0 L463.6,1197.9 L464.5,1207.3 L465.5,1216.0 M467.3,1216.3 L468.3,1220.1 L469.2,1227.9 L470.2,1236.0 L471.1,1243.7 L472.1,1251.0 L473.0,1258.1 L474.0,1265.2 L474.9,1272.3 L475.9,1279.2 L476.8,1285.9 L477.8,1292.0 L478.7,1295.2 L479.6,1289.9 L480.6,1285.0 L481.5,1280.4 L482.5,1275.9 L483.4,1271.6 L484.4,1267.3 L485.3,1263.0 L486.3,1258.9 L487.2,1254.8 L488.2,1250.6 L489.1,1246.4 L490.1,1242.4 L491.0,1238.6 L491.9,1235.0 M492.9,1233.8 L493.8,1239.7 L494.8,1245.3 L495.7,1250.2 L496.7,1254.4 L497.6,1258.2 M537.4,1244.0 L538.3,1242.4 L539.3,1240.1 L540.2,1237.8 L541.2,1235.6 L542.1,1233.9 M736.1,1157.5 L737.1,1155.5 L738.0,1153.4 L738.9,1151.5" fill="none" stroke="#FF0000" stroke-width="2.0" stroke-linejoin="round"/>
<path d="M219.4,897.7 L220.4,899.5 M372.7,1000.0 L373.7,1001.6 M384.1,1005.6 L385.0,1007.2 L386.0,1009.1 M403.0,1012.3 L403.9,1014.1 L404.9,1015.9 M447.5,1022.8 L448.4,1020.8 L449.4,1018.6 M502.4,1261.2 L503.3,1262.9 L504.3,1264.5 M508.0,1264.5 L509.0,1263.0 M522.2,1254.6 L523.2,1253.0 L524.1,1251.4 M556.3,1227.0 L557.2,1225.5 M570.5,1216.9 L571.4,1215.4 M586.6,1209.4 L587.5,1207.7 L588.5,1206.0 M594.2,1201.3 L595.1,1199.7 M603.6,1198.8 L604.6,1196.9 L605.5,1194.9 M706.8,1165.7 L707.7,1164.1 M715.3,1164.0 L716.2,1162.3 L717.2,1160.6" fill="none" stroke="#FF0000" stroke-width="1.3" stroke-linejoin="round"/>
</g>
<rect x="156" y="740" width="591.7" height="591.8" fill="none" stroke="#000" stroke-width="1.6"/>
<path d="M156,1331.8L156,1323.3 M451.9,1331.8L451.9,1323.3 M747.7,1331.8L747.7,1323.3 M303.9,1331.8L303.9,1327.3 M599.8,1331.8L599.8,1327.3 M156,1331.8L164.5,1331.8 M156,1224.2L164.5,1224.2 M156,1116.6L164.5,1116.6 M156,1009L164.5,1009 M156,901.4L164.5,901.4 M156,793.8L164.5,793.8 M156,1278L160.5,1278 M156,1170.4L160.5,1170.4 M156,1062.8L160.5,1062.8 M156,955.2L160.5,955.2 M156,847.6L160.5,847.6" stroke="#000" stroke-width="1.5" fill="none"/>
<text x="72.42" y="1343.30" font-family="'Liberation Sans', Arial, sans-serif" font-weight="normal" font-style="normal" font-size="43.3" fill="#000" stroke="#000" stroke-width="0.5">-0.4</text>
<text x="73.29" y="1235.70" font-family="'Liberation Sans', Arial, sans-serif" font-weight="normal" font-style="normal" font-size="43.3" fill="#000" stroke="#000" stroke-width="0.5">-0.2</text>
<text x="86.93" y="1128.10" font-family="'Liberation Sans', Arial, sans-serif" font-weight="normal" font-style="normal" font-size="43.3" fill="#000" stroke="#000" stroke-width="0.5">0.0</text>
<text x="87.58" y="1020.50" font-family="'Liberation Sans', Arial, sans-serif" font-weight="normal" font-style="normal" font-size="43.3" fill="#000" stroke="#000" stroke-width="0.5">0.2</text>
<text x="86.71" y="912.90" font-family="'Liberation Sans', Arial, sans-serif" font-weight="normal" font-style="normal" font-size="43.3" fill="#000" stroke="#000" stroke-width="0.5">0.4</text>
<text x="87.14" y="805.30" font-family="'Liberation Sans', Arial, sans-serif" font-weight="normal" font-style="normal" font-size="43.3" fill="#000" stroke="#000" stroke-width="0.5">0.6</text>
<text x="125.80" y="1373.40" font-family="'Liberation Sans', Arial, sans-serif" font-weight="normal" font-style="normal" font-size="43.3" fill="#000" stroke="#000" stroke-width="0.5">0.0</text>
<text x="421.76" y="1373.40" font-family="'Liberation Sans', Arial, sans-serif" font-weight="normal" font-style="normal" font-size="43.3" fill="#000" stroke="#000" stroke-width="0.5">0.5</text>
<text x="716.74" y="1373.40" font-family="'Liberation Sans', Arial, sans-serif" font-weight="normal" font-style="normal" font-size="43.3" fill="#000" stroke="#000" stroke-width="0.5">1.0</text>
<text transform="matrix(0.51005 0 0 0.48128 176.94 801.89)" font-family="'Liberation Sans', Arial, sans-serif" font-weight="normal" font-style="normal" font-size="100" fill="#000" stroke="#000" stroke-width="1.009">(c)</text>
<text transform="matrix(0 -0.43025 0.40749 0 30.34 1167.72)" font-family="'Liberation Sans', Arial, sans-serif" font-weight="normal" font-style="normal" font-size="100" fill="#000" stroke="#000" stroke-width="1.194">Voltage [V]</text>
<text transform="matrix(0.42500 0 0 0.41390 365.15 1440.01)" font-family="'Liberation Sans', Arial, sans-serif" font-weight="normal" font-style="normal" font-size="100" fill="#000" stroke="#000" stroke-width="1.192">Time [<tspan font-family="'Liberation Serif', serif">µ</tspan>s]</text>
<line x1="160" y1="1098.1" x2="254.3" y2="1098.1" stroke="#C8C8C8" stroke-width="1.3" stroke-linecap="butt"/>
<text x="265.50" y="1112.80" font-family="'Liberation Sans', Arial, sans-serif" font-weight="normal" font-style="normal" font-size="42.5" fill="#000" stroke="#000" stroke-width="0.5">0.2V</text>
<line x1="160" y1="1150" x2="254.3" y2="1150" stroke="#E6D2EA" stroke-width="1.3" stroke-linecap="butt"/>
<text x="265.50" y="1164.65" font-family="'Liberation Sans', Arial, sans-serif" font-weight="normal" font-style="normal" font-size="42.5" fill="#000" stroke="#000" stroke-width="0.5">0.3V</text>
<line x1="160" y1="1202" x2="254.3" y2="1202" stroke="#E6E6D2" stroke-width="1.3" stroke-linecap="butt"/>
<text x="265.50" y="1216.50" font-family="'Liberation Sans', Arial, sans-serif" font-weight="normal" font-style="normal" font-size="42.5" fill="#000" stroke="#000" stroke-width="0.5">0.4V</text>
<line x1="160" y1="1253.9" x2="254.3" y2="1253.9" stroke="#C8C8F4" stroke-width="1.3" stroke-linecap="butt"/>
<text x="265.50" y="1268.35" font-family="'Liberation Sans', Arial, sans-serif" font-weight="normal" font-style="normal" font-size="42.5" fill="#000" stroke="#000" stroke-width="0.5">0.5V</text>
<line x1="160" y1="1305.9" x2="254.3" y2="1305.9" stroke="#E83030" stroke-width="1.3" stroke-linecap="butt"/>
<text x="265.50" y="1320.20" font-family="'Liberation Sans', Arial, sans-serif" font-weight="normal" font-style="normal" font-size="42.5" fill="#000" stroke="#000" stroke-width="0.5">0.6V</text>
<g clip-path="url(#cci)">
<polygon points="532.6,858.0 533.4,847.9 534.1,850.1 534.8,845.8 535.5,838.1 536.2,831.7 536.9,825.2 537.6,829.7 538.3,826.5 539.0,826.1 539.7,819.9 540.4,823.8 541.1,821.6 541.8,822.3 542.5,817.9 543.2,828.2 543.9,830.2 544.6,831.1 545.3,831.0 546.0,831.7 546.7,830.4 547.4,831.4 548.1,825.6 548.8,829.7 549.5,824.7 550.2,830.6 550.9,831.7 551.6,828.0 552.3,831.4 553.0,831.1 553.7,831.7 554.5,833.6 555.2,830.0 555.9,833.3 556.6,829.1 557.3,835.8 558.0,835.2 558.7,835.4 559.4,830.8 560.1,836.6 560.8,838.9 561.5,841.5 562.2,839.4 562.9,839.0 563.6,822.4 564.3,829.5 565.0,824.3 565.7,820.6 566.4,822.3 567.1,828.9 567.8,825.9 568.5,835.0 569.2,835.1 569.9,828.1 570.6,831.5 571.3,829.2 572.0,825.6 572.7,830.0 573.4,830.6 574.1,827.6 574.8,829.4 575.6,827.0 576.3,830.9 577.0,826.4 577.7,821.8 578.4,820.8 579.1,826.5 579.8,821.6 580.5,824.0 581.2,823.6 581.9,814.5 582.6,818.2 583.3,813.4 584.0,815.0 584.7,811.3 585.4,815.8 586.1,810.5 586.8,821.6 587.5,824.6 588.2,823.2 588.9,814.9 589.6,816.2 590.3,814.7 591.0,809.3 591.7,809.5 592.4,800.8 593.1,805.9 593.8,802.7 594.5,802.6 595.2,804.4 595.9,806.0 596.7,807.8 597.4,804.3 598.1,801.9 598.8,804.4 599.5,806.0 600.2,804.8 600.9,806.0 601.6,808.6 602.3,812.8 603.0,810.5 603.7,805.7 604.4,801.2 605.1,804.3 605.8,805.3 606.5,806.0 607.2,803.4 607.9,810.2 608.6,811.5 609.3,804.8 610.0,801.2 610.7,804.9 611.4,805.7 612.1,803.8 612.8,799.2 613.5,804.0 614.2,804.7 614.9,801.3 615.6,799.3 616.3,800.4 617.0,800.8 617.8,796.5 618.5,799.2 619.2,800.0 619.9,799.9 620.6,800.4 621.3,797.9 622.0,802.1 622.7,803.3 623.4,801.3 624.1,800.3 624.8,794.7 625.5,783.0 626.2,791.8 626.9,790.0 627.6,789.0 628.3,798.3 629.0,799.8 629.7,799.4 630.4,803.0 631.1,798.6 631.8,793.7 632.5,796.3 633.2,785.5 633.9,790.7 634.6,789.4 635.3,796.4 636.0,794.2 636.7,792.6 637.4,792.1 638.1,785.4 638.9,779.4 639.6,774.1 640.3,777.1 641.0,778.2 641.7,770.4 642.4,775.7 643.1,773.5 643.8,773.3 644.5,776.6 645.2,780.7 645.9,782.7 646.6,784.1 647.3,778.2 648.0,783.3 648.7,781.0 649.4,779.0 650.1,772.1 650.8,773.5 651.5,775.6 652.2,776.4 652.9,779.2 653.6,779.4 654.3,779.6 655.0,782.5 655.7,780.9 656.4,786.7 657.1,775.1 657.8,779.9 658.5,778.6 659.2,780.3 660.0,775.4 660.7,771.5 661.4,775.0 662.1,777.8 662.8,774.4 663.5,780.9 664.2,770.4 664.9,778.0 665.6,781.6 666.3,783.2 667.0,778.8 667.7,779.2 668.4,774.2 669.1,782.5 669.8,779.9 670.5,776.2 671.2,781.6 671.9,776.8 672.6,769.7 673.3,773.8 674.0,775.7 674.7,770.4 675.4,767.2 676.1,774.9 676.8,774.2 677.5,774.1 678.2,769.6 678.9,765.9 679.6,769.7 680.3,769.1 681.0,762.8 681.8,767.2 682.5,772.1 683.2,765.1 683.9,772.3 684.6,773.2 685.3,767.8 686.0,770.2 686.7,776.1 687.4,773.0 688.1,768.4 688.8,768.1 689.5,772.7 690.2,769.3 690.9,769.3 691.6,764.6 692.3,769.6 693.0,767.4 693.7,769.2 694.4,762.4 695.1,755.5 695.8,764.1 696.5,758.1 697.2,759.5 697.9,760.4 698.6,761.6 699.3,756.4 700.0,755.1 700.7,762.9 701.4,769.4 702.1,764.5 702.9,772.1 703.6,770.4 704.3,773.7 705.0,772.1 705.7,774.1 706.4,770.4 707.1,769.1 707.8,769.6 708.5,770.8 709.2,768.8 709.9,760.9 710.6,755.2 711.3,760.5 712.0,759.8 712.7,753.9 713.4,756.7 714.1,753.0 714.8,754.3 715.5,751.8 716.2,755.2 716.9,752.8 717.6,758.2 718.3,760.0 719.0,758.5 719.7,759.0 720.4,761.8 721.1,759.9 721.8,761.8 722.5,762.6 723.2,766.0 724.0,760.5 724.7,755.5 725.4,761.6 726.1,762.2 726.8,759.8 727.5,758.9 728.2,760.6 728.9,764.9 729.6,764.8 730.3,763.4 731.0,762.8 731.7,760.5 732.4,756.8 733.1,757.0 733.8,750.3 734.5,753.0 735.2,752.6 735.9,752.9 736.6,744.6 737.3,746.7 738.0,750.7 738.7,755.0 739.4,751.5 740.1,747.7 740.8,746.6 741.5,750.0 742.2,752.6 742.9,754.4 742.9,764.3 742.2,761.6 741.5,764.1 740.8,761.2 740.1,763.9 739.4,764.2 738.7,770.3 738.0,763.9 737.3,764.7 736.6,769.9 735.9,763.8 735.2,771.3 734.5,773.2 733.8,769.1 733.1,770.7 732.4,774.1 731.7,777.5 731.0,776.4 730.3,781.3 729.6,773.6 728.9,780.4 728.2,779.8 727.5,774.8 726.8,780.0 726.1,772.5 725.4,782.3 724.7,776.2 724.0,782.2 723.2,775.6 722.5,774.6 721.8,772.7 721.1,777.1 720.4,780.5 719.7,770.6 719.0,768.7 718.3,769.3 717.6,768.7 716.9,765.5 716.2,765.3 715.5,768.5 714.8,766.4 714.1,774.8 713.4,771.7 712.7,769.6 712.0,773.0 711.3,772.9 710.6,774.5 709.9,777.4 709.2,781.9 708.5,781.5 707.8,785.8 707.1,785.4 706.4,787.4 705.7,793.7 705.0,793.7 704.3,790.7 703.6,793.6 702.9,785.3 702.1,782.4 701.4,777.3 700.7,780.1 700.0,775.8 699.3,774.9 698.6,773.0 697.9,780.7 697.2,775.0 696.5,777.2 695.8,774.3 695.1,777.7 694.4,778.6 693.7,782.8 693.0,779.3 692.3,785.0 691.6,781.8 690.9,784.8 690.2,782.2 689.5,783.1 688.8,788.3 688.1,795.1 687.4,784.9 686.7,786.8 686.0,786.0 685.3,784.1 684.6,783.0 683.9,787.4 683.2,787.0 682.5,782.6 681.8,781.5 681.0,783.7 680.3,782.1 679.6,781.8 678.9,784.4 678.2,784.5 677.5,790.9 676.8,786.8 676.1,784.9 675.4,791.6 674.7,791.3 674.0,786.9 673.3,788.8 672.6,787.8 671.9,791.8 671.2,794.7 670.5,790.0 669.8,796.5 669.1,798.7 668.4,793.8 667.7,795.3 667.0,794.0 666.3,805.8 665.6,799.6 664.9,794.4 664.2,799.2 663.5,794.3 662.8,789.7 662.1,785.6 661.4,788.2 660.7,795.8 660.0,794.0 659.2,797.3 658.5,794.4 657.8,795.1 657.1,808.0 656.4,803.1 655.7,797.7 655.0,808.2 654.3,799.0 653.6,795.0 652.9,791.7 652.2,789.7 651.5,800.5 650.8,787.7 650.1,790.9 649.4,797.1 648.7,794.9 648.0,797.7 647.3,796.7 646.6,801.1 645.9,803.2 645.2,799.8 644.5,796.7 643.8,803.2 643.1,791.2 642.4,791.7 641.7,788.4 641.0,792.4 640.3,794.3 639.6,793.8 638.9,798.9 638.1,807.3 637.4,804.4 636.7,802.4 636.0,807.5 635.3,805.7 634.6,808.2 633.9,804.7 633.2,808.6 632.5,808.1 631.8,809.9 631.1,816.7 630.4,812.3 629.7,811.7 629.0,814.2 628.3,814.8 627.6,809.5 626.9,801.8 626.2,807.4 625.5,804.1 624.8,808.5 624.1,822.0 623.4,819.5 622.7,825.3 622.0,813.9 621.3,810.0 620.6,810.2 619.9,808.2 619.2,816.6 618.5,816.3 617.8,810.6 617.0,810.6 616.3,811.5 615.6,813.1 614.9,814.5 614.2,818.4 613.5,816.8 612.8,818.5 612.1,820.7 611.4,817.4 610.7,815.5 610.0,821.8 609.3,823.8 608.6,830.7 607.9,823.2 607.2,820.1 606.5,818.5 605.8,816.0 605.1,823.7 604.4,823.7 603.7,818.0 603.0,826.4 602.3,821.4 601.6,825.9 600.9,829.4 600.2,822.7 599.5,819.1 598.8,817.3 598.1,819.6 597.4,820.0 596.7,822.1 595.9,816.6 595.2,816.6 594.5,818.2 593.8,825.2 593.1,817.4 592.4,815.2 591.7,817.3 591.0,827.3 590.3,827.2 589.6,830.7 588.9,833.2 588.2,843.6 587.5,834.4 586.8,834.0 586.1,831.9 585.4,833.6 584.7,832.9 584.0,828.4 583.3,828.0 582.6,831.8 581.9,832.0 581.2,840.5 580.5,836.7 579.8,837.4 579.1,839.1 578.4,843.8 577.7,837.5 577.0,841.5 576.3,841.1 575.6,842.9 574.8,841.7 574.1,844.2 573.4,840.9 572.7,841.0 572.0,842.4 571.3,845.0 570.6,844.1 569.9,845.6 569.2,845.0 568.5,844.3 567.8,845.4 567.1,844.2 566.4,840.2 565.7,845.0 565.0,840.1 564.3,841.8 563.6,847.5 562.9,856.9 562.2,849.5 561.5,861.0 560.8,850.9 560.1,847.9 559.4,846.9 558.7,845.8 558.0,848.5 557.3,851.6 556.6,847.6 555.9,849.4 555.2,850.0 554.5,848.9 553.7,850.8 553.0,843.1 552.3,846.1 551.6,844.2 550.9,847.8 550.2,842.3 549.5,843.2 548.8,843.0 548.1,841.8 547.4,838.8 546.7,843.4 546.0,845.1 545.3,844.4 544.6,847.2 543.9,846.5 543.2,840.4 542.5,850.5 541.8,838.8 541.1,846.4 540.4,838.4 539.7,838.8 539.0,847.9 538.3,848.5 537.6,840.9 536.9,846.7 536.2,847.3 535.5,852.8 534.8,855.0 534.1,862.4 533.4,863.8 532.6,870.6" fill="#AAAAAA" fill-opacity="0.8"/>
<path d="M532.6,863.3 L533.4,860.1 L534.1,855.6 L534.8,850.3 L535.5,845.0 L536.2,840.5 L536.9,837.3 L537.6,835.6 M562.2,845.4 L562.9,843.3 L563.6,839.5 L564.3,835.1 L565.0,831.4 M565.7,830.2 L566.4,831.7 L567.1,834.8 L567.8,837.7 L568.5,839.3 M580.5,829.7 L581.2,828.1 L581.9,826.0 L582.6,823.9 L583.3,822.3 M584.7,822.3 L585.4,824.1 L586.1,826.2 L586.8,827.8 M588.2,828.0 L588.9,826.4 L589.6,823.8 L590.3,820.4 L591.0,816.6 L591.7,813.2 L592.4,810.8 M605.8,810.0 L606.5,811.5 L607.2,813.7 L607.9,815.3 M623.4,809.2 L624.1,806.5 L624.8,802.7 L625.5,799.1 L626.2,797.1 M626.9,797.3 L627.6,799.6 L628.3,802.9 L629.0,805.9 L629.7,807.6 M630.4,807.6 L631.1,806.1 L631.8,803.9 L632.5,802.0 M636.7,798.7 L637.4,796.5 L638.1,793.7 L638.9,790.6 L639.6,787.5 L640.3,785.0 L641.0,782.9 M642.4,781.9 L643.1,783.5 L643.8,785.9 L644.5,788.4 L645.2,790.4 M652.2,784.4 L652.9,786.4 L653.6,788.8 L654.3,790.9 M658.5,789.0 L659.2,787.4 L660.0,785.5 L660.7,783.4 L661.4,781.9 M662.8,782.7 L663.5,784.7 L664.2,786.9 L664.9,788.6 M700.7,771.7 L701.4,773.6 L702.1,775.6 L702.9,777.6 L703.6,779.4 M706.4,780.5 L707.1,778.5 L707.8,776.5 L708.5,774.7 L709.2,773.1 L709.9,771.4 L710.6,769.6 L711.3,767.8" fill="none" stroke="#AAAAAA" stroke-width="2.5" stroke-linejoin="round"/>
<path d="M560.1,842.9 L560.8,844.5 M569.9,837.7 L570.6,836.1 M603.0,815.9 L603.7,813.7 L604.4,811.3 M609.3,815.1 L610.0,813.5 L610.7,811.8 M620.6,804.5 L621.3,806.1 L622.0,808.2 M647.3,789.7 L648.0,787.5 L648.7,785.5 M671.9,784.9 L672.6,783.3 L673.3,781.6 M678.2,780.5 L678.9,778.8 L679.6,777.3 M689.5,778.4 L690.2,776.8 L690.9,775.3 M733.1,764.6 L733.8,763.0 L734.5,761.4 M742.2,757.8 L742.9,759.8" fill="none" stroke="#AAAAAA" stroke-width="1.3" stroke-linejoin="round"/>
<polygon points="532.6,886.4 533.4,880.8 534.1,882.3 534.8,876.0 535.5,876.3 536.2,872.2 536.9,869.7 537.6,876.3 538.3,872.5 539.0,874.4 539.7,873.2 540.4,868.3 541.1,871.6 541.8,875.1 542.5,883.9 543.2,884.7 543.9,883.1 544.6,888.8 545.3,891.9 546.0,894.7 546.7,889.1 547.4,894.8 548.1,896.9 548.8,897.4 549.5,899.6 550.2,902.7 550.9,903.4 551.6,895.9 552.3,904.0 553.0,904.4 553.7,905.5 554.5,909.1 555.2,910.8 555.9,911.7 556.6,915.2 557.3,906.4 558.0,911.4 558.7,906.5 559.4,907.8 560.1,906.4 560.8,907.3 561.5,904.1 562.2,906.9 562.9,900.4 563.6,894.8 564.3,905.8 565.0,904.9 565.7,901.1 566.4,901.8 567.1,895.1 567.8,895.4 568.5,889.8 569.2,881.8 569.9,894.6 570.6,894.3 571.3,893.7 572.0,884.8 572.7,889.5 573.4,893.5 574.1,896.5 574.8,888.7 575.6,890.9 576.3,899.4 577.0,899.6 577.7,898.9 578.4,897.1 579.1,895.8 579.8,886.4 580.5,887.2 581.2,883.2 581.9,884.7 582.6,884.3 583.3,887.8 584.0,883.6 584.7,887.3 585.4,879.6 586.1,882.4 586.8,872.2 587.5,869.0 588.2,874.1 588.9,871.0 589.6,866.2 590.3,871.9 591.0,873.0 591.7,871.6 592.4,876.8 593.1,873.9 593.8,881.8 594.5,874.6 595.2,875.2 595.9,870.7 596.7,874.0 597.4,866.9 598.1,868.7 598.8,864.7 599.5,867.5 600.2,866.7 600.9,868.8 601.6,862.8 602.3,865.8 603.0,864.4 603.7,866.1 604.4,866.5 605.1,862.5 605.8,860.4 606.5,851.9 607.2,863.1 607.9,863.2 608.6,860.2 609.3,856.4 610.0,856.3 610.7,858.4 611.4,852.9 612.1,850.1 612.8,855.4 613.5,848.9 614.2,852.7 614.9,856.7 615.6,852.7 616.3,846.4 617.0,838.0 617.8,840.5 618.5,843.9 619.2,841.8 619.9,842.0 620.6,840.4 621.3,837.5 622.0,838.9 622.7,843.5 623.4,846.2 624.1,846.8 624.8,846.8 625.5,844.4 626.2,847.1 626.9,844.9 627.6,849.8 628.3,845.5 629.0,846.5 629.7,843.2 630.4,834.5 631.1,836.2 631.8,836.7 632.5,839.6 633.2,839.1 633.9,843.2 634.6,842.2 635.3,845.1 636.0,845.8 636.7,839.6 637.4,835.9 638.1,839.3 638.9,838.5 639.6,837.7 640.3,838.8 641.0,831.1 641.7,834.0 642.4,835.0 643.1,831.6 643.8,828.0 644.5,827.5 645.2,823.9 645.9,824.7 646.6,816.1 647.3,822.5 648.0,814.2 648.7,822.4 649.4,825.8 650.1,826.2 650.8,825.0 651.5,823.7 652.2,817.1 652.9,822.8 653.6,821.0 654.3,810.9 655.0,823.3 655.7,816.3 656.4,826.7 657.1,824.6 657.8,821.8 658.5,822.7 659.2,830.9 660.0,832.0 660.7,822.7 661.4,824.1 662.1,817.8 662.8,816.9 663.5,813.5 664.2,814.9 664.9,820.0 665.6,817.7 666.3,817.2 667.0,825.6 667.7,823.7 668.4,820.3 669.1,825.1 669.8,820.6 670.5,821.7 671.2,821.2 671.9,816.7 672.6,820.1 673.3,819.6 674.0,814.9 674.7,806.5 675.4,818.2 676.1,815.3 676.8,817.0 677.5,811.5 678.2,817.1 678.9,812.5 679.6,814.2 680.3,817.3 681.0,817.5 681.8,818.0 682.5,814.7 683.2,810.8 683.9,814.1 684.6,814.8 685.3,810.1 686.0,807.0 686.7,804.1 687.4,810.5 688.1,806.6 688.8,811.3 689.5,813.7 690.2,813.8 690.9,810.3 691.6,810.2 692.3,808.0 693.0,797.8 693.7,797.3 694.4,796.1 695.1,801.4 695.8,804.3 696.5,805.7 697.2,803.9 697.9,805.8 698.6,802.9 699.3,804.7 700.0,808.7 700.7,795.7 701.4,794.1 702.1,796.4 702.9,795.9 703.6,793.0 704.3,789.8 705.0,793.4 705.7,796.9 706.4,797.2 707.1,791.8 707.8,792.6 708.5,790.3 709.2,784.1 709.9,790.0 710.6,780.8 711.3,787.1 712.0,792.2 712.7,787.3 713.4,794.8 714.1,785.5 714.8,792.1 715.5,792.0 716.2,782.1 716.9,790.3 717.6,788.4 718.3,776.1 719.0,787.8 719.7,781.2 720.4,781.1 721.1,786.3 721.8,794.9 722.5,791.5 723.2,793.3 724.0,789.9 724.7,793.4 725.4,783.9 726.1,782.1 726.8,788.9 727.5,788.8 728.2,791.0 728.9,793.0 729.6,790.8 730.3,786.2 731.0,789.1 731.7,784.3 732.4,782.6 733.1,780.3 733.8,777.9 734.5,782.2 735.2,784.8 735.9,783.3 736.6,779.4 737.3,781.7 738.0,783.4 738.7,773.8 739.4,783.5 740.1,779.6 740.8,775.8 741.5,772.6 742.2,771.4 742.9,775.4 742.9,798.0 742.2,792.2 741.5,791.5 740.8,793.4 740.1,796.6 739.4,795.9 738.7,792.8 738.0,792.3 737.3,793.0 736.6,803.7 735.9,796.2 735.2,796.8 734.5,800.8 733.8,798.4 733.1,802.3 732.4,796.3 731.7,800.2 731.0,807.8 730.3,808.7 729.6,803.4 728.9,802.6 728.2,801.1 727.5,800.1 726.8,800.2 726.1,809.4 725.4,807.3 724.7,802.5 724.0,808.6 723.2,812.6 722.5,804.4 721.8,805.8 721.1,801.5 720.4,803.3 719.7,800.3 719.0,797.5 718.3,797.5 717.6,801.3 716.9,802.6 716.2,804.9 715.5,801.0 714.8,806.2 714.1,806.6 713.4,803.5 712.7,806.2 712.0,804.1 711.3,802.5 710.6,804.4 709.9,802.3 709.2,801.0 708.5,801.8 707.8,800.8 707.1,803.2 706.4,808.8 705.7,811.3 705.0,811.9 704.3,806.5 703.6,806.9 702.9,805.3 702.1,812.1 701.4,814.5 700.7,818.1 700.0,818.1 699.3,825.0 698.6,824.5 697.9,817.1 697.2,821.7 696.5,817.7 695.8,820.1 695.1,814.4 694.4,814.0 693.7,819.1 693.0,821.0 692.3,822.7 691.6,823.7 690.9,826.0 690.2,824.8 689.5,825.4 688.8,827.4 688.1,824.1 687.4,824.2 686.7,821.6 686.0,825.8 685.3,824.1 684.6,826.1 683.9,825.9 683.2,832.6 682.5,834.5 681.8,826.6 681.0,833.5 680.3,825.0 679.6,828.9 678.9,830.1 678.2,828.7 677.5,831.6 676.8,828.4 676.1,830.3 675.4,834.1 674.7,828.9 674.0,826.4 673.3,829.4 672.6,828.9 671.9,833.5 671.2,834.4 670.5,836.1 669.8,834.4 669.1,840.6 668.4,835.8 667.7,836.9 667.0,836.1 666.3,832.4 665.6,834.1 664.9,837.9 664.2,838.7 663.5,834.2 662.8,838.7 662.1,834.1 661.4,834.0 660.7,838.7 660.0,842.5 659.2,846.2 658.5,844.7 657.8,842.6 657.1,843.1 656.4,840.3 655.7,833.6 655.0,837.5 654.3,832.8 653.6,834.1 652.9,837.3 652.2,836.0 651.5,843.0 650.8,835.9 650.1,835.7 649.4,836.6 648.7,835.4 648.0,833.3 647.3,833.8 646.6,834.1 645.9,834.1 645.2,836.7 644.5,841.9 643.8,842.7 643.1,848.2 642.4,847.9 641.7,846.3 641.0,850.5 640.3,856.4 639.6,850.8 638.9,856.8 638.1,851.0 637.4,853.6 636.7,855.8 636.0,854.9 635.3,858.4 634.6,854.4 633.9,852.2 633.2,849.6 632.5,850.9 631.8,857.6 631.1,852.9 630.4,859.6 629.7,858.8 629.0,863.4 628.3,863.4 627.6,862.6 626.9,864.5 626.2,861.7 625.5,857.4 624.8,862.6 624.1,861.2 623.4,862.3 622.7,862.6 622.0,861.8 621.3,853.9 620.6,856.0 619.9,854.5 619.2,851.9 618.5,852.8 617.8,857.3 617.0,867.9 616.3,863.0 615.6,867.2 614.9,866.4 614.2,871.3 613.5,870.1 612.8,869.2 612.1,872.3 611.4,868.9 610.7,870.1 610.0,869.0 609.3,876.1 608.6,884.6 607.9,873.7 607.2,878.1 606.5,878.7 605.8,884.7 605.1,876.6 604.4,880.8 603.7,881.0 603.0,883.2 602.3,880.5 601.6,881.3 600.9,885.4 600.2,880.3 599.5,878.3 598.8,886.0 598.1,884.6 597.4,881.7 596.7,884.4 595.9,894.1 595.2,887.1 594.5,889.1 593.8,895.7 593.1,892.5 592.4,890.3 591.7,892.6 591.0,889.9 590.3,884.6 589.6,885.1 588.9,887.1 588.2,886.0 587.5,888.7 586.8,899.8 586.1,894.9 585.4,896.3 584.7,898.4 584.0,899.1 583.3,901.1 582.6,896.0 581.9,896.6 581.2,896.0 580.5,905.2 579.8,900.8 579.1,906.0 578.4,907.0 577.7,911.2 577.0,920.5 576.3,911.1 575.6,906.4 574.8,916.4 574.1,905.2 573.4,910.4 572.7,906.7 572.0,903.2 571.3,903.5 570.6,904.3 569.9,906.0 569.2,906.0 568.5,910.2 567.8,909.0 567.1,911.4 566.4,914.9 565.7,916.4 565.0,920.0 564.3,921.5 563.6,918.7 562.9,917.9 562.2,921.1 561.5,918.6 560.8,917.8 560.1,921.1 559.4,919.5 558.7,917.6 558.0,920.8 557.3,929.6 556.6,931.8 555.9,924.1 555.2,927.0 554.5,924.6 553.7,924.0 553.0,918.5 552.3,915.8 551.6,915.3 550.9,922.0 550.2,915.4 549.5,917.2 548.8,909.9 548.1,908.5 547.4,908.1 546.7,906.8 546.0,902.3 545.3,906.8 544.6,899.8 543.9,898.9 543.2,901.0 542.5,895.5 541.8,889.3 541.1,892.9 540.4,891.4 539.7,884.3 539.0,884.2 538.3,887.1 537.6,887.2 536.9,886.8 536.2,887.1 535.5,886.2 534.8,887.6 534.1,894.9 533.4,896.4 532.6,897.8" fill="#D6AEDD" fill-opacity="0.8"/>
<path d="M532.6,893.7 L533.4,890.2 L534.1,886.8 L534.8,883.7 L535.5,881.0 M540.4,880.5 L541.1,882.0 L541.8,884.6 L542.5,887.6 L543.2,890.6 L543.9,893.2 L544.6,895.5 L545.3,897.3 M553.0,910.2 L553.7,912.1 L554.5,914.7 L555.2,917.4 L555.9,919.1 M557.3,918.3 L558.0,915.9 L558.7,913.5 L559.4,911.8 M567.8,905.2 L568.5,903.7 L569.2,901.6 L569.9,899.5 M578.4,902.7 L579.1,900.1 L579.8,896.8 L580.5,893.8 L581.2,891.9 M585.4,891.5 L586.1,890.0 L586.8,887.7 L587.5,884.6 L588.2,881.5 L588.9,879.4 M590.3,879.6 L591.0,881.6 L591.7,884.1 L592.4,886.4 M593.8,886.8 L594.5,885.0 L595.2,883.2 L595.9,881.2 L596.7,878.8 L597.4,876.5 L598.1,874.7 M613.5,864.9 L614.2,863.3 L614.9,860.8 L615.6,857.9 L616.3,855.1 L617.0,852.6 L617.8,850.5 L618.5,848.7 M629.0,853.1 L629.7,851.1 L630.4,848.6 L631.1,846.4 M641.7,842.5 L642.4,840.8 L643.1,838.4 L643.8,835.5 L644.5,832.7 L645.2,830.3 L645.9,828.6 M655.0,827.2 L655.7,829.3 L656.4,831.6 L657.1,834.1 L657.8,836.4 L658.5,838.0 M659.2,838.1 L660.0,836.6 L660.7,833.7 L661.4,830.2 L662.1,827.2 L662.8,825.3 M683.2,822.6 L683.9,821.0 L684.6,819.0 L685.3,817.2 M690.2,818.4 L690.9,816.9 L691.6,815.0 L692.3,813.1 L693.0,811.5 M700.0,813.4 L700.7,811.2 L701.4,807.7 L702.1,804.0 L702.9,801.1 M706.4,801.0 L707.1,798.9 L707.8,796.6 L708.5,794.9 M724.0,799.7 L724.7,798.1 L725.4,795.9 L726.1,794.2" fill="none" stroke="#D6AEDD" stroke-width="2.5" stroke-linejoin="round"/>
<path d="M548.1,901.4 L548.8,903.3 L549.5,905.1 M607.9,868.5 L608.6,866.8 L609.3,865.0 M621.3,848.0 L622.0,849.8 L622.7,851.6 M633.2,845.8 L633.9,847.6 L634.6,849.2 M648.7,829.0 L649.4,830.6 M651.5,830.8 L652.2,828.7 L652.9,826.6 M720.4,794.8 L721.1,796.9 L721.8,799.1 M734.5,792.1 L735.2,790.3 L735.9,788.4 M740.8,788.0 L741.5,786.1 L742.2,784.1" fill="none" stroke="#D6AEDD" stroke-width="1.3" stroke-linejoin="round"/>
<polygon points="532.6,975.5 533.4,961.4 534.1,961.8 534.8,950.8 535.5,937.2 536.2,927.7 536.9,934.8 537.6,932.0 538.3,933.7 539.0,939.5 539.7,945.5 540.4,947.9 541.1,950.2 541.8,955.6 542.5,954.5 543.2,955.8 543.9,956.6 544.6,958.3 545.3,963.5 546.0,964.7 546.7,970.4 547.4,969.8 548.1,969.4 548.8,969.9 549.5,964.8 550.2,966.8 550.9,964.1 551.6,965.9 552.3,963.8 553.0,964.0 553.7,964.5 554.5,962.8 555.2,958.9 555.9,967.4 556.6,966.4 557.3,971.5 558.0,974.5 558.7,976.2 559.4,975.7 560.1,974.2 560.8,973.2 561.5,971.6 562.2,960.8 562.9,960.5 563.6,967.4 564.3,964.3 565.0,967.3 565.7,957.5 566.4,966.5 567.1,965.5 567.8,965.4 568.5,966.1 569.2,965.5 569.9,965.2 570.6,957.2 571.3,959.1 572.0,958.7 572.7,958.5 573.4,948.5 574.1,949.9 574.8,948.6 575.6,947.1 576.3,949.0 577.0,944.9 577.7,953.8 578.4,957.6 579.1,954.3 579.8,953.3 580.5,952.0 581.2,950.9 581.9,951.7 582.6,944.6 583.3,945.6 584.0,940.8 584.7,941.7 585.4,942.6 586.1,940.5 586.8,936.7 587.5,926.5 588.2,922.6 588.9,922.2 589.6,927.2 590.3,926.0 591.0,929.9 591.7,926.6 592.4,926.9 593.1,925.8 593.8,930.0 594.5,919.8 595.2,927.2 595.9,924.1 596.7,920.8 597.4,919.5 598.1,920.3 598.8,919.9 599.5,915.3 600.2,913.8 600.9,916.2 601.6,916.7 602.3,918.5 603.0,919.7 603.7,913.8 604.4,919.6 605.1,916.7 605.8,920.0 606.5,919.1 607.2,920.1 607.9,912.1 608.6,917.2 609.3,908.2 610.0,913.1 610.7,909.7 611.4,911.5 612.1,910.9 612.8,907.6 613.5,898.8 614.2,906.5 614.9,903.0 615.6,897.5 616.3,899.7 617.0,892.5 617.8,895.0 618.5,889.6 619.2,894.7 619.9,890.8 620.6,892.4 621.3,881.4 622.0,883.0 622.7,887.7 623.4,888.9 624.1,875.8 624.8,886.5 625.5,889.9 626.2,887.8 626.9,891.5 627.6,890.7 628.3,889.3 629.0,885.5 629.7,879.6 630.4,886.2 631.1,882.5 631.8,884.3 632.5,883.1 633.2,876.5 633.9,884.0 634.6,879.4 635.3,883.0 636.0,880.3 636.7,883.3 637.4,883.7 638.1,875.1 638.9,882.4 639.6,872.5 640.3,866.7 641.0,865.8 641.7,863.0 642.4,859.2 643.1,864.3 643.8,863.9 644.5,863.0 645.2,864.0 645.9,860.0 646.6,857.1 647.3,865.7 648.0,865.3 648.7,861.5 649.4,865.1 650.1,859.6 650.8,865.5 651.5,861.7 652.2,858.7 652.9,862.9 653.6,854.2 654.3,860.1 655.0,862.4 655.7,855.4 656.4,850.3 657.1,853.2 657.8,857.1 658.5,858.5 659.2,859.6 660.0,852.8 660.7,848.9 661.4,852.0 662.1,854.4 662.8,845.8 663.5,851.7 664.2,849.9 664.9,849.3 665.6,850.3 666.3,851.9 667.0,852.7 667.7,850.1 668.4,850.1 669.1,846.1 669.8,848.6 670.5,847.6 671.2,841.5 671.9,849.0 672.6,844.6 673.3,842.9 674.0,840.1 674.7,831.4 675.4,831.9 676.1,834.2 676.8,822.1 677.5,836.8 678.2,832.1 678.9,841.1 679.6,844.2 680.3,842.6 681.0,843.5 681.8,841.0 682.5,841.0 683.2,841.0 683.9,832.7 684.6,838.8 685.3,842.2 686.0,844.4 686.7,824.9 687.4,836.8 688.1,837.1 688.8,837.6 689.5,832.2 690.2,826.7 690.9,836.7 691.6,833.9 692.3,837.7 693.0,834.4 693.7,829.9 694.4,834.3 695.1,829.8 695.8,829.9 696.5,825.8 697.2,819.9 697.9,830.4 698.6,826.5 699.3,830.8 700.0,825.2 700.7,828.6 701.4,822.0 702.1,826.1 702.9,824.5 703.6,816.8 704.3,813.8 705.0,820.2 705.7,818.7 706.4,816.0 707.1,812.4 707.8,815.5 708.5,816.6 709.2,817.3 709.9,816.2 710.6,811.4 711.3,815.1 712.0,810.6 712.7,817.5 713.4,817.4 714.1,813.8 714.8,810.2 715.5,811.4 716.2,812.2 716.9,811.5 717.6,810.2 718.3,800.6 719.0,808.5 719.7,807.7 720.4,810.4 721.1,814.8 721.8,815.2 722.5,811.2 723.2,812.2 724.0,810.3 724.7,808.4 725.4,804.7 726.1,797.6 726.8,803.8 727.5,796.7 728.2,801.1 728.9,803.2 729.6,794.2 730.3,796.3 731.0,796.8 731.7,795.6 732.4,794.8 733.1,793.6 733.8,782.2 734.5,789.2 735.2,792.5 735.9,793.9 736.6,792.5 737.3,794.2 738.0,789.6 738.7,794.0 739.4,783.2 740.1,792.8 740.8,791.0 741.5,798.8 742.2,799.1 742.9,797.6 742.9,812.3 742.2,811.4 741.5,813.8 740.8,809.7 740.1,804.1 739.4,805.8 738.7,805.7 738.0,803.6 737.3,803.6 736.6,810.3 735.9,814.9 735.2,815.6 734.5,815.2 733.8,815.8 733.1,807.0 732.4,804.9 731.7,806.0 731.0,806.5 730.3,814.9 729.6,818.2 728.9,814.1 728.2,814.9 727.5,812.8 726.8,815.3 726.1,821.0 725.4,816.9 724.7,820.8 724.0,820.1 723.2,825.9 722.5,823.6 721.8,823.6 721.1,823.1 720.4,821.8 719.7,821.6 719.0,820.0 718.3,821.8 717.6,820.6 716.9,823.9 716.2,831.5 715.5,822.9 714.8,834.5 714.1,827.8 713.4,829.5 712.7,826.5 712.0,828.2 711.3,828.9 710.6,831.2 709.9,827.4 709.2,826.3 708.5,832.5 707.8,836.4 707.1,828.9 706.4,832.5 705.7,830.5 705.0,833.2 704.3,836.8 703.6,838.6 702.9,832.6 702.1,835.4 701.4,836.9 700.7,844.4 700.0,839.0 699.3,843.8 698.6,839.2 697.9,843.3 697.2,848.3 696.5,843.6 695.8,840.5 695.1,850.6 694.4,844.9 693.7,849.7 693.0,853.2 692.3,851.8 691.6,847.4 690.9,846.4 690.2,853.7 689.5,847.2 688.8,850.9 688.1,853.4 687.4,855.2 686.7,854.6 686.0,856.3 685.3,857.3 684.6,852.6 683.9,849.6 683.2,852.9 682.5,853.8 681.8,854.2 681.0,854.9 680.3,856.1 679.6,852.3 678.9,854.9 678.2,849.9 677.5,847.7 676.8,844.8 676.1,850.0 675.4,847.7 674.7,847.6 674.0,854.3 673.3,854.1 672.6,866.8 671.9,865.8 671.2,860.2 670.5,862.4 669.8,870.8 669.1,870.2 668.4,864.1 667.7,863.6 667.0,865.6 666.3,862.0 665.6,862.3 664.9,859.7 664.2,866.3 663.5,866.8 662.8,864.3 662.1,863.6 661.4,868.2 660.7,873.0 660.0,873.1 659.2,876.8 658.5,870.7 657.8,868.6 657.1,871.4 656.4,870.6 655.7,885.7 655.0,880.2 654.3,874.4 653.6,869.9 652.9,875.5 652.2,883.7 651.5,875.2 650.8,878.2 650.1,880.7 649.4,881.5 648.7,877.5 648.0,887.7 647.3,884.1 646.6,874.8 645.9,873.7 645.2,879.8 644.5,874.8 643.8,872.4 643.1,884.0 642.4,879.2 641.7,878.0 641.0,881.1 640.3,890.8 639.6,892.6 638.9,893.0 638.1,892.5 637.4,894.6 636.7,895.9 636.0,905.9 635.3,897.2 634.6,898.1 633.9,895.9 633.2,894.4 632.5,900.6 631.8,900.0 631.1,897.2 630.4,903.9 629.7,897.2 629.0,898.3 628.3,900.8 627.6,901.5 626.9,907.8 626.2,902.3 625.5,904.0 624.8,898.5 624.1,898.5 623.4,899.2 622.7,906.0 622.0,906.0 621.3,907.4 620.6,909.0 619.9,906.3 619.2,905.0 618.5,909.4 617.8,912.0 617.0,909.8 616.3,911.0 615.6,918.6 614.9,919.8 614.2,917.2 613.5,923.7 612.8,924.1 612.1,928.3 611.4,922.5 610.7,924.3 610.0,931.0 609.3,926.6 608.6,930.6 607.9,935.2 607.2,930.7 606.5,930.1 605.8,933.7 605.1,934.7 604.4,930.2 603.7,929.0 603.0,931.1 602.3,932.0 601.6,930.3 600.9,934.1 600.2,928.1 599.5,927.6 598.8,935.3 598.1,934.1 597.4,943.8 596.7,939.8 595.9,936.9 595.2,941.0 594.5,945.4 593.8,938.5 593.1,941.5 592.4,940.7 591.7,943.0 591.0,942.5 590.3,942.7 589.6,942.1 588.9,944.1 588.2,945.0 587.5,946.2 586.8,946.6 586.1,954.3 585.4,961.4 584.7,960.3 584.0,962.3 583.3,960.4 582.6,960.3 581.9,961.2 581.2,966.0 580.5,964.2 579.8,964.8 579.1,967.0 578.4,966.9 577.7,966.8 577.0,963.5 576.3,959.5 575.6,957.2 574.8,958.0 574.1,964.8 573.4,966.1 572.7,976.2 572.0,973.2 571.3,973.2 570.6,975.8 569.9,974.9 569.2,983.1 568.5,981.6 567.8,980.5 567.1,975.2 566.4,978.4 565.7,979.5 565.0,978.2 564.3,978.6 563.6,978.2 562.9,980.3 562.2,977.9 561.5,983.3 560.8,986.7 560.1,989.3 559.4,991.0 558.7,986.9 558.0,988.9 557.3,987.8 556.6,985.3 555.9,975.5 555.2,974.8 554.5,979.1 553.7,973.0 553.0,976.5 552.3,982.5 551.6,975.3 550.9,978.3 550.2,980.2 549.5,984.1 548.8,980.0 548.1,981.1 547.4,981.7 546.7,980.4 546.0,981.3 545.3,976.8 544.6,970.5 543.9,966.0 543.2,969.5 542.5,972.5 541.8,969.7 541.1,965.2 540.4,962.4 539.7,961.1 539.0,960.7 538.3,956.2 537.6,948.0 536.9,951.9 536.2,945.8 535.5,953.0 534.8,963.5 534.1,977.2 533.4,981.8 532.6,991.1" fill="#D2D2AA" fill-opacity="0.8"/>
<path d="M532.6,984.6 L533.4,976.0 L534.1,967.0 L534.8,957.0 L535.5,945.9 L536.2,937.7 M536.9,938.8 L537.6,940.7 L538.3,943.9 L539.0,948.3 L539.7,953.1 L540.4,957.6 L541.1,959.6 M543.2,960.5 L543.9,962.0 L544.6,964.8 L545.3,968.3 L546.0,971.8 L546.7,974.3 M555.2,969.6 L555.9,971.4 L556.6,974.3 L557.3,978.1 L558.0,980.5 L558.7,982.2 M560.1,981.0 L560.8,978.5 L561.5,975.9 L562.2,974.2 M571.3,969.0 L572.0,966.7 L572.7,963.0 L573.4,958.6 L574.1,954.8 L574.8,952.8 M575.6,952.9 L576.3,955.2 L577.0,958.2 L577.7,960.6 M584.0,953.4 L584.7,951.7 L585.4,949.2 L586.1,946.0 L586.8,942.3 L587.5,938.6 L588.2,935.4 L588.9,933.2 M597.4,930.4 L598.1,928.5 L598.8,925.9 L599.5,923.3 M607.9,924.4 L608.6,922.8 L609.3,920.7 L610.0,918.8 M612.8,915.9 L613.5,914.0 L614.2,911.8 L614.9,909.4 L615.6,907.1 L616.3,905.0 L617.0,903.3 M638.1,888.3 L638.9,886.5 L639.6,883.6 L640.3,879.9 L641.0,875.9 L641.7,872.5 L642.4,870.0 M660.7,864.3 L661.4,862.4 L662.1,859.9 L662.8,857.4 L663.5,855.4 M671.2,856.5 L671.9,854.9 L672.6,852.6 L673.3,849.4 L674.0,845.9 L674.7,842.5 L675.4,840.0 M676.8,840.1 L677.5,841.9 L678.2,843.8 L678.9,845.9 L679.6,847.9 M693.7,842.5 L694.4,840.5 L695.1,838.3 L695.8,836.2 M700.7,834.4 L701.4,832.7 L702.1,830.6 L702.9,828.6 M722.5,818.7 L723.2,817.2 L724.0,815.1 L724.7,812.7 L725.4,810.6 M729.6,805.7 L730.3,803.8 L731.0,801.7 L731.7,800.0" fill="none" stroke="#D2D2AA" stroke-width="2.5" stroke-linejoin="round"/>
<path d="M590.3,933.3 L591.0,934.8 M593.1,935.7 L593.8,933.8 M621.3,897.5 L622.0,895.9 L622.7,894.1 M628.3,895.0 L629.0,893.5 M650.8,872.1 L651.5,869.8 L652.2,867.9 M666.3,856.0 L667.0,857.5 M687.4,847.3 L688.1,845.0 L688.8,842.7 M714.1,820.4 L714.8,818.7 M740.1,800.0 L740.8,801.5 L741.5,803.5" fill="none" stroke="#D2D2AA" stroke-width="1.3" stroke-linejoin="round"/>
<polygon points="532.6,1074.5 533.4,1065.5 534.1,1066.6 534.8,1056.8 535.5,1048.7 536.2,1034.1 536.9,1033.7 537.6,1023.8 538.3,1026.5 539.0,1016.7 539.7,1014.5 540.4,1010.9 541.1,1008.8 541.8,1003.9 542.5,999.2 543.2,1000.9 543.9,1006.2 544.6,1015.1 545.3,1017.5 546.0,1023.7 546.7,1022.5 547.4,1029.1 548.1,1030.3 548.8,1031.6 549.5,1031.2 550.2,1032.5 550.9,1036.0 551.6,1032.2 552.3,1026.8 553.0,1035.7 553.7,1039.0 554.5,1041.9 555.2,1043.8 555.9,1045.0 556.6,1042.4 557.3,1035.3 558.0,1036.9 558.7,1029.6 559.4,1030.9 560.1,1037.5 560.8,1035.0 561.5,1028.2 562.2,1031.9 562.9,1033.1 563.6,1033.5 564.3,1031.3 565.0,1032.3 565.7,1025.8 566.4,1029.8 567.1,1024.0 567.8,1025.3 568.5,1026.3 569.2,1021.7 569.9,1025.7 570.6,1022.4 571.3,1021.1 572.0,1013.2 572.7,1010.1 573.4,1018.8 574.1,1021.6 574.8,1020.6 575.6,1020.7 576.3,1017.1 577.0,1010.9 577.7,1014.8 578.4,1015.7 579.1,1019.6 579.8,1021.2 580.5,1021.4 581.2,1014.5 581.9,1016.1 582.6,1009.8 583.3,1004.1 584.0,1003.1 584.7,1006.6 585.4,1011.3 586.1,1009.0 586.8,1006.3 587.5,1008.3 588.2,1009.2 588.9,1006.5 589.6,999.1 590.3,994.3 591.0,987.1 591.7,993.6 592.4,989.3 593.1,992.9 593.8,983.5 594.5,985.6 595.2,978.0 595.9,984.8 596.7,982.6 597.4,976.6 598.1,977.1 598.8,977.7 599.5,979.1 600.2,969.8 600.9,968.3 601.6,969.4 602.3,975.4 603.0,969.1 603.7,969.1 604.4,956.6 605.1,958.8 605.8,958.9 606.5,957.3 607.2,958.0 607.9,957.1 608.6,962.3 609.3,961.1 610.0,957.4 610.7,952.3 611.4,948.2 612.1,945.1 612.8,939.0 613.5,933.7 614.2,931.2 614.9,939.0 615.6,940.3 616.3,943.7 617.0,946.4 617.8,944.3 618.5,944.0 619.2,943.0 619.9,939.9 620.6,935.4 621.3,939.3 622.0,936.5 622.7,936.0 623.4,932.6 624.1,932.6 624.8,933.0 625.5,931.8 626.2,928.0 626.9,923.6 627.6,927.5 628.3,930.1 629.0,923.8 629.7,923.3 630.4,920.2 631.1,923.2 631.8,921.1 632.5,923.3 633.2,922.0 633.9,924.9 634.6,926.3 635.3,917.3 636.0,924.8 636.7,925.1 637.4,923.4 638.1,921.5 638.9,918.7 639.6,913.4 640.3,914.9 641.0,912.8 641.7,906.6 642.4,905.0 643.1,899.9 643.8,898.9 644.5,896.2 645.2,901.8 645.9,902.1 646.6,901.7 647.3,904.9 648.0,907.2 648.7,905.6 649.4,908.4 650.1,904.4 650.8,909.9 651.5,908.1 652.2,892.4 652.9,897.0 653.6,889.5 654.3,894.4 655.0,890.9 655.7,889.8 656.4,879.0 657.1,887.6 657.8,886.2 658.5,886.6 659.2,887.9 660.0,881.4 660.7,878.3 661.4,880.2 662.1,879.1 662.8,880.8 663.5,877.2 664.2,884.3 664.9,885.2 665.6,874.5 666.3,880.9 667.0,885.6 667.7,883.6 668.4,879.1 669.1,879.7 669.8,874.3 670.5,874.5 671.2,875.1 671.9,873.8 672.6,874.1 673.3,876.7 674.0,867.9 674.7,867.9 675.4,872.3 676.1,874.8 676.8,872.3 677.5,874.2 678.2,875.0 678.9,874.0 679.6,865.0 680.3,870.7 681.0,869.0 681.8,870.5 682.5,869.9 683.2,872.1 683.9,863.0 684.6,868.8 685.3,872.2 686.0,867.2 686.7,873.6 687.4,873.2 688.1,872.6 688.8,860.9 689.5,873.4 690.2,868.6 690.9,872.0 691.6,870.1 692.3,868.4 693.0,864.4 693.7,862.7 694.4,864.2 695.1,859.7 695.8,863.0 696.5,855.8 697.2,857.2 697.9,854.1 698.6,856.7 699.3,853.9 700.0,839.6 700.7,843.7 701.4,852.1 702.1,845.9 702.9,849.4 703.6,844.1 704.3,838.5 705.0,846.8 705.7,849.3 706.4,851.0 707.1,843.1 707.8,845.6 708.5,845.9 709.2,846.1 709.9,841.0 710.6,843.8 711.3,832.8 712.0,838.0 712.7,836.8 713.4,838.0 714.1,836.6 714.8,838.5 715.5,835.3 716.2,840.3 716.9,836.4 717.6,840.4 718.3,834.1 719.0,838.6 719.7,825.0 720.4,825.2 721.1,833.2 721.8,833.0 722.5,828.6 723.2,830.1 724.0,828.3 724.7,829.4 725.4,830.4 726.1,824.7 726.8,832.1 727.5,824.8 728.2,834.9 728.9,833.1 729.6,830.1 730.3,832.9 731.0,827.7 731.7,827.7 732.4,821.6 733.1,826.4 733.8,836.5 734.5,828.2 735.2,836.9 735.9,837.8 736.6,828.2 737.3,832.5 738.0,823.0 738.7,826.7 739.4,821.7 740.1,820.5 740.8,816.8 741.5,815.6 742.2,817.9 742.9,816.7 742.9,829.4 742.2,839.4 741.5,835.7 740.8,829.4 740.1,831.9 739.4,838.9 738.7,836.3 738.0,838.7 737.3,842.0 736.6,852.0 735.9,847.7 735.2,855.7 734.5,848.7 733.8,850.2 733.1,845.4 732.4,839.6 731.7,841.1 731.0,853.4 730.3,842.1 729.6,847.1 728.9,850.7 728.2,847.8 727.5,852.4 726.8,847.7 726.1,840.2 725.4,841.1 724.7,839.0 724.0,839.7 723.2,845.7 722.5,850.7 721.8,841.1 721.1,845.6 720.4,843.9 719.7,846.9 719.0,856.7 718.3,850.7 717.6,851.9 716.9,859.2 716.2,848.1 715.5,848.7 714.8,848.2 714.1,851.9 713.4,849.1 712.7,857.6 712.0,849.7 711.3,855.2 710.6,854.4 709.9,861.6 709.2,862.5 708.5,872.0 707.8,866.2 707.1,861.9 706.4,862.9 705.7,858.5 705.0,856.5 704.3,859.6 703.6,857.7 702.9,860.5 702.1,859.2 701.4,861.4 700.7,865.1 700.0,863.9 699.3,867.0 698.6,866.4 697.9,871.7 697.2,869.4 696.5,871.8 695.8,871.7 695.1,881.0 694.4,876.7 693.7,879.6 693.0,882.3 692.3,880.4 691.6,889.1 690.9,881.4 690.2,886.5 689.5,892.8 688.8,888.1 688.1,887.7 687.4,884.3 686.7,885.2 686.0,882.9 685.3,884.3 684.6,883.5 683.9,886.9 683.2,880.9 682.5,881.3 681.8,886.4 681.0,881.3 680.3,884.7 679.6,889.7 678.9,888.7 678.2,887.3 677.5,889.5 676.8,887.2 676.1,884.1 675.4,889.8 674.7,893.3 674.0,892.3 673.3,893.8 672.6,886.2 671.9,895.3 671.2,884.5 670.5,886.7 669.8,886.5 669.1,891.0 668.4,891.3 667.7,895.8 667.0,896.3 666.3,906.4 665.6,897.5 664.9,898.2 664.2,892.9 663.5,894.3 662.8,903.1 662.1,892.9 661.4,896.6 660.7,904.6 660.0,899.9 659.2,903.9 658.5,909.3 657.8,902.0 657.1,902.4 656.4,900.9 655.7,903.4 655.0,901.7 654.3,908.0 653.6,906.5 652.9,920.0 652.2,918.1 651.5,918.4 650.8,922.1 650.1,922.7 649.4,925.4 648.7,918.0 648.0,917.6 647.3,914.4 646.6,916.8 645.9,920.5 645.2,912.6 644.5,913.3 643.8,911.2 643.1,917.6 642.4,922.8 641.7,922.0 641.0,928.7 640.3,924.4 639.6,924.1 638.9,928.6 638.1,935.4 637.4,935.4 636.7,938.1 636.0,940.2 635.3,934.4 634.6,939.6 633.9,937.0 633.2,935.2 632.5,936.9 631.8,939.0 631.1,936.1 630.4,935.8 629.7,936.8 629.0,938.8 628.3,947.9 627.6,940.3 626.9,942.8 626.2,940.8 625.5,949.7 624.8,941.9 624.1,943.6 623.4,949.5 622.7,945.3 622.0,947.3 621.3,957.8 620.6,949.6 619.9,955.4 619.2,957.3 618.5,963.1 617.8,954.3 617.0,961.0 616.3,954.9 615.6,952.6 614.9,947.5 614.2,945.5 613.5,945.8 612.8,963.2 612.1,953.1 611.4,958.7 610.7,970.8 610.0,974.1 609.3,971.3 608.6,975.2 607.9,975.3 607.2,976.6 606.5,971.2 605.8,975.8 605.1,976.4 604.4,980.4 603.7,985.2 603.0,989.6 602.3,984.4 601.6,987.3 600.9,985.5 600.2,987.6 599.5,997.3 598.8,989.9 598.1,988.9 597.4,989.5 596.7,992.8 595.9,1000.5 595.2,1006.1 594.5,1000.4 593.8,1003.6 593.1,1014.7 592.4,1006.6 591.7,1010.5 591.0,1005.1 590.3,1011.9 589.6,1011.1 588.9,1018.7 588.2,1030.0 587.5,1028.6 586.8,1026.0 586.1,1026.8 585.4,1024.9 584.7,1020.1 584.0,1021.9 583.3,1022.1 582.6,1021.5 581.9,1025.6 581.2,1032.9 580.5,1032.3 579.8,1039.2 579.1,1029.9 578.4,1030.8 577.7,1026.5 577.0,1037.4 576.3,1035.6 575.6,1029.1 574.8,1032.3 574.1,1033.0 573.4,1041.7 572.7,1029.9 572.0,1031.2 571.3,1030.7 570.6,1035.1 569.9,1035.1 569.2,1039.2 568.5,1046.4 567.8,1041.9 567.1,1043.6 566.4,1043.7 565.7,1042.7 565.0,1041.1 564.3,1043.4 563.6,1047.2 562.9,1054.5 562.2,1048.7 561.5,1051.7 560.8,1048.9 560.1,1050.0 559.4,1050.1 558.7,1050.0 558.0,1049.0 557.3,1060.8 556.6,1062.0 555.9,1061.8 555.2,1054.9 554.5,1055.6 553.7,1057.0 553.0,1052.4 552.3,1049.0 551.6,1053.8 550.9,1050.5 550.2,1050.5 549.5,1044.3 548.8,1043.8 548.1,1048.2 547.4,1040.5 546.7,1039.7 546.0,1037.0 545.3,1030.5 544.6,1023.1 543.9,1022.9 543.2,1014.4 542.5,1011.5 541.8,1022.1 541.1,1025.0 540.4,1023.8 539.7,1028.9 539.0,1036.4 538.3,1035.7 537.6,1040.1 536.9,1043.2 536.2,1059.2 535.5,1058.5 534.8,1071.7 534.1,1075.4 533.4,1087.0 532.6,1099.4" fill="#AAAAF6" fill-opacity="0.8"/>
<path d="M532.6,1087.3 L533.4,1079.4 L534.1,1071.0 L534.8,1062.1 L535.5,1053.3 L536.2,1045.2 L536.9,1038.6 L537.6,1033.8 L538.3,1030.4 L539.0,1027.6 L539.7,1024.3 L540.4,1020.0 L541.1,1014.9 L541.8,1009.3 L542.5,1005.6 L543.2,1007.9 L543.9,1013.9 L544.6,1019.2 L545.3,1023.5 L546.0,1027.4 L546.7,1031.2 L547.4,1033.2 M552.3,1042.4 L553.0,1044.5 L553.7,1046.9 L554.5,1049.0 M555.9,1049.9 L556.6,1048.3 L557.3,1046.4 L558.0,1044.4 M567.8,1037.4 L568.5,1035.5 L569.2,1032.9 L569.9,1030.1 L570.6,1027.8 L571.3,1026.2 M580.5,1025.6 L581.2,1024.0 L581.9,1021.0 L582.6,1017.8 L583.3,1015.5 M587.5,1015.3 L588.2,1013.2 L588.9,1010.4 L589.6,1007.0 L590.3,1003.6 L591.0,1000.7 L591.7,998.6 M594.5,995.7 L595.2,993.1 L595.9,989.8 L596.7,986.8 L597.4,984.7 M603.0,977.8 L603.7,975.8 L604.4,973.2 L605.1,970.4 L605.8,967.9 L606.5,966.1 M609.3,965.4 L610.0,963.2 L610.7,959.4 L611.4,954.4 L612.1,948.8 L612.8,943.8 L613.5,941.3 M614.2,941.2 L614.9,942.9 L615.6,945.6 L616.3,948.3 L617.0,950.2 M636.7,929.3 L637.4,927.7 L638.1,925.2 L638.9,922.5 L639.6,920.4 L640.3,918.6 L641.0,916.8 L641.7,914.5 L642.4,912.1 L643.1,909.6 L643.8,907.4 M650.8,914.0 L651.5,911.8 L652.2,908.4 L652.9,904.7 L653.6,901.3 L654.3,898.6 L655.0,896.6 L655.7,894.9 L656.4,893.3 M660.0,893.1 L660.7,891.6 L661.4,889.2 L662.1,887.1 M663.5,886.5 L664.2,888.2 L664.9,890.6 L665.6,892.5 M667.0,892.3 L667.7,890.0 L668.4,886.9 L669.1,883.8 L669.8,881.4 L670.5,879.8 M708.5,856.8 L709.2,855.3 L709.9,852.9 L710.6,850.0 L711.3,847.3 L712.0,845.6 M725.4,834.4 L726.1,836.2 L726.8,838.6 L727.5,840.6 M728.9,840.7 L729.6,838.9 L730.3,836.6 L731.0,834.7 M732.4,835.2 L733.1,837.6 L733.8,840.2 L734.5,842.0 M735.9,841.7 L736.6,839.6 L737.3,836.7 L738.0,833.7 L738.7,830.9 L739.4,828.7 L740.1,826.5 L740.8,824.6" fill="none" stroke="#AAAAF6" stroke-width="2.5" stroke-linejoin="round"/>
<path d="M548.1,1034.6 L548.8,1036.7 L549.5,1038.5 M562.2,1039.9 L562.9,1038.4 M618.5,949.4 L619.2,947.5 L619.9,945.6 M690.9,876.3 L691.6,874.7 L692.3,873.2 M695.8,867.3 L696.5,865.6 L697.2,863.9 M700.7,857.8 L701.4,856.1 L702.1,854.5 M705.7,853.9 L706.4,856.0 M719.7,841.5 L720.4,839.9" fill="none" stroke="#AAAAF6" stroke-width="1.3" stroke-linejoin="round"/>
<polygon points="532.6,1098.0 533.4,1075.0 534.1,1074.2 534.8,1067.6 535.5,1059.2 536.2,1050.7 536.9,1033.1 537.6,1027.5 538.3,1022.4 539.0,1012.9 539.7,1000.3 540.4,992.5 541.1,985.9 541.8,983.4 542.5,973.3 543.2,983.4 543.9,989.9 544.6,1004.5 545.3,1007.4 546.0,1022.0 546.7,1030.5 547.4,1034.6 548.1,1034.7 548.8,1035.0 549.5,1036.1 550.2,1038.9 550.9,1042.7 551.6,1044.6 552.3,1046.7 553.0,1049.9 553.7,1047.3 554.5,1045.0 555.2,1046.4 555.9,1038.5 556.6,1039.7 557.3,1032.2 558.0,1039.3 558.7,1031.3 559.4,1033.1 560.1,1035.0 560.8,1034.6 561.5,1030.9 562.2,1025.4 562.9,1026.1 563.6,1030.1 564.3,1024.5 565.0,1028.4 565.7,1027.9 566.4,1021.9 567.1,1014.0 567.8,1012.7 568.5,1013.5 569.2,1006.8 569.9,1003.8 570.6,1010.6 571.3,1010.6 572.0,1009.8 572.7,1010.2 573.4,1007.8 574.1,1005.7 574.8,1005.5 575.6,1001.1 576.3,1000.1 577.0,1003.1 577.7,993.7 578.4,1001.3 579.1,994.5 579.8,994.4 580.5,987.3 581.2,981.8 581.9,979.2 582.6,969.5 583.3,972.0 584.0,971.1 584.7,973.5 585.4,975.6 586.1,969.5 586.8,974.2 587.5,964.5 588.2,969.6 588.9,962.4 589.6,963.0 590.3,964.3 591.0,964.5 591.7,963.8 592.4,966.2 593.1,959.1 593.8,962.6 594.5,951.8 595.2,950.2 595.9,951.1 596.7,947.4 597.4,944.3 598.1,954.9 598.8,946.1 599.5,952.8 600.2,949.1 600.9,952.2 601.6,949.6 602.3,948.3 603.0,946.4 603.7,944.0 604.4,941.9 605.1,939.9 605.8,935.1 606.5,928.9 607.2,930.2 607.9,925.0 608.6,914.6 609.3,923.5 610.0,922.6 610.7,923.7 611.4,925.1 612.1,925.2 612.8,919.6 613.5,923.9 614.2,921.6 614.9,922.9 615.6,920.6 616.3,923.7 617.0,919.3 617.8,921.7 618.5,921.1 619.2,916.4 619.9,911.2 620.6,904.2 621.3,909.5 622.0,907.9 622.7,908.9 623.4,902.0 624.1,902.9 624.8,896.8 625.5,897.7 626.2,894.6 626.9,895.5 627.6,896.3 628.3,897.6 629.0,898.8 629.7,897.1 630.4,899.6 631.1,895.3 631.8,896.1 632.5,894.9 633.2,888.4 633.9,880.5 634.6,882.7 635.3,888.1 636.0,885.4 636.7,890.7 637.4,891.1 638.1,891.9 638.9,894.8 639.6,893.3 640.3,885.9 641.0,886.2 641.7,886.2 642.4,878.5 643.1,869.1 643.8,879.8 644.5,879.3 645.2,873.4 645.9,865.5 646.6,874.9 647.3,878.5 648.0,871.7 648.7,873.6 649.4,869.4 650.1,868.2 650.8,869.5 651.5,867.4 652.2,865.6 652.9,862.3 653.6,858.0 654.3,860.5 655.0,858.9 655.7,858.7 656.4,858.8 657.1,850.6 657.8,859.9 658.5,855.9 659.2,858.3 660.0,853.7 660.7,851.4 661.4,859.0 662.1,857.5 662.8,852.9 663.5,855.2 664.2,853.3 664.9,850.9 665.6,851.5 666.3,841.6 667.0,851.8 667.7,854.0 668.4,857.1 669.1,855.9 669.8,852.5 670.5,859.0 671.2,856.3 671.9,852.4 672.6,846.7 673.3,844.4 674.0,847.3 674.7,847.0 675.4,847.8 676.1,850.0 676.8,846.8 677.5,853.2 678.2,849.9 678.9,843.1 679.6,838.6 680.3,841.4 681.0,844.3 681.8,841.7 682.5,843.2 683.2,839.3 683.9,848.1 684.6,839.4 685.3,842.6 686.0,840.2 686.7,833.4 687.4,833.5 688.1,835.4 688.8,829.3 689.5,829.2 690.2,826.9 690.9,826.0 691.6,826.1 692.3,825.9 693.0,830.9 693.7,835.1 694.4,830.8 695.1,830.3 695.8,826.7 696.5,820.7 697.2,827.6 697.9,823.3 698.6,819.4 699.3,826.9 700.0,826.5 700.7,824.0 701.4,821.1 702.1,826.4 702.9,827.2 703.6,826.0 704.3,825.1 705.0,826.7 705.7,824.4 706.4,826.3 707.1,821.1 707.8,814.7 708.5,817.1 709.2,820.4 709.9,820.4 710.6,824.9 711.3,826.5 712.0,823.3 712.7,825.8 713.4,822.3 714.1,819.6 714.8,823.0 715.5,815.6 716.2,812.4 716.9,814.3 717.6,814.7 718.3,814.5 719.0,815.5 719.7,819.5 720.4,819.3 721.1,812.7 721.8,817.1 722.5,804.1 723.2,807.6 724.0,800.8 724.7,804.4 725.4,809.0 726.1,807.4 726.8,810.1 727.5,805.7 728.2,802.4 728.9,804.1 729.6,801.3 730.3,793.1 731.0,804.7 731.7,798.8 732.4,802.3 733.1,808.5 733.8,806.7 734.5,803.5 735.2,804.8 735.9,805.8 736.6,798.3 737.3,805.7 738.0,802.7 738.7,797.2 739.4,792.4 740.1,794.0 740.8,789.9 741.5,788.4 742.2,786.6 742.9,785.0 742.9,801.7 742.2,801.0 741.5,798.9 740.8,798.7 740.1,806.4 739.4,811.0 738.7,814.2 738.0,821.4 737.3,820.4 736.6,817.3 735.9,819.8 735.2,818.5 734.5,817.6 733.8,821.7 733.1,824.1 732.4,818.7 731.7,819.1 731.0,817.5 730.3,813.6 729.6,818.0 728.9,824.7 728.2,815.5 727.5,818.0 726.8,819.9 726.1,820.8 725.4,818.2 724.7,820.8 724.0,821.3 723.2,830.2 722.5,829.2 721.8,830.8 721.1,834.1 720.4,832.8 719.7,830.0 719.0,829.6 718.3,829.7 717.6,827.7 716.9,823.8 716.2,827.2 715.5,833.2 714.8,835.8 714.1,835.8 713.4,842.0 712.7,839.4 712.0,839.8 711.3,837.2 710.6,834.1 709.9,833.8 709.2,833.8 708.5,835.9 707.8,835.4 707.1,833.5 706.4,838.2 705.7,839.5 705.0,845.0 704.3,839.7 703.6,838.0 702.9,840.1 702.1,842.7 701.4,834.9 700.7,837.9 700.0,834.9 699.3,837.9 698.6,841.0 697.9,834.7 697.2,847.1 696.5,839.2 695.8,840.9 695.1,848.4 694.4,850.4 693.7,857.8 693.0,842.7 692.3,845.5 691.6,844.8 690.9,838.3 690.2,843.9 689.5,846.0 688.8,843.6 688.1,844.3 687.4,857.1 686.7,851.8 686.0,855.3 685.3,853.8 684.6,860.7 683.9,862.7 683.2,863.4 682.5,858.9 681.8,864.0 681.0,865.4 680.3,857.0 679.6,867.4 678.9,863.6 678.2,862.3 677.5,863.3 676.8,863.8 676.1,868.6 675.4,874.9 674.7,865.4 674.0,866.3 673.3,860.5 672.6,863.7 671.9,862.0 671.2,865.9 670.5,868.3 669.8,881.1 669.1,870.0 668.4,876.0 667.7,869.5 667.0,862.9 666.3,861.3 665.6,869.7 664.9,866.1 664.2,872.5 663.5,865.3 662.8,871.7 662.1,871.3 661.4,871.2 660.7,874.8 660.0,876.2 659.2,873.0 658.5,869.9 657.8,873.3 657.1,873.5 656.4,869.0 655.7,877.7 655.0,881.0 654.3,876.8 653.6,880.9 652.9,874.4 652.2,883.1 651.5,881.7 650.8,880.0 650.1,880.5 649.4,885.6 648.7,891.4 648.0,888.6 647.3,895.2 646.6,889.6 645.9,888.6 645.2,895.4 644.5,891.8 643.8,891.4 643.1,892.3 642.4,902.1 641.7,900.7 641.0,899.3 640.3,902.4 639.6,904.6 638.9,923.8 638.1,905.4 637.4,906.0 636.7,907.8 636.0,905.5 635.3,898.5 634.6,895.4 633.9,904.6 633.2,904.3 632.5,907.1 631.8,910.2 631.1,912.6 630.4,914.3 629.7,914.5 629.0,913.7 628.3,909.5 627.6,911.4 626.9,907.2 626.2,906.5 625.5,920.3 624.8,915.2 624.1,918.8 623.4,917.6 622.7,918.8 622.0,920.1 621.3,920.7 620.6,920.5 619.9,929.0 619.2,928.5 618.5,934.7 617.8,937.6 617.0,943.4 616.3,940.8 615.6,948.0 614.9,940.2 614.2,936.9 613.5,941.7 612.8,935.8 612.1,934.3 611.4,940.2 610.7,940.6 610.0,935.0 609.3,939.2 608.6,939.7 607.9,939.6 607.2,948.0 606.5,947.7 605.8,947.5 605.1,952.1 604.4,951.2 603.7,953.8 603.0,957.1 602.3,965.7 601.6,968.9 600.9,967.7 600.2,968.5 599.5,972.4 598.8,965.9 598.1,966.7 597.4,962.6 596.7,980.1 595.9,961.9 595.2,966.4 594.5,968.9 593.8,971.1 593.1,976.4 592.4,977.7 591.7,975.0 591.0,982.4 590.3,974.4 589.6,974.3 588.9,980.3 588.2,979.1 587.5,984.7 586.8,982.7 586.1,985.4 585.4,987.8 584.7,987.3 584.0,982.7 583.3,989.6 582.6,992.6 581.9,988.8 581.2,992.7 580.5,1000.5 579.8,1004.8 579.1,1007.4 578.4,1012.9 577.7,1012.8 577.0,1016.8 576.3,1014.6 575.6,1013.4 574.8,1016.7 574.1,1019.7 573.4,1020.5 572.7,1021.9 572.0,1020.1 571.3,1020.7 570.6,1020.1 569.9,1021.9 569.2,1024.2 568.5,1031.9 567.8,1031.1 567.1,1029.4 566.4,1040.6 565.7,1048.9 565.0,1044.8 564.3,1042.1 563.6,1041.8 562.9,1040.8 562.2,1040.1 561.5,1044.0 560.8,1046.2 560.1,1048.5 559.4,1050.8 558.7,1051.7 558.0,1050.4 557.3,1065.1 556.6,1052.8 555.9,1060.6 555.2,1063.6 554.5,1058.7 553.7,1058.2 553.0,1059.9 552.3,1056.9 551.6,1057.7 550.9,1058.2 550.2,1047.9 549.5,1054.1 548.8,1043.3 548.1,1042.8 547.4,1049.6 546.7,1049.8 546.0,1038.2 545.3,1027.6 544.6,1016.8 543.9,1006.5 543.2,1003.7 542.5,995.7 541.8,995.1 541.1,1002.9 540.4,1011.0 539.7,1016.7 539.0,1028.7 538.3,1034.5 537.6,1049.6 536.9,1053.6 536.2,1062.7 535.5,1073.5 534.8,1081.7 534.1,1089.2 533.4,1096.9 532.6,1118.2" fill="#FF0000"/>
<path d="M532.6,1101.9 L533.4,1091.9 L534.1,1082.5 L534.8,1073.2 L535.5,1064.2 L536.2,1055.2 L536.9,1046.3 L537.6,1037.6 L538.3,1029.0 L539.0,1020.2 L539.7,1011.5 L540.4,1003.1 L541.1,995.1 L541.8,987.4 L542.5,983.0 L543.2,988.5 L543.9,1000.6 L544.6,1011.7 L545.3,1021.6 L546.0,1030.3 L546.7,1037.5 L547.4,1039.8 M549.5,1040.7 L550.2,1043.2 L550.9,1046.6 L551.6,1050.0 L552.3,1052.6 M558.7,1045.2 L559.4,1043.2 L560.1,1040.9 L560.8,1038.5 L561.5,1036.5 M565.0,1034.0 L565.7,1031.9 L566.4,1029.0 L567.1,1025.6 L567.8,1022.3 L568.5,1019.6 L569.2,1017.7 M577.7,1007.4 L578.4,1005.6 L579.1,1002.6 L579.8,998.4 L580.5,993.5 L581.2,988.8 L581.9,984.7 L582.6,981.4 L583.3,979.3 M586.8,978.9 L587.5,977.0 L588.2,974.6 L588.9,972.1 L589.6,970.4 M592.4,970.4 L593.1,968.9 L593.8,966.3 L594.5,963.1 L595.2,960.2 L595.9,958.2 M600.9,957.2 L601.6,955.1 L602.3,952.5 L603.0,950.3 L603.7,948.6 L604.4,946.6 L605.1,944.0 L605.8,940.8 L606.5,937.7 L607.2,935.1 L607.9,933.1 M617.0,930.3 L617.8,928.0 L618.5,924.9 L619.2,921.4 L619.9,917.9 L620.6,915.4 M622.7,913.5 L623.4,911.8 L624.1,908.9 L624.8,905.5 L625.5,902.7 M630.4,907.2 L631.1,905.5 L631.8,902.5 L632.5,898.6 L633.2,894.5 L633.9,891.6 M635.3,892.0 L636.0,894.4 L636.7,897.1 L637.4,899.3 M639.6,899.2 L640.3,897.4 L641.0,894.9 L641.7,892.1 L642.4,889.1 L643.1,886.3 L643.8,884.3 M648.7,881.4 L649.4,879.3 L650.1,876.6 L650.8,874.0 L651.5,872.3 M670.5,862.8 L671.2,860.5 L671.9,858.0 L672.6,856.0 M678.2,857.6 L678.9,855.9 L679.6,853.9 L680.3,852.1 M683.9,853.0 L684.6,850.8 L685.3,847.9 L686.0,845.2 L686.7,842.8 L687.4,840.7 L688.1,839.1 L688.8,837.2 L689.5,834.9 L690.2,833.3 M695.1,838.4 L695.8,836.0 L696.5,833.3 L697.2,831.4 M713.4,831.5 L714.1,829.9 L714.8,827.3 L715.5,824.0 L716.2,821.3 L716.9,819.8 M721.1,824.9 L721.8,822.5 L722.5,818.9 L723.2,815.5 L724.0,813.3 M737.3,812.3 L738.0,810.2 L738.7,806.8 L739.4,802.6 L740.1,798.3 L740.8,794.8 L741.5,793.0" fill="none" stroke="#FF0000" stroke-width="2.5" stroke-linejoin="round"/>
<path d="M554.5,1052.4 L555.2,1050.7 L555.9,1047.8 M627.6,902.7 L628.3,904.7 L629.0,906.4 M654.3,868.5 L655.0,866.9 L655.7,865.3 M667.0,858.5 L667.7,860.6 L668.4,862.6 M691.6,834.0 L692.3,836.1 L693.0,838.1 M718.3,820.6 L719.0,822.5 L719.7,824.4 M727.5,813.3 L728.2,811.6 L728.9,810.1" fill="none" stroke="#FF0000" stroke-width="1.3" stroke-linejoin="round"/>
</g>
<line x1="533.6" y1="740.5" x2="533.6" y2="1082" stroke="#555" stroke-width="1.3" stroke-linecap="butt"/>
<line x1="533.6" y1="1082" x2="747.7" y2="1082" stroke="#555" stroke-width="1.3" stroke-linecap="butt"/>
<path d="M557.4,1082L557.4,1078 M557.4,740.5L557.4,744.5 M652.5,1082L652.5,1078 M652.5,740.5L652.5,744.5 M747.7,1082L747.7,1078 M747.7,740.5L747.7,744.5 M605,1082L605,1079.5 M605,740.5L605,743 M700.1,1082L700.1,1079.5 M700.1,740.5L700.1,743 M533.6,1082L537.6,1082 M747.7,1082L743.7,1082 M533.6,960L537.6,960 M747.7,960L743.7,960 M533.6,838.1L537.6,838.1 M747.7,838.1L743.7,838.1 M533.6,1021L536.1,1021 M747.7,1021L745.2,1021 M533.6,899.1L536.1,899.1 M747.7,899.1L745.2,899.1 M533.6,777.1L536.1,777.1 M747.7,777.1L745.2,777.1" stroke="#444" stroke-width="1.0" fill="none"/>
<text x="491.72" y="1088.20" font-family="'Liberation Sans', Arial, sans-serif" font-weight="normal" font-style="normal" font-size="21" fill="#000" stroke="#000" stroke-width="0.5">-0.3</text>
<text x="491.93" y="966.24" font-family="'Liberation Sans', Arial, sans-serif" font-weight="normal" font-style="normal" font-size="21" fill="#000" stroke="#000" stroke-width="0.5">-0.2</text>
<text x="491.82" y="844.27" font-family="'Liberation Sans', Arial, sans-serif" font-weight="normal" font-style="normal" font-size="21" fill="#000" stroke="#000" stroke-width="0.5">-0.1</text>
<text x="543.14" y="1102.40" font-family="'Liberation Sans', Arial, sans-serif" font-weight="normal" font-style="normal" font-size="20.5" fill="#000" stroke="#000" stroke-width="0.5">0.6</text>
<text x="638.30" y="1102.40" font-family="'Liberation Sans', Arial, sans-serif" font-weight="normal" font-style="normal" font-size="20.5" fill="#000" stroke="#000" stroke-width="0.5">0.8</text>
<text x="733.04" y="1102.40" font-family="'Liberation Sans', Arial, sans-serif" font-weight="normal" font-style="normal" font-size="20.5" fill="#000" stroke="#000" stroke-width="0.5">1.0</text>
<text transform="matrix(0 -0.21597 0.21604 0 474.46 977.91)" font-family="'Liberation Sans', Arial, sans-serif" font-weight="normal" font-style="normal" font-size="100" fill="#000" stroke="#000" stroke-width="2.315">Voltage [V]</text>
<text transform="matrix(0.21125 0 0 0.19465 598.18 1134.11)" font-family="'Liberation Sans', Arial, sans-serif" font-weight="normal" font-style="normal" font-size="100" fill="#000" stroke="#000" stroke-width="2.464">Time [<tspan font-family="'Liberation Serif', serif">µ</tspan>s]</text>
<g clip-path="url(#cd)">
<polygon points="954.7,1125.8 955.6,1120.3 956.6,1116.6 957.5,1111.5 958.5,1107.0 959.4,1102.4 960.4,1098.1 961.3,1094.9 962.3,1090.6 963.2,1083.5 964.2,1079.2 965.1,1074.1 966.1,1069.2 967.0,1065.4 967.9,1061.8 968.9,1061.9 969.8,1060.2 970.8,1057.0 971.7,1054.0 972.7,1049.6 973.6,1047.2 974.6,1044.2 975.5,1042.0 976.5,1041.2 977.4,1038.2 978.3,1037.3 979.3,1034.8 980.2,1031.5 981.2,1027.7 982.1,1025.6 983.1,1023.3 984.0,1021.5 985.0,1021.7 985.9,1019.9 986.9,1019.1 987.8,1016.4 988.8,1013.3 989.7,1012.4 990.6,1009.8 991.6,1006.9 992.5,1003.3 993.5,999.7 994.4,995.1 995.4,991.6 996.3,987.8 997.3,982.8 998.2,980.2 999.2,976.2 1000.1,972.9 1001.0,969.8 1002.0,966.4 1002.9,964.0 1003.9,963.7 1004.8,965.3 1005.8,964.9 1006.7,967.0 1007.7,966.0 1008.6,968.4 1009.6,967.5 1010.5,969.6 1011.5,970.0 1012.4,970.9 1013.3,972.4 1014.3,973.5 1015.2,975.7 1016.2,975.6 1017.1,978.1 1018.1,977.9 1019.0,980.1 1020.0,980.0 1020.9,983.0 1021.9,982.1 1022.8,984.2 1023.7,984.1 1024.7,984.3 1025.6,984.3 1026.6,985.7 1027.5,986.6 1028.5,986.2 1029.4,987.3 1030.4,987.8 1031.3,990.7 1032.3,992.4 1033.2,992.9 1034.2,993.2 1035.1,992.7 1036.0,991.8 1037.0,990.4 1037.9,988.7 1038.9,986.9 1039.8,983.0 1040.8,983.0 1041.7,981.3 1042.7,977.9 1043.6,976.2 1044.6,976.2 1045.5,975.0 1046.4,973.5 1047.4,972.9 1048.3,971.2 1049.3,975.7 1050.2,975.8 1051.2,977.4 1052.1,976.5 1053.1,976.8 1054.0,976.8 1055.0,977.0 1055.9,975.8 1056.9,977.1 1057.8,977.5 1058.7,978.7 1059.7,978.4 1060.6,977.8 1061.6,979.9 1062.5,979.7 1063.5,978.8 1064.4,980.6 1065.4,981.2 1066.3,983.7 1067.3,985.7 1068.2,989.3 1069.1,991.0 1070.1,991.3 1071.0,992.0 1072.0,992.3 1072.9,992.9 1073.9,993.1 1074.8,993.9 1075.8,994.7 1076.7,995.5 1077.7,994.8 1078.6,995.4 1079.6,993.4 1080.5,995.5 1081.4,993.3 1082.4,994.3 1083.3,992.9 1084.3,992.4 1085.2,992.9 1086.2,994.0 1087.1,994.0 1088.1,994.0 1089.0,995.9 1090.0,995.3 1090.9,993.8 1091.8,995.8 1092.8,996.3 1093.7,995.4 1094.7,996.6 1095.6,996.5 1096.6,997.7 1097.5,998.7 1098.5,998.1 1099.4,998.9 1100.4,999.6 1101.3,999.7 1102.3,999.4 1103.2,998.0 1104.1,1000.5 1105.1,1000.7 1106.0,999.0 1107.0,1000.6 1107.9,1001.2 1108.9,1002.6 1109.8,1004.1 1110.8,1004.4 1111.7,1004.9 1112.7,1002.7 1113.6,1004.1 1114.5,1002.7 1115.5,1003.1 1116.4,1003.5 1117.4,1003.5 1118.3,1002.1 1119.3,1002.9 1120.2,1002.1 1121.2,1002.7 1122.1,1003.4 1123.1,1002.7 1124.0,1003.2 1125.0,1002.9 1125.9,1003.5 1126.8,1004.7 1127.8,1007.7 1128.7,1008.1 1129.7,1008.4 1130.6,1008.2 1131.6,1007.5 1132.5,1005.9 1133.5,1006.6 1134.4,1006.1 1135.4,1007.7 1136.3,1008.9 1137.2,1008.5 1138.2,1008.7 1139.1,1010.5 1140.1,1011.1 1141.0,1010.4 1142.0,1012.4 1142.9,1012.6 1143.9,1013.1 1144.8,1013.5 1145.8,1012.1 1146.7,1013.4 1147.7,1013.1 1148.6,1015.8 1149.5,1016.8 1150.5,1016.4 1151.4,1015.8 1152.4,1016.2 1153.3,1016.3 1154.3,1013.4 1155.2,1014.2 1156.2,1013.7 1157.1,1014.1 1158.1,1014.4 1159.0,1015.2 1160.0,1015.6 1160.9,1016.0 1161.8,1014.6 1162.8,1016.9 1163.7,1017.3 1164.7,1018.5 1165.6,1018.9 1166.6,1019.0 1167.5,1018.6 1168.5,1018.4 1169.4,1018.4 1170.4,1018.7 1171.3,1018.6 1172.2,1018.9 1173.2,1021.0 1174.1,1020.7 1175.1,1020.0 1176.0,1020.0 1177.0,1020.9 1177.9,1019.5 1178.9,1020.6 1179.8,1020.3 1180.8,1020.5 1181.7,1020.8 1182.7,1021.6 1183.6,1023.8 1184.5,1025.2 1185.5,1027.5 1186.4,1028.5 1187.4,1027.7 1188.3,1025.2 1189.3,1025.3 1190.2,1023.9 1191.2,1024.8 1192.1,1025.9 1193.1,1025.3 1194.0,1027.3 1194.9,1026.6 1195.9,1026.7 1196.8,1028.7 1197.8,1029.1 1198.7,1028.8 1199.7,1028.6 1200.6,1028.4 1201.6,1026.7 1202.5,1026.8 1203.5,1028.8 1204.4,1030.3 1205.4,1030.8 1206.3,1032.1 1207.2,1032.5 1208.2,1033.0 1209.1,1032.8 1210.1,1032.4 1211.0,1032.5 1212.0,1032.3 1212.9,1032.4 1213.9,1033.7 1214.8,1035.7 1215.8,1036.1 1216.7,1036.2 1217.6,1033.5 1218.6,1035.3 1219.5,1035.9 1220.5,1036.0 1221.4,1036.0 1222.4,1038.1 1223.3,1037.7 1224.3,1038.2 1225.2,1037.3 1226.2,1038.0 1227.1,1039.0 1228.1,1039.2 1229.0,1040.0 1229.9,1039.0 1230.9,1038.8 1231.8,1040.3 1232.8,1038.6 1233.7,1040.8 1234.7,1039.5 1235.6,1040.5 1236.6,1042.5 1237.5,1043.0 1238.5,1043.3 1239.4,1044.1 1240.3,1044.3 1241.3,1044.7 1242.2,1044.3 1243.2,1044.1 1244.1,1044.1 1245.1,1043.2 1246.0,1043.8 1247.0,1044.5 1247.9,1045.3 1248.9,1047.7 1249.8,1047.7 1250.8,1054.2 1251.7,1059.0 1252.6,1065.9 1253.6,1071.1 1254.5,1075.5 1255.5,1080.2 1256.4,1086.3 1257.4,1092.0 1258.3,1097.7 1259.3,1102.0 1260.2,1106.1 1261.2,1114.2 1262.1,1120.6 1263.0,1128.4 1264.0,1136.4 1264.9,1144.0 1265.9,1151.0 1266.8,1157.2 1267.8,1166.1 1268.7,1173.2 1269.7,1180.4 1270.6,1185.4 1271.6,1187.3 1272.5,1190.9 1273.5,1192.9 1274.4,1194.7 1275.3,1195.9 1276.3,1198.8 1277.2,1201.8 1278.2,1205.0 1279.1,1208.1 1280.1,1209.2 1281.0,1212.1 1282.0,1214.1 1282.9,1215.0 1283.9,1214.9 1284.8,1217.3 1285.7,1219.8 1286.7,1222.2 1287.6,1224.5 1288.6,1228.7 1289.5,1231.9 1290.5,1233.0 1291.4,1236.9 1292.4,1239.1 1293.3,1241.6 1294.3,1244.1 1295.2,1247.6 1296.2,1250.8 1297.1,1253.7 1298.0,1256.0 1299.0,1258.9 1299.9,1257.3 1300.9,1255.7 1301.8,1253.9 1302.8,1253.1 1303.7,1252.7 1304.7,1252.5 1305.6,1250.7 1306.6,1250.0 1307.5,1248.7 1308.4,1246.2 1309.4,1245.9 1310.3,1243.7 1311.3,1242.5 1312.2,1240.4 1313.2,1240.2 1314.1,1240.2 1315.1,1237.2 1316.0,1238.6 1317.0,1236.6 1317.9,1233.5 1318.9,1233.6 1319.8,1233.1 1320.7,1232.7 1321.7,1232.1 1322.6,1231.4 1323.6,1231.4 1324.5,1230.3 1325.5,1230.1 1326.4,1229.1 1327.4,1226.6 1328.3,1224.7 1329.3,1221.9 1330.2,1225.8 1331.1,1226.7 1332.1,1228.6 1333.0,1228.8 1334.0,1227.6 1334.9,1231.6 1335.9,1231.7 1336.8,1231.9 1337.8,1234.0 1338.7,1235.9 1339.7,1237.6 1340.6,1240.4 1341.6,1241.1 1342.5,1244.3 1343.4,1247.3 1344.4,1247.7 1345.3,1251.6 1346.3,1252.6 1347.2,1253.9 1348.2,1252.6 1349.1,1252.9 1350.1,1251.8 1351.0,1252.1 1352.0,1253.2 1352.9,1252.8 1353.8,1254.6 1354.8,1253.6 1355.7,1254.9 1356.7,1255.1 1357.6,1255.4 1358.6,1253.9 1359.5,1254.1 1360.5,1254.7 1361.4,1255.1 1362.4,1254.7 1363.3,1254.0 1364.3,1252.6 1365.2,1252.1 1366.1,1251.4 1367.1,1248.5 1368.0,1248.7 1369.0,1247.3 1369.9,1244.7 1370.9,1244.0 1371.8,1242.8 1372.8,1241.6 1373.7,1239.7 1374.7,1240.0 1375.6,1239.0 1376.6,1238.0 1377.5,1239.7 1378.4,1239.2 1379.4,1237.0 1380.3,1236.5 1381.3,1236.7 1382.2,1236.6 1383.2,1236.0 1384.1,1237.9 1385.1,1237.8 1386.0,1239.2 1387.0,1240.9 1387.9,1240.2 1388.8,1240.0 1389.8,1238.4 1390.7,1239.7 1391.7,1239.6 1392.6,1238.4 1393.6,1241.4 1394.5,1240.8 1395.5,1243.2 1396.4,1244.7 1397.4,1244.6 1398.3,1244.0 1399.3,1241.0 1400.2,1240.9 1401.1,1240.4 1402.1,1239.4 1403.0,1239.1 1404.0,1234.6 1404.9,1238.3 1405.9,1238.2 1406.8,1240.9 1407.8,1242.3 1408.7,1241.6 1409.7,1243.2 1410.6,1244.1 1411.5,1243.7 1412.5,1243.1 1413.4,1241.3 1414.4,1240.9 1415.3,1241.0 1416.3,1239.7 1417.2,1241.4 1418.2,1242.2 1419.1,1242.6 1420.1,1241.9 1421.0,1244.1 1422.0,1242.8 1422.9,1241.3 1423.8,1242.4 1424.8,1242.4 1425.7,1241.6 1426.7,1239.7 1427.6,1239.5 1428.6,1240.1 1429.5,1238.1 1430.5,1238.3 1431.4,1238.4 1432.4,1238.8 1433.3,1238.5 1434.2,1239.1 1435.2,1238.2 1436.1,1238.1 1437.1,1239.0 1438.0,1238.2 1439.0,1239.1 1439.9,1237.4 1440.9,1236.2 1441.8,1234.5 1442.8,1235.8 1443.7,1235.7 1444.7,1237.9 1445.6,1238.9 1446.5,1238.4 1447.5,1239.6 1448.4,1238.2 1449.4,1237.9 1450.3,1236.5 1451.3,1234.5 1452.2,1235.5 1453.2,1235.3 1454.1,1235.4 1455.1,1234.9 1456.0,1236.7 1456.9,1237.5 1457.9,1236.6 1458.8,1237.3 1459.8,1235.7 1460.7,1234.9 1461.7,1233.0 1462.6,1233.0 1463.6,1233.6 1464.5,1233.6 1465.5,1234.8 1466.4,1233.4 1467.4,1235.4 1468.3,1235.2 1469.2,1236.5 1470.2,1235.4 1471.1,1234.5 1472.1,1232.7 1473.0,1232.2 1474.0,1231.1 1474.9,1232.6 1475.9,1231.8 1476.8,1231.5 1477.8,1232.9 1478.7,1231.6 1479.6,1232.4 1480.6,1232.7 1481.5,1232.7 1482.5,1230.8 1483.4,1231.8 1484.4,1229.0 1485.3,1232.0 1486.3,1233.2 1487.2,1233.3 1488.2,1230.1 1489.1,1233.3 1490.1,1232.9 1491.0,1233.4 1491.9,1231.8 1492.9,1232.4 1493.8,1231.3 1494.8,1230.9 1495.7,1229.8 1496.7,1228.1 1497.6,1229.3 1498.6,1228.8 1499.5,1226.4 1500.5,1228.2 1501.4,1229.8 1502.3,1229.4 1503.3,1229.8 1504.2,1228.8 1505.2,1229.3 1506.1,1228.9 1507.1,1228.0 1508.0,1230.0 1509.0,1229.2 1509.9,1227.0 1510.9,1228.1 1511.8,1228.4 1512.8,1228.1 1513.7,1226.5 1514.6,1227.2 1515.6,1226.4 1516.5,1226.3 1517.5,1227.3 1518.4,1227.3 1519.4,1227.1 1520.3,1230.2 1521.3,1230.4 1522.2,1228.6 1523.2,1228.8 1524.1,1227.1 1525.0,1224.3 1526.0,1223.5 1526.9,1222.7 1527.9,1220.2 1528.8,1223.2 1529.8,1223.8 1530.7,1225.3 1531.7,1225.9 1532.6,1226.5 1533.6,1227.2 1534.5,1224.3 1535.5,1225.5 1536.4,1224.2 1537.3,1222.9 1538.3,1223.4 1539.2,1223.4 1540.2,1222.9 1540.2,1226.1 1539.2,1226.2 1538.3,1225.8 1537.3,1227.6 1536.4,1228.1 1535.5,1230.1 1534.5,1228.7 1533.6,1230.2 1532.6,1229.7 1531.7,1229.9 1530.7,1228.5 1529.8,1227.3 1528.8,1225.7 1527.9,1225.9 1526.9,1226.0 1526.0,1227.0 1525.0,1228.8 1524.1,1230.3 1523.2,1233.6 1522.2,1235.0 1521.3,1233.4 1520.3,1232.6 1519.4,1232.7 1518.4,1230.1 1517.5,1229.5 1516.5,1230.9 1515.6,1229.8 1514.6,1230.3 1513.7,1229.9 1512.8,1230.4 1511.8,1231.1 1510.9,1231.2 1509.9,1235.4 1509.0,1233.1 1508.0,1232.3 1507.1,1232.1 1506.1,1232.6 1505.2,1231.6 1504.2,1232.2 1503.3,1232.9 1502.3,1234.9 1501.4,1232.2 1500.5,1232.3 1499.5,1231.2 1498.6,1231.3 1497.6,1232.6 1496.7,1232.4 1495.7,1233.3 1494.8,1234.3 1493.8,1234.9 1492.9,1236.5 1491.9,1236.0 1491.0,1236.4 1490.1,1237.3 1489.1,1236.7 1488.2,1236.4 1487.2,1237.4 1486.3,1235.9 1485.3,1235.8 1484.4,1234.8 1483.4,1236.5 1482.5,1237.0 1481.5,1235.2 1480.6,1236.6 1479.6,1236.8 1478.7,1237.2 1477.8,1236.6 1476.8,1236.0 1475.9,1235.2 1474.9,1235.2 1474.0,1238.4 1473.0,1237.1 1472.1,1236.9 1471.1,1239.5 1470.2,1240.4 1469.2,1239.7 1468.3,1238.9 1467.4,1238.4 1466.4,1238.7 1465.5,1237.6 1464.5,1238.5 1463.6,1237.4 1462.6,1238.6 1461.7,1237.3 1460.7,1237.8 1459.8,1239.9 1458.8,1239.7 1457.9,1241.6 1456.9,1241.1 1456.0,1240.8 1455.1,1239.6 1454.1,1238.7 1453.2,1238.6 1452.2,1237.7 1451.3,1238.5 1450.3,1239.2 1449.4,1241.7 1448.4,1242.1 1447.5,1242.2 1446.5,1242.9 1445.6,1242.9 1444.7,1241.2 1443.7,1239.9 1442.8,1238.2 1441.8,1239.4 1440.9,1240.1 1439.9,1241.5 1439.0,1242.1 1438.0,1241.5 1437.1,1243.7 1436.1,1242.1 1435.2,1241.8 1434.2,1243.2 1433.3,1243.1 1432.4,1242.1 1431.4,1240.9 1430.5,1242.4 1429.5,1242.1 1428.6,1243.6 1427.6,1243.6 1426.7,1244.7 1425.7,1244.4 1424.8,1245.5 1423.8,1246.0 1422.9,1246.8 1422.0,1246.6 1421.0,1247.8 1420.1,1246.9 1419.1,1245.9 1418.2,1245.6 1417.2,1244.8 1416.3,1244.0 1415.3,1245.3 1414.4,1244.2 1413.4,1245.7 1412.5,1246.0 1411.5,1246.0 1410.6,1246.7 1409.7,1246.3 1408.7,1246.0 1407.8,1245.6 1406.8,1243.6 1405.9,1242.5 1404.9,1242.9 1404.0,1243.7 1403.0,1241.5 1402.1,1242.6 1401.1,1242.4 1400.2,1244.6 1399.3,1244.9 1398.3,1246.8 1397.4,1248.4 1396.4,1247.8 1395.5,1246.0 1394.5,1246.7 1393.6,1244.1 1392.6,1243.6 1391.7,1242.7 1390.7,1243.1 1389.8,1244.5 1388.8,1244.1 1387.9,1244.6 1387.0,1243.5 1386.0,1242.3 1385.1,1241.5 1384.1,1241.0 1383.2,1240.4 1382.2,1239.3 1381.3,1240.3 1380.3,1240.5 1379.4,1241.7 1378.4,1242.6 1377.5,1243.0 1376.6,1244.0 1375.6,1243.3 1374.7,1242.6 1373.7,1243.2 1372.8,1245.1 1371.8,1245.5 1370.9,1247.8 1369.9,1248.8 1369.0,1249.7 1368.0,1252.9 1367.1,1253.2 1366.1,1254.8 1365.2,1255.1 1364.3,1257.2 1363.3,1257.4 1362.4,1258.2 1361.4,1259.5 1360.5,1259.3 1359.5,1260.3 1358.6,1257.9 1357.6,1259.3 1356.7,1258.6 1355.7,1258.0 1354.8,1258.3 1353.8,1257.9 1352.9,1257.6 1352.0,1256.6 1351.0,1255.9 1350.1,1255.6 1349.1,1257.1 1348.2,1256.2 1347.2,1257.2 1346.3,1256.5 1345.3,1257.3 1344.4,1253.0 1343.4,1250.1 1342.5,1248.4 1341.6,1245.4 1340.6,1243.2 1339.7,1240.4 1338.7,1239.1 1337.8,1237.0 1336.8,1237.0 1335.9,1235.7 1334.9,1234.2 1334.0,1234.3 1333.0,1233.0 1332.1,1230.8 1331.1,1230.3 1330.2,1228.0 1329.3,1227.0 1328.3,1228.4 1327.4,1231.3 1326.4,1233.2 1325.5,1233.1 1324.5,1233.3 1323.6,1235.4 1322.6,1235.3 1321.7,1234.6 1320.7,1236.3 1319.8,1235.4 1318.9,1236.9 1317.9,1238.0 1317.0,1239.3 1316.0,1241.9 1315.1,1243.1 1314.1,1242.9 1313.2,1245.3 1312.2,1246.1 1311.3,1245.3 1310.3,1246.7 1309.4,1250.0 1308.4,1251.2 1307.5,1252.5 1306.6,1253.3 1305.6,1254.5 1304.7,1256.7 1303.7,1257.2 1302.8,1257.2 1301.8,1259.9 1300.9,1262.1 1299.9,1262.3 1299.0,1262.8 1298.0,1259.7 1297.1,1257.0 1296.2,1255.5 1295.2,1251.6 1294.3,1248.4 1293.3,1246.3 1292.4,1242.8 1291.4,1241.5 1290.5,1238.6 1289.5,1234.0 1288.6,1232.5 1287.6,1227.7 1286.7,1225.0 1285.7,1223.3 1284.8,1221.4 1283.9,1218.7 1282.9,1217.6 1282.0,1216.5 1281.0,1216.4 1280.1,1214.7 1279.1,1210.6 1278.2,1207.3 1277.2,1204.2 1276.3,1202.7 1275.3,1200.3 1274.4,1199.3 1273.5,1196.3 1272.5,1193.9 1271.6,1191.2 1270.6,1190.0 1269.7,1183.0 1268.7,1175.5 1267.8,1168.4 1266.8,1162.0 1265.9,1154.0 1264.9,1146.5 1264.0,1138.5 1263.0,1131.2 1262.1,1123.9 1261.2,1117.5 1260.2,1111.0 1259.3,1106.9 1258.3,1101.5 1257.4,1094.8 1256.4,1089.5 1255.5,1084.0 1254.5,1079.4 1253.6,1075.3 1252.6,1069.1 1251.7,1064.6 1250.8,1057.0 1249.8,1052.0 1248.9,1050.5 1247.9,1049.6 1247.0,1047.4 1246.0,1046.9 1245.1,1047.6 1244.1,1047.0 1243.2,1048.1 1242.2,1049.3 1241.3,1047.5 1240.3,1048.4 1239.4,1047.7 1238.5,1046.3 1237.5,1046.8 1236.6,1045.3 1235.6,1044.5 1234.7,1044.1 1233.7,1044.4 1232.8,1042.9 1231.8,1044.4 1230.9,1043.4 1229.9,1042.9 1229.0,1042.7 1228.1,1042.0 1227.1,1043.3 1226.2,1042.1 1225.2,1040.9 1224.3,1041.0 1223.3,1041.3 1222.4,1043.2 1221.4,1040.3 1220.5,1040.5 1219.5,1039.7 1218.6,1038.0 1217.6,1039.7 1216.7,1038.9 1215.8,1040.6 1214.8,1038.8 1213.9,1037.7 1212.9,1036.8 1212.0,1036.6 1211.0,1036.6 1210.1,1035.4 1209.1,1037.1 1208.2,1035.8 1207.2,1036.9 1206.3,1036.4 1205.4,1034.2 1204.4,1033.7 1203.5,1032.8 1202.5,1031.2 1201.6,1031.6 1200.6,1031.7 1199.7,1030.9 1198.7,1031.7 1197.8,1032.2 1196.8,1031.5 1195.9,1031.1 1194.9,1030.9 1194.0,1029.6 1193.1,1028.8 1192.1,1030.0 1191.2,1028.1 1190.2,1030.1 1189.3,1029.8 1188.3,1029.7 1187.4,1032.5 1186.4,1030.8 1185.5,1031.2 1184.5,1029.8 1183.6,1028.0 1182.7,1026.3 1181.7,1024.7 1180.8,1024.5 1179.8,1025.2 1178.9,1023.6 1177.9,1023.3 1177.0,1024.5 1176.0,1024.8 1175.1,1024.3 1174.1,1024.9 1173.2,1024.3 1172.2,1024.6 1171.3,1022.5 1170.4,1021.6 1169.4,1022.4 1168.5,1022.0 1167.5,1022.5 1166.6,1022.2 1165.6,1021.7 1164.7,1023.2 1163.7,1021.2 1162.8,1020.3 1161.8,1019.9 1160.9,1019.6 1160.0,1020.0 1159.0,1018.8 1158.1,1017.5 1157.1,1017.7 1156.2,1016.1 1155.2,1016.7 1154.3,1018.5 1153.3,1019.1 1152.4,1020.7 1151.4,1020.9 1150.5,1020.6 1149.5,1020.6 1148.6,1020.4 1147.7,1017.6 1146.7,1017.6 1145.8,1016.6 1144.8,1015.7 1143.9,1016.3 1142.9,1016.1 1142.0,1016.2 1141.0,1014.4 1140.1,1015.2 1139.1,1013.1 1138.2,1012.8 1137.2,1013.1 1136.3,1012.2 1135.4,1010.6 1134.4,1009.7 1133.5,1010.4 1132.5,1010.2 1131.6,1010.0 1130.6,1010.8 1129.7,1011.4 1128.7,1011.9 1127.8,1010.6 1126.8,1010.0 1125.9,1008.6 1125.0,1007.1 1124.0,1005.9 1123.1,1006.2 1122.1,1006.9 1121.2,1006.5 1120.2,1006.7 1119.3,1007.8 1118.3,1005.7 1117.4,1006.6 1116.4,1006.8 1115.5,1007.4 1114.5,1006.0 1113.6,1007.8 1112.7,1007.2 1111.7,1007.9 1110.8,1008.9 1109.8,1007.1 1108.9,1006.0 1107.9,1004.5 1107.0,1003.6 1106.0,1003.0 1105.1,1003.2 1104.1,1003.3 1103.2,1003.5 1102.3,1004.5 1101.3,1002.8 1100.4,1002.4 1099.4,1001.7 1098.5,1001.8 1097.5,1001.4 1096.6,1000.7 1095.6,1001.2 1094.7,999.4 1093.7,999.1 1092.8,998.7 1091.8,999.3 1090.9,999.7 1090.0,998.3 1089.0,1000.2 1088.1,998.8 1087.1,997.5 1086.2,996.8 1085.2,996.4 1084.3,995.7 1083.3,998.0 1082.4,996.8 1081.4,997.1 1080.5,998.2 1079.6,998.7 1078.6,998.2 1077.7,999.5 1076.7,999.3 1075.8,997.3 1074.8,996.3 1073.9,995.8 1072.9,995.9 1072.0,995.3 1071.0,995.3 1070.1,996.5 1069.1,994.3 1068.2,992.2 1067.3,990.0 1066.3,988.0 1065.4,985.2 1064.4,982.7 1063.5,982.3 1062.5,982.2 1061.6,983.6 1060.6,982.7 1059.7,982.8 1058.7,982.4 1057.8,981.9 1056.9,979.8 1055.9,981.3 1055.0,979.8 1054.0,979.6 1053.1,981.5 1052.1,980.5 1051.2,979.6 1050.2,980.6 1049.3,978.5 1048.3,977.4 1047.4,976.9 1046.4,976.7 1045.5,978.9 1044.6,979.5 1043.6,980.5 1042.7,982.7 1041.7,983.6 1040.8,985.7 1039.8,987.4 1038.9,989.4 1037.9,991.4 1037.0,994.6 1036.0,996.5 1035.1,995.5 1034.2,995.8 1033.2,996.2 1032.3,995.1 1031.3,993.3 1030.4,991.6 1029.4,991.2 1028.5,991.4 1027.5,990.7 1026.6,989.5 1025.6,989.9 1024.7,988.6 1023.7,988.5 1022.8,986.9 1021.9,987.0 1020.9,985.4 1020.0,985.0 1019.0,984.1 1018.1,982.2 1017.1,981.0 1016.2,980.4 1015.2,978.0 1014.3,976.5 1013.3,977.1 1012.4,973.9 1011.5,973.0 1010.5,973.3 1009.6,972.6 1008.6,971.0 1007.7,971.3 1006.7,971.3 1005.8,968.5 1004.8,968.5 1003.9,968.0 1002.9,967.3 1002.0,969.8 1001.0,972.4 1000.1,976.0 999.2,979.5 998.2,984.0 997.3,987.5 996.3,990.6 995.4,994.0 994.4,999.5 993.5,1002.4 992.5,1007.1 991.6,1010.1 990.6,1013.7 989.7,1015.4 988.8,1017.1 987.8,1019.3 986.9,1021.7 985.9,1023.2 985.0,1023.9 984.0,1025.2 983.1,1028.8 982.1,1028.7 981.2,1032.8 980.2,1034.0 979.3,1038.5 978.3,1039.4 977.4,1043.8 976.5,1045.9 975.5,1047.1 974.6,1048.2 973.6,1050.0 972.7,1053.2 971.7,1057.6 970.8,1060.6 969.8,1062.6 968.9,1065.1 967.9,1066.8 967.0,1068.7 966.1,1072.2 965.1,1077.2 964.2,1083.2 963.2,1089.2 962.3,1092.7 961.3,1097.8 960.4,1101.6 959.4,1105.9 958.5,1111.4 957.5,1116.6 956.6,1120.5 955.6,1124.6 954.7,1130.2" fill="#A8A8A8"/>
<path d="M954.7,1128.0 L955.6,1123.4 L956.6,1118.7 L957.5,1114.0 L958.5,1109.3 L959.4,1104.7 L960.4,1100.4 L961.3,1096.1 L962.3,1091.7 L963.2,1086.8 L964.2,1081.5 L965.1,1076.1 L966.1,1071.1 L967.0,1067.6 L967.9,1065.5 L968.9,1063.5 L969.8,1061.2 L970.8,1058.5 L971.7,1055.3 L972.7,1052.0 L973.6,1048.9 L974.6,1046.5 L975.5,1044.4 L976.5,1042.5 L977.4,1040.7 L978.3,1038.3 L979.3,1036.0 L980.2,1032.9 L981.2,1029.8 L982.1,1027.1 L983.1,1025.1 M985.9,1021.8 L986.9,1020.1 L987.8,1018.1 L988.8,1016.1 L989.7,1014.3 L990.6,1012.0 L991.6,1008.8 L992.5,1005.2 L993.5,1001.1 L994.4,996.8 L995.4,992.9 L996.3,989.2 L997.3,985.4 L998.2,981.8 L999.2,978.1 L1000.1,974.5 L1001.0,971.2 L1002.0,968.1 L1002.9,965.1 M1013.3,973.9 L1014.3,975.4 L1015.2,977.0 L1016.2,978.5 M1037.0,991.9 L1037.9,990.2 L1038.9,988.3 L1039.8,986.2 L1040.8,984.3 L1041.7,982.5 L1042.7,980.8 L1043.6,979.1 L1044.6,977.6 M1064.4,981.6 L1065.4,983.3 L1066.3,985.5 L1067.3,988.1 L1068.2,990.5 L1069.1,992.4 M1247.9,1046.9 L1248.9,1048.8 L1249.8,1050.8 L1250.8,1055.9 L1251.7,1062.1 L1252.6,1067.6 L1253.6,1072.7 L1254.5,1077.6 L1255.5,1082.6 L1256.4,1087.9 L1257.4,1093.5 L1258.3,1099.1 L1259.3,1104.6 L1260.2,1110.0 L1261.2,1115.6 L1262.1,1121.8 L1263.0,1129.6 L1264.0,1137.5 L1264.9,1145.4 L1265.9,1153.0 L1266.8,1160.2 L1267.8,1167.3 L1268.7,1174.4 L1269.7,1181.9 L1270.6,1187.3 L1271.6,1189.9 L1272.5,1192.4 L1273.5,1194.6 L1274.4,1196.4 L1275.3,1198.1 L1276.3,1200.3 L1277.2,1203.1 L1278.2,1206.1 L1279.1,1209.1 L1280.1,1211.7 L1281.0,1213.7 L1282.0,1215.2 M1283.9,1217.6 L1284.8,1219.1 L1285.7,1221.0 L1286.7,1223.5 L1287.6,1226.5 L1288.6,1229.8 L1289.5,1233.0 L1290.5,1236.0 L1291.4,1238.8 L1292.4,1241.4 L1293.3,1244.1 L1294.3,1246.7 L1295.2,1249.5 L1296.2,1252.4 L1297.1,1255.4 L1298.0,1258.2 L1299.0,1260.9 M1307.5,1250.4 L1308.4,1248.8 L1309.4,1247.0 L1310.3,1245.3 M1337.8,1235.8 L1338.7,1237.5 L1339.7,1239.3 L1340.6,1241.4 L1341.6,1243.6 L1342.5,1246.1 L1343.4,1248.8 L1344.4,1251.3 L1345.3,1253.4 L1346.3,1255.1 M1523.2,1230.6 L1524.1,1228.7 L1525.0,1226.5 L1526.0,1224.9" fill="none" stroke="#A8A8A8" stroke-width="1.6" stroke-linejoin="round"/>
<path d="M1030.4,990.3 L1031.3,991.9 L1032.3,993.7 M1182.7,1024.2 L1183.6,1025.8 L1184.5,1027.6 M1300.9,1258.8 L1301.8,1257.3 M1316.0,1239.6 L1317.0,1238.1 L1317.9,1236.5 M1327.4,1228.9 L1328.3,1227.3 L1329.3,1225.6" fill="none" stroke="#A8A8A8" stroke-width="1.3" stroke-linejoin="round"/>
<polygon points="954.7,1128.3 955.6,1121.6 956.6,1117.4 957.5,1111.8 958.5,1104.4 959.4,1097.4 960.4,1091.4 961.3,1087.3 962.3,1081.8 963.2,1077.1 964.2,1070.6 965.1,1064.1 966.1,1057.9 967.0,1053.2 967.9,1051.4 968.9,1049.7 969.8,1046.6 970.8,1043.9 971.7,1042.8 972.7,1039.1 973.6,1035.4 974.6,1034.0 975.5,1028.4 976.5,1027.9 977.4,1025.0 978.3,1021.8 979.3,1015.5 980.2,1014.5 981.2,1010.3 982.1,1006.2 983.1,1000.8 984.0,999.2 985.0,997.4 985.9,993.0 986.9,991.5 987.8,990.8 988.8,986.0 989.7,985.9 990.6,983.2 991.6,979.6 992.5,976.1 993.5,970.7 994.4,966.4 995.4,962.2 996.3,958.9 997.3,956.2 998.2,952.8 999.2,948.5 1000.1,945.2 1001.0,942.5 1002.0,939.2 1002.9,935.1 1003.9,931.6 1004.8,930.4 1005.8,931.2 1006.7,932.2 1007.7,933.3 1008.6,935.7 1009.6,937.5 1010.5,939.7 1011.5,941.8 1012.4,943.0 1013.3,943.6 1014.3,948.1 1015.2,950.5 1016.2,951.7 1017.1,952.3 1018.1,952.9 1019.0,952.3 1020.0,953.7 1020.9,956.1 1021.9,957.8 1022.8,961.2 1023.7,963.4 1024.7,965.9 1025.6,966.4 1026.6,967.3 1027.5,968.6 1028.5,970.0 1029.4,972.1 1030.4,973.0 1031.3,974.2 1032.3,976.3 1033.2,977.4 1034.2,980.4 1035.1,978.5 1036.0,977.9 1037.0,975.4 1037.9,974.6 1038.9,973.1 1039.8,971.2 1040.8,967.4 1041.7,965.5 1042.7,962.6 1043.6,959.4 1044.6,955.7 1045.5,954.3 1046.4,954.9 1047.4,955.6 1048.3,955.1 1049.3,955.4 1050.2,956.4 1051.2,955.4 1052.1,953.7 1053.1,954.9 1054.0,953.8 1055.0,952.8 1055.9,953.7 1056.9,955.5 1057.8,956.1 1058.7,957.4 1059.7,957.3 1060.6,957.1 1061.6,956.7 1062.5,957.4 1063.5,957.0 1064.4,955.8 1065.4,959.2 1066.3,959.1 1067.3,960.0 1068.2,959.6 1069.1,960.3 1070.1,961.7 1071.0,964.6 1072.0,964.5 1072.9,965.5 1073.9,965.6 1074.8,966.0 1075.8,967.7 1076.7,968.2 1077.7,967.7 1078.6,967.8 1079.6,966.6 1080.5,967.3 1081.4,967.4 1082.4,968.3 1083.3,968.7 1084.3,970.4 1085.2,970.9 1086.2,971.2 1087.1,971.0 1088.1,971.2 1089.0,970.8 1090.0,971.4 1090.9,971.7 1091.8,971.7 1092.8,971.5 1093.7,971.4 1094.7,972.4 1095.6,970.7 1096.6,971.4 1097.5,971.5 1098.5,973.1 1099.4,973.0 1100.4,975.7 1101.3,977.1 1102.3,978.3 1103.2,976.9 1104.1,977.3 1105.1,975.0 1106.0,975.6 1107.0,973.8 1107.9,975.0 1108.9,975.7 1109.8,974.9 1110.8,975.8 1111.7,975.8 1112.7,976.7 1113.6,976.6 1114.5,976.1 1115.5,976.9 1116.4,975.8 1117.4,977.2 1118.3,976.9 1119.3,978.1 1120.2,979.9 1121.2,979.8 1122.1,980.2 1123.1,981.3 1124.0,981.0 1125.0,979.8 1125.9,979.5 1126.8,979.1 1127.8,977.5 1128.7,977.9 1129.7,979.6 1130.6,979.1 1131.6,977.8 1132.5,979.7 1133.5,979.6 1134.4,979.8 1135.4,982.7 1136.3,983.5 1137.2,983.8 1138.2,983.7 1139.1,984.6 1140.1,984.4 1141.0,984.4 1142.0,986.0 1142.9,986.0 1143.9,986.8 1144.8,985.4 1145.8,985.3 1146.7,984.8 1147.7,985.6 1148.6,982.5 1149.5,985.1 1150.5,985.7 1151.4,986.5 1152.4,989.0 1153.3,988.9 1154.3,991.1 1155.2,991.9 1156.2,991.8 1157.1,991.1 1158.1,990.9 1159.0,991.2 1160.0,991.4 1160.9,990.6 1161.8,990.5 1162.8,991.6 1163.7,992.2 1164.7,991.8 1165.6,989.4 1166.6,992.2 1167.5,992.7 1168.5,993.5 1169.4,993.9 1170.4,994.9 1171.3,995.4 1172.2,995.6 1173.2,993.4 1174.1,994.3 1175.1,993.7 1176.0,991.7 1177.0,993.6 1177.9,994.3 1178.9,994.6 1179.8,994.0 1180.8,992.9 1181.7,996.4 1182.7,995.9 1183.6,997.9 1184.5,999.1 1185.5,999.9 1186.4,999.5 1187.4,1000.9 1188.3,999.8 1189.3,999.7 1190.2,1000.2 1191.2,999.2 1192.1,1000.6 1193.1,999.9 1194.0,1001.8 1194.9,1002.0 1195.9,1001.3 1196.8,1002.6 1197.8,1003.6 1198.7,1005.0 1199.7,1004.5 1200.6,1006.4 1201.6,1006.7 1202.5,1004.5 1203.5,1007.4 1204.4,1006.7 1205.4,1008.2 1206.3,1009.1 1207.2,1009.8 1208.2,1008.6 1209.1,1008.6 1210.1,1009.3 1211.0,1009.4 1212.0,1009.9 1212.9,1011.4 1213.9,1012.5 1214.8,1013.4 1215.8,1011.8 1216.7,1014.1 1217.6,1014.2 1218.6,1014.1 1219.5,1014.2 1220.5,1015.6 1221.4,1017.0 1222.4,1016.7 1223.3,1017.8 1224.3,1016.7 1225.2,1016.4 1226.2,1017.3 1227.1,1015.3 1228.1,1016.4 1229.0,1016.8 1229.9,1017.1 1230.9,1017.2 1231.8,1016.0 1232.8,1017.6 1233.7,1018.9 1234.7,1021.1 1235.6,1022.1 1236.6,1021.4 1237.5,1022.6 1238.5,1022.1 1239.4,1021.1 1240.3,1021.5 1241.3,1022.1 1242.2,1022.9 1243.2,1021.3 1244.1,1024.2 1245.1,1024.0 1246.0,1024.6 1247.0,1024.5 1247.9,1025.7 1248.9,1027.5 1249.8,1029.0 1250.8,1033.3 1251.7,1039.0 1252.6,1046.2 1253.6,1051.1 1254.5,1058.6 1255.5,1065.0 1256.4,1071.6 1257.4,1079.3 1258.3,1088.2 1259.3,1096.4 1260.2,1103.6 1261.2,1110.7 1262.1,1118.7 1263.0,1126.6 1264.0,1131.6 1264.9,1141.4 1265.9,1148.0 1266.8,1155.2 1267.8,1163.4 1268.7,1172.1 1269.7,1178.8 1270.6,1186.4 1271.6,1188.7 1272.5,1192.1 1273.5,1193.9 1274.4,1195.2 1275.3,1199.0 1276.3,1200.8 1277.2,1202.2 1278.2,1202.1 1279.1,1206.8 1280.1,1208.0 1281.0,1210.5 1282.0,1212.3 1282.9,1215.4 1283.9,1216.8 1284.8,1218.9 1285.7,1220.1 1286.7,1225.5 1287.6,1228.9 1288.6,1234.3 1289.5,1238.4 1290.5,1242.5 1291.4,1247.1 1292.4,1251.5 1293.3,1255.3 1294.3,1258.8 1295.2,1261.8 1296.2,1263.5 1297.1,1265.2 1298.0,1266.3 1299.0,1269.5 1299.9,1269.4 1300.9,1267.0 1301.8,1267.2 1302.8,1267.3 1303.7,1266.7 1304.7,1264.8 1305.6,1264.3 1306.6,1262.7 1307.5,1260.5 1308.4,1260.5 1309.4,1259.5 1310.3,1257.8 1311.3,1255.4 1312.2,1253.2 1313.2,1251.7 1314.1,1250.2 1315.1,1248.8 1316.0,1248.1 1317.0,1247.3 1317.9,1246.9 1318.9,1245.8 1319.8,1245.2 1320.7,1241.8 1321.7,1243.6 1322.6,1242.8 1323.6,1241.5 1324.5,1240.2 1325.5,1237.0 1326.4,1237.1 1327.4,1233.9 1328.3,1232.5 1329.3,1230.7 1330.2,1233.1 1331.1,1234.7 1332.1,1237.7 1333.0,1237.1 1334.0,1239.1 1334.9,1240.7 1335.9,1243.2 1336.8,1243.8 1337.8,1244.4 1338.7,1245.5 1339.7,1247.3 1340.6,1248.3 1341.6,1251.7 1342.5,1253.8 1343.4,1256.3 1344.4,1258.2 1345.3,1258.5 1346.3,1261.1 1347.2,1262.5 1348.2,1262.4 1349.1,1263.8 1350.1,1265.9 1351.0,1265.9 1352.0,1266.9 1352.9,1266.8 1353.8,1267.3 1354.8,1267.5 1355.7,1268.1 1356.7,1269.1 1357.6,1269.6 1358.6,1269.6 1359.5,1270.4 1360.5,1270.2 1361.4,1269.7 1362.4,1270.6 1363.3,1268.6 1364.3,1268.0 1365.2,1268.5 1366.1,1266.8 1367.1,1266.0 1368.0,1265.4 1369.0,1265.9 1369.9,1265.2 1370.9,1267.8 1371.8,1266.4 1372.8,1267.3 1373.7,1264.7 1374.7,1264.2 1375.6,1265.3 1376.6,1262.8 1377.5,1265.7 1378.4,1265.5 1379.4,1266.7 1380.3,1266.5 1381.3,1266.1 1382.2,1264.7 1383.2,1263.8 1384.1,1262.8 1385.1,1261.8 1386.0,1261.9 1387.0,1261.2 1387.9,1262.2 1388.8,1261.7 1389.8,1262.3 1390.7,1261.9 1391.7,1263.9 1392.6,1265.1 1393.6,1263.8 1394.5,1262.8 1395.5,1261.4 1396.4,1261.1 1397.4,1260.5 1398.3,1261.0 1399.3,1259.9 1400.2,1260.8 1401.1,1263.5 1402.1,1263.6 1403.0,1263.5 1404.0,1263.5 1404.9,1262.4 1405.9,1262.9 1406.8,1260.4 1407.8,1260.6 1408.7,1260.2 1409.7,1260.0 1410.6,1259.0 1411.5,1258.7 1412.5,1258.8 1413.4,1258.9 1414.4,1259.0 1415.3,1258.5 1416.3,1258.2 1417.2,1259.1 1418.2,1257.9 1419.1,1256.4 1420.1,1255.8 1421.0,1253.6 1422.0,1253.8 1422.9,1254.3 1423.8,1254.8 1424.8,1254.5 1425.7,1255.2 1426.7,1257.0 1427.6,1256.9 1428.6,1255.2 1429.5,1255.6 1430.5,1255.5 1431.4,1254.3 1432.4,1255.3 1433.3,1252.5 1434.2,1254.4 1435.2,1254.3 1436.1,1251.2 1437.1,1252.1 1438.0,1251.8 1439.0,1250.7 1439.9,1251.8 1440.9,1251.9 1441.8,1251.1 1442.8,1251.5 1443.7,1253.5 1444.7,1251.2 1445.6,1251.5 1446.5,1251.3 1447.5,1251.2 1448.4,1250.5 1449.4,1251.1 1450.3,1251.4 1451.3,1251.9 1452.2,1251.9 1453.2,1252.1 1454.1,1250.7 1455.1,1253.0 1456.0,1253.1 1456.9,1253.2 1457.9,1253.1 1458.8,1252.6 1459.8,1253.1 1460.7,1252.8 1461.7,1252.0 1462.6,1251.9 1463.6,1251.4 1464.5,1250.3 1465.5,1250.0 1466.4,1248.3 1467.4,1250.4 1468.3,1249.1 1469.2,1250.1 1470.2,1249.6 1471.1,1249.6 1472.1,1249.1 1473.0,1248.5 1474.0,1247.6 1474.9,1248.4 1475.9,1248.1 1476.8,1247.0 1477.8,1247.1 1478.7,1247.2 1479.6,1246.0 1480.6,1246.7 1481.5,1247.0 1482.5,1247.6 1483.4,1248.1 1484.4,1247.2 1485.3,1246.1 1486.3,1244.4 1487.2,1245.0 1488.2,1244.8 1489.1,1245.7 1490.1,1245.2 1491.0,1245.1 1491.9,1245.2 1492.9,1244.2 1493.8,1241.2 1494.8,1241.7 1495.7,1241.4 1496.7,1242.3 1497.6,1243.9 1498.6,1243.9 1499.5,1243.0 1500.5,1243.1 1501.4,1242.2 1502.3,1241.7 1503.3,1241.3 1504.2,1241.8 1505.2,1241.7 1506.1,1242.8 1507.1,1242.0 1508.0,1242.7 1509.0,1241.7 1509.9,1239.4 1510.9,1238.6 1511.8,1238.3 1512.8,1238.4 1513.7,1237.5 1514.6,1239.0 1515.6,1238.9 1516.5,1240.1 1517.5,1239.2 1518.4,1239.7 1519.4,1239.4 1520.3,1239.2 1521.3,1238.8 1522.2,1238.2 1523.2,1236.5 1524.1,1237.4 1525.0,1236.6 1526.0,1236.0 1526.9,1236.7 1527.9,1236.5 1528.8,1237.0 1529.8,1237.0 1530.7,1237.0 1531.7,1236.7 1532.6,1235.0 1533.6,1234.8 1534.5,1234.3 1535.5,1231.7 1536.4,1231.1 1537.3,1233.4 1538.3,1233.7 1539.2,1233.5 1540.2,1235.5 1540.2,1238.9 1539.2,1237.1 1538.3,1236.4 1537.3,1238.4 1536.4,1236.1 1535.5,1237.2 1534.5,1238.6 1533.6,1238.2 1532.6,1239.1 1531.7,1240.3 1530.7,1240.5 1529.8,1240.7 1528.8,1239.9 1527.9,1240.0 1526.9,1241.8 1526.0,1239.9 1525.0,1239.6 1524.1,1241.1 1523.2,1240.2 1522.2,1240.6 1521.3,1241.1 1520.3,1242.5 1519.4,1241.8 1518.4,1242.4 1517.5,1242.8 1516.5,1243.7 1515.6,1243.7 1514.6,1242.2 1513.7,1241.5 1512.8,1240.7 1511.8,1240.9 1510.9,1242.0 1509.9,1243.8 1509.0,1244.5 1508.0,1246.6 1507.1,1248.7 1506.1,1245.6 1505.2,1245.2 1504.2,1244.9 1503.3,1245.2 1502.3,1246.2 1501.4,1245.2 1500.5,1247.0 1499.5,1250.1 1498.6,1248.8 1497.6,1247.3 1496.7,1246.8 1495.7,1245.4 1494.8,1245.1 1493.8,1245.5 1492.9,1247.7 1491.9,1248.4 1491.0,1248.8 1490.1,1249.1 1489.1,1248.2 1488.2,1248.5 1487.2,1248.0 1486.3,1247.6 1485.3,1248.7 1484.4,1249.5 1483.4,1251.8 1482.5,1251.3 1481.5,1251.2 1480.6,1249.9 1479.6,1250.6 1478.7,1250.3 1477.8,1249.8 1476.8,1250.9 1475.9,1251.0 1474.9,1251.2 1474.0,1252.2 1473.0,1252.1 1472.1,1252.8 1471.1,1254.0 1470.2,1253.1 1469.2,1254.1 1468.3,1254.4 1467.4,1253.7 1466.4,1254.4 1465.5,1254.3 1464.5,1254.6 1463.6,1253.6 1462.6,1255.0 1461.7,1254.7 1460.7,1254.9 1459.8,1255.9 1458.8,1255.8 1457.9,1256.8 1456.9,1256.6 1456.0,1256.5 1455.1,1255.1 1454.1,1255.0 1453.2,1255.0 1452.2,1256.6 1451.3,1254.4 1450.3,1254.3 1449.4,1254.1 1448.4,1253.3 1447.5,1254.9 1446.5,1254.9 1445.6,1255.1 1444.7,1256.4 1443.7,1256.7 1442.8,1256.4 1441.8,1257.1 1440.9,1254.6 1439.9,1254.8 1439.0,1254.6 1438.0,1255.1 1437.1,1256.9 1436.1,1257.0 1435.2,1258.1 1434.2,1257.7 1433.3,1257.8 1432.4,1258.8 1431.4,1258.0 1430.5,1257.9 1429.5,1259.8 1428.6,1258.8 1427.6,1259.8 1426.7,1260.5 1425.7,1260.8 1424.8,1258.9 1423.8,1257.7 1422.9,1256.9 1422.0,1257.2 1421.0,1257.7 1420.1,1258.4 1419.1,1260.3 1418.2,1261.0 1417.2,1262.2 1416.3,1262.2 1415.3,1262.1 1414.4,1262.1 1413.4,1262.2 1412.5,1261.6 1411.5,1261.6 1410.6,1263.3 1409.7,1263.3 1408.7,1263.8 1407.8,1263.8 1406.8,1265.3 1405.9,1267.5 1404.9,1266.3 1404.0,1266.3 1403.0,1266.6 1402.1,1266.1 1401.1,1266.4 1400.2,1267.5 1399.3,1264.2 1398.3,1264.1 1397.4,1263.7 1396.4,1263.8 1395.5,1265.2 1394.5,1267.7 1393.6,1268.4 1392.6,1268.2 1391.7,1267.4 1390.7,1266.0 1389.8,1265.7 1388.8,1265.8 1387.9,1265.0 1387.0,1266.2 1386.0,1265.5 1385.1,1266.3 1384.1,1266.4 1383.2,1269.3 1382.2,1267.7 1381.3,1269.3 1380.3,1269.1 1379.4,1271.3 1378.4,1270.8 1377.5,1269.1 1376.6,1268.9 1375.6,1268.3 1374.7,1269.7 1373.7,1270.6 1372.8,1269.7 1371.8,1271.6 1370.9,1271.9 1369.9,1270.6 1369.0,1269.8 1368.0,1269.4 1367.1,1269.5 1366.1,1270.6 1365.2,1272.4 1364.3,1271.7 1363.3,1273.9 1362.4,1273.2 1361.4,1273.5 1360.5,1273.4 1359.5,1272.8 1358.6,1272.4 1357.6,1272.6 1356.7,1271.6 1355.7,1272.1 1354.8,1270.0 1353.8,1272.2 1352.9,1270.4 1352.0,1272.0 1351.0,1271.1 1350.1,1269.2 1349.1,1267.7 1348.2,1265.4 1347.2,1267.1 1346.3,1263.6 1345.3,1264.0 1344.4,1261.5 1343.4,1260.5 1342.5,1257.9 1341.6,1254.9 1340.6,1253.0 1339.7,1250.5 1338.7,1248.8 1337.8,1247.3 1336.8,1247.5 1335.9,1246.7 1334.9,1245.3 1334.0,1243.3 1333.0,1243.5 1332.1,1241.3 1331.1,1237.9 1330.2,1235.8 1329.3,1236.0 1328.3,1235.5 1327.4,1237.6 1326.4,1239.7 1325.5,1242.3 1324.5,1243.1 1323.6,1245.9 1322.6,1245.4 1321.7,1248.1 1320.7,1247.1 1319.8,1248.4 1318.9,1249.7 1317.9,1251.2 1317.0,1251.7 1316.0,1251.4 1315.1,1252.7 1314.1,1255.5 1313.2,1255.5 1312.2,1256.6 1311.3,1260.8 1310.3,1262.2 1309.4,1262.8 1308.4,1263.1 1307.5,1263.9 1306.6,1266.8 1305.6,1267.3 1304.7,1267.8 1303.7,1270.8 1302.8,1269.8 1301.8,1271.3 1300.9,1271.0 1299.9,1273.2 1299.0,1272.7 1298.0,1272.5 1297.1,1269.2 1296.2,1267.3 1295.2,1265.3 1294.3,1262.4 1293.3,1259.1 1292.4,1254.4 1291.4,1251.8 1290.5,1246.6 1289.5,1241.7 1288.6,1237.9 1287.6,1232.3 1286.7,1227.8 1285.7,1224.1 1284.8,1222.1 1283.9,1219.8 1282.9,1218.3 1282.0,1217.7 1281.0,1214.8 1280.1,1213.6 1279.1,1209.3 1278.2,1207.3 1277.2,1205.0 1276.3,1203.1 1275.3,1202.6 1274.4,1200.8 1273.5,1197.6 1272.5,1194.6 1271.6,1192.7 1270.6,1190.4 1269.7,1184.5 1268.7,1175.4 1267.8,1167.4 1266.8,1159.0 1265.9,1151.4 1264.9,1144.7 1264.0,1138.6 1263.0,1131.4 1262.1,1122.0 1261.2,1116.5 1260.2,1107.2 1259.3,1099.6 1258.3,1091.6 1257.4,1084.4 1256.4,1075.4 1255.5,1069.1 1254.5,1063.5 1253.6,1056.6 1252.6,1049.7 1251.7,1043.7 1250.8,1036.8 1249.8,1032.2 1248.9,1031.2 1247.9,1029.3 1247.0,1028.7 1246.0,1029.0 1245.1,1028.9 1244.1,1028.0 1243.2,1026.1 1242.2,1025.1 1241.3,1027.2 1240.3,1024.8 1239.4,1024.0 1238.5,1024.8 1237.5,1028.8 1236.6,1025.3 1235.6,1025.8 1234.7,1025.0 1233.7,1022.8 1232.8,1022.8 1231.8,1020.4 1230.9,1021.9 1229.9,1020.3 1229.0,1021.0 1228.1,1019.9 1227.1,1020.9 1226.2,1020.2 1225.2,1019.6 1224.3,1019.8 1223.3,1022.7 1222.4,1019.9 1221.4,1019.3 1220.5,1020.0 1219.5,1017.9 1218.6,1018.6 1217.6,1016.6 1216.7,1016.4 1215.8,1017.1 1214.8,1015.7 1213.9,1015.1 1212.9,1014.5 1212.0,1013.4 1211.0,1012.1 1210.1,1013.3 1209.1,1012.5 1208.2,1012.7 1207.2,1012.3 1206.3,1012.8 1205.4,1012.0 1204.4,1011.1 1203.5,1010.3 1202.5,1011.6 1201.6,1010.9 1200.6,1009.3 1199.7,1008.5 1198.7,1009.0 1197.8,1007.8 1196.8,1007.5 1195.9,1007.2 1194.9,1006.6 1194.0,1004.9 1193.1,1004.5 1192.1,1003.2 1191.2,1003.0 1190.2,1005.3 1189.3,1004.6 1188.3,1004.4 1187.4,1006.2 1186.4,1003.6 1185.5,1004.4 1184.5,1001.8 1183.6,1000.6 1182.7,1002.6 1181.7,999.1 1180.8,998.6 1179.8,998.5 1178.9,998.1 1177.9,997.6 1177.0,997.2 1176.0,997.6 1175.1,996.3 1174.1,996.7 1173.2,998.4 1172.2,1000.2 1171.3,1000.8 1170.4,998.8 1169.4,997.7 1168.5,995.9 1167.5,995.8 1166.6,994.6 1165.6,994.8 1164.7,995.2 1163.7,995.5 1162.8,995.5 1161.8,994.9 1160.9,995.5 1160.0,994.4 1159.0,995.8 1158.1,994.3 1157.1,994.3 1156.2,996.2 1155.2,995.6 1154.3,995.6 1153.3,992.9 1152.4,991.6 1151.4,989.9 1150.5,989.6 1149.5,989.7 1148.6,987.8 1147.7,988.9 1146.7,988.6 1145.8,988.9 1144.8,989.8 1143.9,989.1 1142.9,990.1 1142.0,990.4 1141.0,988.9 1140.1,987.7 1139.1,987.0 1138.2,987.4 1137.2,986.7 1136.3,987.7 1135.4,986.0 1134.4,985.2 1133.5,983.3 1132.5,982.5 1131.6,983.4 1130.6,982.1 1129.7,983.3 1128.7,982.9 1127.8,982.1 1126.8,983.3 1125.9,982.6 1125.0,983.8 1124.0,985.4 1123.1,984.6 1122.1,983.2 1121.2,983.8 1120.2,982.1 1119.3,982.0 1118.3,981.7 1117.4,981.2 1116.4,981.1 1115.5,979.2 1114.5,979.8 1113.6,980.6 1112.7,979.1 1111.7,979.5 1110.8,978.5 1109.8,978.6 1108.9,978.9 1107.9,978.2 1107.0,978.6 1106.0,979.4 1105.1,980.0 1104.1,979.8 1103.2,982.8 1102.3,980.7 1101.3,980.0 1100.4,978.7 1099.4,977.2 1098.5,975.5 1097.5,976.4 1096.6,974.8 1095.6,976.8 1094.7,976.3 1093.7,975.2 1092.8,975.0 1091.8,974.7 1090.9,974.3 1090.0,974.4 1089.0,973.4 1088.1,973.3 1087.1,973.9 1086.2,975.6 1085.2,973.3 1084.3,974.9 1083.3,972.9 1082.4,971.0 1081.4,970.2 1080.5,971.3 1079.6,970.8 1078.6,971.2 1077.7,972.0 1076.7,971.9 1075.8,971.6 1074.8,969.9 1073.9,969.9 1072.9,969.7 1072.0,968.0 1071.0,966.6 1070.1,965.5 1069.1,964.5 1068.2,963.7 1067.3,963.4 1066.3,962.3 1065.4,961.5 1064.4,961.8 1063.5,961.3 1062.5,960.5 1061.6,960.1 1060.6,960.5 1059.7,960.0 1058.7,959.8 1057.8,958.9 1056.9,959.3 1055.9,957.7 1055.0,956.8 1054.0,958.7 1053.1,958.6 1052.1,959.4 1051.2,959.4 1050.2,959.6 1049.3,958.3 1048.3,958.5 1047.4,958.0 1046.4,957.9 1045.5,960.2 1044.6,960.7 1043.6,962.6 1042.7,965.9 1041.7,968.5 1040.8,971.6 1039.8,974.1 1038.9,976.0 1037.9,978.1 1037.0,981.5 1036.0,982.1 1035.1,981.6 1034.2,984.6 1033.2,982.6 1032.3,979.9 1031.3,977.4 1030.4,976.1 1029.4,974.8 1028.5,974.0 1027.5,972.0 1026.6,971.3 1025.6,972.1 1024.7,969.2 1023.7,966.3 1022.8,964.3 1021.9,963.4 1020.9,959.8 1020.0,956.7 1019.0,955.4 1018.1,956.1 1017.1,954.8 1016.2,954.3 1015.2,952.9 1014.3,951.8 1013.3,949.2 1012.4,946.7 1011.5,945.5 1010.5,942.3 1009.6,940.7 1008.6,938.4 1007.7,937.0 1006.7,935.0 1005.8,934.8 1004.8,933.7 1003.9,935.4 1002.9,939.0 1002.0,942.2 1001.0,945.2 1000.1,948.9 999.2,954.4 998.2,955.2 997.3,959.2 996.3,961.8 995.4,966.8 994.4,970.1 993.5,974.3 992.5,980.1 991.6,983.5 990.6,987.5 989.7,988.5 988.8,991.5 987.8,993.5 986.9,996.2 985.9,999.1 985.0,1001.1 984.0,1003.9 983.1,1006.1 982.1,1009.1 981.2,1013.8 980.2,1017.8 979.3,1021.6 978.3,1024.3 977.4,1028.1 976.5,1031.7 975.5,1034.0 974.6,1036.5 973.6,1039.6 972.7,1042.6 971.7,1045.4 970.8,1048.0 969.8,1050.0 968.9,1053.0 967.9,1054.5 967.0,1058.5 966.1,1062.3 965.1,1068.2 964.2,1074.3 963.2,1079.4 962.3,1084.5 961.3,1090.9 960.4,1095.6 959.4,1101.6 958.5,1110.0 957.5,1114.4 956.6,1120.1 955.6,1127.3 954.7,1131.5" fill="#D6AEDD"/>
<path d="M954.7,1129.8 L955.6,1124.5 L956.6,1118.9 L957.5,1112.9 L958.5,1106.6 L959.4,1100.3 L960.4,1094.2 L961.3,1088.6 L962.3,1083.4 L963.2,1078.2 L964.2,1072.5 L965.1,1066.2 L966.1,1059.9 L967.0,1055.5 L967.9,1053.0 L968.9,1050.8 L969.8,1048.7 L970.8,1046.4 L971.7,1043.8 L972.7,1041.0 L973.6,1038.1 L974.6,1035.2 L975.5,1032.5 L976.5,1029.7 L977.4,1026.6 L978.3,1023.3 L979.3,1019.7 L980.2,1015.8 L981.2,1011.7 L982.1,1007.7 L983.1,1004.3 L984.0,1001.5 L985.0,999.0 L985.9,996.7 L986.9,994.4 L987.8,992.1 L988.8,989.7 L989.7,987.4 L990.6,984.5 L991.6,981.0 L992.5,977.1 L993.5,972.9 L994.4,968.6 L995.4,964.4 L996.3,960.7 L997.3,957.4 L998.2,954.2 L999.2,950.9 L1000.1,947.6 L1001.0,944.2 L1002.0,940.6 L1002.9,936.9 L1003.9,932.9 M1006.7,933.5 L1007.7,935.1 L1008.6,937.0 L1009.6,939.0 L1010.5,941.1 L1011.5,943.2 L1012.4,945.4 L1013.3,947.6 L1014.3,949.8 L1015.2,951.8 M1020.0,955.6 L1020.9,957.6 L1021.9,960.1 L1022.8,962.7 L1023.7,965.0 L1024.7,967.0 M1030.4,974.6 L1031.3,976.3 L1032.3,978.5 L1033.2,980.7 M1037.0,978.2 L1037.9,976.6 L1038.9,974.8 L1039.8,972.6 L1040.8,969.9 L1041.7,966.9 L1042.7,963.9 L1043.6,961.3 L1044.6,959.2 L1045.5,957.7 M1249.8,1030.0 L1250.8,1035.0 L1251.7,1041.5 L1252.6,1047.5 L1253.6,1053.4 L1254.5,1059.7 L1255.5,1066.7 L1256.4,1074.3 L1257.4,1082.2 L1258.3,1090.3 L1259.3,1098.3 L1260.2,1106.1 L1261.2,1113.5 L1262.1,1120.7 L1263.0,1128.5 L1264.0,1136.0 L1264.9,1143.0 L1265.9,1150.0 L1266.8,1157.3 L1267.8,1165.2 L1268.7,1173.3 L1269.7,1181.7 L1270.6,1187.6 L1271.6,1190.5 L1272.5,1193.1 L1273.5,1195.5 L1274.4,1197.9 L1275.3,1200.1 L1276.3,1202.1 L1277.2,1203.9 L1278.2,1205.7 L1279.1,1208.0 L1280.1,1210.5 L1281.0,1212.9 L1282.0,1215.0 L1282.9,1216.9 L1283.9,1218.7 L1284.8,1220.7 L1285.7,1223.1 L1286.7,1226.8 L1287.6,1231.1 L1288.6,1235.8 L1289.5,1240.4 L1290.5,1244.9 L1291.4,1249.2 L1292.4,1253.3 L1293.3,1257.0 L1294.3,1260.2 L1295.2,1263.0 L1296.2,1265.5 L1297.1,1267.9 L1298.0,1270.5 M1310.3,1259.5 L1311.3,1257.7 L1312.2,1255.5 L1313.2,1253.1 L1314.1,1251.2 M1324.5,1241.5 L1325.5,1239.9 L1326.4,1238.1 L1327.4,1236.3 L1328.3,1234.5 M1329.3,1233.0 L1330.2,1234.8 L1331.1,1236.8 L1332.1,1238.7 L1333.0,1240.5 L1334.0,1242.2 L1334.9,1243.8 M1339.7,1248.3 L1340.6,1250.6 L1341.6,1253.4 L1342.5,1256.2 L1343.4,1258.4 L1344.4,1259.9" fill="none" stroke="#D6AEDD" stroke-width="1.6" stroke-linejoin="round"/>
<path d="M1099.4,975.4 L1100.4,977.1" fill="none" stroke="#D6AEDD" stroke-width="1.3" stroke-linejoin="round"/>
<polygon points="954.7,1126.5 955.6,1120.6 956.6,1112.5 957.5,1107.0 958.5,1098.8 959.4,1089.9 960.4,1085.0 961.3,1078.6 962.3,1074.1 963.2,1067.8 964.2,1061.0 965.1,1054.9 966.1,1048.4 967.0,1041.7 967.9,1037.3 968.9,1033.6 969.8,1028.8 970.8,1026.4 971.7,1019.7 972.7,1016.4 973.6,1011.2 974.6,1006.3 975.5,1000.4 976.5,996.6 977.4,993.0 978.3,991.9 979.3,989.4 980.2,986.7 981.2,983.8 982.1,980.4 983.1,975.8 984.0,973.2 985.0,969.3 985.9,969.1 986.9,964.9 987.8,963.7 988.8,960.5 989.7,958.2 990.6,953.2 991.6,949.1 992.5,943.3 993.5,941.3 994.4,938.0 995.4,935.0 996.3,930.6 997.3,928.8 998.2,922.8 999.2,919.8 1000.1,916.2 1001.0,912.7 1002.0,908.2 1002.9,903.9 1003.9,901.0 1004.8,895.0 1005.8,897.4 1006.7,898.4 1007.7,901.7 1008.6,903.5 1009.6,904.5 1010.5,904.8 1011.5,909.7 1012.4,910.7 1013.3,913.0 1014.3,914.1 1015.2,916.4 1016.2,918.4 1017.1,919.4 1018.1,920.7 1019.0,922.9 1020.0,925.8 1020.9,928.3 1021.9,930.0 1022.8,931.9 1023.7,935.2 1024.7,936.3 1025.6,938.5 1026.6,943.2 1027.5,943.6 1028.5,945.8 1029.4,945.6 1030.4,949.1 1031.3,950.3 1032.3,951.9 1033.2,954.8 1034.2,954.4 1035.1,953.3 1036.0,950.6 1037.0,947.6 1037.9,946.6 1038.9,945.6 1039.8,943.5 1040.8,943.5 1041.7,941.3 1042.7,941.7 1043.6,939.8 1044.6,938.2 1045.5,937.6 1046.4,934.9 1047.4,934.0 1048.3,931.5 1049.3,929.1 1050.2,928.2 1051.2,924.7 1052.1,924.0 1053.1,922.1 1054.0,923.3 1055.0,925.0 1055.9,925.2 1056.9,925.1 1057.8,923.5 1058.7,921.2 1059.7,921.1 1060.6,921.0 1061.6,920.5 1062.5,920.2 1063.5,921.9 1064.4,922.1 1065.4,925.1 1066.3,927.5 1067.3,929.7 1068.2,931.4 1069.1,932.3 1070.1,932.5 1071.0,936.1 1072.0,936.0 1072.9,938.2 1073.9,938.9 1074.8,938.9 1075.8,939.8 1076.7,941.4 1077.7,941.8 1078.6,942.3 1079.6,942.9 1080.5,942.8 1081.4,943.3 1082.4,944.0 1083.3,944.5 1084.3,944.5 1085.2,944.6 1086.2,943.2 1087.1,944.0 1088.1,944.0 1089.0,944.2 1090.0,943.7 1090.9,943.2 1091.8,942.7 1092.8,943.8 1093.7,945.2 1094.7,944.7 1095.6,944.4 1096.6,942.9 1097.5,943.2 1098.5,943.0 1099.4,943.5 1100.4,942.1 1101.3,943.8 1102.3,944.3 1103.2,945.7 1104.1,946.0 1105.1,946.9 1106.0,947.2 1107.0,947.4 1107.9,948.1 1108.9,948.3 1109.8,948.4 1110.8,947.5 1111.7,946.5 1112.7,945.2 1113.6,946.8 1114.5,947.3 1115.5,948.3 1116.4,948.4 1117.4,949.6 1118.3,948.8 1119.3,948.8 1120.2,949.0 1121.2,949.2 1122.1,950.7 1123.1,950.8 1124.0,952.3 1125.0,953.0 1125.9,952.6 1126.8,952.4 1127.8,951.5 1128.7,950.5 1129.7,951.7 1130.6,951.2 1131.6,953.0 1132.5,952.6 1133.5,951.9 1134.4,953.9 1135.4,954.1 1136.3,953.4 1137.2,954.4 1138.2,955.0 1139.1,955.5 1140.1,955.6 1141.0,956.1 1142.0,955.9 1142.9,954.8 1143.9,954.6 1144.8,955.1 1145.8,955.1 1146.7,956.1 1147.7,959.0 1148.6,961.1 1149.5,961.9 1150.5,962.1 1151.4,961.8 1152.4,962.3 1153.3,961.8 1154.3,962.4 1155.2,962.8 1156.2,962.8 1157.1,962.0 1158.1,962.6 1159.0,962.6 1160.0,963.9 1160.9,961.8 1161.8,964.7 1162.8,964.2 1163.7,965.9 1164.7,966.8 1165.6,967.8 1166.6,968.7 1167.5,967.6 1168.5,969.6 1169.4,969.0 1170.4,968.8 1171.3,969.4 1172.2,969.1 1173.2,968.7 1174.1,970.1 1175.1,972.1 1176.0,972.5 1177.0,972.2 1177.9,972.1 1178.9,972.9 1179.8,973.1 1180.8,972.3 1181.7,973.8 1182.7,975.0 1183.6,975.2 1184.5,975.7 1185.5,975.0 1186.4,976.0 1187.4,975.7 1188.3,976.2 1189.3,975.2 1190.2,974.6 1191.2,974.7 1192.1,977.0 1193.1,977.6 1194.0,977.4 1194.9,976.9 1195.9,978.8 1196.8,980.0 1197.8,981.3 1198.7,979.4 1199.7,982.8 1200.6,982.1 1201.6,982.9 1202.5,982.2 1203.5,981.5 1204.4,982.1 1205.4,981.9 1206.3,983.6 1207.2,983.8 1208.2,983.1 1209.1,985.1 1210.1,984.4 1211.0,985.2 1212.0,986.5 1212.9,986.8 1213.9,987.9 1214.8,990.6 1215.8,992.0 1216.7,991.6 1217.6,992.5 1218.6,993.0 1219.5,992.1 1220.5,992.8 1221.4,993.1 1222.4,992.3 1223.3,993.2 1224.3,994.2 1225.2,993.9 1226.2,993.4 1227.1,992.7 1228.1,993.2 1229.0,993.4 1229.9,994.6 1230.9,996.9 1231.8,997.2 1232.8,998.5 1233.7,999.8 1234.7,1000.3 1235.6,998.8 1236.6,1001.1 1237.5,999.2 1238.5,1001.8 1239.4,1003.6 1240.3,1005.3 1241.3,1005.6 1242.2,1004.6 1243.2,1004.1 1244.1,1004.5 1245.1,1005.2 1246.0,1005.8 1247.0,1006.2 1247.9,1007.9 1248.9,1007.7 1249.8,1008.3 1250.8,1012.7 1251.7,1019.2 1252.6,1027.3 1253.6,1034.2 1254.5,1042.0 1255.5,1049.3 1256.4,1059.4 1257.4,1068.8 1258.3,1076.2 1259.3,1085.0 1260.2,1092.8 1261.2,1099.7 1262.1,1108.5 1263.0,1118.5 1264.0,1127.1 1264.9,1134.7 1265.9,1141.7 1266.8,1150.1 1267.8,1159.6 1268.7,1166.7 1269.7,1177.0 1270.6,1181.2 1271.6,1184.4 1272.5,1185.0 1273.5,1189.8 1274.4,1193.4 1275.3,1196.4 1276.3,1200.2 1277.2,1202.3 1278.2,1205.5 1279.1,1206.3 1280.1,1209.8 1281.0,1212.0 1282.0,1214.4 1282.9,1218.3 1283.9,1221.2 1284.8,1222.5 1285.7,1226.5 1286.7,1229.6 1287.6,1232.3 1288.6,1237.5 1289.5,1242.0 1290.5,1245.5 1291.4,1250.8 1292.4,1256.0 1293.3,1259.6 1294.3,1262.4 1295.2,1266.5 1296.2,1270.0 1297.1,1271.1 1298.0,1274.9 1299.0,1278.6 1299.9,1278.9 1300.9,1278.5 1301.8,1276.5 1302.8,1276.4 1303.7,1274.5 1304.7,1274.6 1305.6,1275.0 1306.6,1272.3 1307.5,1272.6 1308.4,1271.9 1309.4,1269.9 1310.3,1270.0 1311.3,1268.3 1312.2,1267.2 1313.2,1263.8 1314.1,1262.5 1315.1,1261.3 1316.0,1259.9 1317.0,1257.2 1317.9,1256.6 1318.9,1256.4 1319.8,1253.8 1320.7,1254.9 1321.7,1253.3 1322.6,1254.0 1323.6,1252.2 1324.5,1251.9 1325.5,1251.2 1326.4,1248.6 1327.4,1246.2 1328.3,1245.9 1329.3,1245.3 1330.2,1244.7 1331.1,1247.3 1332.1,1246.5 1333.0,1250.0 1334.0,1252.9 1334.9,1254.3 1335.9,1255.7 1336.8,1255.9 1337.8,1260.6 1338.7,1262.8 1339.7,1265.1 1340.6,1267.5 1341.6,1269.8 1342.5,1271.0 1343.4,1273.9 1344.4,1275.6 1345.3,1276.8 1346.3,1276.6 1347.2,1275.8 1348.2,1278.0 1349.1,1278.1 1350.1,1277.0 1351.0,1274.3 1352.0,1274.1 1352.9,1274.4 1353.8,1273.2 1354.8,1275.2 1355.7,1273.4 1356.7,1276.8 1357.6,1277.6 1358.6,1278.0 1359.5,1277.5 1360.5,1277.0 1361.4,1277.1 1362.4,1276.6 1363.3,1276.5 1364.3,1276.1 1365.2,1275.3 1366.1,1276.2 1367.1,1276.4 1368.0,1274.5 1369.0,1274.6 1369.9,1273.4 1370.9,1271.7 1371.8,1272.9 1372.8,1274.1 1373.7,1274.9 1374.7,1274.8 1375.6,1275.4 1376.6,1274.1 1377.5,1273.7 1378.4,1273.4 1379.4,1273.1 1380.3,1271.9 1381.3,1271.6 1382.2,1271.2 1383.2,1269.8 1384.1,1268.5 1385.1,1270.8 1386.0,1271.9 1387.0,1272.6 1387.9,1273.3 1388.8,1272.6 1389.8,1274.2 1390.7,1274.1 1391.7,1273.9 1392.6,1273.5 1393.6,1272.8 1394.5,1273.0 1395.5,1269.4 1396.4,1269.4 1397.4,1268.1 1398.3,1269.2 1399.3,1270.1 1400.2,1269.3 1401.1,1270.7 1402.1,1270.9 1403.0,1270.3 1404.0,1268.4 1404.9,1269.0 1405.9,1268.8 1406.8,1268.7 1407.8,1270.4 1408.7,1269.8 1409.7,1268.7 1410.6,1268.9 1411.5,1269.5 1412.5,1270.9 1413.4,1269.3 1414.4,1270.6 1415.3,1268.6 1416.3,1267.2 1417.2,1267.7 1418.2,1267.1 1419.1,1267.6 1420.1,1266.9 1421.0,1267.4 1422.0,1267.5 1422.9,1267.7 1423.8,1267.5 1424.8,1267.7 1425.7,1265.6 1426.7,1267.2 1427.6,1264.4 1428.6,1265.7 1429.5,1265.7 1430.5,1265.1 1431.4,1265.1 1432.4,1264.5 1433.3,1265.3 1434.2,1264.3 1435.2,1264.1 1436.1,1266.1 1437.1,1266.6 1438.0,1266.5 1439.0,1265.8 1439.9,1264.4 1440.9,1261.8 1441.8,1262.0 1442.8,1261.3 1443.7,1261.8 1444.7,1261.3 1445.6,1263.4 1446.5,1262.9 1447.5,1263.9 1448.4,1263.9 1449.4,1264.6 1450.3,1264.2 1451.3,1263.5 1452.2,1262.9 1453.2,1264.1 1454.1,1264.5 1455.1,1264.9 1456.0,1264.8 1456.9,1264.2 1457.9,1261.9 1458.8,1263.4 1459.8,1262.0 1460.7,1263.1 1461.7,1263.9 1462.6,1262.8 1463.6,1260.2 1464.5,1259.4 1465.5,1259.5 1466.4,1258.9 1467.4,1258.1 1468.3,1256.4 1469.2,1257.6 1470.2,1256.2 1471.1,1256.9 1472.1,1257.4 1473.0,1258.4 1474.0,1258.2 1474.9,1255.7 1475.9,1257.5 1476.8,1254.7 1477.8,1254.6 1478.7,1255.3 1479.6,1253.5 1480.6,1253.6 1481.5,1253.3 1482.5,1252.6 1483.4,1252.7 1484.4,1254.1 1485.3,1254.9 1486.3,1255.6 1487.2,1255.9 1488.2,1255.8 1489.1,1255.1 1490.1,1255.0 1491.0,1253.6 1491.9,1254.9 1492.9,1254.9 1493.8,1254.6 1494.8,1253.9 1495.7,1255.0 1496.7,1253.6 1497.6,1253.7 1498.6,1252.7 1499.5,1252.6 1500.5,1252.2 1501.4,1252.6 1502.3,1252.3 1503.3,1252.5 1504.2,1251.9 1505.2,1253.3 1506.1,1252.8 1507.1,1251.2 1508.0,1251.3 1509.0,1249.7 1509.9,1249.5 1510.9,1249.6 1511.8,1249.7 1512.8,1250.4 1513.7,1249.6 1514.6,1248.8 1515.6,1248.3 1516.5,1247.2 1517.5,1248.9 1518.4,1247.4 1519.4,1249.3 1520.3,1250.2 1521.3,1250.4 1522.2,1250.6 1523.2,1250.3 1524.1,1248.5 1525.0,1246.3 1526.0,1245.7 1526.9,1245.3 1527.9,1246.4 1528.8,1246.9 1529.8,1245.7 1530.7,1246.7 1531.7,1245.6 1532.6,1246.2 1533.6,1245.5 1534.5,1244.9 1535.5,1243.6 1536.4,1244.8 1537.3,1244.8 1538.3,1245.2 1539.2,1245.4 1540.2,1246.0 1540.2,1249.6 1539.2,1249.8 1538.3,1248.0 1537.3,1247.6 1536.4,1248.5 1535.5,1249.5 1534.5,1250.7 1533.6,1248.5 1532.6,1249.7 1531.7,1250.9 1530.7,1250.9 1529.8,1249.9 1528.8,1249.4 1527.9,1249.6 1526.9,1250.9 1526.0,1249.6 1525.0,1250.9 1524.1,1251.3 1523.2,1253.8 1522.2,1254.8 1521.3,1253.2 1520.3,1252.9 1519.4,1252.0 1518.4,1251.9 1517.5,1252.4 1516.5,1252.3 1515.6,1251.8 1514.6,1252.6 1513.7,1254.0 1512.8,1252.9 1511.8,1253.2 1510.9,1252.6 1509.9,1253.8 1509.0,1254.5 1508.0,1254.9 1507.1,1256.9 1506.1,1256.0 1505.2,1256.1 1504.2,1255.4 1503.3,1255.4 1502.3,1255.7 1501.4,1255.4 1500.5,1256.3 1499.5,1255.4 1498.6,1257.3 1497.6,1257.9 1496.7,1257.5 1495.7,1257.6 1494.8,1258.3 1493.8,1257.9 1492.9,1258.4 1491.9,1258.6 1491.0,1258.7 1490.1,1259.4 1489.1,1259.6 1488.2,1258.6 1487.2,1259.1 1486.3,1258.8 1485.3,1259.6 1484.4,1258.1 1483.4,1256.4 1482.5,1256.5 1481.5,1256.4 1480.6,1256.7 1479.6,1258.1 1478.7,1258.2 1477.8,1260.5 1476.8,1260.2 1475.9,1259.6 1474.9,1260.7 1474.0,1260.5 1473.0,1261.4 1472.1,1260.2 1471.1,1259.7 1470.2,1259.8 1469.2,1260.2 1468.3,1261.0 1467.4,1261.9 1466.4,1261.6 1465.5,1262.9 1464.5,1265.1 1463.6,1264.4 1462.6,1266.1 1461.7,1267.4 1460.7,1268.0 1459.8,1267.1 1458.8,1265.8 1457.9,1266.6 1456.9,1268.2 1456.0,1267.6 1455.1,1268.7 1454.1,1268.1 1453.2,1266.4 1452.2,1267.1 1451.3,1266.4 1450.3,1266.6 1449.4,1267.5 1448.4,1267.3 1447.5,1267.4 1446.5,1268.0 1445.6,1266.9 1444.7,1264.8 1443.7,1264.7 1442.8,1266.8 1441.8,1265.8 1440.9,1266.2 1439.9,1267.2 1439.0,1268.1 1438.0,1268.8 1437.1,1269.2 1436.1,1269.6 1435.2,1268.9 1434.2,1268.2 1433.3,1268.6 1432.4,1270.5 1431.4,1268.7 1430.5,1268.4 1429.5,1267.9 1428.6,1270.0 1427.6,1270.1 1426.7,1270.5 1425.7,1270.3 1424.8,1272.0 1423.8,1273.5 1422.9,1270.8 1422.0,1271.2 1421.0,1271.0 1420.1,1270.3 1419.1,1270.9 1418.2,1271.5 1417.2,1270.2 1416.3,1272.3 1415.3,1272.3 1414.4,1273.3 1413.4,1274.9 1412.5,1275.9 1411.5,1274.6 1410.6,1272.3 1409.7,1272.4 1408.7,1274.1 1407.8,1272.8 1406.8,1273.0 1405.9,1273.2 1404.9,1272.9 1404.0,1274.0 1403.0,1273.2 1402.1,1273.3 1401.1,1274.3 1400.2,1273.2 1399.3,1272.9 1398.3,1272.9 1397.4,1272.2 1396.4,1273.9 1395.5,1273.8 1394.5,1275.1 1393.6,1276.7 1392.6,1278.3 1391.7,1276.9 1390.7,1278.2 1389.8,1276.8 1388.8,1277.1 1387.9,1277.2 1387.0,1275.0 1386.0,1276.7 1385.1,1275.3 1384.1,1273.1 1383.2,1274.8 1382.2,1273.4 1381.3,1275.1 1380.3,1275.0 1379.4,1275.9 1378.4,1276.0 1377.5,1277.3 1376.6,1277.5 1375.6,1278.6 1374.7,1278.7 1373.7,1277.7 1372.8,1277.5 1371.8,1276.6 1370.9,1276.0 1369.9,1276.6 1369.0,1277.4 1368.0,1280.3 1367.1,1279.2 1366.1,1281.1 1365.2,1280.4 1364.3,1280.8 1363.3,1279.4 1362.4,1280.7 1361.4,1280.5 1360.5,1279.7 1359.5,1280.8 1358.6,1282.0 1357.6,1281.8 1356.7,1279.2 1355.7,1279.6 1354.8,1277.4 1353.8,1276.7 1352.9,1277.5 1352.0,1279.1 1351.0,1278.9 1350.1,1279.7 1349.1,1280.9 1348.2,1282.4 1347.2,1279.9 1346.3,1279.2 1345.3,1280.7 1344.4,1279.1 1343.4,1277.6 1342.5,1275.8 1341.6,1273.3 1340.6,1270.6 1339.7,1267.8 1338.7,1267.0 1337.8,1262.8 1336.8,1260.9 1335.9,1258.5 1334.9,1258.0 1334.0,1256.8 1333.0,1255.6 1332.1,1252.1 1331.1,1249.7 1330.2,1248.8 1329.3,1249.0 1328.3,1249.2 1327.4,1249.7 1326.4,1251.7 1325.5,1254.3 1324.5,1255.0 1323.6,1256.7 1322.6,1257.6 1321.7,1258.1 1320.7,1260.0 1319.8,1258.5 1318.9,1259.5 1317.9,1260.5 1317.0,1261.5 1316.0,1262.5 1315.1,1265.4 1314.1,1267.2 1313.2,1268.9 1312.2,1270.3 1311.3,1273.0 1310.3,1273.4 1309.4,1273.8 1308.4,1278.7 1307.5,1277.0 1306.6,1279.7 1305.6,1278.0 1304.7,1277.9 1303.7,1280.6 1302.8,1280.3 1301.8,1280.8 1300.9,1281.4 1299.9,1283.9 1299.0,1281.1 1298.0,1278.8 1297.1,1276.4 1296.2,1273.5 1295.2,1270.2 1294.3,1266.6 1293.3,1264.9 1292.4,1259.1 1291.4,1254.3 1290.5,1249.6 1289.5,1244.4 1288.6,1240.1 1287.6,1236.0 1286.7,1232.8 1285.7,1229.3 1284.8,1226.7 1283.9,1223.9 1282.9,1221.6 1282.0,1218.5 1281.0,1215.5 1280.1,1212.5 1279.1,1210.0 1278.2,1208.4 1277.2,1206.1 1276.3,1203.0 1275.3,1199.8 1274.4,1197.2 1273.5,1193.3 1272.5,1190.4 1271.6,1188.6 1270.6,1185.2 1269.7,1180.1 1268.7,1171.4 1267.8,1162.3 1266.8,1154.2 1265.9,1146.6 1264.9,1139.1 1264.0,1129.8 1263.0,1121.2 1262.1,1114.0 1261.2,1104.0 1260.2,1095.7 1259.3,1088.4 1258.3,1079.8 1257.4,1072.1 1256.4,1063.5 1255.5,1055.0 1254.5,1047.2 1253.6,1038.2 1252.6,1030.0 1251.7,1024.3 1250.8,1016.8 1249.8,1011.5 1248.9,1012.3 1247.9,1010.7 1247.0,1009.1 1246.0,1008.7 1245.1,1009.0 1244.1,1008.6 1243.2,1007.7 1242.2,1008.4 1241.3,1009.4 1240.3,1008.2 1239.4,1007.5 1238.5,1008.1 1237.5,1005.1 1236.6,1003.5 1235.6,1003.1 1234.7,1003.9 1233.7,1002.5 1232.8,1002.0 1231.8,1001.0 1230.9,999.2 1229.9,998.8 1229.0,997.6 1228.1,996.2 1227.1,996.1 1226.2,996.9 1225.2,997.1 1224.3,997.9 1223.3,996.6 1222.4,997.3 1221.4,997.7 1220.5,995.6 1219.5,995.7 1218.6,995.5 1217.6,995.6 1216.7,995.9 1215.8,995.0 1214.8,992.7 1213.9,991.5 1212.9,990.4 1212.0,989.6 1211.0,988.6 1210.1,987.8 1209.1,988.7 1208.2,987.5 1207.2,987.5 1206.3,986.8 1205.4,986.5 1204.4,984.7 1203.5,985.0 1202.5,985.9 1201.6,987.1 1200.6,985.3 1199.7,985.8 1198.7,985.7 1197.8,984.1 1196.8,982.5 1195.9,983.4 1194.9,981.6 1194.0,981.0 1193.1,981.4 1192.1,980.3 1191.2,979.1 1190.2,978.7 1189.3,978.7 1188.3,979.1 1187.4,978.8 1186.4,981.0 1185.5,978.4 1184.5,978.5 1183.6,978.4 1182.7,977.7 1181.7,977.4 1180.8,977.4 1179.8,975.9 1178.9,975.2 1177.9,975.2 1177.0,976.6 1176.0,975.0 1175.1,974.7 1174.1,974.8 1173.2,973.8 1172.2,972.5 1171.3,971.9 1170.4,971.5 1169.4,974.3 1168.5,972.5 1167.5,971.5 1166.6,972.0 1165.6,971.4 1164.7,970.2 1163.7,969.6 1162.8,969.9 1161.8,969.6 1160.9,967.4 1160.0,966.1 1159.0,966.8 1158.1,965.9 1157.1,966.6 1156.2,965.8 1155.2,966.1 1154.3,965.8 1153.3,965.0 1152.4,965.1 1151.4,965.6 1150.5,965.3 1149.5,966.1 1148.6,963.7 1147.7,962.6 1146.7,960.0 1145.8,958.5 1144.8,957.4 1143.9,959.8 1142.9,958.4 1142.0,959.2 1141.0,960.0 1140.1,959.6 1139.1,959.5 1138.2,960.2 1137.2,957.9 1136.3,957.2 1135.4,957.3 1134.4,957.6 1133.5,957.4 1132.5,957.3 1131.6,955.3 1130.6,956.2 1129.7,955.3 1128.7,955.7 1127.8,955.8 1126.8,956.0 1125.9,957.2 1125.0,956.3 1124.0,956.0 1123.1,954.4 1122.1,953.2 1121.2,952.3 1120.2,952.2 1119.3,952.5 1118.3,954.1 1117.4,953.8 1116.4,952.3 1115.5,952.0 1114.5,949.8 1113.6,949.2 1112.7,950.4 1111.7,949.4 1110.8,951.4 1109.8,951.7 1108.9,951.6 1107.9,951.3 1107.0,951.0 1106.0,950.9 1105.1,950.2 1104.1,949.7 1103.2,948.3 1102.3,947.9 1101.3,946.8 1100.4,947.1 1099.4,947.6 1098.5,946.1 1097.5,946.8 1096.6,948.5 1095.6,947.5 1094.7,948.6 1093.7,949.6 1092.8,947.8 1091.8,948.7 1090.9,947.0 1090.0,947.4 1089.0,947.4 1088.1,947.0 1087.1,946.8 1086.2,947.6 1085.2,947.5 1084.3,947.0 1083.3,947.4 1082.4,948.4 1081.4,946.6 1080.5,945.8 1079.6,946.9 1078.6,945.4 1077.7,944.0 1076.7,944.6 1075.8,945.5 1074.8,943.5 1073.9,943.5 1072.9,942.3 1072.0,940.0 1071.0,938.9 1070.1,939.3 1069.1,935.5 1068.2,934.4 1067.3,932.4 1066.3,931.3 1065.4,927.8 1064.4,926.8 1063.5,925.6 1062.5,924.0 1061.6,923.6 1060.6,923.4 1059.7,924.0 1058.7,925.0 1057.8,927.3 1056.9,927.2 1055.9,927.9 1055.0,927.9 1054.0,926.8 1053.1,925.8 1052.1,927.5 1051.2,929.8 1050.2,930.6 1049.3,932.9 1048.3,935.7 1047.4,938.4 1046.4,938.2 1045.5,940.5 1044.6,941.3 1043.6,944.3 1042.7,944.0 1041.7,945.3 1040.8,946.0 1039.8,947.1 1038.9,948.2 1037.9,949.3 1037.0,951.3 1036.0,954.1 1035.1,955.8 1034.2,957.9 1033.2,957.0 1032.3,956.9 1031.3,953.4 1030.4,952.1 1029.4,950.7 1028.5,949.0 1027.5,950.2 1026.6,945.5 1025.6,943.6 1024.7,941.7 1023.7,938.4 1022.8,936.0 1021.9,935.1 1020.9,930.7 1020.0,929.1 1019.0,928.0 1018.1,925.3 1017.1,922.6 1016.2,923.1 1015.2,919.8 1014.3,918.1 1013.3,917.1 1012.4,914.4 1011.5,912.8 1010.5,911.2 1009.6,909.0 1008.6,905.9 1007.7,903.7 1006.7,902.2 1005.8,900.7 1004.8,901.0 1003.9,904.9 1002.9,908.7 1002.0,911.7 1001.0,917.3 1000.1,920.0 999.2,924.5 998.2,927.9 997.3,931.2 996.3,934.5 995.4,937.4 994.4,941.3 993.5,943.7 992.5,948.5 991.6,952.0 990.6,957.5 989.7,960.3 988.8,963.8 987.8,967.7 986.9,970.2 985.9,971.8 985.0,973.7 984.0,976.9 983.1,979.4 982.1,983.0 981.2,987.0 980.2,990.2 979.3,992.4 978.3,994.8 977.4,999.1 976.5,1000.5 975.5,1006.4 974.6,1010.4 973.6,1014.2 972.7,1019.3 971.7,1025.4 970.8,1029.0 969.8,1032.9 968.9,1037.0 967.9,1040.3 967.0,1046.7 966.1,1050.9 965.1,1058.1 964.2,1065.6 963.2,1072.4 962.3,1076.9 961.3,1082.6 960.4,1088.9 959.4,1095.3 958.5,1102.1 957.5,1110.6 956.6,1117.6 955.6,1123.9 954.7,1131.2" fill="#D2D2AA"/>
<path d="M954.7,1129.3 L955.6,1122.3 L956.6,1115.2 L957.5,1108.1 L958.5,1100.8 L959.4,1093.7 L960.4,1087.1 L961.3,1081.0 L962.3,1075.4 L963.2,1069.8 L964.2,1063.6 L965.1,1056.8 L966.1,1049.5 L967.0,1043.5 L967.9,1039.1 L968.9,1035.1 L969.8,1031.3 L970.8,1027.4 L971.7,1023.0 L972.7,1018.1 L973.6,1012.8 L974.6,1007.6 L975.5,1003.2 L976.5,999.5 L977.4,996.3 L978.3,993.4 L979.3,991.3 L980.2,988.6 L981.2,985.3 L982.1,981.8 L983.1,978.3 L984.0,975.2 L985.0,972.7 L985.9,970.4 L986.9,968.2 L987.8,965.7 L988.8,962.7 L989.7,959.3 L990.6,955.0 L991.6,950.4 L992.5,946.3 L993.5,942.7 L994.4,939.4 L995.4,936.2 L996.3,933.1 L997.3,929.9 L998.2,926.5 L999.2,922.7 L1000.1,918.7 L1001.0,914.5 L1002.0,910.3 L1002.9,906.1 L1003.9,902.2 L1004.8,898.6 M1005.8,898.7 L1006.7,900.7 L1007.7,902.6 L1008.6,904.6 L1009.6,906.7 L1010.5,908.8 L1011.5,910.9 L1012.4,913.0 L1013.3,915.0 L1014.3,916.6 M1015.2,918.1 L1016.2,919.6 L1017.1,921.5 L1018.1,923.4 L1019.0,925.4 L1020.0,927.3 L1020.9,929.3 L1021.9,931.4 L1022.8,933.6 L1023.7,936.3 L1024.7,939.2 L1025.6,941.9 L1026.6,944.2 L1027.5,945.7 M1029.4,948.4 L1030.4,950.3 L1031.3,952.5 L1032.3,954.4 L1033.2,956.0 M1034.2,956.8 L1035.1,954.7 L1036.0,951.7 L1037.0,949.4 M1045.5,938.8 L1046.4,937.1 L1047.4,935.2 L1048.3,933.3 L1049.3,931.4 L1050.2,929.3 L1051.2,927.2 L1052.1,925.5 M1064.4,924.4 L1065.4,926.7 L1066.3,929.0 L1067.3,930.9 L1068.2,932.5 M1069.1,934.0 L1070.1,935.6 L1071.0,937.3 L1072.0,938.9 L1072.9,940.6 M1249.8,1010.1 L1250.8,1014.9 L1251.7,1021.9 L1252.6,1028.9 L1253.6,1036.2 L1254.5,1044.3 L1255.5,1052.9 L1256.4,1061.9 L1257.4,1070.5 L1258.3,1078.6 L1259.3,1086.5 L1260.2,1094.3 L1261.2,1102.2 L1262.1,1110.5 L1263.0,1119.7 L1264.0,1128.5 L1264.9,1136.7 L1265.9,1144.6 L1266.8,1152.7 L1267.8,1161.1 L1268.7,1169.6 L1269.7,1178.3 L1270.6,1184.0 L1271.6,1186.1 L1272.5,1188.3 L1273.5,1191.1 L1274.4,1194.5 L1275.3,1198.2 L1276.3,1201.4 L1277.2,1204.2 L1278.2,1206.6 L1279.1,1208.9 L1280.1,1211.3 L1281.0,1213.9 L1282.0,1216.9 L1282.9,1219.9 L1283.9,1222.8 L1284.8,1225.3 L1285.7,1227.8 L1286.7,1231.2 L1287.6,1234.7 L1288.6,1238.6 L1289.5,1243.2 L1290.5,1248.2 L1291.4,1253.1 L1292.4,1257.6 L1293.3,1261.6 L1294.3,1265.2 L1295.2,1268.4 L1296.2,1271.4 L1297.1,1274.3 L1298.0,1277.2 L1299.0,1280.0 L1299.9,1281.8 L1300.9,1279.9 M1313.2,1267.2 L1314.1,1265.5 L1315.1,1263.4 L1316.0,1261.5 L1317.0,1259.9 M1324.5,1253.8 L1325.5,1252.2 L1326.4,1250.3 L1327.4,1248.6 M1330.2,1246.4 L1331.1,1248.4 L1332.1,1250.8 L1333.0,1252.6 L1334.0,1254.2 L1334.9,1255.7 L1335.9,1257.5 L1336.8,1259.5 L1337.8,1261.7 L1338.7,1264.0 L1339.7,1266.3 L1340.6,1268.7 L1341.6,1270.9 L1342.5,1273.1 L1343.4,1275.4 L1344.4,1277.5" fill="none" stroke="#D2D2AA" stroke-width="1.6" stroke-linejoin="round"/>
<path d="M1146.7,958.4 L1147.7,960.3 L1148.6,962.1 M1212.9,988.5 L1213.9,990.0 L1214.8,991.7 M1394.5,1274.0 L1395.5,1272.3" fill="none" stroke="#D2D2AA" stroke-width="1.3" stroke-linejoin="round"/>
<polygon points="954.7,1129.1 955.6,1122.9 956.6,1115.2 957.5,1109.3 958.5,1103.4 959.4,1097.1 960.4,1090.0 961.3,1079.9 962.3,1069.3 963.2,1058.1 964.2,1046.7 965.1,1039.2 966.1,1031.8 967.0,1027.0 967.9,1020.0 968.9,1013.2 969.8,1007.8 970.8,1001.8 971.7,998.7 972.7,992.6 973.6,988.4 974.6,980.4 975.5,977.8 976.5,972.7 977.4,968.2 978.3,963.9 979.3,958.0 980.2,954.0 981.2,951.4 982.1,951.0 983.1,950.8 984.0,952.9 985.0,952.9 985.9,952.5 986.9,950.9 987.8,949.3 988.8,944.8 989.7,941.3 990.6,937.5 991.6,933.3 992.5,929.0 993.5,925.4 994.4,921.1 995.4,917.2 996.3,912.8 997.3,909.5 998.2,904.3 999.2,899.5 1000.1,894.1 1001.0,890.1 1002.0,885.6 1002.9,880.3 1003.9,877.1 1004.8,872.5 1005.8,866.9 1006.7,865.0 1007.7,867.7 1008.6,869.4 1009.6,871.5 1010.5,873.2 1011.5,875.5 1012.4,878.5 1013.3,881.4 1014.3,883.2 1015.2,884.9 1016.2,884.5 1017.1,886.8 1018.1,888.2 1019.0,887.7 1020.0,888.3 1020.9,892.3 1021.9,893.2 1022.8,895.8 1023.7,896.6 1024.7,900.4 1025.6,901.2 1026.6,904.1 1027.5,908.8 1028.5,911.5 1029.4,915.1 1030.4,916.7 1031.3,919.5 1032.3,921.1 1033.2,921.8 1034.2,926.1 1035.1,928.6 1036.0,927.4 1037.0,924.6 1037.9,922.9 1038.9,921.1 1039.8,917.7 1040.8,914.7 1041.7,912.1 1042.7,909.5 1043.6,906.5 1044.6,903.7 1045.5,898.5 1046.4,896.5 1047.4,895.4 1048.3,894.6 1049.3,894.9 1050.2,894.7 1051.2,893.9 1052.1,895.1 1053.1,894.7 1054.0,892.5 1055.0,894.6 1055.9,895.4 1056.9,895.7 1057.8,896.1 1058.7,897.2 1059.7,896.8 1060.6,896.6 1061.6,895.0 1062.5,894.3 1063.5,895.7 1064.4,894.2 1065.4,895.8 1066.3,896.6 1067.3,897.4 1068.2,899.1 1069.1,899.5 1070.1,900.2 1071.0,903.6 1072.0,904.1 1072.9,906.7 1073.9,910.0 1074.8,910.8 1075.8,913.2 1076.7,914.3 1077.7,913.8 1078.6,913.2 1079.6,913.2 1080.5,914.0 1081.4,913.3 1082.4,913.3 1083.3,913.2 1084.3,912.7 1085.2,913.3 1086.2,913.5 1087.1,914.3 1088.1,913.3 1089.0,914.5 1090.0,914.3 1090.9,913.5 1091.8,913.2 1092.8,912.3 1093.7,912.7 1094.7,912.6 1095.6,912.1 1096.6,909.1 1097.5,910.6 1098.5,912.5 1099.4,911.2 1100.4,913.9 1101.3,912.9 1102.3,914.0 1103.2,914.0 1104.1,915.5 1105.1,916.1 1106.0,916.8 1107.0,917.4 1107.9,917.8 1108.9,918.0 1109.8,916.9 1110.8,916.9 1111.7,918.1 1112.7,916.3 1113.6,918.6 1114.5,919.2 1115.5,919.9 1116.4,921.7 1117.4,922.9 1118.3,923.8 1119.3,923.5 1120.2,926.4 1121.2,928.0 1122.1,927.0 1123.1,926.9 1124.0,924.2 1125.0,925.1 1125.9,924.7 1126.8,924.3 1127.8,925.5 1128.7,927.0 1129.7,927.8 1130.6,927.0 1131.6,929.1 1132.5,929.7 1133.5,930.9 1134.4,930.2 1135.4,929.9 1136.3,929.6 1137.2,931.0 1138.2,931.2 1139.1,932.0 1140.1,931.7 1141.0,932.3 1142.0,932.1 1142.9,932.7 1143.9,933.0 1144.8,933.1 1145.8,934.7 1146.7,934.3 1147.7,932.6 1148.6,935.4 1149.5,936.4 1150.5,937.0 1151.4,935.9 1152.4,935.1 1153.3,937.3 1154.3,936.1 1155.2,935.4 1156.2,937.9 1157.1,938.0 1158.1,938.2 1159.0,938.9 1160.0,940.2 1160.9,941.2 1161.8,941.1 1162.8,943.4 1163.7,945.4 1164.7,946.3 1165.6,946.9 1166.6,946.1 1167.5,947.6 1168.5,947.8 1169.4,949.0 1170.4,949.6 1171.3,951.6 1172.2,952.3 1173.2,952.9 1174.1,951.7 1175.1,953.0 1176.0,953.4 1177.0,953.2 1177.9,955.4 1178.9,957.0 1179.8,958.8 1180.8,958.9 1181.7,957.4 1182.7,956.1 1183.6,957.3 1184.5,955.9 1185.5,956.4 1186.4,956.9 1187.4,957.2 1188.3,958.5 1189.3,957.3 1190.2,959.5 1191.2,958.6 1192.1,960.2 1193.1,960.2 1194.0,961.8 1194.9,961.5 1195.9,962.7 1196.8,963.9 1197.8,966.3 1198.7,965.5 1199.7,968.0 1200.6,969.8 1201.6,968.8 1202.5,970.6 1203.5,971.1 1204.4,971.5 1205.4,972.9 1206.3,973.8 1207.2,974.5 1208.2,974.3 1209.1,973.8 1210.1,974.3 1211.0,975.5 1212.0,976.3 1212.9,976.1 1213.9,974.3 1214.8,976.0 1215.8,975.2 1216.7,977.4 1217.6,977.8 1218.6,977.9 1219.5,980.8 1220.5,982.6 1221.4,982.5 1222.4,983.2 1223.3,984.6 1224.3,984.9 1225.2,983.4 1226.2,983.8 1227.1,983.6 1228.1,983.4 1229.0,982.8 1229.9,975.7 1230.9,974.9 1231.8,970.5 1232.8,968.1 1233.7,974.4 1234.7,978.5 1235.6,983.9 1236.6,985.1 1237.5,984.7 1238.5,983.6 1239.4,984.2 1240.3,985.2 1241.3,984.9 1242.2,982.8 1243.2,982.6 1244.1,984.0 1245.1,986.5 1246.0,988.7 1247.0,992.5 1247.9,996.7 1248.9,1004.4 1249.8,1010.2 1250.8,1016.9 1251.7,1024.0 1252.6,1030.6 1253.6,1037.8 1254.5,1045.1 1255.5,1054.4 1256.4,1063.3 1257.4,1070.5 1258.3,1080.3 1259.3,1087.9 1260.2,1094.6 1261.2,1101.5 1262.1,1110.1 1263.0,1117.8 1264.0,1125.5 1264.9,1135.5 1265.9,1143.4 1266.8,1153.1 1267.8,1162.2 1268.7,1169.4 1269.7,1179.9 1270.6,1186.7 1271.6,1191.2 1272.5,1196.3 1273.5,1200.8 1274.4,1206.3 1275.3,1211.6 1276.3,1213.6 1277.2,1217.5 1278.2,1216.9 1279.1,1216.7 1280.1,1214.1 1281.0,1213.8 1282.0,1213.2 1282.9,1214.0 1283.9,1215.9 1284.8,1219.6 1285.7,1220.5 1286.7,1222.8 1287.6,1223.8 1288.6,1228.6 1289.5,1233.6 1290.5,1240.0 1291.4,1245.5 1292.4,1249.1 1293.3,1253.6 1294.3,1260.0 1295.2,1263.9 1296.2,1269.2 1297.1,1273.9 1298.0,1279.1 1299.0,1282.3 1299.9,1287.9 1300.9,1291.7 1301.8,1294.8 1302.8,1298.7 1303.7,1302.1 1304.7,1306.2 1305.6,1301.3 1306.6,1296.1 1307.5,1291.1 1308.4,1286.2 1309.4,1283.8 1310.3,1281.5 1311.3,1281.8 1312.2,1278.9 1313.2,1278.3 1314.1,1276.6 1315.1,1276.0 1316.0,1274.9 1317.0,1272.1 1317.9,1271.4 1318.9,1271.6 1319.8,1270.4 1320.7,1268.4 1321.7,1267.8 1322.6,1267.0 1323.6,1263.9 1324.5,1263.0 1325.5,1261.5 1326.4,1260.3 1327.4,1258.3 1328.3,1255.2 1329.3,1255.3 1330.2,1254.2 1331.1,1253.9 1332.1,1253.4 1333.0,1256.3 1334.0,1257.5 1334.9,1260.8 1335.9,1263.0 1336.8,1265.0 1337.8,1267.0 1338.7,1271.8 1339.7,1274.3 1340.6,1278.4 1341.6,1279.2 1342.5,1283.5 1343.4,1285.6 1344.4,1285.7 1345.3,1286.8 1346.3,1286.4 1347.2,1286.9 1348.2,1287.1 1349.1,1286.4 1350.1,1287.2 1351.0,1288.5 1352.0,1289.5 1352.9,1289.7 1353.8,1291.0 1354.8,1290.4 1355.7,1290.0 1356.7,1292.3 1357.6,1291.5 1358.6,1291.7 1359.5,1292.7 1360.5,1292.2 1361.4,1291.8 1362.4,1292.5 1363.3,1292.2 1364.3,1292.4 1365.2,1290.5 1366.1,1288.9 1367.1,1285.8 1368.0,1284.0 1369.0,1281.1 1369.9,1280.7 1370.9,1278.7 1371.8,1275.6 1372.8,1273.0 1373.7,1272.3 1374.7,1270.8 1375.6,1271.4 1376.6,1273.0 1377.5,1274.0 1378.4,1275.8 1379.4,1276.4 1380.3,1278.1 1381.3,1278.7 1382.2,1279.5 1383.2,1278.9 1384.1,1278.7 1385.1,1279.2 1386.0,1278.4 1387.0,1278.9 1387.9,1281.2 1388.8,1281.7 1389.8,1282.8 1390.7,1282.0 1391.7,1281.5 1392.6,1278.8 1393.6,1277.6 1394.5,1275.3 1395.5,1274.9 1396.4,1274.1 1397.4,1273.8 1398.3,1273.5 1399.3,1271.0 1400.2,1272.8 1401.1,1273.0 1402.1,1271.5 1403.0,1272.3 1404.0,1273.1 1404.9,1273.5 1405.9,1273.2 1406.8,1273.7 1407.8,1272.9 1408.7,1269.9 1409.7,1269.4 1410.6,1267.3 1411.5,1269.6 1412.5,1268.6 1413.4,1268.8 1414.4,1267.2 1415.3,1268.0 1416.3,1268.0 1417.2,1267.4 1418.2,1265.3 1419.1,1265.7 1420.1,1265.2 1421.0,1263.3 1422.0,1263.3 1422.9,1263.3 1423.8,1264.6 1424.8,1264.6 1425.7,1265.1 1426.7,1264.4 1427.6,1263.8 1428.6,1266.6 1429.5,1266.1 1430.5,1268.6 1431.4,1268.5 1432.4,1267.2 1433.3,1266.8 1434.2,1264.5 1435.2,1265.9 1436.1,1265.2 1437.1,1265.7 1438.0,1263.9 1439.0,1264.2 1439.9,1263.3 1440.9,1263.1 1441.8,1263.3 1442.8,1263.5 1443.7,1263.5 1444.7,1263.2 1445.6,1261.8 1446.5,1262.2 1447.5,1261.8 1448.4,1262.3 1449.4,1260.1 1450.3,1260.4 1451.3,1259.9 1452.2,1258.7 1453.2,1256.2 1454.1,1257.0 1455.1,1256.8 1456.0,1256.5 1456.9,1256.3 1457.9,1256.1 1458.8,1253.6 1459.8,1252.9 1460.7,1254.5 1461.7,1253.3 1462.6,1253.1 1463.6,1252.3 1464.5,1251.8 1465.5,1255.3 1466.4,1256.3 1467.4,1256.7 1468.3,1257.7 1469.2,1258.2 1470.2,1257.6 1471.1,1257.2 1472.1,1256.6 1473.0,1257.9 1474.0,1257.7 1474.9,1258.0 1475.9,1258.9 1476.8,1261.3 1477.8,1260.4 1478.7,1261.8 1479.6,1261.4 1480.6,1258.9 1481.5,1258.9 1482.5,1257.0 1483.4,1256.0 1484.4,1254.8 1485.3,1252.6 1486.3,1255.4 1487.2,1255.0 1488.2,1253.3 1489.1,1253.4 1490.1,1253.7 1491.0,1253.6 1491.9,1252.1 1492.9,1251.3 1493.8,1250.5 1494.8,1250.1 1495.7,1249.5 1496.7,1247.8 1497.6,1248.8 1498.6,1249.1 1499.5,1249.5 1500.5,1248.7 1501.4,1249.0 1502.3,1246.8 1503.3,1247.0 1504.2,1245.2 1505.2,1245.5 1506.1,1244.9 1507.1,1244.6 1508.0,1243.4 1509.0,1244.1 1509.9,1243.8 1510.9,1243.3 1511.8,1243.0 1512.8,1243.5 1513.7,1242.8 1514.6,1243.9 1515.6,1244.6 1516.5,1243.7 1517.5,1244.1 1518.4,1244.0 1519.4,1243.5 1520.3,1242.2 1521.3,1243.5 1522.2,1241.8 1523.2,1242.4 1524.1,1241.6 1525.0,1240.6 1526.0,1239.5 1526.9,1239.2 1527.9,1240.0 1528.8,1241.2 1529.8,1241.2 1530.7,1242.9 1531.7,1242.4 1532.6,1242.7 1533.6,1242.6 1534.5,1242.1 1535.5,1244.2 1536.4,1245.2 1537.3,1244.7 1538.3,1243.8 1539.2,1241.7 1540.2,1240.3 1540.2,1244.8 1539.2,1246.5 1538.3,1247.2 1537.3,1247.4 1536.4,1248.0 1535.5,1247.6 1534.5,1247.2 1533.6,1247.5 1532.6,1246.4 1531.7,1245.9 1530.7,1245.4 1529.8,1245.0 1528.8,1245.1 1527.9,1245.5 1526.9,1242.9 1526.0,1243.3 1525.0,1243.2 1524.1,1244.2 1523.2,1245.2 1522.2,1246.0 1521.3,1246.5 1520.3,1246.0 1519.4,1248.1 1518.4,1248.4 1517.5,1247.1 1516.5,1247.6 1515.6,1247.5 1514.6,1246.6 1513.7,1246.9 1512.8,1246.3 1511.8,1246.8 1510.9,1247.1 1509.9,1246.8 1509.0,1246.9 1508.0,1248.9 1507.1,1247.1 1506.1,1247.6 1505.2,1248.0 1504.2,1248.4 1503.3,1249.2 1502.3,1250.6 1501.4,1252.7 1500.5,1251.7 1499.5,1252.2 1498.6,1254.5 1497.6,1252.1 1496.7,1253.4 1495.7,1253.2 1494.8,1253.8 1493.8,1254.1 1492.9,1255.6 1491.9,1255.4 1491.0,1255.9 1490.1,1256.5 1489.1,1256.9 1488.2,1257.2 1487.2,1258.8 1486.3,1257.6 1485.3,1258.8 1484.4,1258.3 1483.4,1259.2 1482.5,1261.1 1481.5,1261.6 1480.6,1264.5 1479.6,1264.0 1478.7,1264.4 1477.8,1265.2 1476.8,1263.7 1475.9,1263.0 1474.9,1262.5 1474.0,1264.5 1473.0,1260.4 1472.1,1261.7 1471.1,1263.0 1470.2,1261.9 1469.2,1260.2 1468.3,1260.5 1467.4,1261.2 1466.4,1260.4 1465.5,1260.4 1464.5,1256.6 1463.6,1256.3 1462.6,1257.1 1461.7,1257.0 1460.7,1256.8 1459.8,1257.7 1458.8,1258.8 1457.9,1259.8 1456.9,1259.8 1456.0,1258.9 1455.1,1259.3 1454.1,1259.1 1453.2,1260.8 1452.2,1262.6 1451.3,1263.1 1450.3,1263.6 1449.4,1264.5 1448.4,1265.1 1447.5,1266.5 1446.5,1266.4 1445.6,1266.6 1444.7,1267.1 1443.7,1266.0 1442.8,1266.6 1441.8,1267.2 1440.9,1266.2 1439.9,1267.3 1439.0,1268.4 1438.0,1268.5 1437.1,1268.6 1436.1,1269.5 1435.2,1269.1 1434.2,1269.8 1433.3,1270.4 1432.4,1271.8 1431.4,1271.9 1430.5,1273.7 1429.5,1269.7 1428.6,1269.3 1427.6,1268.5 1426.7,1268.6 1425.7,1268.7 1424.8,1267.4 1423.8,1269.1 1422.9,1266.0 1422.0,1265.6 1421.0,1266.1 1420.1,1267.4 1419.1,1269.9 1418.2,1270.7 1417.2,1271.1 1416.3,1271.6 1415.3,1271.9 1414.4,1272.7 1413.4,1273.6 1412.5,1274.7 1411.5,1272.4 1410.6,1273.0 1409.7,1274.5 1408.7,1275.0 1407.8,1276.2 1406.8,1276.4 1405.9,1276.3 1404.9,1276.9 1404.0,1276.6 1403.0,1277.9 1402.1,1275.7 1401.1,1275.5 1400.2,1275.6 1399.3,1275.1 1398.3,1277.0 1397.4,1277.7 1396.4,1277.4 1395.5,1277.7 1394.5,1279.4 1393.6,1280.5 1392.6,1282.7 1391.7,1284.6 1390.7,1286.6 1389.8,1285.9 1388.8,1284.8 1387.9,1284.7 1387.0,1282.4 1386.0,1283.2 1385.1,1282.3 1384.1,1283.0 1383.2,1285.4 1382.2,1281.6 1381.3,1281.2 1380.3,1281.0 1379.4,1281.2 1378.4,1278.1 1377.5,1277.7 1376.6,1276.9 1375.6,1274.8 1374.7,1274.3 1373.7,1275.2 1372.8,1278.8 1371.8,1279.8 1370.9,1281.8 1369.9,1286.3 1369.0,1285.2 1368.0,1287.2 1367.1,1289.6 1366.1,1291.6 1365.2,1293.7 1364.3,1295.1 1363.3,1296.8 1362.4,1297.3 1361.4,1296.6 1360.5,1296.5 1359.5,1295.5 1358.6,1296.2 1357.6,1295.8 1356.7,1294.9 1355.7,1295.7 1354.8,1293.7 1353.8,1295.5 1352.9,1293.6 1352.0,1292.7 1351.0,1292.2 1350.1,1291.1 1349.1,1290.2 1348.2,1289.6 1347.2,1289.8 1346.3,1289.6 1345.3,1290.9 1344.4,1288.7 1343.4,1289.2 1342.5,1286.2 1341.6,1284.1 1340.6,1281.8 1339.7,1278.1 1338.7,1274.9 1337.8,1271.3 1336.8,1268.9 1335.9,1265.5 1334.9,1264.5 1334.0,1262.2 1333.0,1259.0 1332.1,1257.7 1331.1,1257.5 1330.2,1257.8 1329.3,1259.2 1328.3,1259.8 1327.4,1261.5 1326.4,1263.3 1325.5,1264.3 1324.5,1266.5 1323.6,1268.5 1322.6,1269.2 1321.7,1272.7 1320.7,1272.9 1319.8,1274.1 1318.9,1273.9 1317.9,1275.2 1317.0,1277.4 1316.0,1277.9 1315.1,1278.6 1314.1,1280.1 1313.2,1283.4 1312.2,1283.0 1311.3,1284.7 1310.3,1285.5 1309.4,1287.2 1308.4,1291.2 1307.5,1295.9 1306.6,1299.4 1305.6,1304.7 1304.7,1309.0 1303.7,1307.3 1302.8,1305.4 1301.8,1298.6 1300.9,1295.9 1299.9,1291.6 1299.0,1286.0 1298.0,1282.8 1297.1,1277.1 1296.2,1271.9 1295.2,1267.5 1294.3,1263.3 1293.3,1258.4 1292.4,1254.3 1291.4,1247.9 1290.5,1243.9 1289.5,1237.4 1288.6,1232.2 1287.6,1228.3 1286.7,1227.3 1285.7,1224.6 1284.8,1222.0 1283.9,1219.8 1282.9,1217.3 1282.0,1216.7 1281.0,1216.8 1280.1,1218.1 1279.1,1220.1 1278.2,1221.7 1277.2,1221.4 1276.3,1218.5 1275.3,1214.0 1274.4,1210.3 1273.5,1204.9 1272.5,1200.0 1271.6,1195.3 1270.6,1190.4 1269.7,1182.7 1268.7,1174.5 1267.8,1165.3 1266.8,1156.0 1265.9,1147.4 1264.9,1138.8 1264.0,1129.9 1263.0,1121.1 1262.1,1112.6 1261.2,1105.6 1260.2,1097.9 1259.3,1092.2 1258.3,1084.3 1257.4,1074.7 1256.4,1065.9 1255.5,1057.1 1254.5,1050.9 1253.6,1041.9 1252.6,1033.8 1251.7,1027.0 1250.8,1020.8 1249.8,1014.3 1248.9,1006.4 1247.9,999.7 1247.0,997.3 1246.0,992.6 1245.1,991.4 1244.1,988.4 1243.2,985.5 1242.2,988.4 1241.3,987.8 1240.3,988.0 1239.4,988.4 1238.5,988.4 1237.5,987.6 1236.6,988.5 1235.6,988.9 1234.7,982.6 1233.7,980.0 1232.8,973.3 1231.8,974.9 1230.9,979.7 1229.9,982.8 1229.0,987.3 1228.1,988.7 1227.1,987.1 1226.2,986.4 1225.2,986.8 1224.3,988.9 1223.3,988.6 1222.4,987.9 1221.4,987.4 1220.5,984.8 1219.5,983.5 1218.6,983.2 1217.6,980.7 1216.7,981.5 1215.8,980.7 1214.8,979.5 1213.9,979.9 1212.9,978.7 1212.0,980.1 1211.0,978.1 1210.1,978.4 1209.1,978.1 1208.2,978.1 1207.2,977.3 1206.3,977.0 1205.4,978.2 1204.4,975.3 1203.5,975.5 1202.5,973.5 1201.6,973.6 1200.6,973.5 1199.7,973.1 1198.7,970.3 1197.8,968.6 1196.8,967.8 1195.9,966.2 1194.9,964.7 1194.0,964.0 1193.1,963.7 1192.1,963.3 1191.2,963.2 1190.2,963.1 1189.3,962.6 1188.3,961.3 1187.4,961.0 1186.4,960.2 1185.5,959.3 1184.5,959.1 1183.6,960.1 1182.7,960.9 1181.7,962.7 1180.8,962.0 1179.8,961.8 1178.9,960.8 1177.9,959.1 1177.0,958.7 1176.0,957.1 1175.1,956.1 1174.1,955.1 1173.2,955.1 1172.2,954.9 1171.3,954.6 1170.4,954.4 1169.4,952.1 1168.5,950.5 1167.5,950.3 1166.6,950.2 1165.6,949.8 1164.7,948.7 1163.7,947.9 1162.8,949.0 1161.8,945.1 1160.9,944.1 1160.0,945.1 1159.0,942.7 1158.1,941.9 1157.1,942.8 1156.2,941.0 1155.2,940.7 1154.3,941.6 1153.3,940.0 1152.4,940.0 1151.4,940.6 1150.5,940.7 1149.5,939.8 1148.6,941.0 1147.7,938.3 1146.7,938.2 1145.8,937.0 1144.8,936.4 1143.9,935.6 1142.9,936.7 1142.0,935.2 1141.0,935.6 1140.1,934.8 1139.1,934.6 1138.2,933.8 1137.2,933.2 1136.3,933.4 1135.4,936.2 1134.4,934.3 1133.5,934.3 1132.5,933.1 1131.6,933.5 1130.6,931.9 1129.7,930.8 1128.7,930.2 1127.8,929.2 1126.8,929.6 1125.9,928.5 1125.0,927.7 1124.0,930.0 1123.1,929.0 1122.1,930.6 1121.2,931.1 1120.2,929.9 1119.3,929.1 1118.3,927.6 1117.4,926.3 1116.4,925.0 1115.5,924.4 1114.5,922.8 1113.6,921.5 1112.7,921.6 1111.7,920.6 1110.8,920.7 1109.8,921.4 1108.9,922.8 1107.9,921.0 1107.0,919.9 1106.0,920.3 1105.1,919.2 1104.1,918.8 1103.2,918.2 1102.3,917.4 1101.3,917.6 1100.4,918.2 1099.4,916.8 1098.5,918.7 1097.5,916.3 1096.6,916.9 1095.6,916.8 1094.7,915.0 1093.7,915.4 1092.8,917.1 1091.8,915.9 1090.9,917.0 1090.0,916.9 1089.0,917.9 1088.1,917.5 1087.1,917.1 1086.2,916.5 1085.2,915.7 1084.3,915.4 1083.3,915.7 1082.4,915.9 1081.4,917.1 1080.5,916.9 1079.6,917.5 1078.6,917.0 1077.7,916.9 1076.7,916.8 1075.8,917.5 1074.8,914.9 1073.9,912.2 1072.9,912.9 1072.0,907.9 1071.0,906.3 1070.1,905.6 1069.1,903.9 1068.2,902.2 1067.3,901.8 1066.3,900.1 1065.4,899.2 1064.4,899.8 1063.5,898.5 1062.5,899.1 1061.6,899.4 1060.6,900.1 1059.7,899.9 1058.7,902.4 1057.8,899.3 1056.9,899.8 1055.9,898.6 1055.0,897.7 1054.0,897.1 1053.1,897.3 1052.1,898.3 1051.2,897.7 1050.2,898.1 1049.3,898.0 1048.3,897.8 1047.4,899.4 1046.4,900.3 1045.5,902.3 1044.6,907.7 1043.6,910.2 1042.7,912.0 1041.7,916.0 1040.8,918.6 1039.8,922.5 1038.9,923.3 1037.9,926.2 1037.0,929.7 1036.0,933.0 1035.1,931.4 1034.2,928.4 1033.2,926.5 1032.3,924.3 1031.3,923.2 1030.4,920.3 1029.4,917.6 1028.5,915.7 1027.5,912.9 1026.6,910.3 1025.6,906.9 1024.7,903.7 1023.7,901.1 1022.8,898.6 1021.9,897.2 1020.9,895.2 1020.0,893.1 1019.0,892.2 1018.1,890.8 1017.1,891.4 1016.2,890.1 1015.2,888.2 1014.3,887.8 1013.3,886.3 1012.4,882.4 1011.5,880.8 1010.5,876.8 1009.6,873.7 1008.6,872.8 1007.7,870.6 1006.7,869.7 1005.8,870.9 1004.8,874.7 1003.9,880.8 1002.9,884.0 1002.0,889.7 1001.0,894.2 1000.1,897.8 999.2,903.1 998.2,908.2 997.3,911.9 996.3,916.3 995.4,920.9 994.4,924.1 993.5,928.0 992.5,931.7 991.6,937.7 990.6,940.0 989.7,944.9 988.8,948.1 987.8,952.6 986.9,954.2 985.9,955.4 985.0,956.8 984.0,956.3 983.1,955.3 982.1,956.1 981.2,954.7 980.2,956.6 979.3,961.3 978.3,968.3 977.4,970.6 976.5,975.5 975.5,981.3 974.6,985.5 973.6,991.1 972.7,996.8 971.7,1001.0 970.8,1005.9 969.8,1010.9 968.9,1015.9 967.9,1024.7 967.0,1030.0 966.1,1037.0 965.1,1043.4 964.2,1051.6 963.2,1061.5 962.3,1072.4 961.3,1085.1 960.4,1094.1 959.4,1100.2 958.5,1106.3 957.5,1114.0 956.6,1118.9 955.6,1125.4 954.7,1132.0" fill="#F00000"/>
<path d="M954.7,1130.2 L955.6,1124.0 L956.6,1117.6 L957.5,1111.0 L958.5,1104.6 L959.4,1098.4 L960.4,1092.1 L961.3,1082.3 L962.3,1071.1 L963.2,1059.9 L964.2,1048.9 L965.1,1041.8 L966.1,1035.1 L967.0,1028.3 L967.9,1021.4 L968.9,1014.3 L969.8,1009.4 L970.8,1004.5 L971.7,999.7 L972.7,994.7 L973.6,989.6 L974.6,984.5 L975.5,979.3 L976.5,974.4 L977.4,969.6 L978.3,964.9 L979.3,960.1 L980.2,955.2 L981.2,952.9 M987.8,951.1 L988.8,946.8 L989.7,942.9 L990.6,939.0 L991.6,934.8 L992.5,930.7 L993.5,926.7 L994.4,922.7 L995.4,918.7 L996.3,914.7 L997.3,910.5 L998.2,905.6 L999.2,900.8 L1000.1,896.2 L1001.0,891.8 L1002.0,887.4 L1002.9,882.9 L1003.9,878.3 L1004.8,873.6 L1005.8,868.5 L1006.7,866.5 L1007.7,868.9 L1008.6,870.8 L1009.6,872.7 L1010.5,874.8 L1011.5,877.3 L1012.4,880.1 L1013.3,883.3 L1014.3,884.9 L1015.2,886.5 M1020.0,891.3 L1020.9,893.3 L1021.9,895.4 L1022.8,897.4 L1023.7,899.4 L1024.7,901.4 L1025.6,903.9 L1026.6,907.0 L1027.5,910.3 L1028.5,913.5 L1029.4,916.4 L1030.4,918.8 L1031.3,920.9 L1032.3,922.7 L1033.2,924.7 L1034.2,927.3 L1035.1,930.1 M1036.0,930.6 L1037.0,927.8 L1037.9,925.0 L1038.9,922.1 L1039.8,919.2 L1040.8,916.3 L1041.7,913.6 L1042.7,911.0 L1043.6,908.1 L1044.6,904.8 L1045.5,901.2 L1046.4,898.2 M1070.1,902.9 L1071.0,904.7 L1072.0,906.8 L1072.9,909.1 L1073.9,911.3 L1074.8,913.1 L1075.8,914.7 M1229.0,985.5 L1229.9,980.7 L1230.9,976.1 L1231.8,971.5 M1232.8,971.1 L1233.7,976.4 L1234.7,981.3 L1235.6,986.1 M1243.2,984.0 L1244.1,985.9 L1245.1,988.3 L1246.0,991.1 L1247.0,994.2 L1247.9,998.0 L1248.9,1005.4 L1249.8,1012.4 L1250.8,1019.0 L1251.7,1025.6 L1252.6,1032.5 L1253.6,1039.6 L1254.5,1047.2 L1255.5,1055.5 L1256.4,1064.3 L1257.4,1073.1 L1258.3,1081.6 L1259.3,1089.4 L1260.2,1096.7 L1261.2,1103.8 L1262.1,1111.2 L1263.0,1119.6 L1264.0,1128.4 L1264.9,1137.3 L1265.9,1146.1 L1266.8,1154.9 L1267.8,1163.5 L1268.7,1172.2 L1269.7,1181.3 L1270.6,1188.6 L1271.6,1193.7 L1272.5,1198.7 L1273.5,1203.5 L1274.4,1208.2 L1275.3,1212.7 L1276.3,1216.8 L1277.2,1220.2 M1282.0,1214.5 L1282.9,1216.1 L1283.9,1218.4 L1284.8,1220.6 L1285.7,1222.6 L1286.7,1224.5 L1287.6,1226.1 L1288.6,1230.5 L1289.5,1236.0 L1290.5,1241.4 L1291.4,1246.7 L1292.4,1252.1 L1293.3,1256.7 L1294.3,1261.2 L1295.2,1265.9 L1296.2,1270.8 L1297.1,1275.9 L1298.0,1280.6 L1299.0,1284.9 L1299.9,1289.0 L1300.9,1293.1 L1301.8,1297.1 L1302.8,1301.0 L1303.7,1305.0 L1304.7,1307.3 L1305.6,1302.7 L1306.6,1298.0 L1307.5,1293.4 L1308.4,1289.1 L1309.4,1285.5 M1321.7,1269.6 L1322.6,1268.0 L1323.6,1266.3 L1324.5,1264.5 L1325.5,1262.8 L1326.4,1261.2 M1332.1,1255.4 L1333.0,1257.7 L1334.0,1259.8 L1334.9,1261.9 L1335.9,1264.2 L1336.8,1267.1 L1337.8,1270.2 L1338.7,1273.4 L1339.7,1276.6 L1340.6,1279.6 L1341.6,1282.3 L1342.5,1284.7 L1343.4,1287.3 M1364.3,1293.8 L1365.2,1291.9 L1366.1,1289.9 L1367.1,1288.0 L1368.0,1286.0 L1369.0,1284.1 L1369.9,1282.1 L1370.9,1280.0 L1371.8,1277.8 L1372.8,1275.5 L1373.7,1273.4 M1390.7,1284.6 L1391.7,1282.8 L1392.6,1280.6 L1393.6,1278.7" fill="none" stroke="#F00000" stroke-width="1.6" stroke-linejoin="round"/>
<path d="M1177.0,955.7 L1177.9,957.4 L1178.9,959.0 M1196.8,965.8 L1197.8,967.4 L1198.7,969.0 M1279.1,1218.2 L1280.1,1216.6 M1420.1,1266.4 L1421.0,1264.9" fill="none" stroke="#F00000" stroke-width="1.3" stroke-linejoin="round"/>
</g>
<rect x="954.7" y="740" width="590.8" height="591.8" fill="none" stroke="#000" stroke-width="1.6"/>
<path d="M954.7,1331.8L954.7,1323.3 M1072.9,1331.8L1072.9,1323.3 M1191,1331.8L1191,1323.3 M1309.2,1331.8L1309.2,1323.3 M1427.3,1331.8L1427.3,1323.3 M1545.5,1331.8L1545.5,1323.3 M1013.8,1331.8L1013.8,1327.3 M1131.9,1331.8L1131.9,1327.3 M1250.1,1331.8L1250.1,1327.3 M1368.3,1331.8L1368.3,1327.3 M1486.4,1331.8L1486.4,1327.3 M954.7,1331.8L963.2,1331.8 M954.7,1250.2L963.2,1250.2 M954.7,1168.5L963.2,1168.5 M954.7,1086.9L963.2,1086.9 M954.7,1005.3L963.2,1005.3 M954.7,923.7L963.2,923.7 M954.7,842L963.2,842 M954.7,760.4L963.2,760.4 M954.7,1291L959.2,1291 M954.7,1209.4L959.2,1209.4 M954.7,1127.7L959.2,1127.7 M954.7,1046.1L959.2,1046.1 M954.7,964.5L959.2,964.5 M954.7,882.8L959.2,882.8 M954.7,801.2L959.2,801.2" stroke="#000" stroke-width="1.5" fill="none"/>
<text x="871.12" y="1343.30" font-family="'Liberation Sans', Arial, sans-serif" font-weight="normal" font-style="normal" font-size="43.3" fill="#000" stroke="#000" stroke-width="0.5">-0.4</text>
<text x="871.99" y="1261.67" font-family="'Liberation Sans', Arial, sans-serif" font-weight="normal" font-style="normal" font-size="43.3" fill="#000" stroke="#000" stroke-width="0.5">-0.2</text>
<text x="885.63" y="1180.04" font-family="'Liberation Sans', Arial, sans-serif" font-weight="normal" font-style="normal" font-size="43.3" fill="#000" stroke="#000" stroke-width="0.5">0.0</text>
<text x="886.28" y="1098.42" font-family="'Liberation Sans', Arial, sans-serif" font-weight="normal" font-style="normal" font-size="43.3" fill="#000" stroke="#000" stroke-width="0.5">0.2</text>
<text x="885.41" y="1016.79" font-family="'Liberation Sans', Arial, sans-serif" font-weight="normal" font-style="normal" font-size="43.3" fill="#000" stroke="#000" stroke-width="0.5">0.4</text>
<text x="885.85" y="935.16" font-family="'Liberation Sans', Arial, sans-serif" font-weight="normal" font-style="normal" font-size="43.3" fill="#000" stroke="#000" stroke-width="0.5">0.6</text>
<text x="885.85" y="853.53" font-family="'Liberation Sans', Arial, sans-serif" font-weight="normal" font-style="normal" font-size="43.3" fill="#000" stroke="#000" stroke-width="0.5">0.8</text>
<text x="885.63" y="771.91" font-family="'Liberation Sans', Arial, sans-serif" font-weight="normal" font-style="normal" font-size="43.3" fill="#000" stroke="#000" stroke-width="0.5">1.0</text>
<text x="924.50" y="1373.40" font-family="'Liberation Sans', Arial, sans-serif" font-weight="normal" font-style="normal" font-size="43.3" fill="#000" stroke="#000" stroke-width="0.5">0.0</text>
<text x="1042.87" y="1373.40" font-family="'Liberation Sans', Arial, sans-serif" font-weight="normal" font-style="normal" font-size="43.3" fill="#000" stroke="#000" stroke-width="0.5">0.1</text>
<text x="1161.14" y="1373.40" font-family="'Liberation Sans', Arial, sans-serif" font-weight="normal" font-style="normal" font-size="43.3" fill="#000" stroke="#000" stroke-width="0.5">0.2</text>
<text x="1279.09" y="1373.40" font-family="'Liberation Sans', Arial, sans-serif" font-weight="normal" font-style="normal" font-size="43.3" fill="#000" stroke="#000" stroke-width="0.5">0.3</text>
<text x="1397.03" y="1373.40" font-family="'Liberation Sans', Arial, sans-serif" font-weight="normal" font-style="normal" font-size="43.3" fill="#000" stroke="#000" stroke-width="0.5">0.4</text>
<text x="1515.41" y="1373.40" font-family="'Liberation Sans', Arial, sans-serif" font-weight="normal" font-style="normal" font-size="43.3" fill="#000" stroke="#000" stroke-width="0.5">0.5</text>
<text transform="matrix(0.48455 0 0 0.48128 975.69 801.89)" font-family="'Liberation Sans', Arial, sans-serif" font-weight="normal" font-style="normal" font-size="100" fill="#000" stroke="#000" stroke-width="1.035">(d)</text>
<text transform="matrix(0 -0.43025 0.40642 0 829.47 1167.72)" font-family="'Liberation Sans', Arial, sans-serif" font-weight="normal" font-style="normal" font-size="100" fill="#000" stroke="#000" stroke-width="1.195">Voltage [V]</text>
<text transform="matrix(0.42500 0 0 0.41390 1163.95 1440.01)" font-family="'Liberation Sans', Arial, sans-serif" font-weight="normal" font-style="normal" font-size="100" fill="#000" stroke="#000" stroke-width="1.192">Time [<tspan font-family="'Liberation Serif', serif">µ</tspan>s]</text>
<line x1="956.9" y1="1149.7" x2="1048.6" y2="1149.7" stroke="#C8C8C8" stroke-width="1.3" stroke-linecap="butt"/>
<text x="1060.31" y="1163.80" font-family="'Liberation Sans', Arial, sans-serif" font-weight="normal" font-style="normal" font-size="42.2" fill="#000" stroke="#000" stroke-width="0.5">0.6V</text>
<line x1="956.9" y1="1201.6" x2="1048.6" y2="1201.6" stroke="#E6C8EA" stroke-width="1.3" stroke-linecap="butt"/>
<text x="1060.31" y="1215.77" font-family="'Liberation Sans', Arial, sans-serif" font-weight="normal" font-style="normal" font-size="42.2" fill="#000" stroke="#000" stroke-width="0.5">0.7V</text>
<line x1="956.9" y1="1253.6" x2="1048.6" y2="1253.6" stroke="#E6E6D2" stroke-width="1.3" stroke-linecap="butt"/>
<text x="1060.31" y="1267.74" font-family="'Liberation Sans', Arial, sans-serif" font-weight="normal" font-style="normal" font-size="42.2" fill="#000" stroke="#000" stroke-width="0.5">0.8V</text>
<line x1="956.9" y1="1305.5" x2="1048.6" y2="1305.5" stroke="#E83030" stroke-width="1.3" stroke-linecap="butt"/>
<text x="1060.31" y="1319.71" font-family="'Liberation Sans', Arial, sans-serif" font-weight="normal" font-style="normal" font-size="42.2" fill="#000" stroke="#000" stroke-width="0.5">0.9V</text>
<g clip-path="url(#cdi)">
<polygon points="1330.9,851.6 1331.6,855.6 1332.3,848.5 1333.0,834.9 1333.7,842.7 1334.4,829.9 1335.1,831.2 1335.8,828.2 1336.5,829.2 1337.2,820.6 1337.9,824.4 1338.6,818.0 1339.4,809.9 1340.1,805.9 1340.8,799.4 1341.5,800.4 1342.2,797.0 1342.9,797.3 1343.6,799.6 1344.3,792.8 1345.0,794.1 1345.7,794.5 1346.4,787.0 1347.1,779.4 1347.8,778.5 1348.5,774.1 1349.2,775.2 1349.9,769.9 1350.6,771.1 1351.3,767.8 1352.0,779.8 1352.7,776.5 1353.4,789.0 1354.1,789.9 1354.8,793.4 1355.5,795.6 1356.2,791.4 1356.9,802.6 1357.6,801.2 1358.3,807.1 1359.0,818.5 1359.7,824.2 1360.4,820.6 1361.1,832.6 1361.8,837.5 1362.5,846.6 1363.2,860.9 1363.9,871.3 1364.6,877.7 1365.3,882.1 1366.0,883.2 1366.7,881.2 1367.4,882.8 1368.1,880.4 1368.8,873.6 1369.5,877.1 1370.2,879.2 1370.9,878.6 1371.6,886.5 1372.3,882.9 1373.0,888.1 1373.7,887.4 1374.4,890.8 1375.1,881.4 1375.8,890.6 1376.5,879.6 1377.2,887.7 1377.9,889.0 1378.6,883.0 1379.3,888.4 1380.0,883.2 1380.7,886.9 1381.4,883.6 1382.1,878.4 1382.8,877.0 1383.5,871.5 1384.3,867.4 1385.0,866.3 1385.7,859.0 1386.4,854.6 1387.1,840.6 1387.8,844.1 1388.5,837.2 1389.2,839.3 1389.9,830.6 1390.6,825.2 1391.3,826.8 1392.0,831.6 1392.7,830.5 1393.4,825.3 1394.1,822.5 1394.8,825.7 1395.5,818.5 1396.2,823.0 1396.9,812.8 1397.6,815.3 1398.3,818.8 1399.0,816.5 1399.7,822.8 1400.4,817.0 1401.1,823.3 1401.8,822.0 1402.5,829.5 1403.2,833.0 1403.9,828.3 1404.6,832.4 1405.3,824.7 1406.0,830.5 1406.7,830.3 1407.4,830.3 1408.1,829.4 1408.8,829.6 1409.5,843.1 1410.2,843.3 1410.9,843.7 1411.6,849.6 1412.3,840.5 1413.0,838.7 1413.7,838.9 1414.4,834.1 1415.1,826.9 1415.8,814.7 1416.5,821.7 1417.2,820.7 1417.9,823.2 1418.6,822.2 1419.3,830.4 1420.0,822.3 1420.7,834.2 1421.4,839.0 1422.1,837.2 1422.8,840.0 1423.5,842.3 1424.2,843.1 1424.9,842.0 1425.6,840.6 1426.3,838.3 1427.0,836.7 1427.7,833.2 1428.4,836.7 1429.1,830.9 1429.9,832.2 1430.6,837.7 1431.3,830.8 1432.0,837.6 1432.7,845.0 1433.4,842.0 1434.1,837.4 1434.8,829.3 1435.5,836.1 1436.2,839.9 1436.9,839.2 1437.6,835.7 1438.3,834.6 1439.0,833.4 1439.7,829.9 1440.4,828.7 1441.1,824.2 1441.8,825.4 1442.5,822.6 1443.2,826.6 1443.9,820.8 1444.6,828.3 1445.3,822.0 1446.0,823.4 1446.7,821.8 1447.4,826.9 1448.1,824.1 1448.8,827.2 1449.5,822.0 1450.2,820.8 1450.9,814.2 1451.6,806.2 1452.3,805.4 1453.0,802.4 1453.7,812.8 1454.4,816.9 1455.1,820.8 1455.8,826.5 1456.5,828.4 1457.2,823.2 1457.9,825.8 1458.6,821.7 1459.3,812.2 1460.0,810.8 1460.7,808.2 1461.4,810.3 1462.1,793.3 1462.8,810.9 1463.5,812.8 1464.2,808.4 1464.9,819.6 1465.6,817.0 1466.3,821.8 1467.0,816.5 1467.7,818.3 1468.4,814.5 1469.1,805.8 1469.8,806.5 1470.5,803.3 1471.2,805.0 1471.9,805.4 1472.6,803.1 1473.3,803.8 1474.0,808.8 1474.8,814.4 1475.5,807.5 1476.2,816.4 1476.9,809.6 1477.6,811.8 1478.3,813.3 1479.0,806.1 1479.7,807.1 1480.4,799.0 1481.1,803.2 1481.8,799.8 1482.5,790.2 1483.2,801.8 1483.9,795.2 1484.6,798.3 1485.3,803.4 1486.0,797.6 1486.7,802.7 1487.4,800.0 1488.1,802.4 1488.8,800.2 1489.5,799.2 1490.2,801.0 1490.9,793.6 1491.6,802.2 1492.3,798.2 1493.0,798.6 1493.7,803.3 1494.4,803.5 1495.1,797.5 1495.8,804.3 1496.5,793.2 1497.2,789.3 1497.9,798.6 1498.6,799.0 1499.3,798.3 1500.0,787.6 1500.7,790.1 1501.4,781.5 1502.1,782.3 1502.8,785.3 1503.5,780.0 1504.2,781.2 1504.9,787.3 1505.6,789.7 1506.3,789.7 1507.0,783.9 1507.7,781.7 1508.4,783.8 1509.1,784.7 1509.8,782.7 1510.5,784.3 1511.2,785.4 1511.9,786.7 1512.6,788.4 1513.3,784.8 1514.0,784.7 1514.7,783.1 1515.4,778.1 1516.1,780.5 1516.8,781.2 1517.5,780.9 1518.2,772.9 1518.9,777.2 1519.6,774.0 1520.4,779.5 1521.1,779.0 1521.8,784.2 1522.5,785.0 1523.2,790.5 1523.9,792.2 1524.6,785.7 1525.3,786.5 1526.0,775.0 1526.7,771.2 1527.4,767.1 1528.1,755.9 1528.8,749.5 1529.5,761.7 1530.2,755.0 1530.9,766.3 1531.6,768.4 1532.3,768.6 1533.0,769.5 1533.7,779.5 1534.4,773.2 1535.1,769.7 1535.8,775.5 1536.5,771.3 1537.2,767.3 1537.9,756.4 1538.6,754.7 1539.3,763.4 1540.0,762.7 1540.7,760.5 1540.7,774.5 1540.0,774.6 1539.3,778.9 1538.6,774.8 1537.9,781.9 1537.2,777.5 1536.5,784.9 1535.8,791.2 1535.1,788.1 1534.4,794.8 1533.7,792.0 1533.0,786.2 1532.3,790.4 1531.6,782.7 1530.9,781.2 1530.2,775.1 1529.5,771.9 1528.8,771.0 1528.1,773.6 1527.4,780.9 1526.7,786.1 1526.0,792.3 1525.3,797.0 1524.6,804.4 1523.9,812.8 1523.2,808.6 1522.5,804.5 1521.8,795.2 1521.1,797.7 1520.4,790.9 1519.6,797.0 1518.9,788.3 1518.2,791.7 1517.5,797.2 1516.8,795.1 1516.1,796.9 1515.4,792.1 1514.7,795.2 1514.0,801.1 1513.3,798.9 1512.6,806.2 1511.9,798.9 1511.2,807.3 1510.5,798.8 1509.8,795.7 1509.1,802.7 1508.4,800.4 1507.7,802.0 1507.0,803.8 1506.3,803.4 1505.6,801.4 1504.9,806.9 1504.2,795.0 1503.5,796.2 1502.8,802.0 1502.1,800.0 1501.4,807.5 1500.7,801.0 1500.0,812.4 1499.3,809.3 1498.6,811.0 1497.9,816.3 1497.2,823.5 1496.5,817.6 1495.8,825.1 1495.1,819.8 1494.4,821.0 1493.7,820.5 1493.0,812.9 1492.3,816.6 1491.6,810.8 1490.9,817.2 1490.2,811.9 1489.5,815.8 1488.8,810.3 1488.1,814.2 1487.4,814.9 1486.7,818.5 1486.0,818.1 1485.3,815.3 1484.6,819.8 1483.9,818.2 1483.2,813.8 1482.5,812.8 1481.8,811.2 1481.1,819.7 1480.4,821.8 1479.7,817.1 1479.0,825.9 1478.3,824.0 1477.6,836.6 1476.9,827.4 1476.2,827.3 1475.5,827.2 1474.8,830.4 1474.0,828.1 1473.3,833.2 1472.6,820.3 1471.9,816.3 1471.2,826.6 1470.5,820.8 1469.8,826.6 1469.1,826.0 1468.4,832.3 1467.7,840.0 1467.0,829.7 1466.3,834.4 1465.6,836.9 1464.9,829.9 1464.2,833.8 1463.5,825.7 1462.8,827.7 1462.1,828.8 1461.4,821.6 1460.7,825.0 1460.0,826.7 1459.3,833.1 1458.6,835.0 1457.9,840.7 1457.2,845.5 1456.5,837.8 1455.8,840.1 1455.1,834.6 1454.4,835.9 1453.7,827.8 1453.0,824.0 1452.3,832.2 1451.6,824.8 1450.9,830.4 1450.2,835.3 1449.5,839.1 1448.8,842.1 1448.1,840.6 1447.4,837.5 1446.7,837.9 1446.0,836.3 1445.3,845.3 1444.6,843.2 1443.9,836.6 1443.2,838.3 1442.5,835.4 1441.8,838.2 1441.1,838.5 1440.4,844.4 1439.7,842.4 1439.0,852.5 1438.3,847.2 1437.6,853.1 1436.9,847.7 1436.2,852.2 1435.5,858.6 1434.8,857.9 1434.1,855.6 1433.4,859.9 1432.7,857.4 1432.0,855.9 1431.3,854.8 1430.6,856.3 1429.9,848.1 1429.1,855.0 1428.4,852.2 1427.7,856.1 1427.0,853.5 1426.3,852.3 1425.6,854.1 1424.9,859.1 1424.2,854.9 1423.5,856.4 1422.8,861.1 1422.1,855.9 1421.4,851.2 1420.7,861.7 1420.0,847.3 1419.3,843.1 1418.6,839.0 1417.9,836.2 1417.2,840.5 1416.5,843.8 1415.8,841.2 1415.1,843.1 1414.4,846.5 1413.7,850.3 1413.0,858.6 1412.3,857.1 1411.6,876.3 1410.9,863.2 1410.2,858.4 1409.5,853.5 1408.8,853.6 1408.1,849.9 1407.4,844.2 1406.7,841.3 1406.0,839.5 1405.3,848.3 1404.6,849.4 1403.9,844.5 1403.2,847.4 1402.5,847.2 1401.8,842.3 1401.1,842.5 1400.4,837.0 1399.7,835.7 1399.0,829.4 1398.3,831.7 1397.6,837.6 1396.9,830.8 1396.2,836.8 1395.5,848.8 1394.8,840.4 1394.1,849.5 1393.4,847.0 1392.7,845.1 1392.0,845.4 1391.3,842.4 1390.6,843.3 1389.9,850.6 1389.2,851.3 1388.5,854.9 1387.8,863.1 1387.1,865.8 1386.4,867.2 1385.7,889.0 1385.0,875.8 1384.3,884.0 1383.5,884.0 1382.8,890.8 1382.1,892.5 1381.4,896.5 1380.7,898.6 1380.0,899.5 1379.3,899.2 1378.6,900.4 1377.9,907.1 1377.2,906.0 1376.5,904.7 1375.8,904.2 1375.1,900.3 1374.4,900.7 1373.7,907.0 1373.0,898.6 1372.3,899.0 1371.6,900.6 1370.9,895.6 1370.2,891.4 1369.5,890.7 1368.8,896.2 1368.1,900.4 1367.4,895.1 1366.7,904.7 1366.0,903.1 1365.3,892.9 1364.6,891.7 1363.9,887.6 1363.2,881.1 1362.5,866.4 1361.8,856.0 1361.1,853.5 1360.4,848.3 1359.7,834.0 1359.0,830.3 1358.3,825.9 1357.6,816.8 1356.9,829.8 1356.2,812.7 1355.5,807.7 1354.8,811.2 1354.1,811.8 1353.4,797.2 1352.7,793.5 1352.0,799.9 1351.3,784.7 1350.6,783.2 1349.9,789.8 1349.2,785.2 1348.5,792.2 1347.8,800.3 1347.1,802.9 1346.4,802.0 1345.7,808.6 1345.0,810.3 1344.3,816.5 1343.6,815.1 1342.9,808.7 1342.2,816.6 1341.5,812.2 1340.8,822.4 1340.1,826.4 1339.4,824.9 1338.6,829.3 1337.9,838.8 1337.2,843.8 1336.5,845.4 1335.8,847.4 1335.1,854.2 1334.4,849.0 1333.7,853.8 1333.0,856.7 1332.3,875.0 1331.6,867.2 1330.9,873.0" fill="#A8A8A8" fill-opacity="0.8"/>
<path d="M1330.9,868.3 L1331.6,862.8 L1332.3,856.9 L1333.0,851.5 L1333.7,846.8 L1334.4,842.9 L1335.1,840.0 L1335.8,837.7 L1336.5,835.7 L1337.2,833.3 L1337.9,829.8 L1338.6,825.3 L1339.4,820.1 L1340.1,815.2 L1340.8,810.9 L1341.5,807.8 L1342.2,805.8 M1345.0,801.7 L1345.7,799.4 L1346.4,796.8 L1347.1,793.7 L1347.8,790.0 L1348.5,785.7 L1349.2,780.5 L1349.9,774.9 M1350.6,775.4 L1351.3,779.8 L1352.0,784.6 L1352.7,789.2 L1353.4,793.2 L1354.1,796.7 L1354.8,799.6 L1355.5,802.2 L1356.2,804.8 L1356.9,807.8 L1357.6,811.9 L1358.3,817.0 L1359.0,822.9 L1359.7,829.1 L1360.4,835.7 L1361.1,843.0 L1361.8,851.0 L1362.5,859.6 L1363.2,868.2 L1363.9,876.2 L1364.6,883.2 L1365.3,888.8 L1366.0,891.9 M1370.2,887.4 L1370.9,888.9 L1371.6,890.7 L1372.3,892.7 L1373.0,894.3 M1380.0,895.4 L1380.7,892.4 L1381.4,889.4 L1382.1,886.2 L1382.8,882.8 L1383.5,879.5 L1384.3,875.8 L1385.0,871.4 L1385.7,866.9 L1386.4,862.4 L1387.1,857.9 L1387.8,853.4 L1388.5,848.9 L1389.2,844.4 L1389.9,840.1 L1390.6,836.9 M1394.1,836.5 L1394.8,833.9 L1395.5,830.7 L1396.2,827.4 L1396.9,824.9 M1399.0,824.8 L1399.7,827.6 L1400.4,830.9 L1401.1,833.8 L1401.8,836.3 L1402.5,838.1 M1407.4,835.8 L1408.1,839.4 L1408.8,843.6 L1409.5,847.7 L1410.2,851.0 L1410.9,853.2 M1411.6,853.6 L1412.3,851.5 L1413.0,848.1 L1413.7,843.9 L1414.4,839.7 L1415.1,836.0 L1415.8,833.3 L1416.5,831.6 M1417.9,831.8 L1418.6,833.3 L1419.3,835.5 L1420.0,838.6 L1420.7,842.1 L1421.4,845.4 L1422.1,848.1 L1422.8,849.9 M1424.9,848.6 L1425.6,846.4 L1426.3,844.0 L1427.0,842.0 M1429.1,842.6 L1429.9,844.1 L1430.6,846.1 L1431.3,848.4 L1432.0,850.4 M1434.1,850.9 L1434.8,849.2 L1435.5,847.3 L1436.2,845.4 L1436.9,843.7 L1437.6,842.1 L1438.3,840.5 L1439.0,838.6 L1439.7,835.6 L1440.4,832.7 L1441.1,830.6 M1448.8,831.5 L1449.5,829.8 L1450.2,826.8 L1450.9,823.0 L1451.6,820.2 M1453.0,820.0 L1453.7,823.0 L1454.4,826.7 L1455.1,830.1 L1455.8,832.6 M1457.2,832.9 L1457.9,830.5 L1458.6,826.9 L1459.3,823.3 L1460.0,820.1 L1460.7,817.6 M1462.1,816.0 L1462.8,817.6 L1463.5,820.3 L1464.2,823.3 L1464.9,825.7 M1466.3,827.1 L1467.0,825.3 L1467.7,822.5 L1468.4,819.2 L1469.1,816.1 L1469.8,813.4 L1470.5,811.5 M1472.6,812.2 L1473.3,814.0 L1474.0,816.3 L1474.8,818.6 L1475.5,820.4 M1477.6,820.3 L1478.3,817.7 L1479.0,814.8 L1479.7,812.2 L1480.4,809.8 L1481.1,807.8 L1481.8,806.2 M1497.2,808.6 L1497.9,807.0 L1498.6,804.8 L1499.3,802.2 L1500.0,799.5 L1500.7,796.7 L1501.4,794.1 L1502.1,792.1 M1513.3,793.8 L1514.0,791.6 L1514.7,789.6 L1515.4,787.9 M1520.4,784.1 L1521.1,786.3 L1521.8,790.1 L1522.5,793.9 L1523.2,796.7 M1524.6,796.6 L1525.3,792.9 L1526.0,786.9 L1526.7,780.2 L1527.4,773.9 L1528.1,769.2 L1528.8,766.5 M1529.5,766.4 L1530.2,768.2 L1530.9,771.2 L1531.6,775.0 L1532.3,778.9 L1533.0,782.1 L1533.7,783.6 M1535.1,782.5 L1535.8,780.2 L1536.5,777.0 L1537.2,773.4 L1537.9,770.9" fill="none" stroke="#A8A8A8" stroke-width="2.5" stroke-linejoin="round"/>
<path d="M1366.7,891.8 L1367.4,889.1 L1368.1,886.8 M1404.6,837.6 L1405.3,836.0 M1504.9,792.3 L1505.6,793.8" fill="none" stroke="#A8A8A8" stroke-width="1.3" stroke-linejoin="round"/>
<polygon points="1330.9,913.5 1331.6,909.9 1332.3,898.6 1333.0,903.2 1333.7,891.3 1334.4,881.3 1335.1,880.5 1335.8,876.5 1336.5,868.3 1337.2,854.8 1337.9,856.2 1338.6,858.1 1339.4,860.2 1340.1,857.8 1340.8,851.8 1341.5,850.3 1342.2,850.6 1342.9,837.8 1343.6,843.9 1344.3,837.5 1345.0,835.3 1345.7,829.0 1346.4,817.4 1347.1,822.2 1347.8,809.9 1348.5,808.0 1349.2,797.3 1349.9,793.8 1350.6,799.2 1351.3,805.9 1352.0,807.2 1352.7,807.7 1353.4,820.9 1354.1,816.3 1354.8,831.8 1355.5,841.0 1356.2,838.2 1356.9,839.7 1357.6,847.6 1358.3,847.2 1359.0,847.3 1359.7,847.1 1360.4,858.9 1361.1,874.9 1361.8,882.6 1362.5,892.1 1363.2,899.8 1363.9,905.6 1364.6,900.0 1365.3,908.0 1366.0,917.7 1366.7,917.3 1367.4,921.6 1368.1,927.2 1368.8,928.3 1369.5,923.9 1370.2,934.7 1370.9,935.8 1371.6,928.2 1372.3,935.6 1373.0,935.4 1373.7,933.4 1374.4,938.6 1375.1,946.9 1375.8,946.4 1376.5,946.7 1377.2,946.0 1377.9,949.1 1378.6,951.7 1379.3,952.1 1380.0,938.2 1380.7,944.6 1381.4,940.7 1382.1,941.8 1382.8,939.0 1383.5,935.9 1384.3,928.5 1385.0,928.2 1385.7,935.2 1386.4,937.0 1387.1,934.9 1387.8,937.4 1388.5,935.5 1389.2,937.8 1389.9,932.9 1390.6,930.1 1391.3,926.8 1392.0,932.0 1392.7,930.6 1393.4,929.2 1394.1,935.5 1394.8,929.1 1395.5,935.7 1396.2,937.8 1396.9,929.5 1397.6,930.3 1398.3,929.3 1399.0,926.7 1399.7,924.6 1400.4,917.1 1401.1,921.1 1401.8,914.6 1402.5,919.5 1403.2,917.1 1403.9,914.4 1404.6,913.7 1405.3,917.6 1406.0,917.8 1406.7,924.9 1407.4,921.4 1408.1,927.9 1408.8,927.1 1409.5,924.4 1410.2,920.5 1410.9,908.2 1411.6,907.9 1412.3,913.2 1413.0,906.7 1413.7,916.3 1414.4,914.9 1415.1,922.0 1415.8,922.1 1416.5,926.0 1417.2,922.3 1417.9,923.3 1418.6,922.4 1419.3,920.7 1420.0,920.0 1420.7,917.6 1421.4,908.7 1422.1,907.5 1422.8,910.9 1423.5,901.7 1424.2,906.5 1424.9,903.0 1425.6,895.4 1426.3,898.1 1427.0,906.9 1427.7,906.2 1428.4,908.8 1429.1,907.7 1429.9,903.4 1430.6,899.4 1431.3,897.0 1432.0,891.2 1432.7,890.2 1433.4,890.2 1434.1,885.6 1434.8,882.0 1435.5,887.0 1436.2,888.5 1436.9,892.4 1437.6,896.0 1438.3,893.2 1439.0,898.1 1439.7,881.0 1440.4,891.8 1441.1,886.9 1441.8,888.1 1442.5,876.3 1443.2,890.5 1443.9,887.2 1444.6,890.7 1445.3,883.2 1446.0,883.4 1446.7,880.5 1447.4,882.0 1448.1,874.6 1448.8,875.3 1449.5,877.5 1450.2,875.7 1450.9,879.2 1451.6,876.9 1452.3,873.5 1453.0,877.8 1453.7,879.8 1454.4,882.4 1455.1,882.2 1455.8,877.6 1456.5,868.4 1457.2,868.1 1457.9,868.5 1458.6,869.7 1459.3,866.2 1460.0,877.6 1460.7,876.9 1461.4,878.8 1462.1,880.6 1462.8,879.9 1463.5,877.3 1464.2,874.0 1464.9,873.6 1465.6,878.7 1466.3,882.8 1467.0,881.9 1467.7,879.8 1468.4,881.2 1469.1,879.4 1469.8,874.4 1470.5,865.8 1471.2,876.6 1471.9,872.5 1472.6,871.6 1473.3,868.8 1474.0,868.5 1474.8,873.5 1475.5,872.2 1476.2,872.5 1476.9,870.6 1477.6,869.2 1478.3,870.9 1479.0,869.3 1479.7,866.3 1480.4,865.8 1481.1,863.3 1481.8,862.3 1482.5,859.9 1483.2,860.8 1483.9,855.5 1484.6,852.0 1485.3,858.8 1486.0,857.0 1486.7,858.7 1487.4,861.1 1488.1,858.1 1488.8,863.1 1489.5,858.9 1490.2,855.1 1490.9,854.4 1491.6,844.3 1492.3,848.4 1493.0,849.2 1493.7,849.3 1494.4,850.9 1495.1,853.1 1495.8,844.4 1496.5,851.7 1497.2,853.6 1497.9,844.2 1498.6,845.7 1499.3,841.1 1500.0,839.6 1500.7,839.3 1501.4,838.7 1502.1,844.3 1502.8,841.2 1503.5,841.0 1504.2,834.6 1504.9,844.6 1505.6,832.9 1506.3,832.4 1507.0,835.8 1507.7,836.3 1508.4,838.4 1509.1,838.5 1509.8,842.8 1510.5,839.2 1511.2,837.1 1511.9,830.7 1512.6,834.1 1513.3,829.1 1514.0,812.5 1514.7,823.7 1515.4,807.9 1516.1,814.3 1516.8,820.0 1517.5,826.4 1518.2,826.9 1518.9,830.2 1519.6,831.6 1520.4,832.4 1521.1,824.2 1521.8,828.5 1522.5,824.8 1523.2,819.1 1523.9,823.4 1524.6,823.8 1525.3,822.9 1526.0,816.9 1526.7,813.4 1527.4,815.3 1528.1,817.0 1528.8,813.1 1529.5,815.2 1530.2,809.4 1530.9,811.3 1531.6,818.0 1532.3,810.9 1533.0,813.3 1533.7,811.7 1534.4,810.0 1535.1,810.5 1535.8,799.0 1536.5,796.5 1537.2,801.5 1537.9,804.7 1538.6,798.0 1539.3,798.4 1540.0,807.5 1540.7,808.0 1540.7,823.2 1540.0,821.3 1539.3,816.8 1538.6,820.2 1537.9,813.1 1537.2,819.9 1536.5,815.9 1535.8,815.9 1535.1,820.4 1534.4,822.1 1533.7,825.7 1533.0,833.5 1532.3,832.4 1531.6,831.8 1530.9,837.1 1530.2,828.2 1529.5,836.6 1528.8,833.0 1528.1,826.6 1527.4,831.0 1526.7,830.9 1526.0,833.3 1525.3,837.9 1524.6,834.3 1523.9,835.2 1523.2,837.3 1522.5,837.5 1521.8,839.1 1521.1,849.0 1520.4,845.5 1519.6,849.4 1518.9,844.1 1518.2,846.6 1517.5,840.7 1516.8,835.0 1516.1,835.5 1515.4,838.5 1514.7,835.2 1514.0,839.8 1513.3,845.8 1512.6,845.8 1511.9,852.8 1511.2,863.0 1510.5,864.2 1509.8,857.0 1509.1,853.9 1508.4,859.0 1507.7,852.0 1507.0,858.6 1506.3,850.6 1505.6,861.1 1504.9,856.2 1504.2,857.0 1503.5,863.8 1502.8,858.9 1502.1,854.3 1501.4,856.3 1500.7,853.5 1500.0,850.5 1499.3,850.5 1498.6,855.9 1497.9,867.3 1497.2,867.8 1496.5,866.9 1495.8,864.9 1495.1,868.3 1494.4,868.0 1493.7,861.1 1493.0,859.4 1492.3,861.0 1491.6,879.8 1490.9,866.0 1490.2,870.3 1489.5,871.7 1488.8,878.3 1488.1,873.1 1487.4,870.3 1486.7,875.0 1486.0,870.9 1485.3,873.2 1484.6,869.9 1483.9,876.2 1483.2,872.1 1482.5,883.5 1481.8,878.2 1481.1,874.2 1480.4,875.0 1479.7,876.8 1479.0,884.7 1478.3,882.7 1477.6,887.7 1476.9,881.6 1476.2,884.8 1475.5,889.1 1474.8,883.0 1474.0,888.3 1473.3,888.7 1472.6,885.2 1471.9,884.2 1471.2,887.7 1470.5,889.8 1469.8,888.9 1469.1,891.9 1468.4,896.6 1467.7,898.6 1467.0,900.7 1466.3,895.2 1465.6,894.2 1464.9,899.3 1464.2,893.8 1463.5,891.5 1462.8,900.6 1462.1,896.1 1461.4,896.5 1460.7,897.2 1460.0,890.5 1459.3,891.4 1458.6,884.4 1457.9,892.4 1457.2,896.1 1456.5,888.4 1455.8,891.0 1455.1,895.4 1454.4,897.6 1453.7,893.1 1453.0,892.8 1452.3,897.6 1451.6,889.6 1450.9,900.9 1450.2,888.4 1449.5,887.7 1448.8,892.8 1448.1,888.1 1447.4,890.2 1446.7,893.2 1446.0,895.5 1445.3,898.6 1444.6,899.9 1443.9,908.1 1443.2,909.5 1442.5,908.2 1441.8,912.9 1441.1,904.9 1440.4,904.3 1439.7,912.7 1439.0,909.6 1438.3,913.2 1437.6,920.7 1436.9,906.6 1436.2,902.2 1435.5,903.3 1434.8,897.7 1434.1,897.1 1433.4,900.2 1432.7,913.9 1432.0,913.2 1431.3,908.8 1430.6,921.4 1429.9,928.4 1429.1,917.4 1428.4,926.9 1427.7,930.3 1427.0,927.8 1426.3,926.6 1425.6,918.2 1424.9,918.9 1424.2,918.9 1423.5,923.3 1422.8,920.8 1422.1,924.2 1421.4,928.6 1420.7,926.2 1420.0,933.4 1419.3,931.1 1418.6,933.5 1417.9,934.0 1417.2,936.2 1416.5,936.4 1415.8,934.9 1415.1,938.2 1414.4,939.7 1413.7,927.7 1413.0,932.4 1412.3,925.4 1411.6,926.0 1410.9,926.6 1410.2,936.3 1409.5,933.5 1408.8,940.6 1408.1,940.8 1407.4,950.4 1406.7,944.9 1406.0,940.6 1405.3,934.6 1404.6,934.4 1403.9,931.9 1403.2,930.9 1402.5,929.5 1401.8,937.9 1401.1,939.4 1400.4,933.7 1399.7,941.1 1399.0,937.2 1398.3,946.7 1397.6,944.7 1396.9,951.5 1396.2,958.1 1395.5,947.7 1394.8,953.3 1394.1,945.4 1393.4,949.5 1392.7,948.3 1392.0,946.7 1391.3,952.3 1390.6,952.8 1389.9,947.8 1389.2,952.5 1388.5,951.8 1387.8,949.8 1387.1,951.2 1386.4,948.0 1385.7,958.1 1385.0,952.1 1384.3,949.8 1383.5,949.2 1382.8,956.0 1382.1,964.5 1381.4,964.4 1380.7,961.7 1380.0,962.8 1379.3,965.9 1378.6,969.7 1377.9,964.3 1377.2,960.3 1376.5,963.6 1375.8,965.3 1375.1,958.5 1374.4,955.6 1373.7,958.3 1373.0,960.6 1372.3,948.5 1371.6,957.9 1370.9,958.8 1370.2,949.4 1369.5,948.9 1368.8,950.2 1368.1,937.6 1367.4,938.3 1366.7,932.0 1366.0,927.8 1365.3,931.4 1364.6,921.0 1363.9,915.7 1363.2,912.0 1362.5,904.9 1361.8,908.8 1361.1,898.3 1360.4,880.4 1359.7,871.4 1359.0,871.9 1358.3,864.8 1357.6,867.9 1356.9,857.1 1356.2,855.5 1355.5,855.1 1354.8,848.5 1354.1,845.2 1353.4,834.9 1352.7,831.8 1352.0,834.9 1351.3,823.7 1350.6,825.1 1349.9,808.3 1349.2,816.4 1348.5,820.5 1347.8,833.0 1347.1,837.5 1346.4,847.5 1345.7,842.7 1345.0,859.7 1344.3,854.7 1343.6,853.0 1342.9,855.8 1342.2,861.3 1341.5,863.3 1340.8,874.9 1340.1,874.8 1339.4,877.9 1338.6,874.8 1337.9,872.6 1337.2,876.8 1336.5,880.4 1335.8,894.0 1335.1,892.7 1334.4,910.8 1333.7,906.7 1333.0,920.3 1332.3,917.2 1331.6,922.2 1330.9,926.8" fill="#D6AEDD" fill-opacity="0.8"/>
<path d="M1330.9,918.8 L1331.6,915.5 L1332.3,912.1 L1333.0,908.0 L1333.7,902.2 L1334.4,895.2 L1335.1,887.7 L1335.8,880.6 L1336.5,874.6 L1337.2,870.5 L1337.9,868.2 L1338.6,866.7 M1340.1,864.1 L1340.8,862.0 L1341.5,858.7 L1342.2,855.2 L1342.9,851.7 L1343.6,848.5 L1344.3,845.3 L1345.0,841.8 L1345.7,837.5 L1346.4,832.4 L1347.1,826.8 L1347.8,821.0 L1348.5,815.0 L1349.2,809.2 L1349.9,804.2 L1350.6,806.0 L1351.3,812.1 L1352.0,818.6 L1352.7,825.0 L1353.4,830.8 L1354.1,836.4 L1354.8,841.8 L1355.5,846.5 L1356.2,850.0 L1356.9,851.9 L1357.6,853.7 L1358.3,856.1 L1359.0,859.8 L1359.7,865.2 L1360.4,872.7 L1361.1,881.9 L1361.8,891.0 L1362.5,899.0 L1363.2,905.5 L1363.9,910.3 L1364.6,914.0 L1365.3,917.9 L1366.0,922.0 L1366.7,925.5 L1367.4,928.6 L1368.1,932.6 L1368.8,936.7 L1369.5,939.8 L1370.2,942.1 M1373.0,945.1 L1373.7,946.8 L1374.4,949.1 L1375.1,951.4 L1375.8,953.5 M1380.0,958.2 L1380.7,956.4 L1381.4,953.8 L1382.1,950.5 L1382.8,946.7 L1383.5,943.1 L1384.3,940.8 M1389.2,944.4 L1389.9,942.4 L1390.6,940.1 L1391.3,938.3 M1396.2,942.3 L1396.9,940.2 L1397.6,937.6 L1398.3,934.8 L1399.0,932.1 L1399.7,930.0 M1403.9,924.0 L1404.6,925.5 L1405.3,928.1 L1406.0,931.0 L1406.7,933.6 L1407.4,935.6 M1408.1,935.1 L1408.8,932.6 L1409.5,928.7 L1410.2,924.5 L1410.9,920.8 L1411.6,918.9 M1412.3,919.4 L1413.0,921.1 L1413.7,923.5 L1414.4,926.1 L1415.1,928.4 M1419.3,926.6 L1420.0,924.5 L1420.7,922.0 L1421.4,919.4 L1422.1,917.1 L1422.8,915.1 L1423.5,913.1 M1429.1,912.4 L1429.9,910.4 L1430.6,907.4 L1431.3,903.9 L1432.0,900.7 L1432.7,897.5 L1433.4,894.8 L1434.1,893.1 M1434.8,893.2 L1435.5,895.3 L1436.2,898.1 L1436.9,900.9 L1437.6,903.3 M1439.0,903.9 L1439.7,901.8 L1440.4,899.5 L1441.1,897.6 M1445.3,893.6 L1446.0,891.4 L1446.7,888.8 L1447.4,886.2 L1448.1,883.9 M1455.1,886.9 L1455.8,884.8 L1456.5,882.5 L1457.2,880.5 M1489.5,866.2 L1490.2,863.8 L1490.9,860.9 L1491.6,858.0 L1492.3,855.8 M1496.5,860.3 L1497.2,858.0 L1497.9,854.0 L1498.6,849.7 L1499.3,846.2 L1500.0,844.4 M1500.7,844.6 L1501.4,846.7 L1502.1,849.7 L1502.8,851.6 M1504.2,850.9 L1504.9,848.7 L1505.6,846.1 L1506.3,844.0 M1511.2,847.1 L1511.9,844.9 L1512.6,841.4 L1513.3,836.9 L1514.0,832.7 L1514.7,829.7 M1516.1,829.0 L1516.8,830.8 L1517.5,833.2 L1518.2,835.4 L1518.9,836.9 M1533.0,822.0 L1533.7,820.0 L1534.4,817.5 L1535.1,814.6 L1535.8,811.9 L1536.5,809.7 M1538.6,810.4 L1539.3,812.4 L1540.0,814.5 L1540.7,816.2" fill="none" stroke="#D6AEDD" stroke-width="2.5" stroke-linejoin="round"/>
<path d="M1385.7,941.4 L1386.4,942.9 L1387.1,944.5 M1393.4,939.7 L1394.1,941.3 M1459.3,880.3 L1460.0,882.3 L1460.7,884.3 M1469.1,885.1 L1469.8,883.6 M1479.0,874.1 L1479.7,872.5 L1480.4,871.0 M1493.7,854.8 L1494.4,856.9 L1495.1,859.2 M1508.4,843.9 L1509.1,845.5 L1509.8,847.1 M1521.1,835.5 L1521.8,833.8 L1522.5,832.3 M1524.6,828.3 L1525.3,826.8 L1526.0,825.2" fill="none" stroke="#D6AEDD" stroke-width="1.3" stroke-linejoin="round"/>
<polygon points="1330.9,958.6 1331.6,944.0 1332.3,951.4 1333.0,941.4 1333.7,938.2 1334.4,936.7 1335.1,934.5 1335.8,931.4 1336.5,924.2 1337.2,914.2 1337.9,913.1 1338.6,907.5 1339.4,897.9 1340.1,895.6 1340.8,890.9 1341.5,888.5 1342.2,888.1 1342.9,887.5 1343.6,886.9 1344.3,887.8 1345.0,873.8 1345.7,880.8 1346.4,872.3 1347.1,871.4 1347.8,855.7 1348.5,856.9 1349.2,851.5 1349.9,847.7 1350.6,844.8 1351.3,843.3 1352.0,855.1 1352.7,861.8 1353.4,864.1 1354.1,871.3 1354.8,880.4 1355.5,890.1 1356.2,895.5 1356.9,901.8 1357.6,908.5 1358.3,910.2 1359.0,923.6 1359.7,922.9 1360.4,932.9 1361.1,938.5 1361.8,953.4 1362.5,961.2 1363.2,966.2 1363.9,967.0 1364.6,975.8 1365.3,969.2 1366.0,976.3 1366.7,968.3 1367.4,983.0 1368.1,982.2 1368.8,976.0 1369.5,975.2 1370.2,970.8 1370.9,962.7 1371.6,964.1 1372.3,966.4 1373.0,969.4 1373.7,969.1 1374.4,975.6 1375.1,978.4 1375.8,973.4 1376.5,981.7 1377.2,970.1 1377.9,977.6 1378.6,976.2 1379.3,974.2 1380.0,976.8 1380.7,973.1 1381.4,966.6 1382.1,977.5 1382.8,970.8 1383.5,976.9 1384.3,976.9 1385.0,974.7 1385.7,969.3 1386.4,965.0 1387.1,966.1 1387.8,957.1 1388.5,960.0 1389.2,964.8 1389.9,967.5 1390.6,970.1 1391.3,968.7 1392.0,967.4 1392.7,970.5 1393.4,968.9 1394.1,960.8 1394.8,955.6 1395.5,958.4 1396.2,952.3 1396.9,955.7 1397.6,950.3 1398.3,952.8 1399.0,947.5 1399.7,945.1 1400.4,945.5 1401.1,952.1 1401.8,957.3 1402.5,960.2 1403.2,960.7 1403.9,960.7 1404.6,967.1 1405.3,962.1 1406.0,964.1 1406.7,963.7 1407.4,964.6 1408.1,948.6 1408.8,960.5 1409.5,953.7 1410.2,949.9 1410.9,934.8 1411.6,946.7 1412.3,945.7 1413.0,943.5 1413.7,941.4 1414.4,948.2 1415.1,951.6 1415.8,953.4 1416.5,949.9 1417.2,949.2 1417.9,949.0 1418.6,947.5 1419.3,944.4 1420.0,949.6 1420.7,951.5 1421.4,948.9 1422.1,949.0 1422.8,946.5 1423.5,945.4 1424.2,944.8 1424.9,951.8 1425.6,949.6 1426.3,948.0 1427.0,949.1 1427.7,945.2 1428.4,948.0 1429.1,942.3 1429.9,933.5 1430.6,931.5 1431.3,938.4 1432.0,930.8 1432.7,939.8 1433.4,936.3 1434.1,937.4 1434.8,940.6 1435.5,935.4 1436.2,936.3 1436.9,936.1 1437.6,940.2 1438.3,940.0 1439.0,929.3 1439.7,927.0 1440.4,933.0 1441.1,931.3 1441.8,928.3 1442.5,928.2 1443.2,927.1 1443.9,924.2 1444.6,926.4 1445.3,934.5 1446.0,929.4 1446.7,924.8 1447.4,929.3 1448.1,932.6 1448.8,933.3 1449.5,932.1 1450.2,919.9 1450.9,926.2 1451.6,922.6 1452.3,917.4 1453.0,910.9 1453.7,917.6 1454.4,918.2 1455.1,921.1 1455.8,915.5 1456.5,923.2 1457.2,924.7 1457.9,922.7 1458.6,921.5 1459.3,926.2 1460.0,922.2 1460.7,911.9 1461.4,919.7 1462.1,922.7 1462.8,922.8 1463.5,924.2 1464.2,921.1 1464.9,921.5 1465.6,926.7 1466.3,922.3 1467.0,921.4 1467.7,923.3 1468.4,922.7 1469.1,922.6 1469.8,925.4 1470.5,923.1 1471.2,913.1 1471.9,915.1 1472.6,906.3 1473.3,906.6 1474.0,900.2 1474.8,905.6 1475.5,897.6 1476.2,898.6 1476.9,898.6 1477.6,894.0 1478.3,896.7 1479.0,896.2 1479.7,901.8 1480.4,896.8 1481.1,901.8 1481.8,901.1 1482.5,895.3 1483.2,896.8 1483.9,893.4 1484.6,894.4 1485.3,888.6 1486.0,875.5 1486.7,883.4 1487.4,877.3 1488.1,883.3 1488.8,883.9 1489.5,885.2 1490.2,878.4 1490.9,884.8 1491.6,886.0 1492.3,893.7 1493.0,889.6 1493.7,894.5 1494.4,884.9 1495.1,893.0 1495.8,880.9 1496.5,885.2 1497.2,886.4 1497.9,885.5 1498.6,889.8 1499.3,883.6 1500.0,886.8 1500.7,886.9 1501.4,883.5 1502.1,885.6 1502.8,883.1 1503.5,874.7 1504.2,875.4 1504.9,881.7 1505.6,878.9 1506.3,879.1 1507.0,879.4 1507.7,878.8 1508.4,868.3 1509.1,883.5 1509.8,882.4 1510.5,879.8 1511.2,872.3 1511.9,867.1 1512.6,873.2 1513.3,868.0 1514.0,864.6 1514.7,868.3 1515.4,871.7 1516.1,862.7 1516.8,866.2 1517.5,863.9 1518.2,859.7 1518.9,866.9 1519.6,856.8 1520.4,857.1 1521.1,867.1 1521.8,862.4 1522.5,869.3 1523.2,865.0 1523.9,870.5 1524.6,867.3 1525.3,864.5 1526.0,865.7 1526.7,862.1 1527.4,856.3 1528.1,854.1 1528.8,851.1 1529.5,845.9 1530.2,852.5 1530.9,853.4 1531.6,857.5 1532.3,858.0 1533.0,858.6 1533.7,856.0 1534.4,855.2 1535.1,850.3 1535.8,852.0 1536.5,850.5 1537.2,850.3 1537.9,844.0 1538.6,839.9 1539.3,854.1 1540.0,845.6 1540.7,847.4 1540.7,865.4 1540.0,867.3 1539.3,870.2 1538.6,863.3 1537.9,864.8 1537.2,877.2 1536.5,862.2 1535.8,866.9 1535.1,863.1 1534.4,871.4 1533.7,869.5 1533.0,874.0 1532.3,871.0 1531.6,880.2 1530.9,872.3 1530.2,871.6 1529.5,873.7 1528.8,868.0 1528.1,871.6 1527.4,870.3 1526.7,878.0 1526.0,884.9 1525.3,880.5 1524.6,882.9 1523.9,885.6 1523.2,882.9 1522.5,886.2 1521.8,881.9 1521.1,881.3 1520.4,876.7 1519.6,877.3 1518.9,884.3 1518.2,889.3 1517.5,888.1 1516.8,879.4 1516.1,888.9 1515.4,888.2 1514.7,883.8 1514.0,884.0 1513.3,882.1 1512.6,887.8 1511.9,892.3 1511.2,892.2 1510.5,893.5 1509.8,896.5 1509.1,894.8 1508.4,895.2 1507.7,893.7 1507.0,895.4 1506.3,897.5 1505.6,898.6 1504.9,893.0 1504.2,892.3 1503.5,895.4 1502.8,892.0 1502.1,894.4 1501.4,904.1 1500.7,898.2 1500.0,902.4 1499.3,900.1 1498.6,906.4 1497.9,906.5 1497.2,901.7 1496.5,902.4 1495.8,902.3 1495.1,904.4 1494.4,907.1 1493.7,908.9 1493.0,914.8 1492.3,904.0 1491.6,910.4 1490.9,904.6 1490.2,896.7 1489.5,901.9 1488.8,894.7 1488.1,894.8 1487.4,898.7 1486.7,899.7 1486.0,903.9 1485.3,904.5 1484.6,902.9 1483.9,908.8 1483.2,913.1 1482.5,911.8 1481.8,912.2 1481.1,915.1 1480.4,918.9 1479.7,913.5 1479.0,910.5 1478.3,917.9 1477.6,912.5 1476.9,911.2 1476.2,915.2 1475.5,921.6 1474.8,924.9 1474.0,926.4 1473.3,923.2 1472.6,924.6 1471.9,930.7 1471.2,936.5 1470.5,933.1 1469.8,934.9 1469.1,937.7 1468.4,937.8 1467.7,933.2 1467.0,942.9 1466.3,935.5 1465.6,937.1 1464.9,939.0 1464.2,941.6 1463.5,949.3 1462.8,943.4 1462.1,941.7 1461.4,939.3 1460.7,935.5 1460.0,935.9 1459.3,940.8 1458.6,939.4 1457.9,948.9 1457.2,940.2 1456.5,940.5 1455.8,936.9 1455.1,940.4 1454.4,934.1 1453.7,929.9 1453.0,937.3 1452.3,931.2 1451.6,938.2 1450.9,941.7 1450.2,941.7 1449.5,944.7 1448.8,947.9 1448.1,945.7 1447.4,952.0 1446.7,945.6 1446.0,946.1 1445.3,949.3 1444.6,948.2 1443.9,939.8 1443.2,939.1 1442.5,943.9 1441.8,944.5 1441.1,944.4 1440.4,947.2 1439.7,945.2 1439.0,955.0 1438.3,951.4 1437.6,951.3 1436.9,951.9 1436.2,952.2 1435.5,954.0 1434.8,951.8 1434.1,956.8 1433.4,958.2 1432.7,962.4 1432.0,951.5 1431.3,951.8 1430.6,955.5 1429.9,954.5 1429.1,955.2 1428.4,956.9 1427.7,968.0 1427.0,962.1 1426.3,962.6 1425.6,963.7 1424.9,964.9 1424.2,961.3 1423.5,959.2 1422.8,965.5 1422.1,959.8 1421.4,960.8 1420.7,962.8 1420.0,962.2 1419.3,967.9 1418.6,962.6 1417.9,968.9 1417.2,962.9 1416.5,967.4 1415.8,967.7 1415.1,963.8 1414.4,963.6 1413.7,960.2 1413.0,966.5 1412.3,961.8 1411.6,957.7 1410.9,958.5 1410.2,964.2 1409.5,975.7 1408.8,976.8 1408.1,977.1 1407.4,977.1 1406.7,979.7 1406.0,978.0 1405.3,981.5 1404.6,976.5 1403.9,977.8 1403.2,978.1 1402.5,979.8 1401.8,969.1 1401.1,968.0 1400.4,966.7 1399.7,970.1 1399.0,967.0 1398.3,963.2 1397.6,971.9 1396.9,966.7 1396.2,975.0 1395.5,971.0 1394.8,976.8 1394.1,976.2 1393.4,977.3 1392.7,982.8 1392.0,983.9 1391.3,995.8 1390.6,982.6 1389.9,982.0 1389.2,977.9 1388.5,976.5 1387.8,984.9 1387.1,979.0 1386.4,980.3 1385.7,980.4 1385.0,985.7 1384.3,986.8 1383.5,988.3 1382.8,986.4 1382.1,987.5 1381.4,988.4 1380.7,987.4 1380.0,996.0 1379.3,997.6 1378.6,994.5 1377.9,994.3 1377.2,990.4 1376.5,994.1 1375.8,990.0 1375.1,998.5 1374.4,984.7 1373.7,983.7 1373.0,982.9 1372.3,978.4 1371.6,978.3 1370.9,984.2 1370.2,987.4 1369.5,991.8 1368.8,994.3 1368.1,999.7 1367.4,991.5 1366.7,997.8 1366.0,991.3 1365.3,987.7 1364.6,992.6 1363.9,992.0 1363.2,991.4 1362.5,975.6 1361.8,965.0 1361.1,960.4 1360.4,953.6 1359.7,947.3 1359.0,947.4 1358.3,935.8 1357.6,921.1 1356.9,913.2 1356.2,909.8 1355.5,901.3 1354.8,895.4 1354.1,889.9 1353.4,886.5 1352.7,886.2 1352.0,869.5 1351.3,870.8 1350.6,873.4 1349.9,871.6 1349.2,868.3 1348.5,875.6 1347.8,874.8 1347.1,880.3 1346.4,889.4 1345.7,893.7 1345.0,900.8 1344.3,898.1 1343.6,899.5 1342.9,903.7 1342.2,900.1 1341.5,911.0 1340.8,904.7 1340.1,909.0 1339.4,915.0 1338.6,927.4 1337.9,930.9 1337.2,931.1 1336.5,939.4 1335.8,949.7 1335.1,951.4 1334.4,955.6 1333.7,955.3 1333.0,973.1 1332.3,965.8 1331.6,967.6 1330.9,974.8" fill="#D2D2AA" fill-opacity="0.8"/>
<path d="M1330.9,965.3 L1331.6,961.0 L1332.3,957.3 L1333.0,954.2 L1333.7,950.6 L1334.4,946.6 L1335.1,942.1 L1335.8,937.0 L1336.5,931.1 L1337.2,924.5 L1337.9,918.1 L1338.6,912.6 L1339.4,907.9 L1340.1,904.1 L1340.8,900.7 L1341.5,897.8 L1342.2,896.0 M1344.3,892.1 L1345.0,889.8 L1345.7,886.3 L1346.4,881.6 L1347.1,876.0 L1347.8,869.9 L1348.5,864.2 L1349.2,860.3 L1349.9,857.9 L1350.6,856.4 L1351.3,858.3 L1352.0,865.2 L1352.7,873.1 L1353.4,879.2 L1354.1,884.4 L1354.8,889.4 L1355.5,894.6 L1356.2,900.6 L1356.9,907.4 L1357.6,914.5 L1358.3,921.8 L1359.0,929.3 L1359.7,937.0 L1360.4,944.7 L1361.1,952.1 L1361.8,959.4 L1362.5,966.6 L1363.2,973.9 L1363.9,980.3 L1364.6,981.9 M1368.1,987.0 L1368.8,985.0 L1369.5,981.9 L1370.2,978.4 L1370.9,975.1 L1371.6,972.8 M1372.3,972.3 L1373.0,974.2 L1373.7,977.2 L1374.4,980.3 L1375.1,983.0 L1375.8,985.0 M1384.3,981.2 L1385.0,978.7 L1385.7,975.6 L1386.4,972.7 L1387.1,970.6 M1388.5,969.9 L1389.2,971.5 L1389.9,973.8 L1390.6,976.1 L1391.3,977.6 M1392.0,977.5 L1392.7,975.5 L1393.4,973.0 L1394.1,970.6 L1394.8,968.4 L1395.5,966.4 L1396.2,964.6 L1396.9,962.7 L1397.6,960.6 L1398.3,958.6 L1399.0,956.9 M1400.4,957.8 L1401.1,960.5 L1401.8,963.6 L1402.5,966.6 L1403.2,968.8 L1403.9,970.4 M1407.4,972.4 L1408.1,970.9 L1408.8,967.5 L1409.5,962.8 L1410.2,957.7 L1410.9,953.6 L1411.6,951.7 M1412.3,952.2 L1413.0,953.9 L1413.7,956.1 L1414.4,958.0 M1427.0,957.8 L1427.7,955.6 L1428.4,952.4 L1429.1,948.9 L1429.9,946.0 M1438.3,945.2 L1439.0,943.6 L1439.7,940.9 L1440.4,938.4 L1441.1,936.4 M1448.1,940.8 L1448.8,939.2 L1449.5,936.7 L1450.2,933.7 L1450.9,930.4 L1451.6,927.3 L1452.3,924.8 M1454.4,925.0 L1455.1,927.4 L1455.8,930.1 L1456.5,932.6 L1457.2,934.3 M1464.9,934.3 L1465.6,932.3 L1466.3,929.7 L1467.0,928.1 M1469.8,929.7 L1470.5,927.6 L1471.2,924.2 L1471.9,920.5 L1472.6,916.9 L1473.3,913.9 L1474.0,911.8 M1481.8,907.0 L1482.5,905.0 L1483.2,903.0 L1483.9,900.9 L1484.6,898.8 L1485.3,896.8 L1486.0,894.6 L1486.7,892.3 L1487.4,890.2 M1489.5,889.5 L1490.2,891.8 L1490.9,894.5 L1491.6,896.9 L1492.3,898.7 M1500.0,895.2 L1500.7,893.6 L1501.4,891.7 L1502.1,889.7 L1502.8,888.1 M1509.8,886.5 L1510.5,884.5 L1511.2,882.1 L1511.9,879.6 L1512.6,877.4 M1524.6,877.5 L1525.3,875.7 L1526.0,871.9 L1526.7,867.4 L1527.4,863.5 L1528.1,861.0" fill="none" stroke="#D2D2AA" stroke-width="2.5" stroke-linejoin="round"/>
<path d="M1366.0,984.0 L1366.7,985.7 M1444.6,937.0 L1445.3,938.8 L1446.0,940.4 M1458.6,934.0 L1459.3,932.0 L1460.0,930.2 M1461.4,929.9 L1462.1,931.5 L1462.8,933.5 M1474.8,910.4 L1475.5,908.8 L1476.2,907.2 M1521.8,873.1 L1522.5,874.8 L1523.2,876.5 M1533.0,862.9 L1533.7,861.1 M1540.0,859.6 L1540.7,861.1" fill="none" stroke="#D2D2AA" stroke-width="1.3" stroke-linejoin="round"/>
<polygon points="1330.9,1028.8 1331.6,1015.9 1332.3,995.3 1333.0,992.5 1333.7,994.1 1334.4,989.5 1335.1,988.1 1335.8,981.0 1336.5,976.6 1337.2,971.7 1337.9,965.7 1338.6,958.0 1339.4,963.4 1340.1,953.2 1340.8,942.9 1341.5,948.6 1342.2,944.7 1342.9,946.2 1343.6,940.8 1344.3,932.1 1345.0,929.6 1345.7,924.6 1346.4,918.4 1347.1,906.9 1347.8,905.7 1348.5,890.0 1349.2,899.8 1349.9,887.1 1350.6,888.9 1351.3,881.5 1352.0,883.8 1352.7,883.6 1353.4,887.0 1354.1,894.5 1354.8,905.0 1355.5,908.0 1356.2,923.1 1356.9,929.4 1357.6,936.8 1358.3,949.2 1359.0,960.1 1359.7,970.0 1360.4,975.6 1361.1,976.8 1361.8,985.5 1362.5,1005.6 1363.2,1014.4 1363.9,1014.2 1364.6,1017.7 1365.3,1017.8 1366.0,1013.4 1366.7,1016.2 1367.4,1017.6 1368.1,1019.9 1368.8,1017.3 1369.5,1021.7 1370.2,1022.9 1370.9,1028.4 1371.6,1030.4 1372.3,1023.8 1373.0,1034.4 1373.7,1029.0 1374.4,1036.9 1375.1,1035.9 1375.8,1040.6 1376.5,1036.6 1377.2,1041.3 1377.9,1034.7 1378.6,1029.1 1379.3,1041.7 1380.0,1037.6 1380.7,1030.2 1381.4,1040.8 1382.1,1030.6 1382.8,1019.1 1383.5,1021.8 1384.3,1010.3 1385.0,1009.2 1385.7,1001.1 1386.4,998.2 1387.1,991.6 1387.8,983.4 1388.5,974.7 1389.2,969.4 1389.9,952.2 1390.6,952.8 1391.3,957.3 1392.0,958.6 1392.7,961.5 1393.4,955.0 1394.1,959.3 1394.8,973.2 1395.5,979.0 1396.2,980.5 1396.9,976.4 1397.6,986.2 1398.3,984.6 1399.0,985.4 1399.7,980.5 1400.4,977.8 1401.1,988.5 1401.8,987.2 1402.5,992.3 1403.2,991.9 1403.9,995.9 1404.6,992.0 1405.3,988.6 1406.0,994.3 1406.7,990.9 1407.4,977.0 1408.1,971.9 1408.8,974.3 1409.5,962.3 1410.2,967.2 1410.9,964.4 1411.6,965.9 1412.3,961.5 1413.0,959.8 1413.7,959.1 1414.4,961.0 1415.1,962.8 1415.8,962.7 1416.5,958.2 1417.2,962.1 1417.9,954.4 1418.6,964.3 1419.3,963.4 1420.0,959.5 1420.7,961.7 1421.4,958.2 1422.1,953.7 1422.8,949.7 1423.5,948.0 1424.2,948.3 1424.9,946.0 1425.6,947.4 1426.3,947.4 1427.0,946.9 1427.7,945.2 1428.4,942.0 1429.1,941.3 1429.9,936.5 1430.6,937.3 1431.3,931.7 1432.0,920.9 1432.7,926.3 1433.4,923.4 1434.1,921.8 1434.8,916.5 1435.5,924.6 1436.2,929.9 1436.9,931.1 1437.6,930.7 1438.3,927.0 1439.0,933.4 1439.7,927.8 1440.4,933.1 1441.1,938.7 1441.8,939.3 1442.5,938.3 1443.2,941.0 1443.9,940.4 1444.6,928.7 1445.3,924.1 1446.0,933.8 1446.7,930.5 1447.4,930.6 1448.1,931.5 1448.8,929.0 1449.5,926.8 1450.2,926.9 1450.9,924.4 1451.6,924.8 1452.3,917.8 1453.0,919.2 1453.7,923.3 1454.4,919.6 1455.1,917.1 1455.8,926.1 1456.5,919.9 1457.2,921.0 1457.9,914.7 1458.6,912.1 1459.3,906.8 1460.0,901.5 1460.7,906.4 1461.4,903.2 1462.1,896.6 1462.8,890.8 1463.5,893.3 1464.2,894.9 1464.9,893.4 1465.6,882.2 1466.3,888.4 1467.0,888.3 1467.7,890.9 1468.4,879.1 1469.1,875.7 1469.8,882.0 1470.5,878.8 1471.2,879.7 1471.9,885.4 1472.6,874.0 1473.3,889.3 1474.0,888.1 1474.8,895.2 1475.5,892.5 1476.2,902.5 1476.9,901.2 1477.6,902.0 1478.3,898.2 1479.0,891.6 1479.7,898.9 1480.4,899.1 1481.1,900.9 1481.8,908.1 1482.5,908.2 1483.2,914.3 1483.9,916.8 1484.6,918.7 1485.3,909.8 1486.0,915.0 1486.7,910.7 1487.4,907.6 1488.1,900.3 1488.8,899.8 1489.5,892.8 1490.2,890.1 1490.9,889.5 1491.6,890.6 1492.3,884.9 1493.0,892.0 1493.7,890.3 1494.4,888.3 1495.1,886.6 1495.8,885.5 1496.5,881.2 1497.2,880.8 1497.9,867.5 1498.6,870.0 1499.3,864.6 1500.0,867.3 1500.7,868.5 1501.4,855.7 1502.1,857.7 1502.8,866.8 1503.5,867.8 1504.2,869.1 1504.9,867.4 1505.6,860.5 1506.3,858.3 1507.0,857.5 1507.7,853.3 1508.4,854.5 1509.1,850.3 1509.8,849.9 1510.5,846.2 1511.2,847.8 1511.9,844.3 1512.6,846.4 1513.3,839.4 1514.0,844.0 1514.7,842.2 1515.4,835.8 1516.1,838.7 1516.8,843.9 1517.5,848.0 1518.2,845.4 1518.9,847.4 1519.6,850.0 1520.4,844.7 1521.1,834.7 1521.8,843.9 1522.5,842.7 1523.2,831.0 1523.9,838.9 1524.6,840.6 1525.3,838.4 1526.0,837.6 1526.7,831.5 1527.4,828.3 1528.1,831.5 1528.8,833.7 1529.5,834.4 1530.2,835.7 1530.9,834.2 1531.6,832.1 1532.3,830.0 1533.0,838.4 1533.7,839.6 1534.4,837.0 1535.1,839.3 1535.8,843.4 1536.5,846.8 1537.2,837.5 1537.9,847.3 1538.6,848.0 1539.3,840.0 1540.0,842.2 1540.7,839.9 1540.7,856.6 1540.0,857.8 1539.3,858.8 1538.6,859.6 1537.9,861.1 1537.2,859.9 1536.5,859.0 1535.8,863.0 1535.1,854.6 1534.4,855.3 1533.7,857.7 1533.0,856.1 1532.3,851.3 1531.6,850.6 1530.9,849.8 1530.2,850.3 1529.5,847.7 1528.8,842.8 1528.1,852.2 1527.4,845.8 1526.7,848.5 1526.0,846.8 1525.3,849.5 1524.6,855.3 1523.9,854.8 1523.2,856.7 1522.5,859.4 1521.8,857.0 1521.1,863.2 1520.4,862.3 1519.6,858.1 1518.9,859.1 1518.2,859.2 1517.5,865.5 1516.8,858.1 1516.1,860.0 1515.4,854.4 1514.7,869.6 1514.0,857.0 1513.3,859.8 1512.6,859.7 1511.9,864.5 1511.2,859.2 1510.5,876.5 1509.8,867.1 1509.1,863.0 1508.4,869.4 1507.7,866.3 1507.0,885.1 1506.3,872.7 1505.6,878.4 1504.9,879.8 1504.2,890.3 1503.5,889.5 1502.8,878.9 1502.1,878.0 1501.4,878.3 1500.7,880.7 1500.0,882.8 1499.3,885.5 1498.6,888.3 1497.9,889.2 1497.2,893.2 1496.5,893.5 1495.8,897.4 1495.1,895.5 1494.4,898.8 1493.7,902.3 1493.0,905.2 1492.3,904.9 1491.6,900.6 1490.9,909.1 1490.2,901.7 1489.5,906.1 1488.8,910.0 1488.1,912.5 1487.4,924.9 1486.7,921.9 1486.0,932.1 1485.3,927.3 1484.6,934.9 1483.9,934.1 1483.2,924.9 1482.5,926.7 1481.8,921.0 1481.1,924.3 1480.4,928.5 1479.7,918.6 1479.0,915.7 1478.3,911.0 1477.6,918.3 1476.9,912.2 1476.2,916.7 1475.5,915.3 1474.8,908.7 1474.0,910.0 1473.3,903.2 1472.6,902.3 1471.9,894.3 1471.2,892.8 1470.5,893.9 1469.8,898.7 1469.1,900.8 1468.4,899.2 1467.7,910.1 1467.0,908.3 1466.3,907.2 1465.6,907.7 1464.9,909.4 1464.2,911.9 1463.5,906.2 1462.8,913.4 1462.1,909.0 1461.4,914.9 1460.7,917.5 1460.0,928.7 1459.3,926.6 1458.6,932.4 1457.9,929.2 1457.2,933.3 1456.5,935.0 1455.8,941.0 1455.1,936.9 1454.4,935.2 1453.7,944.3 1453.0,938.3 1452.3,934.8 1451.6,940.3 1450.9,942.6 1450.2,938.0 1449.5,947.0 1448.8,941.8 1448.1,947.1 1447.4,942.4 1446.7,954.0 1446.0,949.5 1445.3,949.2 1444.6,950.9 1443.9,950.1 1443.2,959.7 1442.5,955.9 1441.8,956.0 1441.1,952.3 1440.4,952.1 1439.7,952.8 1439.0,943.7 1438.3,942.7 1437.6,947.5 1436.9,946.9 1436.2,943.7 1435.5,951.1 1434.8,935.0 1434.1,944.6 1433.4,936.0 1432.7,945.8 1432.0,944.3 1431.3,953.6 1430.6,955.8 1429.9,950.4 1429.1,955.2 1428.4,956.1 1427.7,955.8 1427.0,959.2 1426.3,961.4 1425.6,967.3 1424.9,963.6 1424.2,963.4 1423.5,960.5 1422.8,972.8 1422.1,971.9 1421.4,976.0 1420.7,973.7 1420.0,974.8 1419.3,981.3 1418.6,982.9 1417.9,975.0 1417.2,983.1 1416.5,981.3 1415.8,978.0 1415.1,981.5 1414.4,975.3 1413.7,971.9 1413.0,981.5 1412.3,978.2 1411.6,986.7 1410.9,979.8 1410.2,982.9 1409.5,982.4 1408.8,992.5 1408.1,992.0 1407.4,1000.5 1406.7,1008.5 1406.0,1011.6 1405.3,1017.1 1404.6,1013.6 1403.9,1007.4 1403.2,1008.1 1402.5,1000.3 1401.8,1002.2 1401.1,998.6 1400.4,1003.6 1399.7,1000.0 1399.0,1001.3 1398.3,997.5 1397.6,997.8 1396.9,1007.4 1396.2,1000.7 1395.5,990.0 1394.8,990.7 1394.1,982.3 1393.4,984.0 1392.7,973.2 1392.0,969.2 1391.3,965.8 1390.6,967.9 1389.9,978.0 1389.2,988.7 1388.5,994.3 1387.8,995.3 1387.1,1002.4 1386.4,1015.5 1385.7,1017.8 1385.0,1020.1 1384.3,1027.3 1383.5,1035.1 1382.8,1048.7 1382.1,1048.8 1381.4,1051.1 1380.7,1062.5 1380.0,1055.3 1379.3,1062.4 1378.6,1053.2 1377.9,1051.6 1377.2,1051.4 1376.5,1053.3 1375.8,1053.0 1375.1,1049.8 1374.4,1053.3 1373.7,1047.8 1373.0,1046.4 1372.3,1043.1 1371.6,1052.0 1370.9,1039.8 1370.2,1038.4 1369.5,1033.1 1368.8,1034.4 1368.1,1031.5 1367.4,1036.7 1366.7,1032.2 1366.0,1033.4 1365.3,1028.3 1364.6,1027.3 1363.9,1028.8 1363.2,1029.1 1362.5,1021.2 1361.8,1012.0 1361.1,1001.5 1360.4,998.5 1359.7,983.9 1359.0,978.1 1358.3,964.0 1357.6,955.7 1356.9,949.5 1356.2,937.7 1355.5,927.7 1354.8,923.7 1354.1,911.3 1353.4,907.7 1352.7,897.6 1352.0,905.5 1351.3,907.8 1350.6,906.7 1349.9,909.2 1349.2,917.7 1348.5,915.0 1347.8,922.3 1347.1,925.7 1346.4,930.1 1345.7,941.5 1345.0,942.5 1344.3,947.5 1343.6,951.2 1342.9,958.4 1342.2,961.0 1341.5,966.3 1340.8,968.6 1340.1,981.3 1339.4,978.2 1338.6,983.3 1337.9,984.2 1337.2,990.4 1336.5,989.9 1335.8,997.9 1335.1,1001.7 1334.4,1004.6 1333.7,1010.8 1333.0,1015.3 1332.3,1024.6 1331.6,1027.3 1330.9,1046.1" fill="#F00000"/>
<path d="M1330.9,1034.5 L1331.6,1021.2 L1332.3,1010.7 L1333.0,1006.2 L1333.7,1001.9 L1334.4,997.8 L1335.1,993.8 L1335.8,989.7 L1336.5,985.1 L1337.2,980.3 L1337.9,976.2 L1338.6,972.3 L1339.4,968.6 L1340.1,964.9 L1340.8,961.5 L1341.5,958.2 L1342.2,954.7 L1342.9,950.8 L1343.6,946.3 L1344.3,941.2 L1345.0,935.4 L1345.7,929.5 L1346.4,923.9 L1347.1,918.7 L1347.8,913.8 L1348.5,909.3 L1349.2,905.6 L1349.9,902.3 L1350.6,898.7 L1351.3,894.5 L1352.0,890.7 M1352.7,891.8 L1353.4,899.0 L1354.1,906.0 L1354.8,912.8 L1355.5,919.9 L1356.2,927.7 L1356.9,937.0 L1357.6,947.2 L1358.3,957.6 L1359.0,968.2 L1359.7,978.6 L1360.4,988.4 L1361.1,997.0 L1361.8,1005.2 L1362.5,1013.4 L1363.2,1019.3 M1368.1,1024.0 L1368.8,1025.7 L1369.5,1028.1 L1370.2,1030.9 L1370.9,1033.7 L1371.6,1036.1 L1372.3,1037.8 M1373.7,1040.2 L1374.4,1041.8 L1375.1,1043.6 L1375.8,1045.2 M1380.0,1047.7 L1380.7,1049.4 L1381.4,1046.6 L1382.1,1041.4 L1382.8,1035.1 L1383.5,1028.7 L1384.3,1022.2 L1385.0,1015.7 L1385.7,1009.4 L1386.4,1003.0 L1387.1,996.5 L1387.8,989.6 L1388.5,982.4 L1389.2,975.1 L1389.9,967.9 L1390.6,962.7 M1391.3,961.4 L1392.0,963.9 L1392.7,967.1 L1393.4,970.8 L1394.1,975.0 L1394.8,979.2 L1395.5,983.4 L1396.2,986.9 L1396.9,989.6 L1397.6,991.4 M1401.8,994.4 L1402.5,996.4 L1403.2,999.4 L1403.9,1002.9 L1404.6,1005.8 L1405.3,1007.6 L1406.0,1005.6 L1406.7,999.2 L1407.4,992.3 L1408.1,985.9 L1408.8,981.0 L1409.5,977.8 L1410.2,975.8 M1410.9,974.4 L1411.6,972.4 L1412.3,969.3 L1413.0,966.4 M1420.0,970.6 L1420.7,968.8 L1421.4,965.2 L1422.1,961.2 L1422.8,958.1 L1423.5,955.8 L1424.2,954.3 M1429.1,947.3 L1429.9,945.7 L1430.6,943.8 L1431.3,940.9 L1432.0,936.8 L1432.7,932.1 L1433.4,928.6 M1434.1,927.8 L1434.8,929.5 L1435.5,932.2 L1436.2,934.6 L1436.9,936.2 M1439.0,938.5 L1439.7,940.4 L1440.4,943.1 L1441.1,946.2 L1441.8,948.8 M1442.5,949.5 L1443.2,947.7 L1443.9,945.2 L1444.6,942.7 L1445.3,940.8 M1449.5,934.5 L1450.2,932.8 L1450.9,930.6 L1451.6,929.0 M1456.5,929.0 L1457.2,926.9 L1457.9,924.4 L1458.6,921.8 L1459.3,919.1 L1460.0,915.9 L1460.7,912.2 L1461.4,908.3 L1462.1,905.0 L1462.8,902.8 M1466.3,900.0 L1467.0,898.4 L1467.7,896.4 L1468.4,894.2 L1469.1,892.1 L1469.8,890.4 M1471.9,889.8 L1472.6,892.6 L1473.3,896.6 L1474.0,900.7 L1474.8,904.0 L1475.5,905.9 M1480.4,908.7 L1481.1,910.8 L1481.8,913.2 L1482.5,915.5 L1483.2,918.2 L1483.9,921.1 L1484.6,922.9 M1485.3,922.5 L1486.0,920.1 L1486.7,916.6 L1487.4,912.5 L1488.1,908.0 L1488.8,903.7 L1489.5,900.0 L1490.2,897.6 M1493.7,894.8 L1494.4,892.8 L1495.1,891.1 L1495.8,889.5 L1496.5,887.8 L1497.2,885.8 L1497.9,883.4 L1498.6,880.8 L1499.3,878.0 L1500.0,875.3 L1500.7,873.1 M1504.9,872.3 L1505.6,870.8 L1506.3,868.2 L1507.0,864.8 L1507.7,861.3 L1508.4,858.4 L1509.1,856.9 M1523.9,848.4 L1524.6,846.8 L1525.3,844.4 L1526.0,841.7 L1526.7,839.4 L1527.4,837.9 M1528.8,838.1 L1529.5,840.3 L1530.2,842.7 L1530.9,844.6 M1534.4,848.8 L1535.1,850.4 L1535.8,852.3 L1536.5,854.4 L1537.2,855.9 M1538.6,854.6 L1539.3,851.9 L1540.0,848.2 L1540.7,843.8" fill="none" stroke="#F00000" stroke-width="2.5" stroke-linejoin="round"/>
<path d="M1363.9,1020.5 L1364.6,1022.1" fill="none" stroke="#F00000" stroke-width="1.3" stroke-linejoin="round"/>
</g>
<line x1="1332" y1="740.6" x2="1332" y2="1082.5" stroke="#555" stroke-width="1.3" stroke-linecap="butt"/>
<line x1="1332" y1="1082.5" x2="1545.5" y2="1082.5" stroke="#555" stroke-width="1.3" stroke-linecap="butt"/>
<path d="M1332,1082.5L1332,1078.5 M1332,740.6L1332,744.6 M1438.8,1082.5L1438.8,1078.5 M1438.8,740.6L1438.8,744.6 M1545.5,1082.5L1545.5,1078.5 M1545.5,740.6L1545.5,744.6 M1385.4,1082.5L1385.4,1080 M1385.4,740.6L1385.4,743.1 M1492.1,1082.5L1492.1,1080 M1492.1,740.6L1492.1,743.1 M1332,1033.7L1336,1033.7 M1545.5,1033.7L1541.5,1033.7 M1332,870.8L1336,870.8 M1545.5,870.8L1541.5,870.8 M1332,952.3L1334.5,952.3 M1545.5,952.3L1543,952.3 M1332,789.4L1334.5,789.4 M1545.5,789.4L1543,789.4" stroke="#444" stroke-width="1.0" fill="none"/>
<text x="1292.72" y="1039.86" font-family="'Liberation Sans', Arial, sans-serif" font-weight="normal" font-style="normal" font-size="21" fill="#000" stroke="#000" stroke-width="0.5">-0.3</text>
<text x="1292.93" y="877.05" font-family="'Liberation Sans', Arial, sans-serif" font-weight="normal" font-style="normal" font-size="21" fill="#000" stroke="#000" stroke-width="0.5">-0.2</text>
<text x="1317.75" y="1102.90" font-family="'Liberation Sans', Arial, sans-serif" font-weight="normal" font-style="normal" font-size="20.5" fill="#000" stroke="#000" stroke-width="0.5">0.3</text>
<text x="1424.40" y="1102.90" font-family="'Liberation Sans', Arial, sans-serif" font-weight="normal" font-style="normal" font-size="20.5" fill="#000" stroke="#000" stroke-width="0.5">0.4</text>
<text x="1531.25" y="1102.90" font-family="'Liberation Sans', Arial, sans-serif" font-weight="normal" font-style="normal" font-size="20.5" fill="#000" stroke="#000" stroke-width="0.5">0.5</text>
<text transform="matrix(0 -0.21618 0.18930 0 1283.72 977.81)" font-family="'Liberation Sans', Arial, sans-serif" font-weight="normal" font-style="normal" font-size="100" fill="#000" stroke="#000" stroke-width="2.466">Voltage [V]</text>
<text transform="matrix(0.21425 0 0 0.18182 1395.57 1134.18)" font-family="'Liberation Sans', Arial, sans-serif" font-weight="normal" font-style="normal" font-size="100" fill="#000" stroke="#000" stroke-width="2.525">Time [<tspan font-family="'Liberation Serif', serif">µ</tspan>s]</text>
</svg>
</body></html>
